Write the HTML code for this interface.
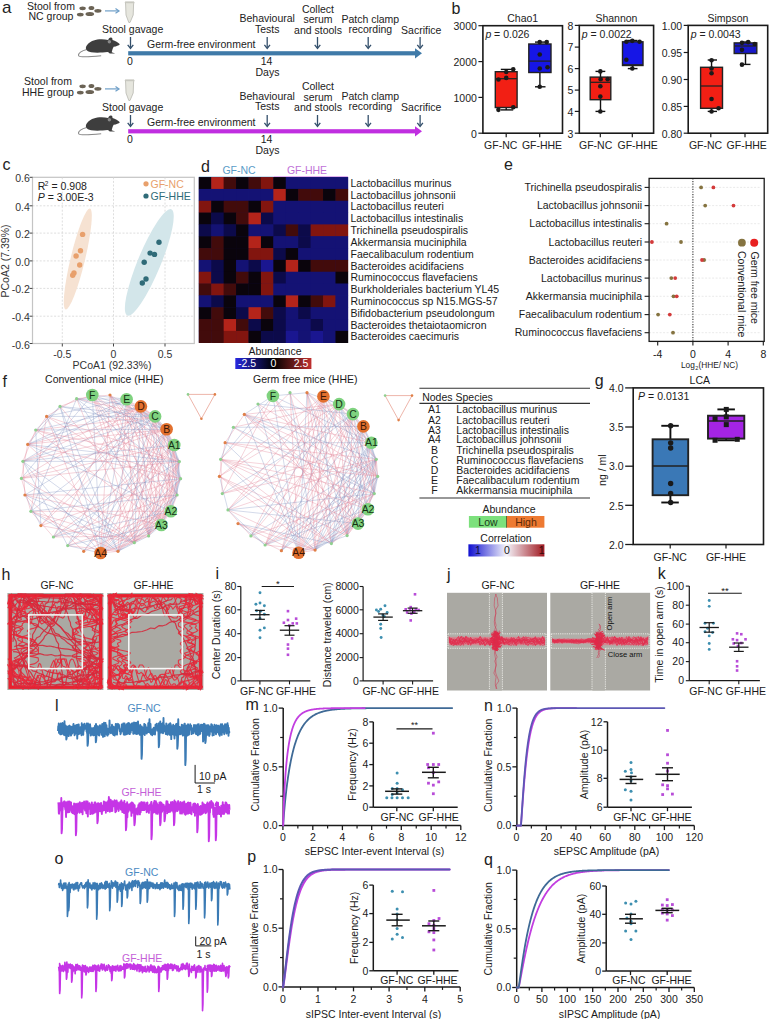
<!DOCTYPE html>
<html><head><meta charset="utf-8"><style>
html,body{margin:0;padding:0;background:#fff;width:770px;height:1019px;overflow:hidden}
svg{display:block}
text{font-family:"Liberation Sans", sans-serif;white-space:pre}
</style></head><body>
<svg width="770" height="1019" viewBox="0 0 770 1019">
<rect width="770" height="1019" fill="#fff"/>
<text x="2.00" y="13.00" font-size="17" text-anchor="start" fill="#222" >a</text><text x="51.00" y="9.50" font-size="10.5" text-anchor="middle" fill="#222" >Stool from</text><text x="51.00" y="20.00" font-size="10.5" text-anchor="middle" fill="#222" >NC group</text><ellipse cx="82.60" cy="8.30" rx="3.2" ry="1.9" fill="#6b6355"/><ellipse cx="91.40" cy="8.00" rx="2.9" ry="2.0" fill="#6b6355"/><ellipse cx="97.90" cy="10.80" rx="3.6" ry="1.9" fill="#6b6355"/><ellipse cx="80.30" cy="14.60" rx="3.4" ry="1.9" fill="#6b6355"/><ellipse cx="89.80" cy="14.10" rx="4.3" ry="2.0" fill="#6b6355"/><line x1="105.00" y1="10.90" x2="118.00" y2="10.90" stroke="#6f9fc8" stroke-width="1.2" /><path d="M 115.5,8.6 L 119,10.9 L 115.5,13.2" fill="none" stroke="#6f9fc8" stroke-width="1.2" /><g transform="translate(0,0)"><path d="M 125.2,2 L 134,2 L 133.6,4 L 133.2,15 L 130,22.5 L 128.8,22.5 L 126,15 L 125.6,4 Z" fill="#e6e6de" stroke="#b8b8b0" stroke-width="0.8" /><line x1="125.00" y1="2.50" x2="134.20" y2="2.50" stroke="#c8c8c0" stroke-width="1.5" /></g><text x="102.00" y="33.00" font-size="10.5" text-anchor="start" fill="#222" >Stool gavage</text><g transform="translate(70,30) scale(0.07794)"><path d="M 215,250 C 150,265 100,300 110,330 C 125,355 250,345 400,330" fill="none" stroke="#8a8a8a" stroke-width="14" /><path d="M 205,245 C 195,200 250,140 350,122 C 400,114 450,118 490,128 C 495,105 515,92 535,100 C 548,108 545,122 545,128 C 580,140 620,160 640,182 C 625,200 595,208 560,215 C 545,240 540,270 535,285 L 580,300 L 510,302 C 500,290 495,285 480,282 C 420,290 330,295 270,285 C 240,280 215,270 205,245 Z" fill="#3e3e3e" stroke="none" stroke-width="1" /><circle cx="505.00" cy="150.00" r="22.00" fill="#8a8a8a" /></g><line x1="130.50" y1="37.00" x2="130.50" y2="47.50" stroke="#34506c" stroke-width="1.3" /><path d="M 127.70,44.90 L 130.50,48.50 L 133.30,44.90" fill="none" stroke="#34506c" stroke-width="1.3" stroke-linejoin="miter"/><text x="147.00" y="47.50" font-size="10.5" text-anchor="start" fill="#222" >Germ-free environment</text><rect x="128.20" y="51.20" width="288.00" height="4.20" fill="#3f7aa8" stroke="none" stroke-width="1" /><path d="M 415,48.2 L 422,53.3 L 415,58.4 Z" fill="#3f7aa8" stroke="none" stroke-width="1" /><text x="127.00" y="65.00" font-size="10.5" text-anchor="start" fill="#222" >0</text><text x="266.50" y="65.00" font-size="10.5" text-anchor="middle" fill="#222" >14</text><text x="267.50" y="75.50" font-size="10.5" text-anchor="middle" fill="#222" >Days</text><text x="267.20" y="22.30" font-size="10.5" text-anchor="middle" fill="#222" >Behavioural</text><text x="267.20" y="32.80" font-size="10.5" text-anchor="middle" fill="#222" >Tests</text><text x="318.00" y="12.80" font-size="10.5" text-anchor="middle" fill="#222" >Collect</text><text x="318.00" y="23.30" font-size="10.5" text-anchor="middle" fill="#222" >serum</text><text x="318.00" y="33.80" font-size="10.5" text-anchor="middle" fill="#222" >and stools</text><text x="370.30" y="22.60" font-size="10.5" text-anchor="middle" fill="#222" >Patch clamp</text><text x="370.30" y="33.10" font-size="10.5" text-anchor="middle" fill="#222" >recording</text><text x="421.20" y="33.80" font-size="10.5" text-anchor="middle" fill="#222" >Sacrifice</text><line x1="267.20" y1="37.00" x2="267.20" y2="47.50" stroke="#34506c" stroke-width="1.3" /><path d="M 264.40,44.90 L 267.20,48.50 L 270.00,44.90" fill="none" stroke="#34506c" stroke-width="1.3" stroke-linejoin="miter"/><line x1="317.50" y1="37.00" x2="317.50" y2="47.50" stroke="#34506c" stroke-width="1.3" /><path d="M 314.70,44.90 L 317.50,48.50 L 320.30,44.90" fill="none" stroke="#34506c" stroke-width="1.3" stroke-linejoin="miter"/><line x1="368.20" y1="37.00" x2="368.20" y2="47.50" stroke="#34506c" stroke-width="1.3" /><path d="M 365.40,44.90 L 368.20,48.50 L 371.00,44.90" fill="none" stroke="#34506c" stroke-width="1.3" stroke-linejoin="miter"/><line x1="420.10" y1="37.00" x2="420.10" y2="47.50" stroke="#34506c" stroke-width="1.3" /><path d="M 417.30,44.90 L 420.10,48.50 L 422.90,44.90" fill="none" stroke="#34506c" stroke-width="1.3" stroke-linejoin="miter"/><text x="48.00" y="85.10" font-size="10.5" text-anchor="middle" fill="#222" >Stool from</text><text x="48.00" y="96.30" font-size="10.5" text-anchor="middle" fill="#222" >HHE group</text><ellipse cx="82.60" cy="86.30" rx="3.2" ry="1.9" fill="#6b6355"/><ellipse cx="91.40" cy="86.00" rx="2.9" ry="2.0" fill="#6b6355"/><ellipse cx="97.90" cy="88.80" rx="3.6" ry="1.9" fill="#6b6355"/><ellipse cx="80.30" cy="92.60" rx="3.4" ry="1.9" fill="#6b6355"/><ellipse cx="89.80" cy="92.10" rx="4.3" ry="2.0" fill="#6b6355"/><line x1="105.00" y1="88.90" x2="118.00" y2="88.90" stroke="#6f9fc8" stroke-width="1.2" /><path d="M 115.5,86.6 L 119,88.9 L 115.5,91.2" fill="none" stroke="#6f9fc8" stroke-width="1.2" /><g transform="translate(0,78)"><path d="M 125.2,2 L 134,2 L 133.6,4 L 133.2,15 L 130,22.5 L 128.8,22.5 L 126,15 L 125.6,4 Z" fill="#e6e6de" stroke="#b8b8b0" stroke-width="0.8" /><line x1="125.00" y1="2.50" x2="134.20" y2="2.50" stroke="#c8c8c0" stroke-width="1.5" /></g><text x="102.00" y="111.00" font-size="10.5" text-anchor="start" fill="#222" >Stool gavage</text><g transform="translate(70,108) scale(0.07794)"><path d="M 215,250 C 150,265 100,300 110,330 C 125,355 250,345 400,330" fill="none" stroke="#8a8a8a" stroke-width="14" /><path d="M 205,245 C 195,200 250,140 350,122 C 400,114 450,118 490,128 C 495,105 515,92 535,100 C 548,108 545,122 545,128 C 580,140 620,160 640,182 C 625,200 595,208 560,215 C 545,240 540,270 535,285 L 580,300 L 510,302 C 500,290 495,285 480,282 C 420,290 330,295 270,285 C 240,280 215,270 205,245 Z" fill="#3e3e3e" stroke="none" stroke-width="1" /><circle cx="505.00" cy="150.00" r="22.00" fill="#8a8a8a" /></g><line x1="130.50" y1="115.00" x2="130.50" y2="125.50" stroke="#34506c" stroke-width="1.3" /><path d="M 127.70,122.90 L 130.50,126.50 L 133.30,122.90" fill="none" stroke="#34506c" stroke-width="1.3" stroke-linejoin="miter"/><text x="147.00" y="125.50" font-size="10.5" text-anchor="start" fill="#222" >Germ-free environment</text><rect x="128.20" y="129.20" width="288.00" height="4.20" fill="#c02ee0" stroke="none" stroke-width="1" /><path d="M 415,126.2 L 422,131.3 L 415,136.4 Z" fill="#c02ee0" stroke="none" stroke-width="1" /><text x="127.00" y="143.00" font-size="10.5" text-anchor="start" fill="#222" >0</text><text x="266.50" y="143.00" font-size="10.5" text-anchor="middle" fill="#222" >14</text><text x="267.50" y="153.50" font-size="10.5" text-anchor="middle" fill="#222" >Days</text><text x="267.20" y="99.50" font-size="10.5" text-anchor="middle" fill="#222" >Behavioural</text><text x="267.20" y="110.00" font-size="10.5" text-anchor="middle" fill="#222" >Tests</text><text x="318.00" y="90.00" font-size="10.5" text-anchor="middle" fill="#222" >Collect</text><text x="318.00" y="100.50" font-size="10.5" text-anchor="middle" fill="#222" >serum</text><text x="318.00" y="111.00" font-size="10.5" text-anchor="middle" fill="#222" >and stools</text><text x="370.30" y="99.80" font-size="10.5" text-anchor="middle" fill="#222" >Patch clamp</text><text x="370.30" y="110.30" font-size="10.5" text-anchor="middle" fill="#222" >recording</text><text x="421.20" y="111.00" font-size="10.5" text-anchor="middle" fill="#222" >Sacrifice</text><line x1="267.20" y1="115.00" x2="267.20" y2="125.50" stroke="#34506c" stroke-width="1.3" /><path d="M 264.40,122.90 L 267.20,126.50 L 270.00,122.90" fill="none" stroke="#34506c" stroke-width="1.3" stroke-linejoin="miter"/><line x1="317.50" y1="115.00" x2="317.50" y2="125.50" stroke="#34506c" stroke-width="1.3" /><path d="M 314.70,122.90 L 317.50,126.50 L 320.30,122.90" fill="none" stroke="#34506c" stroke-width="1.3" stroke-linejoin="miter"/><line x1="368.20" y1="115.00" x2="368.20" y2="125.50" stroke="#34506c" stroke-width="1.3" /><path d="M 365.40,122.90 L 368.20,126.50 L 371.00,122.90" fill="none" stroke="#34506c" stroke-width="1.3" stroke-linejoin="miter"/><line x1="420.10" y1="115.00" x2="420.10" y2="125.50" stroke="#34506c" stroke-width="1.3" /><path d="M 417.30,122.90 L 420.10,126.50 L 422.90,122.90" fill="none" stroke="#34506c" stroke-width="1.3" stroke-linejoin="miter"/>
<text x="451.50" y="14.00" font-size="16" text-anchor="start" fill="#222" >b</text><rect x="482.90" y="25.70" width="79.60" height="107.50" fill="none" stroke="#1a1a1a" stroke-width="1.6" /><line x1="478.40" y1="25.70" x2="482.90" y2="25.70" stroke="#1a1a1a" stroke-width="1.2" /><text x="476.90" y="30.00" font-size="10.5" text-anchor="end" fill="#222" >3000</text><line x1="478.40" y1="61.60" x2="482.90" y2="61.60" stroke="#1a1a1a" stroke-width="1.2" /><text x="476.90" y="65.90" font-size="10.5" text-anchor="end" fill="#222" >2000</text><line x1="478.40" y1="97.40" x2="482.90" y2="97.40" stroke="#1a1a1a" stroke-width="1.2" /><text x="476.90" y="101.70" font-size="10.5" text-anchor="end" fill="#222" >1000</text><line x1="478.40" y1="133.20" x2="482.90" y2="133.20" stroke="#1a1a1a" stroke-width="1.2" /><text x="476.90" y="137.50" font-size="10.5" text-anchor="end" fill="#222" >0</text><line x1="506.20" y1="133.20" x2="506.20" y2="137.20" stroke="#1a1a1a" stroke-width="1.2" /><line x1="539.70" y1="133.20" x2="539.70" y2="137.20" stroke="#1a1a1a" stroke-width="1.2" /><text x="500.70" y="148.80" font-size="10.5" text-anchor="middle" fill="#222" >GF-NC</text><text x="542.00" y="148.80" font-size="10.5" text-anchor="middle" fill="#222" >GF-HHE</text><text x="522.70" y="22.00" font-size="10.5" text-anchor="middle" fill="#222" >Chao1</text><text x="485.40" y="38.00" font-size="10.5" text-anchor="start" fill="#222" font-style="italic">p</text><text x="491.20" y="38.00" font-size="10.5" text-anchor="start" fill="#222" > = 0.026</text><line x1="506.20" y1="69.40" x2="506.20" y2="71.70" stroke="#111" stroke-width="1.4" /><line x1="506.20" y1="107.50" x2="506.20" y2="109.90" stroke="#111" stroke-width="1.4" /><line x1="500.80" y1="69.40" x2="513.20" y2="69.40" stroke="#111" stroke-width="1.4" /><line x1="500.80" y1="109.90" x2="513.20" y2="109.90" stroke="#111" stroke-width="1.4" /><rect x="495.30" y="71.70" width="21.80" height="35.80" fill="#f21f14" stroke="#222" stroke-width="1.4" /><line x1="495.30" y1="78.70" x2="517.10" y2="78.70" stroke="#222" stroke-width="1.26" /><circle cx="498.44" cy="79.48" r="2.30" fill="#1a1a1a" /><circle cx="506.23" cy="77.92" r="2.30" fill="#1a1a1a" /><circle cx="506.23" cy="72.00" r="2.30" fill="#1a1a1a" /><circle cx="513.25" cy="69.35" r="2.30" fill="#1a1a1a" /><circle cx="513.25" cy="107.22" r="2.30" fill="#1a1a1a" /><circle cx="498.44" cy="109.87" r="2.30" fill="#1a1a1a" /><line x1="539.90" y1="42.10" x2="539.90" y2="44.00" stroke="#111" stroke-width="1.4" /><line x1="539.90" y1="72.50" x2="539.90" y2="86.80" stroke="#111" stroke-width="1.4" /><line x1="535.00" y1="42.10" x2="545.50" y2="42.10" stroke="#111" stroke-width="1.4" /><line x1="535.00" y1="86.80" x2="545.50" y2="86.80" stroke="#111" stroke-width="1.4" /><rect x="528.80" y="44.00" width="22.20" height="28.50" fill="#1616e6" stroke="#222" stroke-width="1.4" /><line x1="528.80" y1="61.10" x2="551.00" y2="61.10" stroke="#222" stroke-width="1.26" /><circle cx="539.74" cy="42.08" r="2.30" fill="#1a1a1a" /><circle cx="546.75" cy="42.08" r="2.30" fill="#1a1a1a" /><circle cx="539.74" cy="54.55" r="2.30" fill="#1a1a1a" /><circle cx="539.74" cy="68.57" r="2.30" fill="#1a1a1a" /><circle cx="547.53" cy="67.32" r="2.30" fill="#1a1a1a" /><circle cx="539.74" cy="86.80" r="2.30" fill="#1a1a1a" /><rect x="579.30" y="25.40" width="74.30" height="107.80" fill="none" stroke="#1a1a1a" stroke-width="1.6" /><line x1="574.80" y1="25.40" x2="579.30" y2="25.40" stroke="#1a1a1a" stroke-width="1.2" /><text x="573.30" y="29.70" font-size="10.5" text-anchor="end" fill="#222" >8</text><line x1="574.80" y1="47.10" x2="579.30" y2="47.10" stroke="#1a1a1a" stroke-width="1.2" /><text x="573.30" y="51.40" font-size="10.5" text-anchor="end" fill="#222" >7</text><line x1="574.80" y1="68.60" x2="579.30" y2="68.60" stroke="#1a1a1a" stroke-width="1.2" /><text x="573.30" y="72.90" font-size="10.5" text-anchor="end" fill="#222" >6</text><line x1="574.80" y1="90.10" x2="579.30" y2="90.10" stroke="#1a1a1a" stroke-width="1.2" /><text x="573.30" y="94.40" font-size="10.5" text-anchor="end" fill="#222" >5</text><line x1="574.80" y1="111.40" x2="579.30" y2="111.40" stroke="#1a1a1a" stroke-width="1.2" /><text x="573.30" y="115.70" font-size="10.5" text-anchor="end" fill="#222" >4</text><line x1="574.80" y1="133.20" x2="579.30" y2="133.20" stroke="#1a1a1a" stroke-width="1.2" /><text x="573.30" y="137.50" font-size="10.5" text-anchor="end" fill="#222" >3</text><line x1="600.30" y1="133.20" x2="600.30" y2="137.20" stroke="#1a1a1a" stroke-width="1.2" /><line x1="632.30" y1="133.20" x2="632.30" y2="137.20" stroke="#1a1a1a" stroke-width="1.2" /><text x="595.60" y="148.80" font-size="10.5" text-anchor="middle" fill="#222" >GF-NC</text><text x="637.60" y="148.80" font-size="10.5" text-anchor="middle" fill="#222" >GF-HHE</text><text x="616.45" y="22.00" font-size="10.5" text-anchor="middle" fill="#222" >Shannon</text><text x="581.80" y="38.00" font-size="10.5" text-anchor="start" fill="#222" font-style="italic">p</text><text x="587.60" y="38.00" font-size="10.5" text-anchor="start" fill="#222" > = 0.0022</text><line x1="600.50" y1="71.40" x2="600.50" y2="77.10" stroke="#111" stroke-width="1.4" /><line x1="600.50" y1="99.70" x2="600.50" y2="111.40" stroke="#111" stroke-width="1.4" /><line x1="595.50" y1="71.40" x2="605.30" y2="71.40" stroke="#111" stroke-width="1.4" /><line x1="595.50" y1="111.40" x2="605.30" y2="111.40" stroke="#111" stroke-width="1.4" /><rect x="590.20" y="77.10" width="20.60" height="22.60" fill="#f21f14" stroke="#222" stroke-width="1.4" /><line x1="590.20" y1="82.30" x2="610.80" y2="82.30" stroke="#222" stroke-width="1.26" /><circle cx="600.34" cy="71.38" r="2.30" fill="#1a1a1a" /><circle cx="600.65" cy="79.17" r="2.30" fill="#1a1a1a" /><circle cx="607.66" cy="79.17" r="2.30" fill="#1a1a1a" /><circle cx="600.34" cy="86.18" r="2.30" fill="#1a1a1a" /><circle cx="600.34" cy="96.62" r="2.30" fill="#1a1a1a" /><circle cx="600.34" cy="111.43" r="2.30" fill="#1a1a1a" /><line x1="632.75" y1="40.50" x2="632.75" y2="41.80" stroke="#111" stroke-width="1.4" /><line x1="632.75" y1="65.50" x2="632.75" y2="68.60" stroke="#111" stroke-width="1.4" /><line x1="627.80" y1="40.50" x2="637.50" y2="40.50" stroke="#111" stroke-width="1.4" /><line x1="627.80" y1="68.60" x2="637.50" y2="68.60" stroke="#111" stroke-width="1.4" /><rect x="622.50" y="41.80" width="20.50" height="23.70" fill="#1616e6" stroke="#222" stroke-width="1.4" /><line x1="622.50" y1="64.80" x2="643.00" y2="64.80" stroke="#222" stroke-width="1.26" /><circle cx="626.36" cy="41.77" r="2.30" fill="#1a1a1a" /><circle cx="632.29" cy="40.83" r="2.30" fill="#1a1a1a" /><circle cx="626.36" cy="59.69" r="2.30" fill="#1a1a1a" /><circle cx="632.29" cy="68.57" r="2.30" fill="#1a1a1a" /><circle cx="639.61" cy="41.77" r="2.30" fill="#1a1a1a" /><rect x="688.20" y="25.40" width="79.50" height="107.80" fill="none" stroke="#1a1a1a" stroke-width="1.6" /><line x1="683.70" y1="25.40" x2="688.20" y2="25.40" stroke="#1a1a1a" stroke-width="1.2" /><text x="682.20" y="29.70" font-size="10.5" text-anchor="end" fill="#222" >1.00</text><line x1="683.70" y1="52.50" x2="688.20" y2="52.50" stroke="#1a1a1a" stroke-width="1.2" /><text x="682.20" y="56.80" font-size="10.5" text-anchor="end" fill="#222" >0.95</text><line x1="683.70" y1="79.50" x2="688.20" y2="79.50" stroke="#1a1a1a" stroke-width="1.2" /><text x="682.20" y="83.80" font-size="10.5" text-anchor="end" fill="#222" >0.90</text><line x1="683.70" y1="106.40" x2="688.20" y2="106.40" stroke="#1a1a1a" stroke-width="1.2" /><text x="682.20" y="110.70" font-size="10.5" text-anchor="end" fill="#222" >0.85</text><line x1="683.70" y1="133.20" x2="688.20" y2="133.20" stroke="#1a1a1a" stroke-width="1.2" /><text x="682.20" y="137.50" font-size="10.5" text-anchor="end" fill="#222" >0.80</text><line x1="710.80" y1="133.20" x2="710.80" y2="137.20" stroke="#1a1a1a" stroke-width="1.2" /><line x1="745.00" y1="133.20" x2="745.00" y2="137.20" stroke="#1a1a1a" stroke-width="1.2" /><text x="705.50" y="148.80" font-size="10.5" text-anchor="middle" fill="#222" >GF-NC</text><text x="746.70" y="148.80" font-size="10.5" text-anchor="middle" fill="#222" >GF-HHE</text><text x="727.95" y="22.00" font-size="10.5" text-anchor="middle" fill="#222" >Simpson</text><text x="690.70" y="38.00" font-size="10.5" text-anchor="start" fill="#222" font-style="italic">p</text><text x="696.50" y="38.00" font-size="10.5" text-anchor="start" fill="#222" > = 0.0043</text><line x1="711.55" y1="60.00" x2="711.55" y2="67.30" stroke="#111" stroke-width="1.4" /><line x1="711.55" y1="108.30" x2="711.55" y2="111.40" stroke="#111" stroke-width="1.4" /><line x1="707.70" y1="60.00" x2="717.00" y2="60.00" stroke="#111" stroke-width="1.4" /><line x1="707.70" y1="111.40" x2="717.00" y2="111.40" stroke="#111" stroke-width="1.4" /><rect x="700.60" y="67.30" width="21.90" height="41.00" fill="#f21f14" stroke="#222" stroke-width="1.4" /><line x1="700.60" y1="86.00" x2="722.50" y2="86.00" stroke="#222" stroke-width="1.26" /><circle cx="711.56" cy="60.31" r="2.30" fill="#1a1a1a" /><circle cx="711.56" cy="68.57" r="2.30" fill="#1a1a1a" /><circle cx="711.56" cy="73.25" r="2.30" fill="#1a1a1a" /><circle cx="711.56" cy="98.96" r="2.30" fill="#1a1a1a" /><circle cx="718.57" cy="108.31" r="2.30" fill="#1a1a1a" /><circle cx="711.56" cy="111.43" r="2.30" fill="#1a1a1a" /><line x1="745.50" y1="42.00" x2="745.50" y2="42.90" stroke="#111" stroke-width="1.4" /><line x1="745.50" y1="53.50" x2="745.50" y2="64.40" stroke="#111" stroke-width="1.4" /><line x1="742.00" y1="42.00" x2="750.50" y2="42.00" stroke="#111" stroke-width="1.4" /><line x1="742.00" y1="64.40" x2="750.50" y2="64.40" stroke="#111" stroke-width="1.4" /><rect x="734.20" y="42.90" width="22.60" height="10.60" fill="#1818c8" stroke="#222" stroke-width="1.4" /><line x1="734.20" y1="46.00" x2="756.80" y2="46.00" stroke="#222" stroke-width="1.26" /><circle cx="741.95" cy="64.67" r="2.30" fill="#1a1a1a" /><circle cx="741.95" cy="49.87" r="2.30" fill="#1a1a1a" /><circle cx="748.18" cy="42.08" r="2.30" fill="#1a1a1a" /><circle cx="741.95" cy="42.86" r="2.30" fill="#1a1a1a" /><circle cx="754.73" cy="43.95" r="2.30" fill="#1a1a1a" />
<text x="2.50" y="169.50" font-size="16" text-anchor="start" fill="#222" >c</text><rect x="32.50" y="177.30" width="161.80" height="166.20" fill="#fff" stroke="#c4c4c4" stroke-width="1.2" /><line x1="32.50" y1="205.80" x2="194.30" y2="205.80" stroke="#d6d6d6" stroke-width="0.8" stroke-dasharray="2,1.6"/><line x1="32.50" y1="233.10" x2="194.30" y2="233.10" stroke="#d6d6d6" stroke-width="0.8" stroke-dasharray="2,1.6"/><line x1="32.50" y1="260.90" x2="194.30" y2="260.90" stroke="#d6d6d6" stroke-width="0.8" stroke-dasharray="2,1.6"/><line x1="32.50" y1="288.40" x2="194.30" y2="288.40" stroke="#d6d6d6" stroke-width="0.8" stroke-dasharray="2,1.6"/><line x1="32.50" y1="316.20" x2="194.30" y2="316.20" stroke="#d6d6d6" stroke-width="0.8" stroke-dasharray="2,1.6"/><line x1="62.30" y1="177.30" x2="62.30" y2="343.50" stroke="#d6d6d6" stroke-width="0.8" stroke-dasharray="2,1.6"/><line x1="113.50" y1="177.30" x2="113.50" y2="343.50" stroke="#d6d6d6" stroke-width="0.8" stroke-dasharray="2,1.6"/><line x1="165.00" y1="177.30" x2="165.00" y2="343.50" stroke="#d6d6d6" stroke-width="0.8" stroke-dasharray="2,1.6"/><line x1="29.50" y1="177.30" x2="32.50" y2="177.30" stroke="#444" stroke-width="1" /><text x="29.80" y="182.30" font-size="10.5" text-anchor="end" fill="#333" >0.6</text><line x1="29.50" y1="205.80" x2="32.50" y2="205.80" stroke="#444" stroke-width="1" /><text x="29.80" y="210.80" font-size="10.5" text-anchor="end" fill="#333" >0.4</text><line x1="29.50" y1="233.10" x2="32.50" y2="233.10" stroke="#444" stroke-width="1" /><text x="29.80" y="238.10" font-size="10.5" text-anchor="end" fill="#333" >0.2</text><line x1="29.50" y1="260.90" x2="32.50" y2="260.90" stroke="#444" stroke-width="1" /><text x="29.80" y="265.90" font-size="10.5" text-anchor="end" fill="#333" >0.0</text><line x1="29.50" y1="288.40" x2="32.50" y2="288.40" stroke="#444" stroke-width="1" /><text x="29.80" y="293.40" font-size="10.5" text-anchor="end" fill="#333" >-0.2</text><line x1="29.50" y1="316.20" x2="32.50" y2="316.20" stroke="#444" stroke-width="1" /><text x="29.80" y="321.20" font-size="10.5" text-anchor="end" fill="#333" >-0.4</text><line x1="29.50" y1="343.50" x2="32.50" y2="343.50" stroke="#444" stroke-width="1" /><text x="29.80" y="348.50" font-size="10.5" text-anchor="end" fill="#333" >-0.6</text><line x1="62.30" y1="343.50" x2="62.30" y2="346.50" stroke="#444" stroke-width="1" /><text x="62.30" y="357.50" font-size="10.5" text-anchor="middle" fill="#333" >-0.5</text><line x1="113.50" y1="343.50" x2="113.50" y2="346.50" stroke="#444" stroke-width="1" /><text x="113.50" y="357.50" font-size="10.5" text-anchor="middle" fill="#333" >0</text><line x1="165.00" y1="343.50" x2="165.00" y2="346.50" stroke="#444" stroke-width="1" /><text x="165.00" y="357.50" font-size="10.5" text-anchor="middle" fill="#333" >0.5</text><text x="112.00" y="369.00" font-size="10.5" text-anchor="middle" fill="#333" >PCoA1 (92.33%)</text><text transform="translate(9.00,261.00) rotate(-90)" font-size="10.5" text-anchor="middle" fill="#333">PCoA2 (7.39%)</text><ellipse cx="77.8" cy="259" rx="52" ry="7.2" transform="rotate(-76.5 77.8 259)" fill="#f6e2d2"/><ellipse cx="149.3" cy="262.4" rx="57.5" ry="11.5" transform="rotate(-67.5 149.3 262.4)" fill="#d3e6ea"/><circle cx="82.60" cy="234.40" r="2.70" fill="#e8a06c" /><circle cx="80.50" cy="250.80" r="2.70" fill="#e8a06c" /><circle cx="76.10" cy="256.00" r="2.70" fill="#e8a06c" /><circle cx="79.70" cy="265.00" r="2.70" fill="#e8a06c" /><circle cx="74.00" cy="272.90" r="2.70" fill="#e8a06c" /><circle cx="72.70" cy="275.20" r="2.70" fill="#e8a06c" /><circle cx="159.00" cy="242.20" r="2.70" fill="#2f6b78" /><circle cx="150.10" cy="253.10" r="2.70" fill="#2f6b78" /><circle cx="154.50" cy="254.40" r="2.70" fill="#2f6b78" /><circle cx="144.20" cy="262.20" r="2.70" fill="#2f6b78" /><circle cx="146.00" cy="279.00" r="2.70" fill="#2f6b78" /><circle cx="142.30" cy="283.00" r="2.70" fill="#2f6b78" /><text x="37.70" y="190.00" font-size="10.5" text-anchor="start" fill="#222" >R</text><text x="44.80" y="185.50" font-size="6.5" text-anchor="start" fill="#222" >2</text><text x="48.60" y="190.00" font-size="10.5" text-anchor="start" fill="#222" > = 0.908</text><text x="37.70" y="200.50" font-size="10.5" text-anchor="start" fill="#222" font-style="italic">P</text><text x="44.80" y="200.50" font-size="10.5" text-anchor="start" fill="#222" > = 3.00E-3</text><circle cx="146.00" cy="183.80" r="2.60" fill="#e8a06c" /><text x="150.50" y="187.80" font-size="10.5" text-anchor="start" fill="#e8a06c" >GF-NC</text><circle cx="146.00" cy="196.00" r="2.60" fill="#2f6b78" /><text x="150.50" y="200.00" font-size="10.5" text-anchor="start" fill="#2f6b78" >GF-HHE</text>
<text x="201.00" y="171.50" font-size="16" text-anchor="start" fill="#222" >d</text><rect x="198.80" y="177.10" width="149.10" height="165.60" fill="#1e1e86" stroke="none" stroke-width="1" /><rect x="198.80" y="177.10" width="12.72" height="12.13" fill="#0a040c" stroke="none" stroke-width="1" /><rect x="211.23" y="177.10" width="12.72" height="12.13" fill="#b4241a" stroke="none" stroke-width="1" /><rect x="223.65" y="177.10" width="12.72" height="12.13" fill="#420b0b" stroke="none" stroke-width="1" /><rect x="236.07" y="177.10" width="12.72" height="12.13" fill="#0a040c" stroke="none" stroke-width="1" /><rect x="248.50" y="177.10" width="12.72" height="12.13" fill="#420b0b" stroke="none" stroke-width="1" /><rect x="260.93" y="177.10" width="12.72" height="12.13" fill="#82150f" stroke="none" stroke-width="1" /><rect x="273.35" y="177.10" width="12.72" height="12.13" fill="#0a040c" stroke="none" stroke-width="1" /><rect x="285.77" y="177.10" width="12.72" height="12.13" fill="#141274" stroke="none" stroke-width="1" /><rect x="298.20" y="177.10" width="12.72" height="12.13" fill="#141274" stroke="none" stroke-width="1" /><rect x="310.62" y="177.10" width="12.72" height="12.13" fill="#141274" stroke="none" stroke-width="1" /><rect x="323.05" y="177.10" width="12.72" height="12.13" fill="#141274" stroke="none" stroke-width="1" /><rect x="335.47" y="177.10" width="12.72" height="12.13" fill="#141274" stroke="none" stroke-width="1" /><rect x="198.80" y="188.93" width="12.72" height="12.13" fill="#141274" stroke="none" stroke-width="1" /><rect x="211.23" y="188.93" width="12.72" height="12.13" fill="#141274" stroke="none" stroke-width="1" /><rect x="223.65" y="188.93" width="12.72" height="12.13" fill="#141274" stroke="none" stroke-width="1" /><rect x="236.07" y="188.93" width="12.72" height="12.13" fill="#141274" stroke="none" stroke-width="1" /><rect x="248.50" y="188.93" width="12.72" height="12.13" fill="#141274" stroke="none" stroke-width="1" /><rect x="260.93" y="188.93" width="12.72" height="12.13" fill="#141274" stroke="none" stroke-width="1" /><rect x="273.35" y="188.93" width="12.72" height="12.13" fill="#b4241a" stroke="none" stroke-width="1" /><rect x="285.77" y="188.93" width="12.72" height="12.13" fill="#0a040c" stroke="none" stroke-width="1" /><rect x="298.20" y="188.93" width="12.72" height="12.13" fill="#420b0b" stroke="none" stroke-width="1" /><rect x="310.62" y="188.93" width="12.72" height="12.13" fill="#420b0b" stroke="none" stroke-width="1" /><rect x="323.05" y="188.93" width="12.72" height="12.13" fill="#0a040c" stroke="none" stroke-width="1" /><rect x="335.47" y="188.93" width="12.72" height="12.13" fill="#420b0b" stroke="none" stroke-width="1" /><rect x="198.80" y="200.76" width="12.72" height="12.13" fill="#82150f" stroke="none" stroke-width="1" /><rect x="211.23" y="200.76" width="12.72" height="12.13" fill="#0a040c" stroke="none" stroke-width="1" /><rect x="223.65" y="200.76" width="12.72" height="12.13" fill="#420b0b" stroke="none" stroke-width="1" /><rect x="236.07" y="200.76" width="12.72" height="12.13" fill="#420b0b" stroke="none" stroke-width="1" /><rect x="248.50" y="200.76" width="12.72" height="12.13" fill="#0a040c" stroke="none" stroke-width="1" /><rect x="260.93" y="200.76" width="12.72" height="12.13" fill="#82150f" stroke="none" stroke-width="1" /><rect x="273.35" y="200.76" width="12.72" height="12.13" fill="#141274" stroke="none" stroke-width="1" /><rect x="285.77" y="200.76" width="12.72" height="12.13" fill="#141274" stroke="none" stroke-width="1" /><rect x="298.20" y="200.76" width="12.72" height="12.13" fill="#141274" stroke="none" stroke-width="1" /><rect x="310.62" y="200.76" width="12.72" height="12.13" fill="#141274" stroke="none" stroke-width="1" /><rect x="323.05" y="200.76" width="12.72" height="12.13" fill="#141274" stroke="none" stroke-width="1" /><rect x="335.47" y="200.76" width="12.72" height="12.13" fill="#141274" stroke="none" stroke-width="1" /><rect x="198.80" y="212.59" width="12.72" height="12.13" fill="#0a040c" stroke="none" stroke-width="1" /><rect x="211.23" y="212.59" width="12.72" height="12.13" fill="#0c0a4a" stroke="none" stroke-width="1" /><rect x="223.65" y="212.59" width="12.72" height="12.13" fill="#0a040c" stroke="none" stroke-width="1" /><rect x="236.07" y="212.59" width="12.72" height="12.13" fill="#420b0b" stroke="none" stroke-width="1" /><rect x="248.50" y="212.59" width="12.72" height="12.13" fill="#b4241a" stroke="none" stroke-width="1" /><rect x="260.93" y="212.59" width="12.72" height="12.13" fill="#0c0a4a" stroke="none" stroke-width="1" /><rect x="273.35" y="212.59" width="12.72" height="12.13" fill="#141274" stroke="none" stroke-width="1" /><rect x="285.77" y="212.59" width="12.72" height="12.13" fill="#141274" stroke="none" stroke-width="1" /><rect x="298.20" y="212.59" width="12.72" height="12.13" fill="#141274" stroke="none" stroke-width="1" /><rect x="310.62" y="212.59" width="12.72" height="12.13" fill="#141274" stroke="none" stroke-width="1" /><rect x="323.05" y="212.59" width="12.72" height="12.13" fill="#141274" stroke="none" stroke-width="1" /><rect x="335.47" y="212.59" width="12.72" height="12.13" fill="#141274" stroke="none" stroke-width="1" /><rect x="198.80" y="224.41" width="12.72" height="12.13" fill="#0c0a4a" stroke="none" stroke-width="1" /><rect x="211.23" y="224.41" width="12.72" height="12.13" fill="#141274" stroke="none" stroke-width="1" /><rect x="223.65" y="224.41" width="12.72" height="12.13" fill="#0c0a4a" stroke="none" stroke-width="1" /><rect x="236.07" y="224.41" width="12.72" height="12.13" fill="#0a040c" stroke="none" stroke-width="1" /><rect x="248.50" y="224.41" width="12.72" height="12.13" fill="#141274" stroke="none" stroke-width="1" /><rect x="260.93" y="224.41" width="12.72" height="12.13" fill="#141274" stroke="none" stroke-width="1" /><rect x="273.35" y="224.41" width="12.72" height="12.13" fill="#0c0a4a" stroke="none" stroke-width="1" /><rect x="285.77" y="224.41" width="12.72" height="12.13" fill="#420b0b" stroke="none" stroke-width="1" /><rect x="298.20" y="224.41" width="12.72" height="12.13" fill="#0c0a4a" stroke="none" stroke-width="1" /><rect x="310.62" y="224.41" width="12.72" height="12.13" fill="#82150f" stroke="none" stroke-width="1" /><rect x="323.05" y="224.41" width="12.72" height="12.13" fill="#82150f" stroke="none" stroke-width="1" /><rect x="335.47" y="224.41" width="12.72" height="12.13" fill="#82150f" stroke="none" stroke-width="1" /><rect x="198.80" y="236.24" width="12.72" height="12.13" fill="#0a040c" stroke="none" stroke-width="1" /><rect x="211.23" y="236.24" width="12.72" height="12.13" fill="#420b0b" stroke="none" stroke-width="1" /><rect x="223.65" y="236.24" width="12.72" height="12.13" fill="#0a040c" stroke="none" stroke-width="1" /><rect x="236.07" y="236.24" width="12.72" height="12.13" fill="#0a040c" stroke="none" stroke-width="1" /><rect x="248.50" y="236.24" width="12.72" height="12.13" fill="#b4241a" stroke="none" stroke-width="1" /><rect x="260.93" y="236.24" width="12.72" height="12.13" fill="#0a040c" stroke="none" stroke-width="1" /><rect x="273.35" y="236.24" width="12.72" height="12.13" fill="#141274" stroke="none" stroke-width="1" /><rect x="285.77" y="236.24" width="12.72" height="12.13" fill="#141274" stroke="none" stroke-width="1" /><rect x="298.20" y="236.24" width="12.72" height="12.13" fill="#0c0a4a" stroke="none" stroke-width="1" /><rect x="310.62" y="236.24" width="12.72" height="12.13" fill="#141274" stroke="none" stroke-width="1" /><rect x="323.05" y="236.24" width="12.72" height="12.13" fill="#141274" stroke="none" stroke-width="1" /><rect x="335.47" y="236.24" width="12.72" height="12.13" fill="#141274" stroke="none" stroke-width="1" /><rect x="198.80" y="248.07" width="12.72" height="12.13" fill="#420b0b" stroke="none" stroke-width="1" /><rect x="211.23" y="248.07" width="12.72" height="12.13" fill="#420b0b" stroke="none" stroke-width="1" /><rect x="223.65" y="248.07" width="12.72" height="12.13" fill="#0a040c" stroke="none" stroke-width="1" /><rect x="236.07" y="248.07" width="12.72" height="12.13" fill="#0a040c" stroke="none" stroke-width="1" /><rect x="248.50" y="248.07" width="12.72" height="12.13" fill="#82150f" stroke="none" stroke-width="1" /><rect x="260.93" y="248.07" width="12.72" height="12.13" fill="#82150f" stroke="none" stroke-width="1" /><rect x="273.35" y="248.07" width="12.72" height="12.13" fill="#0c0a4a" stroke="none" stroke-width="1" /><rect x="285.77" y="248.07" width="12.72" height="12.13" fill="#0a040c" stroke="none" stroke-width="1" /><rect x="298.20" y="248.07" width="12.72" height="12.13" fill="#141274" stroke="none" stroke-width="1" /><rect x="310.62" y="248.07" width="12.72" height="12.13" fill="#141274" stroke="none" stroke-width="1" /><rect x="323.05" y="248.07" width="12.72" height="12.13" fill="#141274" stroke="none" stroke-width="1" /><rect x="335.47" y="248.07" width="12.72" height="12.13" fill="#141274" stroke="none" stroke-width="1" /><rect x="198.80" y="259.90" width="12.72" height="12.13" fill="#141274" stroke="none" stroke-width="1" /><rect x="211.23" y="259.90" width="12.72" height="12.13" fill="#0c0a4a" stroke="none" stroke-width="1" /><rect x="223.65" y="259.90" width="12.72" height="12.13" fill="#0a040c" stroke="none" stroke-width="1" /><rect x="236.07" y="259.90" width="12.72" height="12.13" fill="#141274" stroke="none" stroke-width="1" /><rect x="248.50" y="259.90" width="12.72" height="12.13" fill="#0c0a4a" stroke="none" stroke-width="1" /><rect x="260.93" y="259.90" width="12.72" height="12.13" fill="#1a1690" stroke="none" stroke-width="1" /><rect x="273.35" y="259.90" width="12.72" height="12.13" fill="#0a040c" stroke="none" stroke-width="1" /><rect x="285.77" y="259.90" width="12.72" height="12.13" fill="#b4241a" stroke="none" stroke-width="1" /><rect x="298.20" y="259.90" width="12.72" height="12.13" fill="#0a040c" stroke="none" stroke-width="1" /><rect x="310.62" y="259.90" width="12.72" height="12.13" fill="#420b0b" stroke="none" stroke-width="1" /><rect x="323.05" y="259.90" width="12.72" height="12.13" fill="#420b0b" stroke="none" stroke-width="1" /><rect x="335.47" y="259.90" width="12.72" height="12.13" fill="#420b0b" stroke="none" stroke-width="1" /><rect x="198.80" y="271.73" width="12.72" height="12.13" fill="#82150f" stroke="none" stroke-width="1" /><rect x="211.23" y="271.73" width="12.72" height="12.13" fill="#0c0a4a" stroke="none" stroke-width="1" /><rect x="223.65" y="271.73" width="12.72" height="12.13" fill="#0a040c" stroke="none" stroke-width="1" /><rect x="236.07" y="271.73" width="12.72" height="12.13" fill="#420b0b" stroke="none" stroke-width="1" /><rect x="248.50" y="271.73" width="12.72" height="12.13" fill="#0a040c" stroke="none" stroke-width="1" /><rect x="260.93" y="271.73" width="12.72" height="12.13" fill="#82150f" stroke="none" stroke-width="1" /><rect x="273.35" y="271.73" width="12.72" height="12.13" fill="#0c0a4a" stroke="none" stroke-width="1" /><rect x="285.77" y="271.73" width="12.72" height="12.13" fill="#141274" stroke="none" stroke-width="1" /><rect x="298.20" y="271.73" width="12.72" height="12.13" fill="#141274" stroke="none" stroke-width="1" /><rect x="310.62" y="271.73" width="12.72" height="12.13" fill="#141274" stroke="none" stroke-width="1" /><rect x="323.05" y="271.73" width="12.72" height="12.13" fill="#141274" stroke="none" stroke-width="1" /><rect x="335.47" y="271.73" width="12.72" height="12.13" fill="#0a040c" stroke="none" stroke-width="1" /><rect x="198.80" y="283.56" width="12.72" height="12.13" fill="#420b0b" stroke="none" stroke-width="1" /><rect x="211.23" y="283.56" width="12.72" height="12.13" fill="#82150f" stroke="none" stroke-width="1" /><rect x="223.65" y="283.56" width="12.72" height="12.13" fill="#420b0b" stroke="none" stroke-width="1" /><rect x="236.07" y="283.56" width="12.72" height="12.13" fill="#0a040c" stroke="none" stroke-width="1" /><rect x="248.50" y="283.56" width="12.72" height="12.13" fill="#0a040c" stroke="none" stroke-width="1" /><rect x="260.93" y="283.56" width="12.72" height="12.13" fill="#82150f" stroke="none" stroke-width="1" /><rect x="273.35" y="283.56" width="12.72" height="12.13" fill="#141274" stroke="none" stroke-width="1" /><rect x="285.77" y="283.56" width="12.72" height="12.13" fill="#141274" stroke="none" stroke-width="1" /><rect x="298.20" y="283.56" width="12.72" height="12.13" fill="#141274" stroke="none" stroke-width="1" /><rect x="310.62" y="283.56" width="12.72" height="12.13" fill="#141274" stroke="none" stroke-width="1" /><rect x="323.05" y="283.56" width="12.72" height="12.13" fill="#141274" stroke="none" stroke-width="1" /><rect x="335.47" y="283.56" width="12.72" height="12.13" fill="#141274" stroke="none" stroke-width="1" /><rect x="198.80" y="295.39" width="12.72" height="12.13" fill="#141274" stroke="none" stroke-width="1" /><rect x="211.23" y="295.39" width="12.72" height="12.13" fill="#0c0a4a" stroke="none" stroke-width="1" /><rect x="223.65" y="295.39" width="12.72" height="12.13" fill="#0a040c" stroke="none" stroke-width="1" /><rect x="236.07" y="295.39" width="12.72" height="12.13" fill="#141274" stroke="none" stroke-width="1" /><rect x="248.50" y="295.39" width="12.72" height="12.13" fill="#141274" stroke="none" stroke-width="1" /><rect x="260.93" y="295.39" width="12.72" height="12.13" fill="#141274" stroke="none" stroke-width="1" /><rect x="273.35" y="295.39" width="12.72" height="12.13" fill="#0a040c" stroke="none" stroke-width="1" /><rect x="285.77" y="295.39" width="12.72" height="12.13" fill="#b4241a" stroke="none" stroke-width="1" /><rect x="298.20" y="295.39" width="12.72" height="12.13" fill="#0a040c" stroke="none" stroke-width="1" /><rect x="310.62" y="295.39" width="12.72" height="12.13" fill="#420b0b" stroke="none" stroke-width="1" /><rect x="323.05" y="295.39" width="12.72" height="12.13" fill="#82150f" stroke="none" stroke-width="1" /><rect x="335.47" y="295.39" width="12.72" height="12.13" fill="#141274" stroke="none" stroke-width="1" /><rect x="198.80" y="307.21" width="12.72" height="12.13" fill="#0a040c" stroke="none" stroke-width="1" /><rect x="211.23" y="307.21" width="12.72" height="12.13" fill="#420b0b" stroke="none" stroke-width="1" /><rect x="223.65" y="307.21" width="12.72" height="12.13" fill="#0a040c" stroke="none" stroke-width="1" /><rect x="236.07" y="307.21" width="12.72" height="12.13" fill="#0c0a4a" stroke="none" stroke-width="1" /><rect x="248.50" y="307.21" width="12.72" height="12.13" fill="#b4241a" stroke="none" stroke-width="1" /><rect x="260.93" y="307.21" width="12.72" height="12.13" fill="#420b0b" stroke="none" stroke-width="1" /><rect x="273.35" y="307.21" width="12.72" height="12.13" fill="#0c0a4a" stroke="none" stroke-width="1" /><rect x="285.77" y="307.21" width="12.72" height="12.13" fill="#141274" stroke="none" stroke-width="1" /><rect x="298.20" y="307.21" width="12.72" height="12.13" fill="#0c0a4a" stroke="none" stroke-width="1" /><rect x="310.62" y="307.21" width="12.72" height="12.13" fill="#141274" stroke="none" stroke-width="1" /><rect x="323.05" y="307.21" width="12.72" height="12.13" fill="#141274" stroke="none" stroke-width="1" /><rect x="335.47" y="307.21" width="12.72" height="12.13" fill="#141274" stroke="none" stroke-width="1" /><rect x="198.80" y="319.04" width="12.72" height="12.13" fill="#420b0b" stroke="none" stroke-width="1" /><rect x="211.23" y="319.04" width="12.72" height="12.13" fill="#420b0b" stroke="none" stroke-width="1" /><rect x="223.65" y="319.04" width="12.72" height="12.13" fill="#b4241a" stroke="none" stroke-width="1" /><rect x="236.07" y="319.04" width="12.72" height="12.13" fill="#420b0b" stroke="none" stroke-width="1" /><rect x="248.50" y="319.04" width="12.72" height="12.13" fill="#0c0a4a" stroke="none" stroke-width="1" /><rect x="260.93" y="319.04" width="12.72" height="12.13" fill="#0a040c" stroke="none" stroke-width="1" /><rect x="273.35" y="319.04" width="12.72" height="12.13" fill="#0c0a4a" stroke="none" stroke-width="1" /><rect x="285.77" y="319.04" width="12.72" height="12.13" fill="#141274" stroke="none" stroke-width="1" /><rect x="298.20" y="319.04" width="12.72" height="12.13" fill="#141274" stroke="none" stroke-width="1" /><rect x="310.62" y="319.04" width="12.72" height="12.13" fill="#0c0a4a" stroke="none" stroke-width="1" /><rect x="323.05" y="319.04" width="12.72" height="12.13" fill="#141274" stroke="none" stroke-width="1" /><rect x="335.47" y="319.04" width="12.72" height="12.13" fill="#141274" stroke="none" stroke-width="1" /><rect x="198.80" y="330.87" width="12.72" height="12.13" fill="#420b0b" stroke="none" stroke-width="1" /><rect x="211.23" y="330.87" width="12.72" height="12.13" fill="#420b0b" stroke="none" stroke-width="1" /><rect x="223.65" y="330.87" width="12.72" height="12.13" fill="#82150f" stroke="none" stroke-width="1" /><rect x="236.07" y="330.87" width="12.72" height="12.13" fill="#82150f" stroke="none" stroke-width="1" /><rect x="248.50" y="330.87" width="12.72" height="12.13" fill="#0a040c" stroke="none" stroke-width="1" /><rect x="260.93" y="330.87" width="12.72" height="12.13" fill="#0c0a4a" stroke="none" stroke-width="1" /><rect x="273.35" y="330.87" width="12.72" height="12.13" fill="#0c0a4a" stroke="none" stroke-width="1" /><rect x="285.77" y="330.87" width="12.72" height="12.13" fill="#1a1690" stroke="none" stroke-width="1" /><rect x="298.20" y="330.87" width="12.72" height="12.13" fill="#141274" stroke="none" stroke-width="1" /><rect x="310.62" y="330.87" width="12.72" height="12.13" fill="#1a1690" stroke="none" stroke-width="1" /><rect x="323.05" y="330.87" width="12.72" height="12.13" fill="#141274" stroke="none" stroke-width="1" /><rect x="335.47" y="330.87" width="12.72" height="12.13" fill="#0a040c" stroke="none" stroke-width="1" /><line x1="273.35" y1="176.50" x2="347.90" y2="176.50" stroke="#e0b0f0" stroke-width="1.2" /><line x1="198.80" y1="176.50" x2="273.35" y2="176.50" stroke="#c8e0f0" stroke-width="1.0" /><text x="239.00" y="173.50" font-size="10.5" text-anchor="middle" fill="#5a9cc8" >GF-NC</text><text x="307.00" y="173.50" font-size="10.5" text-anchor="middle" fill="#c070d8" >GF-HHE</text><text x="350.50" y="186.71" font-size="10.5" text-anchor="start" fill="#1a1a1a" >Lactobacillus murinus</text><text x="350.50" y="198.54" font-size="10.5" text-anchor="start" fill="#1a1a1a" >Lactobacillus johnsonii</text><text x="350.50" y="210.37" font-size="10.5" text-anchor="start" fill="#1a1a1a" >Lactobacillus reuteri</text><text x="350.50" y="222.20" font-size="10.5" text-anchor="start" fill="#1a1a1a" >Lactobacillus intestinalis</text><text x="350.50" y="234.03" font-size="10.5" text-anchor="start" fill="#1a1a1a" >Trichinella pseudospiralis</text><text x="350.50" y="245.86" font-size="10.5" text-anchor="start" fill="#1a1a1a" >Akkermansia muciniphila</text><text x="350.50" y="257.69" font-size="10.5" text-anchor="start" fill="#1a1a1a" >Faecalibaculum rodentium</text><text x="350.50" y="269.51" font-size="10.5" text-anchor="start" fill="#1a1a1a" >Bacteroides acidifaciens</text><text x="350.50" y="281.34" font-size="10.5" text-anchor="start" fill="#1a1a1a" >Ruminococcus flavefaciens</text><text x="350.50" y="293.17" font-size="10.5" text-anchor="start" fill="#1a1a1a" >Burkholderiales bacterium YL45</text><text x="350.50" y="305.00" font-size="10.5" text-anchor="start" fill="#1a1a1a" >Ruminococcus sp N15.MGS-57</text><text x="350.50" y="316.83" font-size="10.5" text-anchor="start" fill="#1a1a1a" >Bifidobacterium pseudolongum</text><text x="350.50" y="328.66" font-size="10.5" text-anchor="start" fill="#1a1a1a" >Bacteroides thetaiotaomicron</text><text x="350.50" y="340.49" font-size="10.5" text-anchor="start" fill="#1a1a1a" >Bacteroides caecimuris</text><text x="275.00" y="354.50" font-size="10.5" text-anchor="middle" fill="#1a1a1a" >Abundance</text><defs><linearGradient id="hmg" x1="0" x2="1" y1="0" y2="0"><stop offset="0" stop-color="#2828e0"/><stop offset="0.5" stop-color="#000"/><stop offset="1" stop-color="#c03030"/></linearGradient></defs><rect x="235.30" y="358.00" width="76.10" height="11.00" fill="url(#hmg)" stroke="none" stroke-width="1" /><text x="247.00" y="367.30" font-size="10.5" text-anchor="middle" fill="#fff" >-2.5</text><text x="273.50" y="367.30" font-size="10.5" text-anchor="middle" fill="#fff" >0</text><text x="301.00" y="367.30" font-size="10.5" text-anchor="middle" fill="#fff" >2.5</text>
<text x="504.00" y="169.50" font-size="16" text-anchor="start" fill="#222" >e</text><line x1="649.10" y1="187.40" x2="761.20" y2="187.40" stroke="#e4e4e4" stroke-width="0.8" stroke-dasharray="2,1.5"/><line x1="649.10" y1="205.60" x2="761.20" y2="205.60" stroke="#e4e4e4" stroke-width="0.8" stroke-dasharray="2,1.5"/><line x1="649.10" y1="223.70" x2="761.20" y2="223.70" stroke="#e4e4e4" stroke-width="0.8" stroke-dasharray="2,1.5"/><line x1="649.10" y1="242.00" x2="761.20" y2="242.00" stroke="#e4e4e4" stroke-width="0.8" stroke-dasharray="2,1.5"/><line x1="649.10" y1="260.00" x2="761.20" y2="260.00" stroke="#e4e4e4" stroke-width="0.8" stroke-dasharray="2,1.5"/><line x1="649.10" y1="278.10" x2="761.20" y2="278.10" stroke="#e4e4e4" stroke-width="0.8" stroke-dasharray="2,1.5"/><line x1="649.10" y1="296.30" x2="761.20" y2="296.30" stroke="#e4e4e4" stroke-width="0.8" stroke-dasharray="2,1.5"/><line x1="649.10" y1="314.60" x2="761.20" y2="314.60" stroke="#e4e4e4" stroke-width="0.8" stroke-dasharray="2,1.5"/><line x1="649.10" y1="332.70" x2="761.20" y2="332.70" stroke="#e4e4e4" stroke-width="0.8" stroke-dasharray="2,1.5"/><line x1="692.90" y1="178.40" x2="692.90" y2="341.40" stroke="#333" stroke-width="1.1" stroke-dasharray="1.2,1.4"/><rect x="649.10" y="178.40" width="115.10" height="163.00" fill="none" stroke="#1a1a1a" stroke-width="1.3" /><line x1="644.60" y1="187.40" x2="649.10" y2="187.40" stroke="#1a1a1a" stroke-width="1.1" /><text x="642.00" y="191.10" font-size="10.5" text-anchor="end" fill="#1a1a1a" >Trichinella pseudospiralis</text><line x1="644.60" y1="205.60" x2="649.10" y2="205.60" stroke="#1a1a1a" stroke-width="1.1" /><text x="642.00" y="209.30" font-size="10.5" text-anchor="end" fill="#1a1a1a" >Lactobacillus johnsonii</text><line x1="644.60" y1="223.70" x2="649.10" y2="223.70" stroke="#1a1a1a" stroke-width="1.1" /><text x="642.00" y="227.40" font-size="10.5" text-anchor="end" fill="#1a1a1a" >Lactobacillus intestinalis</text><line x1="644.60" y1="242.00" x2="649.10" y2="242.00" stroke="#1a1a1a" stroke-width="1.1" /><text x="642.00" y="245.70" font-size="10.5" text-anchor="end" fill="#1a1a1a" >Lactobacillus reuteri</text><line x1="644.60" y1="260.00" x2="649.10" y2="260.00" stroke="#1a1a1a" stroke-width="1.1" /><text x="642.00" y="263.70" font-size="10.5" text-anchor="end" fill="#1a1a1a" >Bacteroides acidifaciens</text><line x1="644.60" y1="278.10" x2="649.10" y2="278.10" stroke="#1a1a1a" stroke-width="1.1" /><text x="642.00" y="281.80" font-size="10.5" text-anchor="end" fill="#1a1a1a" >Lactobacillus murinus</text><line x1="644.60" y1="296.30" x2="649.10" y2="296.30" stroke="#1a1a1a" stroke-width="1.1" /><text x="642.00" y="300.00" font-size="10.5" text-anchor="end" fill="#1a1a1a" >Akkermansia muciniphila</text><line x1="644.60" y1="314.60" x2="649.10" y2="314.60" stroke="#1a1a1a" stroke-width="1.1" /><text x="642.00" y="318.30" font-size="10.5" text-anchor="end" fill="#1a1a1a" >Faecalibaculum rodentium</text><line x1="644.60" y1="332.70" x2="649.10" y2="332.70" stroke="#1a1a1a" stroke-width="1.1" /><text x="642.00" y="336.40" font-size="10.5" text-anchor="end" fill="#1a1a1a" >Ruminococcus flavefaciens</text><line x1="657.70" y1="341.40" x2="657.70" y2="345.40" stroke="#1a1a1a" stroke-width="1.1" /><text x="657.70" y="357.50" font-size="10.5" text-anchor="middle" fill="#1a1a1a" >-4</text><line x1="692.90" y1="341.40" x2="692.90" y2="345.40" stroke="#1a1a1a" stroke-width="1.1" /><text x="692.90" y="357.50" font-size="10.5" text-anchor="middle" fill="#1a1a1a" >0</text><line x1="728.10" y1="341.40" x2="728.10" y2="345.40" stroke="#1a1a1a" stroke-width="1.1" /><text x="728.10" y="357.50" font-size="10.5" text-anchor="middle" fill="#1a1a1a" >4</text><line x1="763.30" y1="341.40" x2="763.30" y2="345.40" stroke="#1a1a1a" stroke-width="1.1" /><text x="763.30" y="357.50" font-size="10.5" text-anchor="middle" fill="#1a1a1a" >8</text><text x="681.00" y="367.50" font-size="8.3" text-anchor="start" fill="#1a1a1a" >Log</text><text x="695.20" y="369.50" font-size="5.5" text-anchor="start" fill="#1a1a1a" >2</text><text x="698.40" y="367.50" font-size="8.3" text-anchor="start" fill="#1a1a1a" >(HHE/ NC)</text><circle cx="701.10" cy="187.40" r="1.90" fill="#857340" /><circle cx="713.40" cy="187.40" r="1.90" fill="#d33a3a" /><circle cx="705.20" cy="205.60" r="1.90" fill="#857340" /><circle cx="733.50" cy="205.60" r="1.90" fill="#d33a3a" /><circle cx="666.60" cy="223.70" r="1.90" fill="#857340" /><circle cx="681.00" cy="242.00" r="1.90" fill="#857340" /><circle cx="651.90" cy="242.00" r="1.90" fill="#d33a3a" /><circle cx="704.10" cy="260.00" r="1.90" fill="#857340" /><circle cx="702.00" cy="260.00" r="1.90" fill="#d33a3a" /><circle cx="671.30" cy="278.10" r="1.90" fill="#857340" /><circle cx="675.20" cy="278.10" r="1.90" fill="#d33a3a" /><circle cx="673.50" cy="296.30" r="1.90" fill="#857340" /><circle cx="676.70" cy="296.30" r="1.90" fill="#d33a3a" /><circle cx="658.10" cy="314.60" r="1.90" fill="#857340" /><circle cx="669.80" cy="314.60" r="1.90" fill="#d33a3a" /><circle cx="673.00" cy="332.70" r="1.90" fill="#857340" /><circle cx="741.90" cy="242.70" r="3.90" fill="#857340" /><circle cx="754.20" cy="242.70" r="4.00" fill="#e82020" /><text transform="translate(738.20,251.00) rotate(90)" font-size="10.5" text-anchor="start" fill="#1a1a1a">Conventional mice</text><text transform="translate(751.20,251.50) rotate(90)" font-size="10.5" text-anchor="start" fill="#1a1a1a">Germ free mice</text>
<text x="2.50" y="386.50" font-size="16" text-anchor="start" fill="#222" >f</text><text x="104.30" y="383.30" font-size="10.5" text-anchor="middle" fill="#1a1a1a" >Conventional mice (HHE)</text><text x="305.30" y="383.30" font-size="10.5" text-anchor="middle" fill="#1a1a1a" >Germ free mice (HHE)</text><line x1="92.3" y1="395.0" x2="126.6" y2="399.3" stroke="#7a8cc0" stroke-width="0.6" stroke-opacity="0.55"/><line x1="92.3" y1="395.0" x2="155.1" y2="416.4" stroke="#7a8cc0" stroke-width="0.6" stroke-opacity="0.55"/><line x1="92.3" y1="395.0" x2="174.3" y2="445.0" stroke="#e07a90" stroke-width="0.6" stroke-opacity="0.55"/><line x1="92.3" y1="395.0" x2="179.4" y2="461.6" stroke="#e07a90" stroke-width="0.6" stroke-opacity="0.55"/><line x1="92.3" y1="395.0" x2="177.1" y2="495.0" stroke="#e07a90" stroke-width="0.6" stroke-opacity="0.55"/><line x1="92.3" y1="395.0" x2="170.9" y2="511.3" stroke="#e07a90" stroke-width="0.6" stroke-opacity="0.55"/><line x1="92.3" y1="395.0" x2="161.4" y2="525.0" stroke="#e07a90" stroke-width="0.6" stroke-opacity="0.55"/><line x1="92.3" y1="395.0" x2="148.6" y2="535.9" stroke="#e07a90" stroke-width="0.6" stroke-opacity="0.55"/><line x1="92.3" y1="395.0" x2="134.3" y2="542.7" stroke="#e07a90" stroke-width="0.6" stroke-opacity="0.55"/><line x1="92.3" y1="395.0" x2="100.6" y2="553.0" stroke="#7a8cc0" stroke-width="0.6" stroke-opacity="0.55"/><line x1="92.3" y1="395.0" x2="21.4" y2="478.4" stroke="#7a8cc0" stroke-width="0.6" stroke-opacity="0.55"/><line x1="92.3" y1="395.0" x2="60.0" y2="406.4" stroke="#e07a90" stroke-width="0.6" stroke-opacity="0.55"/><line x1="110.0" y1="395.0" x2="166.6" y2="429.3" stroke="#e07a90" stroke-width="0.6" stroke-opacity="0.55"/><line x1="110.0" y1="395.0" x2="179.4" y2="461.6" stroke="#7a8cc0" stroke-width="0.6" stroke-opacity="0.55"/><line x1="110.0" y1="395.0" x2="180.6" y2="478.7" stroke="#e07a90" stroke-width="0.6" stroke-opacity="0.55"/><line x1="110.0" y1="395.0" x2="177.1" y2="495.0" stroke="#e07a90" stroke-width="0.6" stroke-opacity="0.55"/><line x1="110.0" y1="395.0" x2="161.4" y2="525.0" stroke="#e07a90" stroke-width="0.6" stroke-opacity="0.55"/><line x1="110.0" y1="395.0" x2="148.6" y2="535.9" stroke="#e07a90" stroke-width="0.6" stroke-opacity="0.55"/><line x1="110.0" y1="395.0" x2="100.6" y2="553.0" stroke="#e07a90" stroke-width="0.6" stroke-opacity="0.55"/><line x1="110.0" y1="395.0" x2="76.6" y2="398.7" stroke="#e07a90" stroke-width="0.6" stroke-opacity="0.55"/><line x1="126.6" y1="399.3" x2="155.1" y2="416.4" stroke="#e07a90" stroke-width="0.6" stroke-opacity="0.55"/><line x1="126.6" y1="399.3" x2="166.6" y2="429.3" stroke="#e07a90" stroke-width="0.6" stroke-opacity="0.55"/><line x1="126.6" y1="399.3" x2="174.3" y2="445.0" stroke="#e07a90" stroke-width="0.6" stroke-opacity="0.55"/><line x1="126.6" y1="399.3" x2="179.4" y2="461.6" stroke="#e07a90" stroke-width="0.6" stroke-opacity="0.55"/><line x1="126.6" y1="399.3" x2="177.1" y2="495.0" stroke="#e07a90" stroke-width="0.6" stroke-opacity="0.55"/><line x1="126.6" y1="399.3" x2="170.9" y2="511.3" stroke="#e07a90" stroke-width="0.6" stroke-opacity="0.55"/><line x1="126.6" y1="399.3" x2="161.4" y2="525.0" stroke="#e07a90" stroke-width="0.6" stroke-opacity="0.55"/><line x1="126.6" y1="399.3" x2="148.6" y2="535.9" stroke="#e07a90" stroke-width="0.6" stroke-opacity="0.55"/><line x1="126.6" y1="399.3" x2="134.3" y2="542.7" stroke="#e07a90" stroke-width="0.6" stroke-opacity="0.55"/><line x1="126.6" y1="399.3" x2="118.0" y2="551.3" stroke="#e07a90" stroke-width="0.6" stroke-opacity="0.55"/><line x1="126.6" y1="399.3" x2="100.6" y2="553.0" stroke="#7a8cc0" stroke-width="0.6" stroke-opacity="0.55"/><line x1="126.6" y1="399.3" x2="53.4" y2="537.0" stroke="#e07a90" stroke-width="0.6" stroke-opacity="0.55"/><line x1="126.6" y1="399.3" x2="22.9" y2="461.3" stroke="#7a8cc0" stroke-width="0.6" stroke-opacity="0.55"/><line x1="126.6" y1="399.3" x2="27.7" y2="444.4" stroke="#7a8cc0" stroke-width="0.6" stroke-opacity="0.55"/><line x1="126.6" y1="399.3" x2="46.6" y2="416.4" stroke="#7a8cc0" stroke-width="0.6" stroke-opacity="0.55"/><line x1="126.6" y1="399.3" x2="76.6" y2="398.7" stroke="#7a8cc0" stroke-width="0.6" stroke-opacity="0.55"/><line x1="140.9" y1="406.4" x2="155.1" y2="416.4" stroke="#e07a90" stroke-width="0.6" stroke-opacity="0.55"/><line x1="140.9" y1="406.4" x2="166.6" y2="429.3" stroke="#e07a90" stroke-width="0.6" stroke-opacity="0.55"/><line x1="140.9" y1="406.4" x2="174.3" y2="445.0" stroke="#7a8cc0" stroke-width="0.6" stroke-opacity="0.55"/><line x1="140.9" y1="406.4" x2="179.4" y2="461.6" stroke="#e07a90" stroke-width="0.6" stroke-opacity="0.55"/><line x1="140.9" y1="406.4" x2="180.6" y2="478.7" stroke="#7a8cc0" stroke-width="0.6" stroke-opacity="0.55"/><line x1="140.9" y1="406.4" x2="177.1" y2="495.0" stroke="#7a8cc0" stroke-width="0.6" stroke-opacity="0.55"/><line x1="140.9" y1="406.4" x2="161.4" y2="525.0" stroke="#e07a90" stroke-width="0.6" stroke-opacity="0.55"/><line x1="140.9" y1="406.4" x2="148.6" y2="535.9" stroke="#7a8cc0" stroke-width="0.6" stroke-opacity="0.55"/><line x1="140.9" y1="406.4" x2="134.3" y2="542.7" stroke="#7a8cc0" stroke-width="0.6" stroke-opacity="0.55"/><line x1="140.9" y1="406.4" x2="100.6" y2="553.0" stroke="#7a8cc0" stroke-width="0.6" stroke-opacity="0.55"/><line x1="140.9" y1="406.4" x2="67.7" y2="545.6" stroke="#7a8cc0" stroke-width="0.6" stroke-opacity="0.55"/><line x1="140.9" y1="406.4" x2="53.4" y2="537.0" stroke="#7a8cc0" stroke-width="0.6" stroke-opacity="0.55"/><line x1="140.9" y1="406.4" x2="40.9" y2="525.6" stroke="#e07a90" stroke-width="0.6" stroke-opacity="0.55"/><line x1="140.9" y1="406.4" x2="21.4" y2="478.4" stroke="#e07a90" stroke-width="0.6" stroke-opacity="0.55"/><line x1="140.9" y1="406.4" x2="22.9" y2="461.3" stroke="#e07a90" stroke-width="0.6" stroke-opacity="0.55"/><line x1="140.9" y1="406.4" x2="27.7" y2="444.4" stroke="#7a8cc0" stroke-width="0.6" stroke-opacity="0.55"/><line x1="140.9" y1="406.4" x2="35.7" y2="430.0" stroke="#7a8cc0" stroke-width="0.6" stroke-opacity="0.55"/><line x1="140.9" y1="406.4" x2="76.6" y2="398.7" stroke="#7a8cc0" stroke-width="0.6" stroke-opacity="0.55"/><line x1="155.1" y1="416.4" x2="166.6" y2="429.3" stroke="#7a8cc0" stroke-width="0.6" stroke-opacity="0.55"/><line x1="155.1" y1="416.4" x2="174.3" y2="445.0" stroke="#7a8cc0" stroke-width="0.6" stroke-opacity="0.55"/><line x1="155.1" y1="416.4" x2="179.4" y2="461.6" stroke="#7a8cc0" stroke-width="0.6" stroke-opacity="0.55"/><line x1="155.1" y1="416.4" x2="180.6" y2="478.7" stroke="#7a8cc0" stroke-width="0.6" stroke-opacity="0.55"/><line x1="155.1" y1="416.4" x2="170.9" y2="511.3" stroke="#e07a90" stroke-width="0.6" stroke-opacity="0.55"/><line x1="155.1" y1="416.4" x2="161.4" y2="525.0" stroke="#e07a90" stroke-width="0.6" stroke-opacity="0.55"/><line x1="155.1" y1="416.4" x2="148.6" y2="535.9" stroke="#e07a90" stroke-width="0.6" stroke-opacity="0.55"/><line x1="155.1" y1="416.4" x2="134.3" y2="542.7" stroke="#e07a90" stroke-width="0.6" stroke-opacity="0.55"/><line x1="155.1" y1="416.4" x2="118.0" y2="551.3" stroke="#e07a90" stroke-width="0.6" stroke-opacity="0.55"/><line x1="155.1" y1="416.4" x2="100.6" y2="553.0" stroke="#7a8cc0" stroke-width="0.6" stroke-opacity="0.55"/><line x1="155.1" y1="416.4" x2="40.9" y2="525.6" stroke="#e07a90" stroke-width="0.6" stroke-opacity="0.55"/><line x1="155.1" y1="416.4" x2="30.9" y2="511.3" stroke="#7a8cc0" stroke-width="0.6" stroke-opacity="0.55"/><line x1="155.1" y1="416.4" x2="24.9" y2="495.0" stroke="#7a8cc0" stroke-width="0.6" stroke-opacity="0.55"/><line x1="155.1" y1="416.4" x2="22.9" y2="461.3" stroke="#7a8cc0" stroke-width="0.6" stroke-opacity="0.55"/><line x1="155.1" y1="416.4" x2="27.7" y2="444.4" stroke="#e07a90" stroke-width="0.6" stroke-opacity="0.55"/><line x1="155.1" y1="416.4" x2="35.7" y2="430.0" stroke="#e07a90" stroke-width="0.6" stroke-opacity="0.55"/><line x1="155.1" y1="416.4" x2="46.6" y2="416.4" stroke="#7a8cc0" stroke-width="0.6" stroke-opacity="0.55"/><line x1="155.1" y1="416.4" x2="60.0" y2="406.4" stroke="#7a8cc0" stroke-width="0.6" stroke-opacity="0.55"/><line x1="155.1" y1="416.4" x2="76.6" y2="398.7" stroke="#e07a90" stroke-width="0.6" stroke-opacity="0.55"/><line x1="166.6" y1="429.3" x2="174.3" y2="445.0" stroke="#e07a90" stroke-width="0.6" stroke-opacity="0.55"/><line x1="166.6" y1="429.3" x2="179.4" y2="461.6" stroke="#7a8cc0" stroke-width="0.6" stroke-opacity="0.55"/><line x1="166.6" y1="429.3" x2="180.6" y2="478.7" stroke="#e07a90" stroke-width="0.6" stroke-opacity="0.55"/><line x1="166.6" y1="429.3" x2="177.1" y2="495.0" stroke="#7a8cc0" stroke-width="0.6" stroke-opacity="0.55"/><line x1="166.6" y1="429.3" x2="170.9" y2="511.3" stroke="#e07a90" stroke-width="0.6" stroke-opacity="0.55"/><line x1="166.6" y1="429.3" x2="148.6" y2="535.9" stroke="#e07a90" stroke-width="0.6" stroke-opacity="0.55"/><line x1="166.6" y1="429.3" x2="134.3" y2="542.7" stroke="#e07a90" stroke-width="0.6" stroke-opacity="0.55"/><line x1="166.6" y1="429.3" x2="118.0" y2="551.3" stroke="#7a8cc0" stroke-width="0.6" stroke-opacity="0.55"/><line x1="166.6" y1="429.3" x2="100.6" y2="553.0" stroke="#e07a90" stroke-width="0.6" stroke-opacity="0.55"/><line x1="166.6" y1="429.3" x2="83.7" y2="551.3" stroke="#7a8cc0" stroke-width="0.6" stroke-opacity="0.55"/><line x1="166.6" y1="429.3" x2="67.7" y2="545.6" stroke="#7a8cc0" stroke-width="0.6" stroke-opacity="0.55"/><line x1="166.6" y1="429.3" x2="21.4" y2="478.4" stroke="#e07a90" stroke-width="0.6" stroke-opacity="0.55"/><line x1="166.6" y1="429.3" x2="22.9" y2="461.3" stroke="#e07a90" stroke-width="0.6" stroke-opacity="0.55"/><line x1="166.6" y1="429.3" x2="27.7" y2="444.4" stroke="#e07a90" stroke-width="0.6" stroke-opacity="0.55"/><line x1="166.6" y1="429.3" x2="35.7" y2="430.0" stroke="#7a8cc0" stroke-width="0.6" stroke-opacity="0.55"/><line x1="166.6" y1="429.3" x2="60.0" y2="406.4" stroke="#7a8cc0" stroke-width="0.6" stroke-opacity="0.55"/><line x1="166.6" y1="429.3" x2="76.6" y2="398.7" stroke="#7a8cc0" stroke-width="0.6" stroke-opacity="0.55"/><line x1="174.3" y1="445.0" x2="180.6" y2="478.7" stroke="#7a8cc0" stroke-width="0.6" stroke-opacity="0.55"/><line x1="174.3" y1="445.0" x2="177.1" y2="495.0" stroke="#e07a90" stroke-width="0.6" stroke-opacity="0.55"/><line x1="174.3" y1="445.0" x2="170.9" y2="511.3" stroke="#e07a90" stroke-width="0.6" stroke-opacity="0.55"/><line x1="174.3" y1="445.0" x2="161.4" y2="525.0" stroke="#e07a90" stroke-width="0.6" stroke-opacity="0.55"/><line x1="174.3" y1="445.0" x2="148.6" y2="535.9" stroke="#7a8cc0" stroke-width="0.6" stroke-opacity="0.55"/><line x1="174.3" y1="445.0" x2="100.6" y2="553.0" stroke="#e07a90" stroke-width="0.6" stroke-opacity="0.55"/><line x1="174.3" y1="445.0" x2="83.7" y2="551.3" stroke="#e07a90" stroke-width="0.6" stroke-opacity="0.55"/><line x1="174.3" y1="445.0" x2="67.7" y2="545.6" stroke="#e07a90" stroke-width="0.6" stroke-opacity="0.55"/><line x1="174.3" y1="445.0" x2="53.4" y2="537.0" stroke="#e07a90" stroke-width="0.6" stroke-opacity="0.55"/><line x1="174.3" y1="445.0" x2="21.4" y2="478.4" stroke="#e07a90" stroke-width="0.6" stroke-opacity="0.55"/><line x1="174.3" y1="445.0" x2="22.9" y2="461.3" stroke="#7a8cc0" stroke-width="0.6" stroke-opacity="0.55"/><line x1="179.4" y1="461.6" x2="177.1" y2="495.0" stroke="#7a8cc0" stroke-width="0.6" stroke-opacity="0.55"/><line x1="179.4" y1="461.6" x2="170.9" y2="511.3" stroke="#7a8cc0" stroke-width="0.6" stroke-opacity="0.55"/><line x1="179.4" y1="461.6" x2="161.4" y2="525.0" stroke="#e07a90" stroke-width="0.6" stroke-opacity="0.55"/><line x1="179.4" y1="461.6" x2="148.6" y2="535.9" stroke="#e07a90" stroke-width="0.6" stroke-opacity="0.55"/><line x1="179.4" y1="461.6" x2="134.3" y2="542.7" stroke="#e07a90" stroke-width="0.6" stroke-opacity="0.55"/><line x1="179.4" y1="461.6" x2="118.0" y2="551.3" stroke="#e07a90" stroke-width="0.6" stroke-opacity="0.55"/><line x1="179.4" y1="461.6" x2="100.6" y2="553.0" stroke="#e07a90" stroke-width="0.6" stroke-opacity="0.55"/><line x1="179.4" y1="461.6" x2="53.4" y2="537.0" stroke="#7a8cc0" stroke-width="0.6" stroke-opacity="0.55"/><line x1="179.4" y1="461.6" x2="21.4" y2="478.4" stroke="#e07a90" stroke-width="0.6" stroke-opacity="0.55"/><line x1="179.4" y1="461.6" x2="22.9" y2="461.3" stroke="#7a8cc0" stroke-width="0.6" stroke-opacity="0.55"/><line x1="179.4" y1="461.6" x2="27.7" y2="444.4" stroke="#7a8cc0" stroke-width="0.6" stroke-opacity="0.55"/><line x1="179.4" y1="461.6" x2="35.7" y2="430.0" stroke="#e07a90" stroke-width="0.6" stroke-opacity="0.55"/><line x1="179.4" y1="461.6" x2="46.6" y2="416.4" stroke="#e07a90" stroke-width="0.6" stroke-opacity="0.55"/><line x1="180.6" y1="478.7" x2="170.9" y2="511.3" stroke="#7a8cc0" stroke-width="0.6" stroke-opacity="0.55"/><line x1="180.6" y1="478.7" x2="161.4" y2="525.0" stroke="#7a8cc0" stroke-width="0.6" stroke-opacity="0.55"/><line x1="180.6" y1="478.7" x2="148.6" y2="535.9" stroke="#e07a90" stroke-width="0.6" stroke-opacity="0.55"/><line x1="180.6" y1="478.7" x2="134.3" y2="542.7" stroke="#e07a90" stroke-width="0.6" stroke-opacity="0.55"/><line x1="180.6" y1="478.7" x2="118.0" y2="551.3" stroke="#e07a90" stroke-width="0.6" stroke-opacity="0.55"/><line x1="180.6" y1="478.7" x2="100.6" y2="553.0" stroke="#7a8cc0" stroke-width="0.6" stroke-opacity="0.55"/><line x1="180.6" y1="478.7" x2="40.9" y2="525.6" stroke="#e07a90" stroke-width="0.6" stroke-opacity="0.55"/><line x1="180.6" y1="478.7" x2="24.9" y2="495.0" stroke="#7a8cc0" stroke-width="0.6" stroke-opacity="0.55"/><line x1="180.6" y1="478.7" x2="27.7" y2="444.4" stroke="#e07a90" stroke-width="0.6" stroke-opacity="0.55"/><line x1="180.6" y1="478.7" x2="35.7" y2="430.0" stroke="#e07a90" stroke-width="0.6" stroke-opacity="0.55"/><line x1="180.6" y1="478.7" x2="76.6" y2="398.7" stroke="#7a8cc0" stroke-width="0.6" stroke-opacity="0.55"/><line x1="177.1" y1="495.0" x2="170.9" y2="511.3" stroke="#e07a90" stroke-width="0.6" stroke-opacity="0.55"/><line x1="177.1" y1="495.0" x2="161.4" y2="525.0" stroke="#7a8cc0" stroke-width="0.6" stroke-opacity="0.55"/><line x1="177.1" y1="495.0" x2="134.3" y2="542.7" stroke="#e07a90" stroke-width="0.6" stroke-opacity="0.55"/><line x1="177.1" y1="495.0" x2="118.0" y2="551.3" stroke="#7a8cc0" stroke-width="0.6" stroke-opacity="0.55"/><line x1="177.1" y1="495.0" x2="100.6" y2="553.0" stroke="#7a8cc0" stroke-width="0.6" stroke-opacity="0.55"/><line x1="177.1" y1="495.0" x2="53.4" y2="537.0" stroke="#e07a90" stroke-width="0.6" stroke-opacity="0.55"/><line x1="177.1" y1="495.0" x2="30.9" y2="511.3" stroke="#7a8cc0" stroke-width="0.6" stroke-opacity="0.55"/><line x1="177.1" y1="495.0" x2="24.9" y2="495.0" stroke="#e07a90" stroke-width="0.6" stroke-opacity="0.55"/><line x1="177.1" y1="495.0" x2="46.6" y2="416.4" stroke="#e07a90" stroke-width="0.6" stroke-opacity="0.55"/><line x1="170.9" y1="511.3" x2="161.4" y2="525.0" stroke="#e07a90" stroke-width="0.6" stroke-opacity="0.55"/><line x1="170.9" y1="511.3" x2="148.6" y2="535.9" stroke="#e07a90" stroke-width="0.6" stroke-opacity="0.55"/><line x1="170.9" y1="511.3" x2="134.3" y2="542.7" stroke="#e07a90" stroke-width="0.6" stroke-opacity="0.55"/><line x1="170.9" y1="511.3" x2="118.0" y2="551.3" stroke="#e07a90" stroke-width="0.6" stroke-opacity="0.55"/><line x1="170.9" y1="511.3" x2="100.6" y2="553.0" stroke="#e07a90" stroke-width="0.6" stroke-opacity="0.55"/><line x1="170.9" y1="511.3" x2="83.7" y2="551.3" stroke="#e07a90" stroke-width="0.6" stroke-opacity="0.55"/><line x1="170.9" y1="511.3" x2="67.7" y2="545.6" stroke="#e07a90" stroke-width="0.6" stroke-opacity="0.55"/><line x1="170.9" y1="511.3" x2="53.4" y2="537.0" stroke="#7a8cc0" stroke-width="0.6" stroke-opacity="0.55"/><line x1="170.9" y1="511.3" x2="30.9" y2="511.3" stroke="#e07a90" stroke-width="0.6" stroke-opacity="0.55"/><line x1="170.9" y1="511.3" x2="27.7" y2="444.4" stroke="#7a8cc0" stroke-width="0.6" stroke-opacity="0.55"/><line x1="161.4" y1="525.0" x2="148.6" y2="535.9" stroke="#7a8cc0" stroke-width="0.6" stroke-opacity="0.55"/><line x1="161.4" y1="525.0" x2="134.3" y2="542.7" stroke="#e07a90" stroke-width="0.6" stroke-opacity="0.55"/><line x1="161.4" y1="525.0" x2="118.0" y2="551.3" stroke="#7a8cc0" stroke-width="0.6" stroke-opacity="0.55"/><line x1="161.4" y1="525.0" x2="100.6" y2="553.0" stroke="#7a8cc0" stroke-width="0.6" stroke-opacity="0.55"/><line x1="161.4" y1="525.0" x2="67.7" y2="545.6" stroke="#7a8cc0" stroke-width="0.6" stroke-opacity="0.55"/><line x1="161.4" y1="525.0" x2="24.9" y2="495.0" stroke="#e07a90" stroke-width="0.6" stroke-opacity="0.55"/><line x1="161.4" y1="525.0" x2="35.7" y2="430.0" stroke="#e07a90" stroke-width="0.6" stroke-opacity="0.55"/><line x1="161.4" y1="525.0" x2="60.0" y2="406.4" stroke="#e07a90" stroke-width="0.6" stroke-opacity="0.55"/><line x1="161.4" y1="525.0" x2="76.6" y2="398.7" stroke="#7a8cc0" stroke-width="0.6" stroke-opacity="0.55"/><line x1="148.6" y1="535.9" x2="118.0" y2="551.3" stroke="#7a8cc0" stroke-width="0.6" stroke-opacity="0.55"/><line x1="148.6" y1="535.9" x2="100.6" y2="553.0" stroke="#e07a90" stroke-width="0.6" stroke-opacity="0.55"/><line x1="148.6" y1="535.9" x2="53.4" y2="537.0" stroke="#e07a90" stroke-width="0.6" stroke-opacity="0.55"/><line x1="134.3" y1="542.7" x2="100.6" y2="553.0" stroke="#e07a90" stroke-width="0.6" stroke-opacity="0.55"/><line x1="134.3" y1="542.7" x2="40.9" y2="525.6" stroke="#e07a90" stroke-width="0.6" stroke-opacity="0.55"/><line x1="134.3" y1="542.7" x2="30.9" y2="511.3" stroke="#e07a90" stroke-width="0.6" stroke-opacity="0.55"/><line x1="134.3" y1="542.7" x2="24.9" y2="495.0" stroke="#7a8cc0" stroke-width="0.6" stroke-opacity="0.55"/><line x1="134.3" y1="542.7" x2="21.4" y2="478.4" stroke="#e07a90" stroke-width="0.6" stroke-opacity="0.55"/><line x1="134.3" y1="542.7" x2="22.9" y2="461.3" stroke="#7a8cc0" stroke-width="0.6" stroke-opacity="0.55"/><line x1="134.3" y1="542.7" x2="27.7" y2="444.4" stroke="#e07a90" stroke-width="0.6" stroke-opacity="0.55"/><line x1="134.3" y1="542.7" x2="76.6" y2="398.7" stroke="#e07a90" stroke-width="0.6" stroke-opacity="0.55"/><line x1="118.0" y1="551.3" x2="100.6" y2="553.0" stroke="#e07a90" stroke-width="0.6" stroke-opacity="0.55"/><line x1="118.0" y1="551.3" x2="67.7" y2="545.6" stroke="#e07a90" stroke-width="0.6" stroke-opacity="0.55"/><line x1="118.0" y1="551.3" x2="30.9" y2="511.3" stroke="#e07a90" stroke-width="0.6" stroke-opacity="0.55"/><line x1="118.0" y1="551.3" x2="21.4" y2="478.4" stroke="#7a8cc0" stroke-width="0.6" stroke-opacity="0.55"/><line x1="118.0" y1="551.3" x2="46.6" y2="416.4" stroke="#7a8cc0" stroke-width="0.6" stroke-opacity="0.55"/><line x1="118.0" y1="551.3" x2="60.0" y2="406.4" stroke="#7a8cc0" stroke-width="0.6" stroke-opacity="0.55"/><line x1="100.6" y1="553.0" x2="67.7" y2="545.6" stroke="#7a8cc0" stroke-width="0.6" stroke-opacity="0.55"/><line x1="100.6" y1="553.0" x2="30.9" y2="511.3" stroke="#7a8cc0" stroke-width="0.6" stroke-opacity="0.55"/><line x1="100.6" y1="553.0" x2="22.9" y2="461.3" stroke="#7a8cc0" stroke-width="0.6" stroke-opacity="0.55"/><line x1="100.6" y1="553.0" x2="46.6" y2="416.4" stroke="#e07a90" stroke-width="0.6" stroke-opacity="0.55"/><line x1="100.6" y1="553.0" x2="60.0" y2="406.4" stroke="#7a8cc0" stroke-width="0.6" stroke-opacity="0.55"/><line x1="83.7" y1="551.3" x2="24.9" y2="495.0" stroke="#e07a90" stroke-width="0.6" stroke-opacity="0.55"/><line x1="67.7" y1="545.6" x2="22.9" y2="461.3" stroke="#7a8cc0" stroke-width="0.6" stroke-opacity="0.55"/><line x1="53.4" y1="537.0" x2="30.9" y2="511.3" stroke="#e07a90" stroke-width="0.6" stroke-opacity="0.55"/><line x1="40.9" y1="525.6" x2="24.9" y2="495.0" stroke="#7a8cc0" stroke-width="0.6" stroke-opacity="0.55"/><line x1="40.9" y1="525.6" x2="35.7" y2="430.0" stroke="#7a8cc0" stroke-width="0.6" stroke-opacity="0.55"/><line x1="30.9" y1="511.3" x2="21.4" y2="478.4" stroke="#e07a90" stroke-width="0.6" stroke-opacity="0.55"/><line x1="30.9" y1="511.3" x2="46.6" y2="416.4" stroke="#e07a90" stroke-width="0.6" stroke-opacity="0.55"/><line x1="30.9" y1="511.3" x2="76.6" y2="398.7" stroke="#7a8cc0" stroke-width="0.6" stroke-opacity="0.55"/><line x1="24.9" y1="495.0" x2="22.9" y2="461.3" stroke="#e07a90" stroke-width="0.6" stroke-opacity="0.55"/><line x1="21.4" y1="478.4" x2="27.7" y2="444.4" stroke="#e07a90" stroke-width="0.6" stroke-opacity="0.55"/><line x1="22.9" y1="461.3" x2="35.7" y2="430.0" stroke="#e07a90" stroke-width="0.6" stroke-opacity="0.55"/><line x1="27.7" y1="444.4" x2="46.6" y2="416.4" stroke="#e07a90" stroke-width="0.6" stroke-opacity="0.55"/><line x1="27.7" y1="444.4" x2="60.0" y2="406.4" stroke="#7a8cc0" stroke-width="0.6" stroke-opacity="0.55"/><line x1="35.7" y1="430.0" x2="60.0" y2="406.4" stroke="#7a8cc0" stroke-width="0.6" stroke-opacity="0.55"/><line x1="46.6" y1="416.4" x2="76.6" y2="398.7" stroke="#e07a90" stroke-width="0.6" stroke-opacity="0.55"/><circle cx="92.30" cy="395.00" r="6.30" fill="#7fd27f" /><text x="92.30" y="398.70" font-size="10.4" text-anchor="middle" fill="#143014" >F</text><circle cx="110.00" cy="395.00" r="1.60" fill="#e08048" /><circle cx="126.60" cy="399.30" r="6.30" fill="#7fd27f" /><text x="126.60" y="403.00" font-size="10.4" text-anchor="middle" fill="#143014" >E</text><circle cx="140.90" cy="406.40" r="6.30" fill="#e2702e" /><text x="140.90" y="410.10" font-size="10.4" text-anchor="middle" fill="#3a1606" >D</text><circle cx="155.10" cy="416.40" r="6.30" fill="#7fd27f" /><text x="155.10" y="420.10" font-size="10.4" text-anchor="middle" fill="#143014" >C</text><circle cx="166.60" cy="429.30" r="6.30" fill="#e2702e" /><text x="166.60" y="433.00" font-size="10.4" text-anchor="middle" fill="#3a1606" >B</text><circle cx="174.30" cy="445.00" r="6.30" fill="#7fd27f" /><text x="174.30" y="448.70" font-size="10.4" text-anchor="middle" fill="#143014" >A1</text><circle cx="179.40" cy="461.60" r="1.60" fill="#8fd08f" /><circle cx="180.60" cy="478.70" r="1.60" fill="#8fd08f" /><circle cx="177.10" cy="495.00" r="1.60" fill="#8fd08f" /><circle cx="170.90" cy="511.30" r="6.30" fill="#7fd27f" /><text x="170.90" y="515.00" font-size="10.4" text-anchor="middle" fill="#143014" >A2</text><circle cx="161.40" cy="525.00" r="6.30" fill="#7fd27f" /><text x="161.40" y="528.70" font-size="10.4" text-anchor="middle" fill="#143014" >A3</text><circle cx="148.60" cy="535.90" r="1.60" fill="#8fd08f" /><circle cx="134.30" cy="542.70" r="1.60" fill="#8fd08f" /><circle cx="118.00" cy="551.30" r="1.60" fill="#e08048" /><circle cx="100.60" cy="553.00" r="6.30" fill="#e2702e" /><text x="100.60" y="556.70" font-size="10.4" text-anchor="middle" fill="#3a1606" >A4</text><circle cx="83.70" cy="551.30" r="1.60" fill="#e08048" /><circle cx="67.70" cy="545.60" r="1.60" fill="#8fd08f" /><circle cx="53.40" cy="537.00" r="1.60" fill="#8fd08f" /><circle cx="40.90" cy="525.60" r="1.60" fill="#e08048" /><circle cx="30.90" cy="511.30" r="1.60" fill="#8fd08f" /><circle cx="24.90" cy="495.00" r="1.60" fill="#e08048" /><circle cx="21.40" cy="478.40" r="1.60" fill="#8fd08f" /><circle cx="22.90" cy="461.30" r="1.60" fill="#8fd08f" /><circle cx="27.70" cy="444.40" r="1.60" fill="#e08048" /><circle cx="35.70" cy="430.00" r="1.60" fill="#8fd08f" /><circle cx="46.60" cy="416.40" r="1.60" fill="#e08048" /><circle cx="60.00" cy="406.40" r="1.60" fill="#8fd08f" /><circle cx="76.60" cy="398.70" r="1.60" fill="#8fd08f" /><line x1="272.9" y1="395.9" x2="307.0" y2="392.7" stroke="#7a8cc0" stroke-width="0.6" stroke-opacity="0.55"/><line x1="272.9" y1="395.9" x2="371.4" y2="442.7" stroke="#7a8cc0" stroke-width="0.6" stroke-opacity="0.55"/><line x1="272.9" y1="395.9" x2="368.0" y2="509.3" stroke="#7a8cc0" stroke-width="0.6" stroke-opacity="0.55"/><line x1="272.9" y1="395.9" x2="358.0" y2="523.6" stroke="#e07a90" stroke-width="0.6" stroke-opacity="0.55"/><line x1="272.9" y1="395.9" x2="347.1" y2="535.6" stroke="#e07a90" stroke-width="0.6" stroke-opacity="0.55"/><line x1="272.9" y1="395.9" x2="298.6" y2="552.7" stroke="#7a8cc0" stroke-width="0.6" stroke-opacity="0.55"/><line x1="272.9" y1="395.9" x2="222.3" y2="493.6" stroke="#e07a90" stroke-width="0.6" stroke-opacity="0.55"/><line x1="272.9" y1="395.9" x2="220.6" y2="459.3" stroke="#7a8cc0" stroke-width="0.6" stroke-opacity="0.55"/><line x1="272.9" y1="395.9" x2="244.3" y2="414.4" stroke="#7a8cc0" stroke-width="0.6" stroke-opacity="0.55"/><line x1="290.0" y1="392.7" x2="377.7" y2="476.4" stroke="#e07a90" stroke-width="0.6" stroke-opacity="0.55"/><line x1="290.0" y1="392.7" x2="331.4" y2="543.6" stroke="#e07a90" stroke-width="0.6" stroke-opacity="0.55"/><line x1="290.0" y1="392.7" x2="315.1" y2="550.1" stroke="#7a8cc0" stroke-width="0.6" stroke-opacity="0.55"/><line x1="290.0" y1="392.7" x2="298.6" y2="552.7" stroke="#e07a90" stroke-width="0.6" stroke-opacity="0.55"/><line x1="290.0" y1="392.7" x2="220.6" y2="459.3" stroke="#e07a90" stroke-width="0.6" stroke-opacity="0.55"/><line x1="307.0" y1="392.7" x2="339.1" y2="404.1" stroke="#7a8cc0" stroke-width="0.6" stroke-opacity="0.55"/><line x1="307.0" y1="392.7" x2="371.4" y2="442.7" stroke="#e07a90" stroke-width="0.6" stroke-opacity="0.55"/><line x1="307.0" y1="392.7" x2="376.3" y2="459.3" stroke="#7a8cc0" stroke-width="0.6" stroke-opacity="0.55"/><line x1="307.0" y1="392.7" x2="377.7" y2="476.4" stroke="#e07a90" stroke-width="0.6" stroke-opacity="0.55"/><line x1="307.0" y1="392.7" x2="358.0" y2="523.6" stroke="#e07a90" stroke-width="0.6" stroke-opacity="0.55"/><line x1="307.0" y1="392.7" x2="347.1" y2="535.6" stroke="#7a8cc0" stroke-width="0.6" stroke-opacity="0.55"/><line x1="307.0" y1="392.7" x2="331.4" y2="543.6" stroke="#e07a90" stroke-width="0.6" stroke-opacity="0.55"/><line x1="307.0" y1="392.7" x2="315.1" y2="550.1" stroke="#e07a90" stroke-width="0.6" stroke-opacity="0.55"/><line x1="307.0" y1="392.7" x2="298.6" y2="552.7" stroke="#7a8cc0" stroke-width="0.6" stroke-opacity="0.55"/><line x1="323.4" y1="396.4" x2="352.9" y2="414.1" stroke="#7a8cc0" stroke-width="0.6" stroke-opacity="0.55"/><line x1="323.4" y1="396.4" x2="371.4" y2="442.7" stroke="#7a8cc0" stroke-width="0.6" stroke-opacity="0.55"/><line x1="323.4" y1="396.4" x2="376.3" y2="459.3" stroke="#e07a90" stroke-width="0.6" stroke-opacity="0.55"/><line x1="323.4" y1="396.4" x2="374.3" y2="493.6" stroke="#e07a90" stroke-width="0.6" stroke-opacity="0.55"/><line x1="323.4" y1="396.4" x2="368.0" y2="509.3" stroke="#7a8cc0" stroke-width="0.6" stroke-opacity="0.55"/><line x1="323.4" y1="396.4" x2="347.1" y2="535.6" stroke="#e07a90" stroke-width="0.6" stroke-opacity="0.55"/><line x1="323.4" y1="396.4" x2="331.4" y2="543.6" stroke="#7a8cc0" stroke-width="0.6" stroke-opacity="0.55"/><line x1="323.4" y1="396.4" x2="315.1" y2="550.1" stroke="#e07a90" stroke-width="0.6" stroke-opacity="0.55"/><line x1="323.4" y1="396.4" x2="298.6" y2="552.7" stroke="#e07a90" stroke-width="0.6" stroke-opacity="0.55"/><line x1="323.4" y1="396.4" x2="281.4" y2="550.7" stroke="#e07a90" stroke-width="0.6" stroke-opacity="0.55"/><line x1="323.4" y1="396.4" x2="265.1" y2="545.0" stroke="#e07a90" stroke-width="0.6" stroke-opacity="0.55"/><line x1="323.4" y1="396.4" x2="250.9" y2="535.9" stroke="#e07a90" stroke-width="0.6" stroke-opacity="0.55"/><line x1="323.4" y1="396.4" x2="228.0" y2="509.9" stroke="#e07a90" stroke-width="0.6" stroke-opacity="0.55"/><line x1="323.4" y1="396.4" x2="219.4" y2="476.4" stroke="#e07a90" stroke-width="0.6" stroke-opacity="0.55"/><line x1="339.1" y1="404.1" x2="352.9" y2="414.1" stroke="#e07a90" stroke-width="0.6" stroke-opacity="0.55"/><line x1="339.1" y1="404.1" x2="363.4" y2="426.4" stroke="#e07a90" stroke-width="0.6" stroke-opacity="0.55"/><line x1="339.1" y1="404.1" x2="376.3" y2="459.3" stroke="#e07a90" stroke-width="0.6" stroke-opacity="0.55"/><line x1="339.1" y1="404.1" x2="377.7" y2="476.4" stroke="#7a8cc0" stroke-width="0.6" stroke-opacity="0.55"/><line x1="339.1" y1="404.1" x2="374.3" y2="493.6" stroke="#7a8cc0" stroke-width="0.6" stroke-opacity="0.55"/><line x1="339.1" y1="404.1" x2="368.0" y2="509.3" stroke="#7a8cc0" stroke-width="0.6" stroke-opacity="0.55"/><line x1="339.1" y1="404.1" x2="347.1" y2="535.6" stroke="#e07a90" stroke-width="0.6" stroke-opacity="0.55"/><line x1="339.1" y1="404.1" x2="298.6" y2="552.7" stroke="#e07a90" stroke-width="0.6" stroke-opacity="0.55"/><line x1="339.1" y1="404.1" x2="281.4" y2="550.7" stroke="#7a8cc0" stroke-width="0.6" stroke-opacity="0.55"/><line x1="339.1" y1="404.1" x2="265.1" y2="545.0" stroke="#e07a90" stroke-width="0.6" stroke-opacity="0.55"/><line x1="339.1" y1="404.1" x2="250.9" y2="535.9" stroke="#7a8cc0" stroke-width="0.6" stroke-opacity="0.55"/><line x1="339.1" y1="404.1" x2="228.0" y2="509.9" stroke="#e07a90" stroke-width="0.6" stroke-opacity="0.55"/><line x1="339.1" y1="404.1" x2="219.4" y2="476.4" stroke="#e07a90" stroke-width="0.6" stroke-opacity="0.55"/><line x1="339.1" y1="404.1" x2="233.4" y2="427.3" stroke="#e07a90" stroke-width="0.6" stroke-opacity="0.55"/><line x1="339.1" y1="404.1" x2="244.3" y2="414.4" stroke="#e07a90" stroke-width="0.6" stroke-opacity="0.55"/><line x1="352.9" y1="414.1" x2="363.4" y2="426.4" stroke="#7a8cc0" stroke-width="0.6" stroke-opacity="0.55"/><line x1="352.9" y1="414.1" x2="371.4" y2="442.7" stroke="#e07a90" stroke-width="0.6" stroke-opacity="0.55"/><line x1="352.9" y1="414.1" x2="376.3" y2="459.3" stroke="#7a8cc0" stroke-width="0.6" stroke-opacity="0.55"/><line x1="352.9" y1="414.1" x2="374.3" y2="493.6" stroke="#7a8cc0" stroke-width="0.6" stroke-opacity="0.55"/><line x1="352.9" y1="414.1" x2="368.0" y2="509.3" stroke="#e07a90" stroke-width="0.6" stroke-opacity="0.55"/><line x1="352.9" y1="414.1" x2="347.1" y2="535.6" stroke="#e07a90" stroke-width="0.6" stroke-opacity="0.55"/><line x1="352.9" y1="414.1" x2="331.4" y2="543.6" stroke="#7a8cc0" stroke-width="0.6" stroke-opacity="0.55"/><line x1="352.9" y1="414.1" x2="315.1" y2="550.1" stroke="#e07a90" stroke-width="0.6" stroke-opacity="0.55"/><line x1="352.9" y1="414.1" x2="298.6" y2="552.7" stroke="#e07a90" stroke-width="0.6" stroke-opacity="0.55"/><line x1="352.9" y1="414.1" x2="281.4" y2="550.7" stroke="#e07a90" stroke-width="0.6" stroke-opacity="0.55"/><line x1="352.9" y1="414.1" x2="265.1" y2="545.0" stroke="#e07a90" stroke-width="0.6" stroke-opacity="0.55"/><line x1="352.9" y1="414.1" x2="250.9" y2="535.9" stroke="#e07a90" stroke-width="0.6" stroke-opacity="0.55"/><line x1="352.9" y1="414.1" x2="228.0" y2="509.9" stroke="#7a8cc0" stroke-width="0.6" stroke-opacity="0.55"/><line x1="352.9" y1="414.1" x2="222.3" y2="493.6" stroke="#7a8cc0" stroke-width="0.6" stroke-opacity="0.55"/><line x1="352.9" y1="414.1" x2="258.0" y2="404.0" stroke="#7a8cc0" stroke-width="0.6" stroke-opacity="0.55"/><line x1="363.4" y1="426.4" x2="371.4" y2="442.7" stroke="#7a8cc0" stroke-width="0.6" stroke-opacity="0.55"/><line x1="363.4" y1="426.4" x2="376.3" y2="459.3" stroke="#7a8cc0" stroke-width="0.6" stroke-opacity="0.55"/><line x1="363.4" y1="426.4" x2="374.3" y2="493.6" stroke="#e07a90" stroke-width="0.6" stroke-opacity="0.55"/><line x1="363.4" y1="426.4" x2="358.0" y2="523.6" stroke="#7a8cc0" stroke-width="0.6" stroke-opacity="0.55"/><line x1="363.4" y1="426.4" x2="347.1" y2="535.6" stroke="#e07a90" stroke-width="0.6" stroke-opacity="0.55"/><line x1="363.4" y1="426.4" x2="331.4" y2="543.6" stroke="#7a8cc0" stroke-width="0.6" stroke-opacity="0.55"/><line x1="363.4" y1="426.4" x2="315.1" y2="550.1" stroke="#7a8cc0" stroke-width="0.6" stroke-opacity="0.55"/><line x1="363.4" y1="426.4" x2="298.6" y2="552.7" stroke="#e07a90" stroke-width="0.6" stroke-opacity="0.55"/><line x1="363.4" y1="426.4" x2="265.1" y2="545.0" stroke="#7a8cc0" stroke-width="0.6" stroke-opacity="0.55"/><line x1="363.4" y1="426.4" x2="233.4" y2="427.3" stroke="#7a8cc0" stroke-width="0.6" stroke-opacity="0.55"/><line x1="371.4" y1="442.7" x2="377.7" y2="476.4" stroke="#7a8cc0" stroke-width="0.6" stroke-opacity="0.55"/><line x1="371.4" y1="442.7" x2="374.3" y2="493.6" stroke="#7a8cc0" stroke-width="0.6" stroke-opacity="0.55"/><line x1="371.4" y1="442.7" x2="358.0" y2="523.6" stroke="#e07a90" stroke-width="0.6" stroke-opacity="0.55"/><line x1="371.4" y1="442.7" x2="347.1" y2="535.6" stroke="#7a8cc0" stroke-width="0.6" stroke-opacity="0.55"/><line x1="371.4" y1="442.7" x2="331.4" y2="543.6" stroke="#7a8cc0" stroke-width="0.6" stroke-opacity="0.55"/><line x1="371.4" y1="442.7" x2="315.1" y2="550.1" stroke="#7a8cc0" stroke-width="0.6" stroke-opacity="0.55"/><line x1="371.4" y1="442.7" x2="298.6" y2="552.7" stroke="#7a8cc0" stroke-width="0.6" stroke-opacity="0.55"/><line x1="371.4" y1="442.7" x2="281.4" y2="550.7" stroke="#7a8cc0" stroke-width="0.6" stroke-opacity="0.55"/><line x1="371.4" y1="442.7" x2="222.3" y2="493.6" stroke="#e07a90" stroke-width="0.6" stroke-opacity="0.55"/><line x1="371.4" y1="442.7" x2="225.1" y2="442.7" stroke="#7a8cc0" stroke-width="0.6" stroke-opacity="0.55"/><line x1="371.4" y1="442.7" x2="244.3" y2="414.4" stroke="#e07a90" stroke-width="0.6" stroke-opacity="0.55"/><line x1="376.3" y1="459.3" x2="377.7" y2="476.4" stroke="#e07a90" stroke-width="0.6" stroke-opacity="0.55"/><line x1="376.3" y1="459.3" x2="374.3" y2="493.6" stroke="#e07a90" stroke-width="0.6" stroke-opacity="0.55"/><line x1="376.3" y1="459.3" x2="368.0" y2="509.3" stroke="#e07a90" stroke-width="0.6" stroke-opacity="0.55"/><line x1="376.3" y1="459.3" x2="358.0" y2="523.6" stroke="#e07a90" stroke-width="0.6" stroke-opacity="0.55"/><line x1="376.3" y1="459.3" x2="347.1" y2="535.6" stroke="#7a8cc0" stroke-width="0.6" stroke-opacity="0.55"/><line x1="376.3" y1="459.3" x2="331.4" y2="543.6" stroke="#7a8cc0" stroke-width="0.6" stroke-opacity="0.55"/><line x1="376.3" y1="459.3" x2="315.1" y2="550.1" stroke="#e07a90" stroke-width="0.6" stroke-opacity="0.55"/><line x1="376.3" y1="459.3" x2="298.6" y2="552.7" stroke="#7a8cc0" stroke-width="0.6" stroke-opacity="0.55"/><line x1="376.3" y1="459.3" x2="281.4" y2="550.7" stroke="#7a8cc0" stroke-width="0.6" stroke-opacity="0.55"/><line x1="376.3" y1="459.3" x2="265.1" y2="545.0" stroke="#e07a90" stroke-width="0.6" stroke-opacity="0.55"/><line x1="376.3" y1="459.3" x2="250.9" y2="535.9" stroke="#7a8cc0" stroke-width="0.6" stroke-opacity="0.55"/><line x1="376.3" y1="459.3" x2="228.0" y2="509.9" stroke="#e07a90" stroke-width="0.6" stroke-opacity="0.55"/><line x1="376.3" y1="459.3" x2="222.3" y2="493.6" stroke="#e07a90" stroke-width="0.6" stroke-opacity="0.55"/><line x1="376.3" y1="459.3" x2="225.1" y2="442.7" stroke="#e07a90" stroke-width="0.6" stroke-opacity="0.55"/><line x1="376.3" y1="459.3" x2="244.3" y2="414.4" stroke="#7a8cc0" stroke-width="0.6" stroke-opacity="0.55"/><line x1="377.7" y1="476.4" x2="374.3" y2="493.6" stroke="#7a8cc0" stroke-width="0.6" stroke-opacity="0.55"/><line x1="377.7" y1="476.4" x2="368.0" y2="509.3" stroke="#7a8cc0" stroke-width="0.6" stroke-opacity="0.55"/><line x1="377.7" y1="476.4" x2="358.0" y2="523.6" stroke="#7a8cc0" stroke-width="0.6" stroke-opacity="0.55"/><line x1="377.7" y1="476.4" x2="315.1" y2="550.1" stroke="#7a8cc0" stroke-width="0.6" stroke-opacity="0.55"/><line x1="377.7" y1="476.4" x2="298.6" y2="552.7" stroke="#e07a90" stroke-width="0.6" stroke-opacity="0.55"/><line x1="377.7" y1="476.4" x2="281.4" y2="550.7" stroke="#7a8cc0" stroke-width="0.6" stroke-opacity="0.55"/><line x1="377.7" y1="476.4" x2="265.1" y2="545.0" stroke="#7a8cc0" stroke-width="0.6" stroke-opacity="0.55"/><line x1="377.7" y1="476.4" x2="220.6" y2="459.3" stroke="#e07a90" stroke-width="0.6" stroke-opacity="0.55"/><line x1="377.7" y1="476.4" x2="225.1" y2="442.7" stroke="#e07a90" stroke-width="0.6" stroke-opacity="0.55"/><line x1="377.7" y1="476.4" x2="244.3" y2="414.4" stroke="#e07a90" stroke-width="0.6" stroke-opacity="0.55"/><line x1="377.7" y1="476.4" x2="258.0" y2="404.0" stroke="#e07a90" stroke-width="0.6" stroke-opacity="0.55"/><line x1="374.3" y1="493.6" x2="358.0" y2="523.6" stroke="#e07a90" stroke-width="0.6" stroke-opacity="0.55"/><line x1="374.3" y1="493.6" x2="347.1" y2="535.6" stroke="#e07a90" stroke-width="0.6" stroke-opacity="0.55"/><line x1="374.3" y1="493.6" x2="331.4" y2="543.6" stroke="#e07a90" stroke-width="0.6" stroke-opacity="0.55"/><line x1="374.3" y1="493.6" x2="315.1" y2="550.1" stroke="#7a8cc0" stroke-width="0.6" stroke-opacity="0.55"/><line x1="374.3" y1="493.6" x2="265.1" y2="545.0" stroke="#e07a90" stroke-width="0.6" stroke-opacity="0.55"/><line x1="374.3" y1="493.6" x2="250.9" y2="535.9" stroke="#e07a90" stroke-width="0.6" stroke-opacity="0.55"/><line x1="374.3" y1="493.6" x2="228.0" y2="509.9" stroke="#7a8cc0" stroke-width="0.6" stroke-opacity="0.55"/><line x1="374.3" y1="493.6" x2="220.6" y2="459.3" stroke="#e07a90" stroke-width="0.6" stroke-opacity="0.55"/><line x1="374.3" y1="493.6" x2="233.4" y2="427.3" stroke="#7a8cc0" stroke-width="0.6" stroke-opacity="0.55"/><line x1="374.3" y1="493.6" x2="244.3" y2="414.4" stroke="#7a8cc0" stroke-width="0.6" stroke-opacity="0.55"/><line x1="368.0" y1="509.3" x2="358.0" y2="523.6" stroke="#7a8cc0" stroke-width="0.6" stroke-opacity="0.55"/><line x1="368.0" y1="509.3" x2="347.1" y2="535.6" stroke="#e07a90" stroke-width="0.6" stroke-opacity="0.55"/><line x1="368.0" y1="509.3" x2="331.4" y2="543.6" stroke="#7a8cc0" stroke-width="0.6" stroke-opacity="0.55"/><line x1="368.0" y1="509.3" x2="315.1" y2="550.1" stroke="#7a8cc0" stroke-width="0.6" stroke-opacity="0.55"/><line x1="368.0" y1="509.3" x2="298.6" y2="552.7" stroke="#e07a90" stroke-width="0.6" stroke-opacity="0.55"/><line x1="368.0" y1="509.3" x2="265.1" y2="545.0" stroke="#7a8cc0" stroke-width="0.6" stroke-opacity="0.55"/><line x1="368.0" y1="509.3" x2="220.6" y2="459.3" stroke="#e07a90" stroke-width="0.6" stroke-opacity="0.55"/><line x1="368.0" y1="509.3" x2="233.4" y2="427.3" stroke="#e07a90" stroke-width="0.6" stroke-opacity="0.55"/><line x1="368.0" y1="509.3" x2="244.3" y2="414.4" stroke="#e07a90" stroke-width="0.6" stroke-opacity="0.55"/><line x1="358.0" y1="523.6" x2="331.4" y2="543.6" stroke="#e07a90" stroke-width="0.6" stroke-opacity="0.55"/><line x1="358.0" y1="523.6" x2="315.1" y2="550.1" stroke="#7a8cc0" stroke-width="0.6" stroke-opacity="0.55"/><line x1="358.0" y1="523.6" x2="298.6" y2="552.7" stroke="#e07a90" stroke-width="0.6" stroke-opacity="0.55"/><line x1="358.0" y1="523.6" x2="228.0" y2="509.9" stroke="#7a8cc0" stroke-width="0.6" stroke-opacity="0.55"/><line x1="358.0" y1="523.6" x2="220.6" y2="459.3" stroke="#e07a90" stroke-width="0.6" stroke-opacity="0.55"/><line x1="358.0" y1="523.6" x2="244.3" y2="414.4" stroke="#e07a90" stroke-width="0.6" stroke-opacity="0.55"/><line x1="347.1" y1="535.6" x2="298.6" y2="552.7" stroke="#7a8cc0" stroke-width="0.6" stroke-opacity="0.55"/><line x1="347.1" y1="535.6" x2="219.4" y2="476.4" stroke="#e07a90" stroke-width="0.6" stroke-opacity="0.55"/><line x1="347.1" y1="535.6" x2="258.0" y2="404.0" stroke="#e07a90" stroke-width="0.6" stroke-opacity="0.55"/><line x1="331.4" y1="543.6" x2="238.0" y2="523.6" stroke="#7a8cc0" stroke-width="0.6" stroke-opacity="0.55"/><line x1="331.4" y1="543.6" x2="219.4" y2="476.4" stroke="#e07a90" stroke-width="0.6" stroke-opacity="0.55"/><line x1="331.4" y1="543.6" x2="220.6" y2="459.3" stroke="#e07a90" stroke-width="0.6" stroke-opacity="0.55"/><line x1="331.4" y1="543.6" x2="225.1" y2="442.7" stroke="#7a8cc0" stroke-width="0.6" stroke-opacity="0.55"/><line x1="315.1" y1="550.1" x2="298.6" y2="552.7" stroke="#e07a90" stroke-width="0.6" stroke-opacity="0.55"/><line x1="315.1" y1="550.1" x2="265.1" y2="545.0" stroke="#e07a90" stroke-width="0.6" stroke-opacity="0.55"/><line x1="315.1" y1="550.1" x2="238.0" y2="523.6" stroke="#e07a90" stroke-width="0.6" stroke-opacity="0.55"/><line x1="315.1" y1="550.1" x2="228.0" y2="509.9" stroke="#e07a90" stroke-width="0.6" stroke-opacity="0.55"/><line x1="315.1" y1="550.1" x2="219.4" y2="476.4" stroke="#e07a90" stroke-width="0.6" stroke-opacity="0.55"/><line x1="315.1" y1="550.1" x2="220.6" y2="459.3" stroke="#7a8cc0" stroke-width="0.6" stroke-opacity="0.55"/><line x1="298.6" y1="552.7" x2="238.0" y2="523.6" stroke="#e07a90" stroke-width="0.6" stroke-opacity="0.55"/><line x1="298.6" y1="552.7" x2="244.3" y2="414.4" stroke="#7a8cc0" stroke-width="0.6" stroke-opacity="0.55"/><line x1="298.6" y1="552.7" x2="258.0" y2="404.0" stroke="#7a8cc0" stroke-width="0.6" stroke-opacity="0.55"/><line x1="281.4" y1="550.7" x2="250.9" y2="535.9" stroke="#e07a90" stroke-width="0.6" stroke-opacity="0.55"/><line x1="265.1" y1="545.0" x2="238.0" y2="523.6" stroke="#7a8cc0" stroke-width="0.6" stroke-opacity="0.55"/><line x1="265.1" y1="545.0" x2="228.0" y2="509.9" stroke="#7a8cc0" stroke-width="0.6" stroke-opacity="0.55"/><line x1="250.9" y1="535.9" x2="228.0" y2="509.9" stroke="#e07a90" stroke-width="0.6" stroke-opacity="0.55"/><line x1="228.0" y1="509.9" x2="219.4" y2="476.4" stroke="#7a8cc0" stroke-width="0.6" stroke-opacity="0.55"/><line x1="222.3" y1="493.6" x2="220.6" y2="459.3" stroke="#e07a90" stroke-width="0.6" stroke-opacity="0.55"/><line x1="219.4" y1="476.4" x2="225.1" y2="442.7" stroke="#e07a90" stroke-width="0.6" stroke-opacity="0.55"/><line x1="220.6" y1="459.3" x2="233.4" y2="427.3" stroke="#7a8cc0" stroke-width="0.6" stroke-opacity="0.55"/><line x1="225.1" y1="442.7" x2="244.3" y2="414.4" stroke="#e07a90" stroke-width="0.6" stroke-opacity="0.55"/><circle cx="272.90" cy="395.90" r="6.30" fill="#7fd27f" /><text x="272.90" y="399.60" font-size="10.4" text-anchor="middle" fill="#143014" >F</text><circle cx="290.00" cy="392.70" r="1.60" fill="#8fd08f" /><circle cx="307.00" cy="392.70" r="1.60" fill="#e08048" /><circle cx="323.40" cy="396.40" r="6.30" fill="#e2702e" /><text x="323.40" y="400.10" font-size="10.4" text-anchor="middle" fill="#3a1606" >E</text><circle cx="339.10" cy="404.10" r="6.30" fill="#7fd27f" /><text x="339.10" y="407.80" font-size="10.4" text-anchor="middle" fill="#143014" >D</text><circle cx="352.90" cy="414.10" r="6.30" fill="#7fd27f" /><text x="352.90" y="417.80" font-size="10.4" text-anchor="middle" fill="#143014" >C</text><circle cx="363.40" cy="426.40" r="6.30" fill="#e2702e" /><text x="363.40" y="430.10" font-size="10.4" text-anchor="middle" fill="#3a1606" >B</text><circle cx="371.40" cy="442.70" r="6.30" fill="#7fd27f" /><text x="371.40" y="446.40" font-size="10.4" text-anchor="middle" fill="#143014" >A1</text><circle cx="376.30" cy="459.30" r="1.60" fill="#8fd08f" /><circle cx="377.70" cy="476.40" r="1.60" fill="#8fd08f" /><circle cx="374.30" cy="493.60" r="1.60" fill="#8fd08f" /><circle cx="368.00" cy="509.30" r="6.30" fill="#7fd27f" /><text x="368.00" y="513.00" font-size="10.4" text-anchor="middle" fill="#143014" >A2</text><circle cx="358.00" cy="523.60" r="6.30" fill="#7fd27f" /><text x="358.00" y="527.30" font-size="10.4" text-anchor="middle" fill="#143014" >A3</text><circle cx="347.10" cy="535.60" r="1.60" fill="#8fd08f" /><circle cx="331.40" cy="543.60" r="1.60" fill="#8fd08f" /><circle cx="315.10" cy="550.10" r="1.60" fill="#e08048" /><circle cx="298.60" cy="552.70" r="6.30" fill="#e2702e" /><text x="298.60" y="556.40" font-size="10.4" text-anchor="middle" fill="#3a1606" >A4</text><circle cx="281.40" cy="550.70" r="1.60" fill="#e08048" /><circle cx="265.10" cy="545.00" r="1.60" fill="#8fd08f" /><circle cx="250.90" cy="535.90" r="1.60" fill="#8fd08f" /><circle cx="238.00" cy="523.60" r="1.60" fill="#e08048" /><circle cx="228.00" cy="509.90" r="1.60" fill="#8fd08f" /><circle cx="222.30" cy="493.60" r="1.60" fill="#8fd08f" /><circle cx="219.40" cy="476.40" r="1.60" fill="#e08048" /><circle cx="220.60" cy="459.30" r="1.60" fill="#8fd08f" /><circle cx="225.10" cy="442.70" r="1.60" fill="#e08048" /><circle cx="233.40" cy="427.30" r="1.60" fill="#8fd08f" /><circle cx="244.30" cy="414.40" r="1.60" fill="#e08048" /><circle cx="258.00" cy="404.00" r="1.60" fill="#8fd08f" /><line x1="188.00" y1="394.40" x2="214.90" y2="394.40" stroke="#e8a294" stroke-width="0.8" /><line x1="214.90" y1="394.40" x2="201.40" y2="418.70" stroke="#e8a294" stroke-width="0.8" /><line x1="201.40" y1="418.70" x2="188.00" y2="394.40" stroke="#e8a294" stroke-width="0.8" /><circle cx="188.00" cy="394.40" r="1.30" fill="#8fd08f" /><circle cx="214.90" cy="394.40" r="1.30" fill="#e08048" /><circle cx="201.40" cy="418.70" r="1.30" fill="#e08048" /><line x1="385.10" y1="395.60" x2="412.00" y2="395.60" stroke="#e8a294" stroke-width="0.8" /><line x1="412.00" y1="395.60" x2="398.60" y2="420.10" stroke="#e8a294" stroke-width="0.8" /><line x1="398.60" y1="420.10" x2="385.10" y2="395.60" stroke="#e8a294" stroke-width="0.8" /><circle cx="385.10" cy="395.60" r="1.30" fill="#8fd08f" /><circle cx="412.00" cy="395.60" r="1.30" fill="#e08048" /><circle cx="398.60" cy="420.10" r="1.30" fill="#e08048" /><line x1="419.40" y1="388.20" x2="590.00" y2="388.20" stroke="#333" stroke-width="1.1" /><text x="422.20" y="400.50" font-size="10.5" text-anchor="start" fill="#1a1a1a" >Nodes Species</text><line x1="419.40" y1="403.40" x2="590.00" y2="403.40" stroke="#333" stroke-width="1.1" /><text x="434.50" y="413.30" font-size="10.5" text-anchor="middle" fill="#1a1a1a" >A1</text><text x="456.30" y="413.30" font-size="10.5" text-anchor="start" fill="#1a1a1a" >Lactobacillus murinus</text><text x="434.50" y="423.80" font-size="10.5" text-anchor="middle" fill="#1a1a1a" >A2</text><text x="456.30" y="423.80" font-size="10.5" text-anchor="start" fill="#1a1a1a" >Lactobacillus reuteri</text><text x="434.50" y="433.90" font-size="10.5" text-anchor="middle" fill="#1a1a1a" >A3</text><text x="456.30" y="433.90" font-size="10.5" text-anchor="start" fill="#1a1a1a" >Lactobacillus intestinalis</text><text x="434.50" y="443.20" font-size="10.5" text-anchor="middle" fill="#1a1a1a" >A4</text><text x="456.30" y="443.20" font-size="10.5" text-anchor="start" fill="#1a1a1a" >Lactobacillus johnsonii</text><text x="434.50" y="453.70" font-size="10.5" text-anchor="middle" fill="#1a1a1a" >B</text><text x="456.30" y="453.70" font-size="10.5" text-anchor="start" fill="#1a1a1a" >Trichinella pseudospiralis</text><text x="434.50" y="464.20" font-size="10.5" text-anchor="middle" fill="#1a1a1a" >C</text><text x="456.30" y="464.20" font-size="10.5" text-anchor="start" fill="#1a1a1a" >Ruminococcus flavefaciens</text><text x="434.50" y="474.30" font-size="10.5" text-anchor="middle" fill="#1a1a1a" >D</text><text x="456.30" y="474.30" font-size="10.5" text-anchor="start" fill="#1a1a1a" >Bacteroides acidifaciens</text><text x="434.50" y="484.10" font-size="10.5" text-anchor="middle" fill="#1a1a1a" >E</text><text x="456.30" y="484.10" font-size="10.5" text-anchor="start" fill="#1a1a1a" >Faecalibaculum rodentium</text><text x="434.50" y="494.20" font-size="10.5" text-anchor="middle" fill="#1a1a1a" >F</text><text x="456.30" y="494.20" font-size="10.5" text-anchor="start" fill="#1a1a1a" >Akkermansia muciniphila</text><line x1="419.40" y1="498.00" x2="590.00" y2="498.00" stroke="#333" stroke-width="1.1" /><text x="509.00" y="513.00" font-size="10.5" text-anchor="middle" fill="#1a1a1a" >Abundance</text><rect x="468.90" y="516.00" width="37.60" height="11.70" fill="#7ce07c" stroke="none" stroke-width="1" /><rect x="506.50" y="516.00" width="37.90" height="11.70" fill="#ee7a32" stroke="none" stroke-width="1" /><line x1="506.50" y1="516.00" x2="506.50" y2="527.70" stroke="#3a5a2a" stroke-width="0.8" /><text x="488.00" y="525.50" font-size="10.5" text-anchor="middle" fill="#1a3a1a" >Low</text><text x="526.00" y="525.50" font-size="10.5" text-anchor="middle" fill="#5a2a0a" >High</text><text x="506.00" y="542.30" font-size="10.5" text-anchor="middle" fill="#1a1a1a" >Correlation</text><defs><linearGradient id="corg" x1="0" x2="1" y1="0" y2="0"><stop offset="0" stop-color="#1010d0"/><stop offset="0.5" stop-color="#f4f4fa"/><stop offset="1" stop-color="#a01820"/></linearGradient></defs><rect x="468.40" y="544.30" width="76.00" height="12.20" fill="url(#corg)" stroke="none" stroke-width="1" /><text x="477.80" y="554.00" font-size="10.5" text-anchor="middle" fill="#0a0a40" >1</text><text x="507.00" y="554.00" font-size="10.5" text-anchor="middle" fill="#1a1a1a" >0</text><text x="541.60" y="554.00" font-size="10.5" text-anchor="middle" fill="#3a0a0a" >1</text>
<text x="594.70" y="385.50" font-size="16" text-anchor="start" fill="#222" >g</text><rect x="633.20" y="387.90" width="130.30" height="156.60" fill="none" stroke="#1a1a1a" stroke-width="1.6" /><line x1="625.20" y1="387.90" x2="633.20" y2="387.90" stroke="#1a1a1a" stroke-width="1.3" /><text x="623.60" y="392.10" font-size="10.5" text-anchor="end" fill="#1a1a1a" >4.0</text><line x1="625.20" y1="427.00" x2="633.20" y2="427.00" stroke="#1a1a1a" stroke-width="1.3" /><text x="623.60" y="431.20" font-size="10.5" text-anchor="end" fill="#1a1a1a" >3.5</text><line x1="625.20" y1="466.20" x2="633.20" y2="466.20" stroke="#1a1a1a" stroke-width="1.3" /><text x="623.60" y="470.40" font-size="10.5" text-anchor="end" fill="#1a1a1a" >3.0</text><line x1="625.20" y1="505.30" x2="633.20" y2="505.30" stroke="#1a1a1a" stroke-width="1.3" /><text x="623.60" y="509.50" font-size="10.5" text-anchor="end" fill="#1a1a1a" >2.5</text><line x1="625.20" y1="544.50" x2="633.20" y2="544.50" stroke="#1a1a1a" stroke-width="1.3" /><text x="623.60" y="548.70" font-size="10.5" text-anchor="end" fill="#1a1a1a" >2.0</text><line x1="670.20" y1="544.50" x2="670.20" y2="548.50" stroke="#1a1a1a" stroke-width="1.2" /><line x1="726.00" y1="544.50" x2="726.00" y2="548.50" stroke="#1a1a1a" stroke-width="1.2" /><text x="670.20" y="561.20" font-size="10.5" text-anchor="middle" fill="#1a1a1a" >GF-NC</text><text x="726.00" y="561.20" font-size="10.5" text-anchor="middle" fill="#1a1a1a" >GF-HHE</text><text x="699.80" y="383.50" font-size="10.5" text-anchor="middle" fill="#1a1a1a" >LCA</text><text transform="translate(605.50,470.20) rotate(-90)" font-size="10.5" text-anchor="middle" fill="#1a1a1a">ng / ml</text><text x="638.00" y="400.00" font-size="10.5" text-anchor="start" fill="#1a1a1a" font-style="italic">P</text><text x="645.20" y="400.00" font-size="10.5" text-anchor="start" fill="#1a1a1a" > = 0.0131</text><line x1="670.40" y1="425.80" x2="670.40" y2="439.30" stroke="#111" stroke-width="1.9" /><line x1="670.40" y1="495.20" x2="670.40" y2="502.50" stroke="#111" stroke-width="1.9" /><line x1="661.30" y1="425.80" x2="678.80" y2="425.80" stroke="#111" stroke-width="1.9" /><line x1="661.30" y1="502.50" x2="678.80" y2="502.50" stroke="#111" stroke-width="1.9" /><rect x="652.60" y="439.30" width="35.60" height="55.90" fill="#3a78b6" stroke="#222" stroke-width="1.9" /><line x1="652.60" y1="466.00" x2="688.20" y2="466.00" stroke="#222" stroke-width="1.71" /><circle cx="670.65" cy="425.78" r="2.70" fill="#1a1a1a" /><circle cx="670.65" cy="442.84" r="2.70" fill="#1a1a1a" /><circle cx="670.65" cy="447.98" r="2.70" fill="#1a1a1a" /><circle cx="670.65" cy="483.51" r="2.70" fill="#1a1a1a" /><circle cx="670.65" cy="493.56" r="2.70" fill="#1a1a1a" /><circle cx="670.65" cy="502.45" r="2.70" fill="#1a1a1a" /><line x1="726.15" y1="409.40" x2="726.15" y2="415.70" stroke="#111" stroke-width="1.9" /><line x1="726.15" y1="438.60" x2="726.15" y2="440.30" stroke="#111" stroke-width="1.9" /><line x1="717.40" y1="409.40" x2="734.90" y2="409.40" stroke="#111" stroke-width="1.9" /><line x1="717.40" y1="440.30" x2="734.90" y2="440.30" stroke="#111" stroke-width="1.9" /><rect x="708.00" y="415.70" width="36.30" height="22.90" fill="#a424e4" stroke="#222" stroke-width="1.9" /><line x1="708.00" y1="421.00" x2="744.30" y2="421.00" stroke="#222" stroke-width="1.71" /><rect x="723.78" y="406.91" width="5.00" height="5.00" fill="#1a1a1a" stroke="none" stroke-width="1" /><rect x="723.78" y="414.39" width="5.00" height="5.00" fill="#1a1a1a" stroke="none" stroke-width="1" /><rect x="712.56" y="416.26" width="5.00" height="5.00" fill="#1a1a1a" stroke="none" stroke-width="1" /><rect x="723.78" y="422.11" width="5.00" height="5.00" fill="#1a1a1a" stroke="none" stroke-width="1" /><rect x="712.56" y="437.77" width="5.00" height="5.00" fill="#1a1a1a" stroke="none" stroke-width="1" /><rect x="734.77" y="436.83" width="5.00" height="5.00" fill="#1a1a1a" stroke="none" stroke-width="1" />
<text x="1.40" y="579.50" font-size="16" text-anchor="start" fill="#222" >h</text><text x="57.00" y="588.50" font-size="10.5" text-anchor="middle" fill="#1a1a1a" >GF-NC</text><text x="153.50" y="588.50" font-size="10.5" text-anchor="middle" fill="#1a1a1a" >GF-HHE</text><rect x="7.40" y="593.00" width="96.00" height="97.00" fill="#aaa9a3" stroke="none" stroke-width="1" /><rect x="10.20" y="595.80" width="90.40" height="91.40" fill="none" stroke="#e8202e" stroke-width="3.4" /><path d="M 80.3,678.5 L 86.2,680.0 L 88.5,681.5 L 90.1,683.0 L 92.1,684.5 L 91.0,685.9 L 84.7,687.4 L 77.6,688.9 L 103.0,661.4 L 101.5,661.9 L 100.0,662.4 L 98.5,664.0 L 97.1,670.2 L 95.6,679.2 L 94.1,685.3 L 92.6,686.4 L 91.1,686.1 L 89.6,686.2 L 88.2,683.8 L 86.7,677.2 L 85.2,670.7 L 83.7,668.4 L 82.2,668.7 L 80.7,667.5 L 79.2,665.7 L 77.8,667.1 L 76.3,670.9 L 74.8,672.6 L 73.3,671.0 L 71.8,670.3 L 70.3,672.5 L 68.9,673.6 L 67.4,671.0 L 65.9,667.5 L 64.4,666.6 L 62.9,666.3 L 61.4,663.1 L 59.9,659.0 L 58.5,659.0 L 57.0,662.7 L 55.5,666.9 L 54.0,669.8 L 52.5,674.8 L 51.0,682.4 L 49.6,687.0 L 48.1,686.8 L 46.6,682.9 L 45.1,679.8 L 43.6,676.4 L 42.1,670.3 L 40.6,664.3 L 39.2,663.4 L 37.7,667.7 L 36.2,672.3 L 34.7,675.1 L 33.2,678.7 L 31.7,683.6 L 30.3,685.3 L 28.8,680.8 L 27.3,674.0 L 25.8,669.4 L 24.3,666.0 L 22.8,661.0 L 21.3,659.0 L 19.9,659.0 L 18.4,660.9 L 16.9,664.4 L 15.4,665.5 L 13.9,667.5 L 12.4,672.1 L 11.0,675.3 L 9.5,674.6 L 8.0,673.1 L 23.0,689.1 L 21.2,687.6 L 22.8,686.1 L 26.5,684.6 L 27.9,683.2 L 26.6,681.7 L 26.5,680.2 L 28.1,678.7 L 26.9,677.2 L 21.3,675.7 L 15.6,674.3 L 13.5,672.8 L 13.2,671.3 L 12.0,669.8 L 12.5,668.3 L 18.4,666.8 L 27.4,665.3 L 34.0,663.9 L 36.7,662.4 L 38.4,660.9 L 38.4,659.4 L 38.2,657.9 L 30.9,656.4 L 23.9,655.0 L 21.3,653.5 L 21.3,652.0 L 20.9,650.5 L 21.8,649.0 L 27.2,647.5 L 34.2,646.0 L 37.5,644.6 L 36.4,643.1 L 34.7,641.6 L 33.8,640.1 L 30.2,638.6 L 23.2,637.1 L 17.4,635.7 L 16.1,634.2 L 16.5,632.7 L 15.0,631.2 L 13.6,629.7 L 15.8,628.2 L 20.3,626.7 L 22.4,625.3 L 22.3,623.8 L 24.2,622.3 L 28.7,620.8 L 31.4,619.3 L 30.0,617.8 L 27.9,616.4 L 27.9,614.9 L 27.4,613.4 L 23.5,611.9 L 19.3,610.4 L 19.6,608.9 L 23.8,607.4 L 27.5,606.0 L 30.2,604.5 L 35.0,603.0 L 38.4,601.5 L 38.4,600.0 L 38.4,598.5 L 35.1,597.1 L 30.4,595.6 L 25.3,594.1 L 7.8,603.4 L 9.3,597.1 L 10.8,596.9 L 12.3,601.3 L 13.7,605.4 L 15.2,607.9 L 16.7,611.8 L 18.2,616.8 L 19.7,618.0 L 21.2,613.9 L 22.6,608.8 L 24.1,606.4 L 25.6,604.9 L 27.1,601.6 L 28.6,599.2 L 30.1,601.4 L 31.6,606.6 L 33.0,610.0 L 34.5,611.1 L 36.0,613.8 L 37.5,618.9 L 39.0,621.9 L 40.5,621.2 L 41.9,620.3 L 43.4,621.7 L 44.9,622.3 L 46.4,618.6 L 47.9,613.1 L 49.4,610.2 L 50.9,609.5 L 52.3,607.3 L 53.8,604.5 L 55.3,605.6 L 56.8,611.1 L 58.3,615.9 L 59.8,617.2 L 61.2,617.3 L 62.7,618.3 L 64.2,616.9 L 65.7,610.2 L 67.2,601.6 L 68.7,596.7 L 70.2,596.0 L 71.6,596.0 L 73.1,596.0 L 74.6,600.4 L 76.1,609.5 L 77.6,617.1 L 79.1,619.9 L 80.5,620.6 L 82.0,621.9 L 83.5,621.1 L 85.0,616.0 L 86.5,609.8 L 88.0,607.8 L 89.5,609.2 L 90.9,610.0 L 92.4,609.8 L 93.9,612.3 L 95.4,617.5 L 96.9,620.8 L 98.4,619.9 L 99.8,618.5 L 101.3,619.4 L 102.8,619.8 L 80.0,593.9 L 84.9,595.4 L 87.3,596.9 L 88.2,598.4 L 91.6,599.8 L 96.8,601.3 L 99.0,602.8 L 96.7,604.3 L 93.9,605.8 L 92.6,607.3 L 89.6,608.7 L 83.4,610.2 L 78.0,611.7 L 77.7,613.2 L 81.0,614.7 L 83.5,616.2 L 85.5,617.7 L 90.1,619.1 L 95.6,620.6 L 96.6,622.1 L 91.7,623.6 L 85.6,625.1 L 81.2,626.6 L 76.3,628.0 L 72.4,629.5 L 72.4,631.0 L 72.4,632.5 L 74.0,634.0 L 79.0,635.5 L 82.6,637.0 L 87.9,638.4 L 93.6,639.9 L 95.0,641.4 L 91.6,642.9 L 88.1,644.4 L 87.4,645.9 L 86.6,647.3 L 83.6,648.8 L 81.5,650.3 L 83.6,651.8 L 87.4,653.3 L 88.5,654.8 L 87.9,656.3 L 89.7,657.7 L 93.6,659.2 L 95.1,660.7 L 93.3,662.2 L 92.0,663.7 L 92.7,665.2 L 91.5,666.6 L 85.9,668.1 L 79.3,669.6 L 75.9,671.1 L 74.4,672.6 L 72.4,674.1 L 72.4,675.6 L 73.1,677.0 L 80.3,678.5" fill="none" stroke="#e8283a" stroke-width="1.1" stroke-opacity="0.9" stroke-linejoin="round"/><path d="M 98.5,613.3 L 100.1,614.8 L 100.4,616.3 L 100.4,617.7 L 97.0,619.2 L 93.6,620.7 L 94.7,622.2 L 97.5,623.7 L 95.7,625.2 L 87.4,626.7 L 78.4,628.1 L 75.2,629.6 L 77.3,631.1 L 78.5,632.6 L 75.2,634.1 L 72.4,635.6 L 72.4,637.0 L 72.4,638.5 L 74.7,640.0 L 76.9,641.5 L 80.7,643.0 L 87.3,644.5 L 93.4,646.0 L 95.5,647.4 L 95.2,648.9 L 97.8,650.4 L 100.4,651.9 L 100.4,653.4 L 100.4,654.9 L 100.4,656.3 L 100.4,657.8 L 100.4,659.3 L 100.4,660.8 L 100.4,662.3 L 96.9,663.8 L 90.5,665.3 L 86.7,666.7 L 84.1,668.2 L 80.5,669.7 L 77.2,671.2 L 77.2,672.7 L 80.0,674.2 L 80.9,675.6 L 77.6,677.1 L 74.0,678.6 L 76.1,680.1 L 83.6,681.6 L 89.9,683.1 L 89.8,684.6 L 85.7,686.0 L 84.3,687.5 L 87.9,689.0 L 102.9,678.9 L 101.4,679.9 L 99.9,678.1 L 98.5,677.3 L 97.0,678.0 L 95.5,677.7 L 94.0,675.7 L 92.5,675.4 L 91.0,679.3 L 89.5,684.4 L 88.1,685.1 L 86.6,681.1 L 85.1,678.2 L 83.6,681.5 L 82.1,687.0 L 80.6,687.0 L 79.2,687.0 L 77.7,683.3 L 76.2,680.9 L 74.7,681.7 L 73.2,681.4 L 71.7,677.9 L 70.2,673.6 L 68.8,670.8 L 67.3,668.0 L 65.8,662.9 L 64.3,659.0 L 62.8,659.0 L 61.3,659.5 L 59.9,663.3 L 58.4,662.4 L 56.9,659.0 L 55.4,659.0 L 53.9,665.6 L 52.4,675.5 L 50.9,681.4 L 49.5,682.3 L 48.0,682.9 L 46.5,686.9 L 45.0,687.0 L 43.5,687.0 L 42.0,687.0 L 40.6,687.0 L 39.1,687.0 L 37.6,687.0 L 36.1,687.0 L 34.6,681.1 L 33.1,679.2 L 31.6,680.9 L 30.2,680.0 L 28.7,672.9 L 27.2,664.0 L 25.7,660.4 L 24.2,663.3 L 22.7,667.1 L 21.3,667.0 L 19.8,664.3 L 18.3,663.6 L 16.8,666.2 L 15.3,669.0 L 13.8,670.1 L 12.3,671.6 L 10.9,675.4 L 9.4,679.1 L 7.9,678.6 L 23.0,689.0 L 25.2,687.5 L 21.6,686.0 L 15.7,684.6 L 14.4,683.1 L 19.1,681.6 L 24.0,680.1 L 23.4,678.6 L 18.2,677.1 L 14.2,675.6 L 14.1,674.2 L 15.2,672.7 L 14.2,671.2 L 12.2,669.7 L 11.9,668.2 L 13.0,666.7 L 12.1,665.3 L 10.4,663.8 L 10.4,662.3 L 13.5,660.8 L 21.5,659.3 L 25.8,657.8 L 24.4,656.3 L 22.5,654.9 L 26.2,653.4 L 34.6,651.9 L 38.4,650.4 L 38.4,648.9 L 38.4,647.4 L 37.2,646.0 L 37.5,644.5 L 36.3,643.0 L 32.6,641.5 L 28.9,640.0 L 26.9,638.5 L 24.0,637.0 L 17.0,635.6 L 10.4,634.1 L 10.4,632.6 L 10.4,631.1 L 10.4,629.6 L 10.4,628.1 L 10.4,626.7 L 10.4,625.2 L 10.4,623.7 L 10.4,622.2 L 15.3,620.7 L 17.0,619.2 L 18.5,617.7 L 22.3,616.3 L 26.6,614.8 L 28.7,613.3 L 29.8,611.8 L 32.8,610.3 L 36.9,608.8 L 37.8,607.4 L 33.0,605.9 L 26.9,604.4 L 25.7,602.9 L 29.6,601.4 L 32.1,599.9 L 28.4,598.4 L 21.1,597.0 L 17.1,595.5 L 18.8,594.0 L 7.9,607.6 L 9.4,607.9 L 10.9,606.0 L 12.3,605.2 L 13.8,605.9 L 15.3,605.5 L 16.8,603.2 L 18.3,601.9 L 19.8,604.3 L 21.3,607.4 L 22.7,605.7 L 24.2,599.0 L 25.7,596.0 L 27.2,596.0 L 28.7,599.4 L 30.2,601.9 L 31.6,598.7 L 33.1,596.0 L 34.6,596.0 L 36.1,599.5 L 37.6,604.4 L 39.1,607.1 L 40.6,609.6 L 42.0,613.9 L 43.5,618.1 L 45.0,619.3 L 46.5,618.8 L 48.0,621.0 L 49.5,624.0 L 50.9,624.0 L 52.4,624.0 L 53.9,619.0 L 55.4,613.0 L 56.9,612.8 L 58.4,614.2 L 59.9,611.0 L 61.3,602.7 L 62.8,596.0 L 64.3,596.0 L 65.8,596.0 L 67.3,596.0 L 68.8,596.0 L 70.2,596.0 L 71.7,596.0 L 73.2,596.0 L 74.7,596.0 L 76.2,596.0 L 77.7,598.4 L 79.2,607.9 L 80.6,614.6 L 82.1,614.3 L 83.6,611.2 L 85.1,612.0 L 86.6,617.8 L 88.1,623.1 L 89.5,622.9 L 91.0,618.7 L 92.5,615.6 L 94.0,614.9 L 95.5,614.0 L 97.0,611.3 L 98.5,609.2 L 99.9,609.8 L 101.4,610.9 L 102.9,608.5 L 93.3,594.0 L 96.2,595.5 L 92.8,597.0 L 86.8,598.4 L 85.4,599.9 L 90.2,601.4 L 95.6,602.9 L 95.9,604.4 L 92.2,605.9 L 90.2,607.4 L 92.6,608.8 L 96.3,610.3 L 98.0,611.8 L 98.5,613.3" fill="none" stroke="#e8283a" stroke-width="1.1" stroke-opacity="0.9" stroke-linejoin="round"/><path d="M 21.3,600.3 L 22.7,601.4 L 24.2,606.7 L 25.7,613.7 L 27.2,619.9 L 28.7,624.0 L 30.2,624.0 L 31.6,621.7 L 33.1,613.9 L 34.6,606.0 L 36.1,603.4 L 37.6,607.7 L 39.1,614.4 L 40.6,617.4 L 42.0,615.6 L 43.5,612.6 L 45.0,612.1 L 46.5,613.8 L 48.0,614.8 L 49.5,613.3 L 50.9,609.6 L 52.4,604.1 L 53.9,596.6 L 55.4,596.0 L 56.9,596.0 L 58.4,596.0 L 59.9,596.7 L 61.3,603.7 L 62.8,604.3 L 64.3,599.5 L 65.8,596.0 L 67.3,596.0 L 68.8,596.0 L 70.2,596.0 L 71.7,596.0 L 73.2,596.0 L 74.7,596.0 L 76.2,596.0 L 77.7,596.0 L 79.2,596.0 L 80.6,604.4 L 82.1,614.5 L 83.6,618.7 L 85.1,614.9 L 86.6,607.6 L 88.1,602.9 L 89.5,603.5 L 91.0,606.7 L 92.5,609.5 L 94.0,611.5 L 95.5,613.3 L 97.0,614.8 L 98.5,615.5 L 99.9,616.6 L 101.4,619.8 L 102.9,624.0 L 72.4,594.0 L 75.5,595.5 L 86.4,597.0 L 96.2,598.4 L 99.3,599.9 L 96.2,601.4 L 91.4,602.9 L 88.6,604.4 L 88.0,605.9 L 88.8,607.4 L 91.1,608.8 L 94.6,610.3 L 97.6,611.8 L 98.2,613.3 L 97.7,614.8 L 100.0,616.3 L 100.4,617.7 L 100.4,619.2 L 100.4,620.7 L 100.4,622.2 L 100.4,623.7 L 94.3,625.2 L 91.6,626.7 L 92.6,628.1 L 95.1,629.6 L 98.3,631.1 L 100.4,632.6 L 100.4,634.1 L 98.4,635.6 L 94.1,637.0 L 92.4,638.5 L 94.1,640.0 L 94.9,641.5 L 90.3,643.0 L 80.8,644.5 L 72.4,646.0 L 72.4,647.4 L 73.4,648.9 L 79.7,650.4 L 85.4,651.9 L 89.3,653.4 L 90.6,654.9 L 88.2,656.3 L 83.1,657.8 L 78.8,659.3 L 79.1,660.8 L 83.1,662.3 L 86.0,663.8 L 84.6,665.3 L 81.1,666.7 L 81.2,668.2 L 87.4,669.7 L 96.9,671.2 L 100.4,672.7 L 100.4,674.2 L 100.4,675.6 L 100.4,677.1 L 99.4,678.6 L 93.7,680.1 L 92.0,681.6 L 95.9,683.1 L 100.4,684.6 L 100.4,686.0 L 100.4,687.5 L 100.4,689.0 L 102.9,687.0 L 101.4,687.0 L 99.9,687.0 L 98.5,687.0 L 97.0,687.0 L 95.5,682.9 L 94.0,675.4 L 92.5,669.1 L 91.0,666.0 L 89.5,668.3 L 88.1,675.1 L 86.6,681.2 L 85.1,681.5 L 83.6,676.1 L 82.1,670.4 L 80.6,668.7 L 79.2,670.2 L 77.7,670.7 L 76.2,667.8 L 74.7,663.1 L 73.2,659.6 L 71.7,659.0 L 70.2,660.5 L 68.8,665.6 L 67.3,674.0 L 65.8,682.9 L 64.3,687.0 L 62.8,683.9 L 61.3,676.6 L 59.9,672.0 L 58.4,673.3 L 56.9,678.0 L 55.4,681.3 L 53.9,681.9 L 52.4,681.8 L 50.9,683.5 L 49.5,686.8 L 48.0,687.0 L 46.5,687.0 L 45.0,687.0 L 43.5,687.0 L 42.0,687.0 L 40.6,687.0 L 39.1,678.3 L 37.6,675.4 L 36.1,679.4 L 34.6,685.3 L 33.1,687.0 L 31.6,686.8 L 30.2,684.7 L 28.7,683.4 L 27.2,682.4 L 25.7,681.0 L 24.2,679.6 L 22.7,678.0 L 21.3,674.2 L 19.8,666.9 L 18.3,659.0 L 16.8,659.0 L 15.3,659.5 L 13.8,668.9 L 12.3,676.4 L 10.9,677.8 L 9.4,674.6 L 7.9,670.9 L 28.6,689.0 L 29.6,687.5 L 29.9,686.0 L 28.8,684.6 L 27.0,683.1 L 26.2,681.6 L 27.4,680.1 L 27.7,678.6 L 22.9,677.1 L 12.8,675.6 L 10.4,674.2 L 10.4,672.7 L 10.4,671.2 L 10.4,669.7 L 15.1,668.2 L 16.4,666.7 L 15.4,665.3 L 13.0,663.8 L 10.4,662.3 L 10.4,660.8 L 10.4,659.3 L 10.4,657.8 L 10.4,656.3 L 10.4,654.9 L 10.4,653.4 L 10.4,651.9 L 10.4,650.4 L 18.0,648.9 L 27.2,647.4 L 30.5,646.0 L 28.8,644.5 L 25.1,643.0 L 21.2,641.5 L 18.2,640.0 L 17.6,638.5 L 20.8,637.0 L 26.3,635.6 L 30.0,634.1 L 29.4,632.6 L 27.3,631.1 L 28.4,629.6 L 34.2,628.1 L 38.4,626.7 L 38.4,625.2 L 35.3,623.7 L 26.5,622.2 L 19.0,620.7 L 14.4,619.2 L 13.1,617.7 L 15.1,616.3 L 20.0,614.8 L 24.7,613.3 L 25.0,611.8 L 20.3,610.3 L 14.6,608.8 L 12.8,607.4 L 14.7,605.9 L 15.5,604.4 L 11.4,602.9 L 10.4,601.4 L 10.4,599.9 L 10.4,598.4 L 10.4,597.0 L 10.4,595.5 L 11.6,594.0 L 7.9,603.8 L 9.4,607.0 L 10.9,604.3 L 12.3,597.8 L 13.8,596.0 L 15.3,596.0 L 16.8,599.3 L 18.3,602.8 L 19.8,602.2 L 21.3,600.3" fill="none" stroke="#e8283a" stroke-width="1.1" stroke-opacity="0.9" stroke-linejoin="round"/><path d="M 91.7,627.0 L 93.1,628.5 L 92.2,630.0 L 94.2,631.4 L 99.3,632.9 L 100.4,634.4 L 100.4,635.9 L 100.4,637.4 L 100.4,638.9 L 100.4,640.4 L 100.4,641.8 L 100.4,643.3 L 99.6,644.8 L 100.4,646.3 L 99.2,647.8 L 92.9,649.3 L 85.4,650.7 L 80.1,652.2 L 76.3,653.7 L 72.7,655.2 L 72.4,656.7 L 77.0,658.2 L 83.9,659.7 L 86.6,661.1 L 84.3,662.6 L 83.0,664.1 L 87.5,665.6 L 95.2,667.1 L 100.4,668.6 L 100.4,670.0 L 100.4,671.5 L 100.4,673.0 L 100.4,674.5 L 97.1,676.0 L 95.6,677.5 L 99.8,679.0 L 100.4,680.4 L 100.4,681.9 L 98.7,683.4 L 94.5,684.9 L 94.8,686.4 L 97.2,687.9 L 98.3,689.3 L 102.6,685.8 L 101.1,687.0 L 99.6,687.0 L 98.1,681.6 L 96.6,673.7 L 95.1,669.9 L 93.7,672.1 L 92.2,674.6 L 90.7,672.3 L 89.2,666.6 L 87.7,662.7 L 86.2,662.3 L 84.8,663.1 L 83.3,665.0 L 81.8,670.6 L 80.3,679.4 L 78.8,685.9 L 77.3,686.6 L 75.8,685.3 L 74.4,687.0 L 72.9,687.0 L 71.4,687.0 L 69.9,687.0 L 68.4,687.0 L 66.9,687.0 L 65.5,687.0 L 64.0,686.9 L 62.5,680.4 L 61.0,678.5 L 59.5,679.9 L 58.0,678.0 L 56.5,670.5 L 55.1,662.6 L 53.6,660.4 L 52.1,663.5 L 50.6,667.2 L 49.1,669.7 L 47.6,672.9 L 46.2,676.5 L 44.7,677.4 L 43.2,674.9 L 41.7,674.1 L 40.2,679.0 L 38.7,686.4 L 37.2,687.0 L 35.8,686.0 L 34.3,681.7 L 32.8,680.7 L 31.3,681.9 L 29.8,682.8 L 28.3,684.5 L 26.9,687.0 L 25.4,687.0 L 23.9,687.0 L 22.4,686.2 L 20.9,683.5 L 19.4,686.9 L 17.9,687.0 L 16.5,687.0 L 15.0,687.0 L 13.5,682.6 L 12.0,678.1 L 10.5,672.9 L 9.0,667.3 L 7.6,664.8 L 30.6,688.7 L 28.8,687.2 L 32.0,685.7 L 37.9,684.2 L 38.4,682.7 L 33.6,681.2 L 25.3,679.8 L 18.9,678.3 L 14.1,676.8 L 10.4,675.3 L 10.4,673.8 L 10.4,672.3 L 10.4,670.9 L 10.4,669.4 L 10.4,667.9 L 10.4,666.4 L 10.4,664.9 L 10.4,663.4 L 13.4,661.9 L 16.2,660.5 L 18.3,659.0 L 21.1,657.5 L 22.6,656.0 L 22.4,654.5 L 24.2,653.0 L 29.5,651.6 L 33.9,650.1 L 31.7,648.6 L 24.3,647.1 L 18.9,645.6 L 19.0,644.1 L 21.7,642.6 L 22.6,641.2 L 22.1,639.7 L 22.3,638.2 L 21.9,636.7 L 18.4,635.2 L 13.9,633.7 L 13.5,632.3 L 18.2,630.8 L 21.9,629.3 L 19.0,627.8 L 11.6,626.3 L 10.4,624.8 L 10.4,623.3 L 10.4,621.9 L 10.4,620.4 L 10.4,618.9 L 10.4,617.4 L 10.4,615.9 L 10.4,614.4 L 10.4,613.0 L 10.4,611.5 L 19.2,610.0 L 28.6,608.5 L 32.5,607.0 L 33.0,605.5 L 34.0,604.0 L 35.1,602.6 L 34.3,601.1 L 32.8,599.6 L 33.4,598.1 L 34.6,596.6 L 31.0,595.1 L 20.8,593.7 L 8.2,596.0 L 9.7,596.0 L 11.2,596.0 L 12.7,596.0 L 14.2,596.0 L 15.7,596.0 L 17.1,596.0 L 18.6,596.0 L 20.1,596.0 L 21.6,596.0 L 23.1,596.0 L 24.6,604.6 L 26.0,608.6 L 27.5,606.2 L 29.0,603.0 L 30.5,603.8 L 32.0,607.2 L 33.5,609.2 L 35.0,609.7 L 36.4,611.0 L 37.9,611.9 L 39.4,609.1 L 40.9,603.8 L 42.4,602.1 L 43.9,607.0 L 45.3,613.7 L 46.8,615.5 L 48.3,612.0 L 49.8,608.2 L 51.3,606.9 L 52.8,605.9 L 54.3,603.7 L 55.7,602.4 L 57.2,603.1 L 58.7,601.9 L 60.2,596.0 L 61.7,596.0 L 63.2,596.0 L 64.6,596.0 L 66.1,596.0 L 67.6,596.0 L 69.1,596.0 L 70.6,596.0 L 72.1,596.0 L 73.6,598.2 L 75.0,601.5 L 76.5,608.6 L 78.0,618.7 L 79.5,624.0 L 81.0,624.0 L 82.5,619.3 L 83.9,616.7 L 85.4,618.0 L 86.9,618.6 L 88.4,615.8 L 89.9,611.5 L 91.4,607.6 L 92.9,602.1 L 94.3,596.0 L 95.8,596.0 L 97.3,596.0 L 98.8,596.0 L 100.3,596.0 L 101.8,596.0 L 103.2,596.0 L 100.4,594.3 L 100.4,595.8 L 99.9,597.3 L 97.3,598.8 L 93.5,600.3 L 89.8,601.8 L 90.3,603.2 L 95.5,604.7 L 99.4,606.2 L 96.8,607.7 L 90.3,609.2 L 86.6,610.7 L 87.7,612.1 L 89.6,613.6 L 89.2,615.1 L 87.9,616.6 L 87.4,618.1 L 85.3,619.6 L 80.1,621.1 L 75.6,622.5 L 77.4,624.0 L 85.0,625.5 L 91.7,627.0" fill="none" stroke="#e8283a" stroke-width="1.1" stroke-opacity="0.9" stroke-linejoin="round"/><path d="M 75.0,675.3 L 73.5,673.5 L 72.0,670.7 L 70.6,668.7 L 69.1,667.8 L 67.6,664.8 L 66.1,659.0 L 64.6,659.0 L 63.1,659.0 L 61.7,659.0 L 60.2,663.0 L 58.7,665.6 L 57.2,667.0 L 55.7,668.8 L 54.2,669.3 L 52.7,667.7 L 51.3,667.5 L 49.8,672.4 L 48.3,679.8 L 46.8,683.6 L 45.3,681.8 L 43.8,678.4 L 42.4,676.8 L 40.9,676.0 L 39.4,675.0 L 37.9,675.8 L 36.4,680.3 L 34.9,685.3 L 33.4,685.4 L 32.0,680.7 L 30.5,676.6 L 29.0,676.9 L 27.5,679.3 L 26.0,680.8 L 24.5,681.9 L 23.1,683.7 L 21.6,683.7 L 20.1,678.6 L 18.6,670.3 L 17.1,664.8 L 15.6,664.8 L 14.1,666.5 L 12.7,665.6 L 11.2,662.8 L 9.7,660.4 L 8.2,659.0 L 38.4,689.3 L 38.4,687.8 L 38.4,686.4 L 36.8,684.9 L 28.8,683.4 L 25.2,681.9 L 24.3,680.4 L 22.3,678.9 L 18.9,677.4 L 16.1,676.0 L 13.2,674.5 L 10.4,673.0 L 10.4,671.5 L 10.4,670.0 L 10.4,668.5 L 10.4,667.1 L 11.9,665.6 L 13.8,664.1 L 15.9,662.6 L 18.8,661.1 L 20.5,659.6 L 21.8,658.1 L 26.6,656.7 L 35.3,655.2 L 38.4,653.7 L 38.4,652.2 L 38.4,650.7 L 37.1,649.2 L 35.7,647.8 L 34.4,646.3 L 32.6,644.8 L 32.9,643.3 L 35.1,641.8 L 34.5,640.3 L 28.4,638.8 L 20.4,637.4 L 16.6,635.9 L 17.6,634.4 L 19.6,632.9 L 20.4,631.4 L 21.6,629.9 L 23.2,628.5 L 22.0,627.0 L 16.9,625.5 L 12.3,624.0 L 13.1,622.5 L 18.0,621.0 L 21.4,619.5 L 20.9,618.1 L 18.9,616.6 L 17.4,615.1 L 15.1,613.6 L 11.7,612.1 L 10.8,610.6 L 15.7,609.2 L 23.1,607.7 L 27.1,606.2 L 26.3,604.7 L 25.1,603.2 L 26.5,601.7 L 29.3,600.2 L 31.7,598.8 L 35.6,597.3 L 38.4,595.8 L 38.4,594.3 L 7.6,624.0 L 9.1,624.0 L 10.5,620.2 L 12.0,618.4 L 13.5,618.1 L 15.0,616.0 L 16.5,613.2 L 18.0,610.9 L 19.5,607.1 L 20.9,599.2 L 22.4,596.0 L 23.9,596.0 L 25.4,596.0 L 26.9,596.0 L 28.4,596.0 L 29.8,596.0 L 31.3,596.0 L 32.8,596.9 L 34.3,597.2 L 35.8,598.3 L 37.3,604.2 L 38.8,614.3 L 40.2,622.4 L 41.7,624.0 L 43.2,623.1 L 44.7,622.4 L 46.2,622.5 L 47.7,621.7 L 49.1,621.0 L 50.6,622.9 L 52.1,624.0 L 53.6,624.0 L 55.1,618.3 L 56.6,610.3 L 58.1,606.5 L 59.5,606.6 L 61.0,606.9 L 62.5,607.0 L 64.0,608.4 L 65.5,609.9 L 67.0,607.8 L 68.4,602.1 L 69.9,597.9 L 71.4,599.5 L 72.9,604.4 L 74.4,607.3 L 75.9,606.9 L 77.4,605.9 L 78.8,604.6 L 80.3,601.4 L 81.8,596.8 L 83.3,596.0 L 84.8,600.3 L 86.3,606.5 L 87.7,608.7 L 89.2,607.1 L 90.7,605.9 L 92.2,607.0 L 93.7,608.7 L 95.2,610.7 L 96.7,615.5 L 98.1,623.5 L 99.6,624.0 L 101.1,624.0 L 102.6,624.0 L 73.9,593.7 L 73.6,595.2 L 73.0,596.6 L 74.0,598.1 L 75.2,599.6 L 76.0,601.1 L 79.9,602.6 L 88.9,604.1 L 99.0,605.6 L 100.4,607.0 L 100.4,608.5 L 100.4,610.0 L 100.4,611.5 L 100.4,613.0 L 100.4,614.5 L 100.4,615.9 L 100.4,617.4 L 100.4,618.9 L 100.4,620.4 L 90.3,621.9 L 82.3,623.4 L 79.6,624.9 L 79.1,626.3 L 77.7,627.8 L 76.3,629.3 L 76.2,630.8 L 75.2,632.3 L 72.4,633.8 L 72.4,635.2 L 72.4,636.7 L 73.9,638.2 L 81.0,639.7 L 84.4,641.2 L 85.3,642.7 L 86.3,644.2 L 86.8,645.6 L 85.4,647.1 L 84.4,648.6 L 87.8,650.1 L 94.3,651.6 L 98.2,653.1 L 96.3,654.5 L 91.8,656.0 L 89.5,657.5 L 89.3,659.0 L 89.3,660.5 L 90.2,662.0 L 94.2,663.5 L 99.2,664.9 L 100.1,666.4 L 95.5,667.9 L 90.5,669.4 L 89.7,670.9 L 92.0,672.4 L 93.4,673.8 L 93.3,675.3 L 93.2,676.8 L 92.2,678.3 L 87.0,679.8 L 78.3,681.3 L 72.4,682.8 L 72.4,684.2 L 74.4,685.7 L 75.1,687.2 L 73.1,688.7 L 103.2,659.0 L 101.7,659.0 L 100.3,659.0 L 98.8,659.0 L 97.3,659.0 L 95.8,667.1 L 94.3,676.8 L 92.8,681.7 L 91.3,682.3 L 89.9,683.2 L 88.4,685.8 L 86.9,687.0 L 85.4,687.0 L 83.9,687.0 L 82.4,687.0 L 81.0,687.0 L 79.5,687.0 L 78.0,684.6 L 76.5,677.9 L 75.0,675.3" fill="none" stroke="#e8283a" stroke-width="1.1" stroke-opacity="0.9" stroke-linejoin="round"/><path d="M 22.9,599.2 L 25.9,601.5 L 28.5,604.6 L 31.4,607.4 L 35.3,610.0 L 35.4,614.0 L 40.1,617.3 L 43.0,620.0 L 46.3,623.6 L 49.0,625.9 L 53.3,629.3 L 55.0,633.1 L 59.0,634.6 L 61.3,637.9 L 64.7,640.1 L 67.8,643.1 L 72.3,646.0 L 74.4,649.3 L 78.6,652.1 L 82.6,654.3 L 85.5,657.1 L 88.5,660.1 L 93.4,662.5 L 96.2,664.9 L 99.6,667.2" fill="none" stroke="#d42a3c" stroke-width="1.2" stroke-opacity="0.9" stroke-linejoin="round"/><path d="M 64.8,597.9 L 64.8,595.2 L 65.3,594.0 L 65.7,594.0 L 66.7,594.0 L 67.6,594.0 L 67.7,594.0 L 69.3,594.0 L 70.6,594.0 L 71.8,594.0 L 72.8,594.0 L 74.0,594.0 L 75.9,594.0 L 77.3,594.0 L 78.4,594.0 L 80.9,594.0 L 82.3,594.0 L 83.9,594.0 L 86.6,594.0 L 88.5,594.0 L 90.8,594.0 L 93.0,596.1 L 95.5,598.9 L 97.8,600.4 L 100.0,603.7" fill="none" stroke="#d42a3c" stroke-width="1.2" stroke-opacity="0.9" stroke-linejoin="round"/><path d="M 61.8,686.8 L 62.7,682.0 L 62.0,678.8 L 62.3,673.0 L 61.4,669.2 L 61.3,665.4 L 61.7,661.2 L 60.3,657.7 L 60.8,653.0 L 58.4,647.7 L 58.6,644.1 L 56.4,640.9 L 55.1,636.8 L 53.3,634.1 L 51.3,629.6 L 50.6,625.8 L 47.7,622.8 L 46.1,618.5 L 43.5,615.0 L 41.0,612.7 L 38.3,608.5 L 35.6,604.4 L 32.6,601.4 L 29.8,599.2 L 25.9,595.9" fill="none" stroke="#d42a3c" stroke-width="1.2" stroke-opacity="0.9" stroke-linejoin="round"/><path d="M 33.8,598.9 L 37.9,598.7 L 41.6,598.2 L 43.7,597.7 L 47.7,597.8 L 50.5,598.0 L 54.0,598.2 L 57.8,598.1 L 60.4,598.6 L 63.2,598.3 L 66.1,599.9 L 68.5,601.0 L 71.3,601.7 L 75.7,603.4 L 78.0,604.7 L 80.0,605.5 L 83.0,607.4 L 85.3,609.4 L 87.2,612.0 L 89.7,613.1 L 91.9,615.7 L 93.4,619.2 L 95.2,620.2 L 98.7,623.8 L 100.9,625.8" fill="none" stroke="#d42a3c" stroke-width="1.2" stroke-opacity="0.9" stroke-linejoin="round"/><path d="M 69.3,683.7 L 66.1,682.2 L 63.2,682.3 L 60.5,681.6 L 58.4,679.9 L 54.6,679.1 L 52.6,678.5 L 51.5,678.1 L 46.9,676.1 L 45.0,676.0 L 43.0,674.8 L 39.2,673.2 L 37.9,672.7 L 36.2,671.6 L 32.6,670.8 L 31.5,669.5 L 28.1,668.0 L 25.8,667.2 L 24.8,666.9 L 24.0,665.2 L 21.8,664.5 L 18.9,663.3 L 18.4,662.1 L 16.4,661.8 L 14.7,660.1" fill="none" stroke="#d42a3c" stroke-width="1.2" stroke-opacity="0.9" stroke-linejoin="round"/><path d="M 77.1,682.9 L 78.1,679.8 L 76.7,677.7 L 77.4,674.6 L 77.5,672.6 L 79.2,670.2 L 78.1,667.9 L 78.2,664.4 L 77.6,661.6 L 76.7,658.8 L 76.7,655.9 L 76.8,652.0 L 75.4,648.4 L 75.7,645.4 L 75.2,641.9 L 75.0,637.9 L 73.4,634.3 L 73.2,629.9 L 70.7,625.8 L 70.4,622.5 L 68.8,619.2 L 67.5,613.6 L 65.5,608.9 L 65.6,605.2 L 62.9,600.4" fill="none" stroke="#d42a3c" stroke-width="1.2" stroke-opacity="0.9" stroke-linejoin="round"/><path d="M 97.5,661.7 L 95.3,658.7 L 92.2,656.2 L 90.1,653.4 L 86.4,649.7 L 83.7,647.8 L 80.5,644.6 L 76.9,642.3 L 73.9,639.2 L 70.4,636.5 L 67.9,633.5 L 64.3,631.4 L 61.2,627.5 L 58.7,625.6 L 55.9,623.1 L 51.7,620.3 L 48.7,617.4 L 46.2,615.5 L 42.4,611.9 L 38.8,609.5 L 36.2,607.9 L 33.1,604.7 L 29.8,602.8 L 26.6,599.5 L 22.2,596.9" fill="none" stroke="#d42a3c" stroke-width="1.2" stroke-opacity="0.9" stroke-linejoin="round"/><path d="M 67.5,598.1 L 66.1,601.4 L 64.5,604.3 L 63.0,607.4 L 60.7,610.6 L 57.8,612.5 L 57.4,615.2 L 54.9,617.9 L 51.1,620.8 L 51.1,624.0 L 48.3,625.5 L 46.6,628.5 L 44.0,630.6 L 41.7,633.3 L 39.9,636.2 L 36.5,638.1 L 35.1,640.5 L 32.6,643.8 L 30.3,645.5 L 27.2,649.1 L 24.4,650.7 L 22.5,652.4 L 20.1,654.8 L 16.4,657.2 L 14.0,658.4" fill="none" stroke="#d42a3c" stroke-width="1.2" stroke-opacity="0.9" stroke-linejoin="round"/><path d="M 14.8,685.8 L 15.0,685.4 L 15.2,684.3 L 14.9,684.8 L 14.4,685.1 L 14.7,684.3 L 15.2,683.8 L 14.8,682.7 L 13.4,681.9 L 14.3,681.2 L 13.5,680.7 L 13.4,679.3 L 13.8,677.9 L 13.4,677.7 L 14.7,676.6 L 12.9,675.7 L 12.9,675.2 L 12.5,673.7 L 12.4,671.6 L 12.5,670.2 L 11.4,669.9 L 12.5,668.6 L 11.5,667.3 L 11.7,665.4 L 10.7,663.3" fill="none" stroke="#d42a3c" stroke-width="1.2" stroke-opacity="0.9" stroke-linejoin="round"/><path d="M 90.6,683.2 L 89.4,682.7 L 89.5,680.5 L 88.9,679.7 L 88.1,677.9 L 88.3,676.6 L 88.0,674.9 L 88.8,674.6 L 88.0,672.3 L 89.2,670.5 L 88.6,668.7 L 87.7,666.8 L 89.3,664.6 L 89.1,663.1 L 89.5,661.0 L 90.6,658.4 L 90.7,656.2 L 92.2,654.2 L 91.9,650.8 L 91.6,649.7 L 93.4,647.4 L 94.1,644.8 L 94.9,642.4 L 95.8,640.0 L 96.8,637.4" fill="none" stroke="#d42a3c" stroke-width="1.2" stroke-opacity="0.9" stroke-linejoin="round"/><path d="M 11.3,600.7 L 13.5,604.8 L 16.4,607.6 L 19.5,610.5 L 21.5,615.0 L 25.7,617.6 L 28.0,619.9 L 30.9,622.3 L 34.3,625.4 L 38.8,626.8 L 42.3,629.1 L 45.8,632.0 L 48.6,633.2 L 52.6,634.2 L 56.8,635.6 L 60.5,636.3 L 64.1,637.5 L 68.8,639.7 L 72.7,639.5 L 77.6,641.6 L 81.0,641.4 L 85.0,641.6 L 90.8,642.6 L 95.3,642.6 L 99.9,641.8" fill="none" stroke="#d42a3c" stroke-width="1.2" stroke-opacity="0.9" stroke-linejoin="round"/><path d="M 12.7,597.7 L 13.2,601.0 L 12.6,606.5 L 11.8,609.8 L 11.7,614.6 L 11.0,617.6 L 12.2,621.4 L 12.9,625.0 L 12.1,629.6 L 14.3,633.6 L 13.5,636.6 L 16.2,641.6 L 16.4,644.9 L 16.9,648.8 L 19.0,651.7 L 20.0,655.5 L 22.3,658.5 L 23.8,661.7 L 26.0,667.1 L 28.0,669.4 L 30.8,672.6 L 33.0,676.6 L 35.7,679.4 L 38.6,681.2 L 41.3,685.0" fill="none" stroke="#d42a3c" stroke-width="1.2" stroke-opacity="0.9" stroke-linejoin="round"/><path d="M 13.4,617.1 L 16.5,616.5 L 19.7,617.9 L 22.5,616.3 L 25.3,615.9 L 28.4,616.9 L 31.2,616.0 L 35.7,615.1 L 37.0,615.7 L 41.8,615.3 L 44.6,614.5 L 46.8,613.8 L 49.3,612.9 L 52.1,612.1 L 55.6,611.6 L 58.9,610.1 L 61.6,609.6 L 64.5,608.0 L 67.6,605.9 L 70.2,605.3 L 73.1,602.9 L 75.2,602.3 L 77.9,599.1 L 80.5,598.7 L 82.7,596.6" fill="none" stroke="#d42a3c" stroke-width="1.2" stroke-opacity="0.9" stroke-linejoin="round"/><path d="M 98.6,671.0 L 93.9,674.1 L 89.2,675.7 L 86.2,677.8 L 82.1,679.2 L 76.6,680.2 L 72.8,681.9 L 67.7,683.0 L 64.4,684.7 L 61.3,684.7 L 56.0,685.5 L 52.8,686.9 L 49.3,686.9 L 46.1,687.4 L 43.0,688.3 L 39.9,688.5 L 36.5,687.9 L 34.2,688.3 L 30.7,688.0 L 27.6,687.8 L 25.0,687.9 L 22.8,687.5 L 20.6,687.1 L 16.7,686.1 L 15.0,684.1" fill="none" stroke="#d42a3c" stroke-width="1.2" stroke-opacity="0.9" stroke-linejoin="round"/><path d="M 43.9,684.1 L 46.9,682.9 L 50.0,681.9 L 54.8,680.7 L 57.2,679.2 L 61.3,677.3 L 64.4,676.7 L 67.3,676.0 L 68.9,674.5 L 71.9,674.4 L 74.8,672.4 L 76.9,671.0 L 78.4,670.2 L 82.4,669.0 L 84.2,669.2 L 86.1,667.5 L 88.0,665.6 L 89.5,666.1 L 91.8,663.6 L 92.6,663.0 L 94.7,662.0 L 96.1,660.6 L 97.2,659.9 L 98.9,658.8 L 99.4,656.5" fill="none" stroke="#d42a3c" stroke-width="1.2" stroke-opacity="0.9" stroke-linejoin="round"/><path d="M 14.8,682.7 L 17.5,683.0 L 21.0,683.8 L 23.2,682.9 L 26.2,683.6 L 29.0,683.9 L 32.0,683.6 L 35.2,683.8 L 38.9,684.6 L 42.0,684.5 L 45.2,683.7 L 48.5,684.4 L 52.1,684.5 L 55.2,684.9 L 59.6,684.1 L 62.6,684.4 L 66.1,684.6 L 69.8,684.4 L 72.8,684.0 L 78.5,684.8 L 80.9,684.3 L 84.8,683.8 L 89.4,684.1 L 93.6,683.7 L 98.6,684.1" fill="none" stroke="#d42a3c" stroke-width="1.2" stroke-opacity="0.9" stroke-linejoin="round"/><path d="M 29.8,683.8 L 33.2,683.2 L 36.7,682.5 L 40.3,681.9 L 44.4,681.8 L 47.0,680.6 L 50.6,679.8 L 53.4,679.8 L 56.9,679.7 L 60.5,679.1 L 62.8,677.7 L 65.8,677.1 L 69.4,676.2 L 71.8,677.2 L 74.2,677.3 L 77.6,676.0 L 80.0,675.1 L 83.7,674.9 L 85.4,675.1 L 87.8,674.5 L 89.7,674.6 L 92.8,674.2 L 93.1,673.0 L 97.3,673.1 L 98.2,672.5" fill="none" stroke="#d42a3c" stroke-width="1.2" stroke-opacity="0.9" stroke-linejoin="round"/><path d="M 17.3,600.3 L 20.5,599.9 L 23.6,600.5 L 26.5,601.1 L 29.0,601.3 L 33.1,600.8 L 36.0,601.2 L 39.9,601.4 L 44.0,601.5 L 46.4,602.2 L 49.7,602.0 L 53.0,601.6 L 56.0,602.4 L 59.7,601.5 L 63.4,603.0 L 66.2,602.5 L 70.6,602.8 L 74.1,603.5 L 77.1,603.2 L 81.4,604.4 L 83.8,604.1 L 87.8,604.3 L 92.5,604.1 L 95.8,604.6 L 98.9,604.0" fill="none" stroke="#d42a3c" stroke-width="1.2" stroke-opacity="0.9" stroke-linejoin="round"/><path d="M 50.2,596.1 L 49.2,598.9 L 47.8,602.5 L 45.2,604.1 L 44.6,608.3 L 42.4,609.9 L 42.4,614.3 L 41.0,616.9 L 39.2,621.4 L 38.2,624.7 L 37.0,626.2 L 34.8,631.0 L 32.6,634.6 L 32.6,638.5 L 30.8,642.2 L 29.4,645.1 L 28.0,649.2 L 27.6,652.6 L 25.7,656.5 L 23.8,661.4 L 23.6,664.8 L 20.9,669.6 L 20.7,674.0 L 18.1,678.5 L 17.0,682.6" fill="none" stroke="#d42a3c" stroke-width="1.2" stroke-opacity="0.9" stroke-linejoin="round"/><path d="M 28.5,596.7 L 30.8,598.5 L 33.0,600.2 L 36.3,602.0 L 38.1,604.8 L 40.6,607.0 L 42.7,609.2 L 45.9,611.3 L 48.5,615.2 L 50.5,617.2 L 53.7,620.4 L 56.6,623.8 L 60.3,626.9 L 62.6,629.9 L 66.0,633.9 L 68.3,637.2 L 71.5,641.0 L 74.7,644.5 L 77.8,647.8 L 82.1,652.8 L 85.3,656.4 L 88.3,661.3 L 92.3,665.7 L 95.4,669.7 L 99.6,674.3" fill="none" stroke="#d42a3c" stroke-width="1.2" stroke-opacity="0.9" stroke-linejoin="round"/><path d="M 12.7,669.3 L 16.7,667.0 L 19.2,664.1 L 22.7,659.4 L 25.9,657.6 L 29.6,653.7 L 32.2,651.4 L 35.2,648.5 L 38.3,644.5 L 40.4,642.5 L 43.5,638.9 L 44.8,636.1 L 48.1,633.0 L 49.2,631.0 L 51.2,627.1 L 54.1,625.3 L 56.0,622.2 L 57.6,619.3 L 58.4,616.0 L 60.2,613.9 L 61.5,610.2 L 62.9,608.1 L 64.4,605.3 L 65.4,602.6 L 65.8,599.2" fill="none" stroke="#d42a3c" stroke-width="1.2" stroke-opacity="0.9" stroke-linejoin="round"/><path d="M 96.8,618.7 L 96.8,622.4 L 96.8,624.3 L 96.0,626.5 L 95.3,628.9 L 94.6,631.7 L 95.1,633.7 L 93.3,636.8 L 92.7,639.8 L 92.9,642.6 L 91.9,644.3 L 91.9,647.3 L 90.8,649.6 L 90.3,651.9 L 90.5,654.9 L 88.7,657.4 L 88.6,660.8 L 87.1,662.3 L 86.3,666.5 L 86.2,668.9 L 83.6,671.9 L 83.8,675.2 L 82.1,676.9 L 81.6,680.7 L 79.7,682.6" fill="none" stroke="#d42a3c" stroke-width="1.2" stroke-opacity="0.9" stroke-linejoin="round"/><path d="M 100.3,659.6 L 96.5,657.6 L 91.7,656.0 L 87.3,655.4 L 84.0,653.1 L 80.1,652.5 L 76.5,651.4 L 72.8,650.1 L 67.9,649.2 L 64.5,648.8 L 60.9,648.4 L 56.8,647.7 L 53.8,646.8 L 49.8,646.0 L 46.9,646.3 L 42.7,645.4 L 39.0,645.5 L 35.3,644.1 L 32.1,645.8 L 29.8,645.7 L 25.8,644.4 L 23.5,645.7 L 19.7,645.4 L 18.1,645.3 L 14.3,646.6" fill="none" stroke="#d42a3c" stroke-width="1.2" stroke-opacity="0.9" stroke-linejoin="round"/><path d="M 98.6,596.1 L 95.1,598.0 L 92.6,599.5 L 89.1,600.8 L 85.2,601.9 L 81.7,603.4 L 78.8,603.8 L 75.3,604.6 L 71.5,607.3 L 67.7,608.2 L 65.3,609.5 L 61.3,610.4 L 57.1,611.8 L 54.1,612.1 L 51.2,614.6 L 46.6,615.5 L 42.7,615.6 L 39.2,617.1 L 36.5,618.1 L 31.7,619.5 L 28.0,620.0 L 25.0,620.6 L 20.1,621.8 L 17.1,621.9 L 13.1,623.9" fill="none" stroke="#d42a3c" stroke-width="1.2" stroke-opacity="0.9" stroke-linejoin="round"/><path d="M 76.5,600.8 L 75.7,602.7 L 75.6,604.8 L 76.2,605.7 L 75.3,608.1 L 75.4,609.6 L 76.3,611.4 L 76.6,613.5 L 77.2,615.8 L 77.0,618.3 L 78.5,620.1 L 79.0,623.1 L 79.7,624.9 L 79.8,628.4 L 80.6,630.6 L 81.9,632.9 L 84.1,636.3 L 84.9,639.0 L 85.5,641.4 L 87.9,644.7 L 89.5,647.3 L 90.7,650.8 L 93.0,654.3 L 95.2,657.0 L 97.0,661.0" fill="none" stroke="#d42a3c" stroke-width="1.2" stroke-opacity="0.9" stroke-linejoin="round"/><path d="M 99.0,657.9 L 95.4,658.3 L 92.0,657.8 L 88.2,657.6 L 83.6,657.7 L 80.9,656.5 L 76.8,656.4 L 72.3,656.0 L 69.6,655.8 L 65.7,655.8 L 61.5,654.9 L 58.4,655.7 L 54.7,655.8 L 51.3,654.5 L 47.5,655.1 L 44.1,654.8 L 39.9,653.6 L 36.6,654.1 L 33.0,653.7 L 29.2,653.1 L 26.0,653.3 L 23.2,653.6 L 20.1,653.2 L 16.4,651.9 L 13.1,651.6" fill="none" stroke="#d42a3c" stroke-width="1.2" stroke-opacity="0.9" stroke-linejoin="round"/><path d="M 99.0,609.0 L 95.0,609.5 L 91.1,609.3 L 87.5,609.6 L 84.0,608.6 L 80.2,608.5 L 76.7,609.2 L 73.1,608.4 L 68.7,609.1 L 65.8,608.1 L 61.6,608.6 L 59.0,608.0 L 54.2,607.7 L 50.7,607.4 L 47.7,606.5 L 44.6,606.3 L 41.1,605.6 L 37.6,605.0 L 34.7,605.0 L 31.3,603.3 L 28.5,602.5 L 24.7,602.9 L 21.6,602.5 L 16.9,601.4 L 15.0,598.6" fill="none" stroke="#d42a3c" stroke-width="1.2" stroke-opacity="0.9" stroke-linejoin="round"/><path d="M 87.8,684.4 L 83.7,683.7 L 81.2,681.7 L 77.9,681.0 L 73.7,678.6 L 69.0,678.3 L 66.8,677.1 L 64.6,675.3 L 60.1,673.9 L 57.8,673.6 L 53.0,672.9 L 50.1,672.2 L 46.8,671.2 L 43.3,669.3 L 40.7,670.0 L 38.6,669.0 L 34.3,667.8 L 31.8,667.0 L 29.1,666.4 L 25.5,666.7 L 22.6,665.5 L 19.4,665.6 L 16.4,665.3 L 12.6,665.0 L 10.0,664.4" fill="none" stroke="#d42a3c" stroke-width="1.2" stroke-opacity="0.9" stroke-linejoin="round"/><path d="M 13.7,598.3 L 14.8,597.3 L 15.1,595.9 L 16.0,594.9 L 17.3,595.1 L 17.8,594.0 L 19.3,594.0 L 20.9,594.1 L 21.4,594.0 L 23.3,594.0 L 25.5,594.0 L 25.5,594.0 L 27.1,594.0 L 28.6,594.0 L 30.2,594.0 L 31.9,594.0 L 33.0,594.0 L 35.1,594.0 L 37.8,594.0 L 39.2,594.0 L 42.1,594.0 L 43.7,594.4 L 46.8,595.0 L 48.9,595.9 L 50.5,596.8" fill="none" stroke="#d42a3c" stroke-width="1.2" stroke-opacity="0.9" stroke-linejoin="round"/><path d="M 19.8,600.0 L 19.7,602.6 L 19.1,603.5 L 19.2,605.0 L 18.3,607.5 L 18.0,608.4 L 17.4,610.7 L 18.2,612.4 L 17.2,613.9 L 17.2,615.6 L 16.4,617.6 L 16.9,619.1 L 15.6,621.1 L 15.2,622.3 L 15.1,624.8 L 13.7,626.8 L 14.9,628.0 L 14.7,629.6 L 14.0,631.7 L 13.9,634.0 L 13.9,635.1 L 13.8,636.8 L 13.0,638.3 L 13.2,640.9 L 12.8,641.9" fill="none" stroke="#d42a3c" stroke-width="1.2" stroke-opacity="0.9" stroke-linejoin="round"/><rect x="28.80" y="614.90" width="53.50" height="53.70" fill="none" stroke="#f6f6f6" stroke-width="1.6" /><rect x="107.20" y="593.00" width="96.20" height="97.00" fill="#aaa9a3" stroke="none" stroke-width="1" /><rect x="110.00" y="595.80" width="90.60" height="91.40" fill="none" stroke="#e8202e" stroke-width="3.4" /><path d="M 200.4,640.5 L 200.4,641.9 L 200.4,643.4 L 200.4,644.9 L 200.4,646.4 L 200.4,647.9 L 200.4,649.4 L 199.5,650.9 L 196.7,652.4 L 195.8,653.8 L 197.9,655.3 L 200.4,656.8 L 200.4,658.3 L 200.4,659.8 L 199.3,661.3 L 192.9,662.8 L 187.5,664.2 L 184.3,665.7 L 183.1,667.2 L 182.3,668.7 L 181.2,670.2 L 180.3,671.7 L 181.4,673.2 L 185.2,674.6 L 191.1,676.1 L 196.8,677.6 L 200.1,679.1 L 200.1,680.6 L 198.0,682.1 L 195.8,683.6 L 194.9,685.0 L 195.6,686.5 L 197.1,688.0 L 198.5,689.5 L 202.4,686.3 L 200.9,687.0 L 199.4,687.0 L 198.0,687.0 L 196.5,687.0 L 195.0,687.0 L 193.5,687.0 L 192.0,687.0 L 190.5,687.0 L 189.0,682.0 L 187.5,678.1 L 186.1,675.9 L 184.6,674.8 L 183.1,674.2 L 181.6,674.0 L 180.1,674.4 L 178.6,675.8 L 177.1,678.0 L 175.7,679.8 L 174.2,680.1 L 172.7,678.1 L 171.2,674.4 L 169.7,670.7 L 168.2,668.8 L 166.7,669.7 L 165.3,672.9 L 163.8,677.1 L 162.3,680.9 L 160.8,684.3 L 159.3,687.0 L 157.8,687.0 L 156.3,687.0 L 154.9,687.0 L 153.4,687.0 L 151.9,687.0 L 150.4,687.0 L 148.9,684.9 L 147.4,683.4 L 145.9,684.6 L 144.4,686.8 L 143.0,687.0 L 141.5,687.0 L 140.0,686.2 L 138.5,685.7 L 137.0,686.3 L 135.5,686.6 L 134.0,684.5 L 132.6,679.0 L 131.1,671.7 L 129.6,665.7 L 128.1,665.0 L 126.6,665.6 L 125.1,669.8 L 123.6,673.4 L 122.2,675.2 L 120.7,676.2 L 119.2,678.3 L 117.7,682.3 L 116.2,686.7 L 114.7,687.0 L 113.2,687.0 L 111.8,682.9 L 110.3,679.0 L 108.8,678.6 L 107.3,682.5 L 110.2,688.6 L 110.2,687.1 L 110.2,685.6 L 110.2,684.2 L 110.2,682.7 L 110.2,681.2 L 110.2,679.7 L 110.2,678.2 L 110.2,676.7 L 113.3,675.2 L 121.2,673.7 L 125.5,672.3 L 125.2,670.8 L 122.0,669.3 L 119.5,667.8 L 119.4,666.3 L 121.1,664.8 L 122.2,663.3 L 121.0,661.9 L 118.4,660.4 L 117.2,658.9 L 119.3,657.4 L 124.4,655.9 L 129.2,654.4 L 130.5,652.9 L 127.0,651.5 L 120.3,650.0 L 113.9,648.5 L 110.2,647.0 L 110.2,645.5 L 110.2,644.0 L 110.2,642.5 L 110.2,641.1 L 110.2,639.6 L 110.2,638.1 L 110.2,636.6 L 111.8,635.1 L 115.3,633.6 L 115.0,632.1 L 111.8,630.6 L 110.2,629.2 L 110.2,627.7 L 110.2,626.2 L 111.2,624.7 L 112.4,623.2 L 112.8,621.7 L 113.9,620.2 L 117.4,618.8 L 123.4,617.3 L 129.6,615.8 L 132.2,614.3 L 132.2,612.8 L 129.8,611.3 L 124.9,609.8 L 120.9,608.4 L 118.5,606.9 L 116.9,605.4 L 115.1,603.9 L 112.8,602.4 L 110.9,600.9 L 110.7,599.4 L 112.5,598.0 L 115.2,596.5 L 116.7,595.0 L 115.7,593.5 L 108.2,597.8 L 109.7,596.0 L 111.2,596.0 L 112.6,596.0 L 114.1,596.0 L 115.6,596.0 L 117.1,596.0 L 118.6,596.0 L 120.1,596.0 L 121.6,597.8 L 123.1,603.1 L 124.5,608.0 L 126.0,611.1 L 127.5,611.4 L 129.0,609.4 L 130.5,606.4 L 132.0,604.0 L 133.5,603.4 L 134.9,604.4 L 136.4,606.1 L 137.9,607.7 L 139.4,608.7 L 140.9,609.5 L 142.4,610.7 L 143.9,611.9 L 145.3,612.0 L 146.8,609.8 L 148.3,604.8 L 149.8,598.0 L 151.3,596.0 L 152.8,596.0 L 154.3,596.0 L 155.7,596.0 L 157.2,596.0 L 158.7,596.0 L 160.2,596.0 L 161.7,596.0 L 163.2,596.0 L 164.7,599.2 L 166.2,601.0 L 167.6,600.0 L 169.1,596.4 L 170.6,596.0 L 172.1,596.0 L 173.6,596.0 L 175.1,599.3 L 176.6,604.6 L 178.0,608.2 L 179.5,609.9 L 181.0,611.4 L 182.5,613.9 L 184.0,617.0 L 185.5,618.0 L 187.0,616.1 L 188.4,610.1 L 189.9,602.8 L 191.4,597.6 L 192.9,596.6 L 194.4,598.6 L 195.9,601.0 L 197.4,601.4 L 198.8,599.7 L 200.3,597.7 L 201.8,597.4 L 203.3,598.9 L 196.6,594.4 L 198.7,595.9 L 200.4,597.4 L 200.4,598.8 L 200.4,600.3 L 200.4,601.8 L 200.4,603.3 L 200.4,604.8 L 198.6,606.3 L 196.7,607.8 L 195.4,609.3 L 192.6,610.7 L 188.1,612.2 L 184.0,613.7 L 183.3,615.2 L 186.6,616.7 L 192.1,618.2 L 196.0,619.7 L 195.6,621.1 L 191.6,622.6 L 186.8,624.1 L 184.2,625.6 L 184.7,627.1 L 186.6,628.6 L 187.6,630.1 L 187.1,631.5 L 186.8,633.0 L 189.3,634.5 L 195.5,636.0 L 200.4,637.5 L 200.4,639.0 L 200.4,640.5" fill="none" stroke="#e8283a" stroke-width="1.1" stroke-opacity="0.9" stroke-linejoin="round"/><path d="M 157.8,678.2 L 156.3,679.5 L 154.9,684.1 L 153.4,687.0 L 151.9,687.0 L 150.4,687.0 L 148.9,687.0 L 147.4,687.0 L 145.9,685.7 L 144.5,683.1 L 143.0,681.0 L 141.5,680.8 L 140.0,681.5 L 138.5,680.1 L 137.0,675.0 L 135.5,669.1 L 134.1,667.3 L 132.6,671.0 L 131.1,676.9 L 129.6,680.2 L 128.1,679.6 L 126.6,678.2 L 125.1,679.9 L 123.7,685.2 L 122.2,687.0 L 120.7,687.0 L 119.2,687.0 L 117.7,687.0 L 116.2,687.0 L 114.7,687.0 L 113.2,687.0 L 111.8,687.0 L 110.3,686.8 L 108.8,687.0 L 107.3,687.0 L 114.6,688.6 L 121.8,687.1 L 126.7,685.6 L 125.9,684.2 L 121.3,682.7 L 117.7,681.2 L 117.9,679.7 L 120.2,678.2 L 120.9,676.7 L 118.5,675.2 L 114.9,673.8 L 112.6,672.3 L 111.7,670.8 L 110.9,669.3 L 110.2,667.8 L 110.9,666.3 L 114.1,664.8 L 118.0,663.4 L 118.9,661.9 L 116.1,660.4 L 112.8,658.9 L 113.0,657.4 L 117.1,655.9 L 120.9,654.4 L 119.9,653.0 L 114.4,651.5 L 110.2,650.0 L 110.2,648.5 L 110.2,647.0 L 110.2,645.5 L 110.2,644.0 L 110.2,642.5 L 110.2,641.1 L 110.2,639.6 L 110.2,638.1 L 110.2,636.6 L 110.2,635.1 L 115.3,633.6 L 122.2,632.1 L 126.6,630.7 L 126.1,629.2 L 122.8,627.7 L 121.5,626.2 L 124.2,624.7 L 128.2,623.2 L 128.7,621.7 L 124.0,620.3 L 117.2,618.8 L 112.3,617.3 L 110.4,615.8 L 110.2,614.3 L 110.2,612.8 L 110.2,611.3 L 110.2,609.9 L 110.2,608.4 L 110.2,606.9 L 110.2,605.4 L 110.2,603.9 L 110.2,602.4 L 113.5,600.9 L 118.8,599.4 L 119.3,598.0 L 115.7,596.5 L 112.5,595.0 L 113.4,593.5 L 108.2,603.2 L 109.7,605.9 L 111.2,604.4 L 112.6,600.3 L 114.1,596.9 L 115.6,596.2 L 117.1,596.8 L 118.6,597.2 L 120.1,597.8 L 121.6,599.9 L 123.0,603.0 L 124.5,604.9 L 126.0,604.1 L 127.5,602.2 L 129.0,603.1 L 130.5,607.7 L 132.0,612.6 L 133.4,613.2 L 134.9,608.3 L 136.4,601.6 L 137.9,598.0 L 139.4,598.2 L 140.9,599.1 L 142.4,597.2 L 143.8,596.0 L 145.3,596.0 L 146.8,596.0 L 148.3,596.0 L 149.8,596.0 L 151.3,596.0 L 152.8,596.0 L 154.3,596.0 L 155.7,600.4 L 157.2,601.7 L 158.7,600.5 L 160.2,600.8 L 161.7,605.4 L 163.2,612.1 L 164.7,615.8 L 166.1,613.8 L 167.6,608.4 L 169.1,604.1 L 170.6,603.5 L 172.1,604.5 L 173.6,604.1 L 175.1,601.4 L 176.5,598.3 L 178.0,596.6 L 179.5,596.0 L 181.0,596.0 L 182.5,596.0 L 184.0,596.0 L 185.5,598.6 L 186.9,602.8 L 188.4,603.5 L 189.9,600.3 L 191.4,596.8 L 192.9,597.2 L 194.4,601.3 L 195.9,604.8 L 197.4,603.7 L 198.8,598.5 L 200.3,596.0 L 201.8,596.0 L 203.3,596.0 L 200.4,594.4 L 200.4,595.9 L 200.4,597.4 L 200.4,598.8 L 199.1,600.3 L 198.2,601.8 L 198.1,603.3 L 196.1,604.8 L 190.7,606.3 L 184.0,607.8 L 180.8,609.2 L 182.9,610.7 L 187.6,612.2 L 190.1,613.7 L 188.5,615.2 L 186.0,616.7 L 186.9,618.2 L 192.3,619.6 L 198.9,621.1 L 200.4,622.6 L 200.4,624.1 L 200.4,625.6 L 200.4,627.1 L 200.4,628.6 L 200.4,630.0 L 200.4,631.5 L 200.4,633.0 L 200.4,634.5 L 200.4,636.0 L 200.4,637.5 L 193.6,639.0 L 188.2,640.5 L 188.1,641.9 L 192.1,643.4 L 195.4,644.9 L 194.6,646.4 L 191.2,647.9 L 189.4,649.4 L 191.3,650.9 L 195.1,652.3 L 197.9,653.8 L 198.7,655.3 L 198.7,656.8 L 198.9,658.3 L 198.3,659.8 L 195.7,661.3 L 192.2,662.7 L 190.8,664.2 L 192.7,665.7 L 195.5,667.2 L 195.1,668.7 L 190.9,670.2 L 186.7,671.7 L 187.1,673.1 L 192.6,674.6 L 199.3,676.1 L 200.4,677.6 L 200.4,679.1 L 200.4,680.6 L 200.4,682.1 L 200.4,683.6 L 200.4,685.0 L 200.4,686.5 L 200.4,688.0 L 200.4,689.5 L 202.4,687.0 L 200.9,687.0 L 199.4,681.1 L 198.0,676.2 L 196.5,675.5 L 195.0,677.5 L 193.5,677.8 L 192.0,673.9 L 190.5,668.4 L 189.0,666.3 L 187.6,669.7 L 186.1,676.0 L 184.6,680.8 L 183.1,682.2 L 181.6,682.3 L 180.1,683.6 L 178.6,686.2 L 177.2,687.0 L 175.7,687.0 L 174.2,687.0 L 172.7,687.0 L 171.2,687.0 L 169.7,687.0 L 168.2,685.0 L 166.8,680.2 L 165.3,679.5 L 163.8,683.1 L 162.3,686.4 L 160.8,685.7 L 159.3,681.5 L 157.8,678.2" fill="none" stroke="#e8283a" stroke-width="1.1" stroke-opacity="0.9" stroke-linejoin="round"/><path d="M 177.4,609.8 L 178.9,613.5 L 180.4,611.0 L 181.9,607.9 L 183.3,608.4 L 184.8,606.3 L 186.3,599.4 L 187.8,596.0 L 189.3,597.6 L 190.8,597.9 L 192.3,596.0 L 193.7,596.2 L 195.2,600.5 L 196.7,600.1 L 198.2,596.6 L 199.7,598.0 L 201.2,602.6 L 202.7,603.7 L 192.2,593.7 L 186.1,595.2 L 179.7,596.7 L 179.8,598.2 L 181.9,599.7 L 180.4,601.2 L 180.6,602.7 L 186.3,604.2 L 190.0,605.6 L 188.1,607.1 L 187.8,608.6 L 192.0,610.1 L 193.9,611.6 L 192.4,613.1 L 195.0,614.6 L 200.4,616.0 L 200.4,617.5 L 199.9,619.0 L 199.6,620.5 L 200.4,622.0 L 196.0,623.5 L 189.9,625.0 L 189.9,626.4 L 192.2,627.9 L 190.3,629.4 L 188.4,630.9 L 191.4,632.4 L 193.2,633.9 L 189.0,635.4 L 185.8,636.8 L 188.0,638.3 L 189.2,639.8 L 186.9,641.3 L 187.9,642.8 L 193.4,644.3 L 195.0,645.8 L 191.4,647.2 L 190.3,648.7 L 191.8,650.2 L 189.0,651.7 L 184.3,653.2 L 185.5,654.7 L 190.1,656.2 L 190.5,657.7 L 189.6,659.1 L 193.3,660.6 L 196.6,662.1 L 194.0,663.6 L 191.4,665.1 L 194.5,666.6 L 197.6,668.1 L 196.4,669.5 L 197.0,671.0 L 200.4,672.5 L 200.4,674.0 L 198.0,675.5 L 194.5,677.0 L 194.2,678.5 L 190.5,679.9 L 184.1,681.4 L 183.0,682.9 L 186.1,684.4 L 185.2,685.9 L 182.0,687.4 L 183.3,688.9 L 203.1,672.4 L 201.6,669.8 L 200.1,667.1 L 198.6,671.0 L 197.1,676.4 L 195.6,677.7 L 194.1,679.9 L 192.6,686.6 L 191.2,687.0 L 189.7,687.0 L 188.2,685.5 L 186.7,687.0 L 185.2,686.3 L 183.7,681.5 L 182.2,680.9 L 180.8,684.2 L 179.3,683.3 L 177.8,678.4 L 176.3,676.9 L 174.8,677.3 L 173.3,673.1 L 171.8,667.9 L 170.4,669.3 L 168.9,673.4 L 167.4,673.3 L 165.9,673.2 L 164.4,677.9 L 162.9,681.0 L 161.4,677.7 L 160.0,675.0 L 158.5,677.3 L 157.0,678.4 L 155.5,675.6 L 154.0,676.1 L 152.5,681.2 L 151.0,682.5 L 149.6,678.8 L 148.1,678.0 L 146.6,680.0 L 145.1,677.9 L 143.6,674.1 L 142.1,676.3 L 140.6,681.7 L 139.1,682.7 L 137.7,682.0 L 136.2,685.4 L 134.7,687.0 L 133.2,683.9 L 131.7,679.5 L 130.2,680.4 L 128.7,681.0 L 127.3,677.2 L 125.8,675.6 L 124.3,678.5 L 122.8,678.4 L 121.3,672.7 L 119.8,669.4 L 118.3,670.3 L 116.9,668.5 L 115.4,665.0 L 113.9,667.0 L 112.4,673.5 L 110.9,676.2 L 109.4,676.4 L 107.9,680.6 L 112.0,689.3 L 113.3,687.8 L 115.7,686.3 L 112.6,684.8 L 110.2,683.3 L 110.2,681.8 L 111.0,680.3 L 110.2,678.8 L 110.2,677.4 L 113.9,675.9 L 119.1,674.4 L 119.7,672.9 L 122.4,671.4 L 127.9,669.9 L 128.5,668.4 L 124.2,667.0 L 123.4,665.5 L 126.2,664.0 L 125.1,662.5 L 122.0,661.0 L 123.7,659.5 L 126.7,658.0 L 123.5,656.6 L 118.2,655.1 L 117.6,653.6 L 117.5,652.1 L 113.3,650.6 L 110.9,649.1 L 115.2,647.6 L 119.0,646.2 L 117.7,644.7 L 117.5,643.2 L 120.8,641.7 L 120.6,640.2 L 115.5,638.7 L 114.0,637.2 L 117.2,635.8 L 117.6,634.3 L 115.3,632.8 L 117.2,631.3 L 121.2,629.8 L 119.5,628.3 L 115.0,626.8 L 115.4,625.3 L 117.6,623.9 L 116.0,622.4 L 115.1,620.9 L 120.6,619.4 L 126.2,617.9 L 126.0,616.4 L 125.4,614.9 L 128.4,613.5 L 128.6,612.0 L 123.5,610.5 L 121.1,609.0 L 123.7,607.5 L 123.8,606.0 L 119.9,604.5 L 119.0,603.1 L 120.6,601.6 L 117.0,600.1 L 110.2,598.6 L 110.2,597.1 L 110.2,595.6 L 110.2,594.1 L 107.5,596.0 L 109.0,596.2 L 110.5,602.4 L 112.0,602.9 L 113.5,602.6 L 115.0,606.6 L 116.5,609.5 L 118.0,607.4 L 119.4,607.2 L 120.9,612.6 L 122.4,616.1 L 123.9,614.3 L 125.4,614.0 L 126.9,616.3 L 128.4,613.6 L 129.8,606.3 L 131.3,603.0 L 132.8,603.8 L 134.3,601.6 L 135.8,598.1 L 137.3,600.1 L 138.8,603.9 L 140.2,602.1 L 141.7,598.6 L 143.2,599.8 L 144.7,601.6 L 146.2,599.0 L 147.7,597.9 L 149.2,603.1 L 150.6,607.4 L 152.1,606.2 L 153.6,605.8 L 155.1,608.8 L 156.6,608.0 L 158.1,602.5 L 159.6,600.7 L 161.0,603.8 L 162.5,604.5 L 164.0,602.7 L 165.5,605.3 L 167.0,610.2 L 168.5,609.5 L 170.0,605.9 L 171.5,606.7 L 172.9,609.2 L 174.4,607.3 L 175.9,605.6 L 177.4,609.8" fill="none" stroke="#e8283a" stroke-width="1.1" stroke-opacity="0.9" stroke-linejoin="round"/><path d="M 166.3,675.5 L 164.8,674.5 L 163.3,674.4 L 161.9,674.3 L 160.4,674.7 L 158.9,676.5 L 157.4,679.3 L 155.9,680.8 L 154.4,679.3 L 152.9,675.8 L 151.5,673.4 L 150.0,674.2 L 148.5,677.0 L 147.0,677.9 L 145.5,674.2 L 144.0,667.3 L 142.5,665.0 L 141.0,665.0 L 139.6,665.0 L 138.1,668.5 L 136.6,668.9 L 135.1,666.6 L 133.6,665.0 L 132.1,665.6 L 130.6,669.0 L 129.2,672.3 L 127.7,673.7 L 126.2,673.4 L 124.7,672.9 L 123.2,672.4 L 121.7,671.0 L 120.2,668.4 L 118.8,665.9 L 117.3,665.6 L 115.8,667.9 L 114.3,670.4 L 112.8,670.3 L 111.3,667.7 L 109.8,665.5 L 108.4,667.4 L 123.6,689.7 L 116.7,688.2 L 113.7,686.7 L 115.4,685.2 L 118.9,683.7 L 119.9,682.2 L 117.4,680.8 L 113.8,679.3 L 112.7,677.8 L 114.9,676.3 L 118.3,674.8 L 120.2,673.3 L 119.8,671.8 L 118.5,670.3 L 117.2,668.9 L 115.7,667.4 L 113.1,665.9 L 110.2,664.4 L 110.2,662.9 L 110.2,661.4 L 110.2,659.9 L 110.2,658.5 L 110.2,657.0 L 110.2,655.5 L 110.2,654.0 L 110.2,652.5 L 110.9,651.0 L 115.1,649.5 L 114.4,648.1 L 110.5,646.6 L 110.2,645.1 L 110.2,643.6 L 112.6,642.1 L 114.8,640.6 L 113.3,639.1 L 110.2,637.7 L 110.2,636.2 L 110.2,634.7 L 110.2,633.2 L 110.2,631.7 L 110.2,630.2 L 110.2,628.7 L 112.4,627.2 L 115.2,625.8 L 116.5,624.3 L 116.2,622.8 L 116.3,621.3 L 119.0,619.8 L 123.6,618.3 L 126.8,616.8 L 125.5,615.4 L 120.4,613.9 L 115.7,612.4 L 115.2,610.9 L 118.9,609.4 L 123.0,607.9 L 123.7,606.4 L 121.0,605.0 L 118.3,603.5 L 119.0,602.0 L 123.4,600.5 L 128.6,599.0 L 131.7,597.5 L 132.2,596.0 L 132.0,594.6 L 132.0,593.1 L 108.6,618.0 L 110.1,617.1 L 111.6,615.4 L 113.1,614.3 L 114.6,614.6 L 116.0,615.2 L 117.5,614.0 L 119.0,610.4 L 120.5,606.7 L 122.0,606.5 L 123.5,610.7 L 125.0,616.3 L 126.5,618.0 L 127.9,617.0 L 129.4,613.0 L 130.9,611.3 L 132.4,613.6 L 133.9,617.4 L 135.4,618.0 L 136.9,615.5 L 138.3,609.8 L 139.8,605.3 L 141.3,603.6 L 142.8,603.6 L 144.3,603.3 L 145.8,602.3 L 147.3,601.5 L 148.7,601.8 L 150.2,602.5 L 151.7,602.2 L 153.2,601.2 L 154.7,601.1 L 156.2,603.3 L 157.7,606.7 L 159.1,607.9 L 160.6,604.7 L 162.1,598.6 L 163.6,596.0 L 165.1,596.0 L 166.6,596.0 L 168.1,597.7 L 169.6,596.0 L 171.0,596.0 L 172.5,596.0 L 174.0,596.0 L 175.5,596.0 L 177.0,596.0 L 178.5,597.7 L 180.0,597.2 L 181.4,596.4 L 182.9,596.8 L 184.4,597.7 L 185.9,597.9 L 187.4,597.1 L 188.9,596.5 L 190.4,596.7 L 191.8,596.7 L 193.3,596.0 L 194.8,596.0 L 196.3,596.0 L 197.8,596.0 L 199.3,596.0 L 200.8,600.1 L 202.2,602.3 L 195.8,593.3 L 198.1,594.8 L 197.0,596.3 L 191.9,597.8 L 186.0,599.3 L 183.8,600.8 L 186.2,602.2 L 190.6,603.7 L 193.1,605.2 L 192.6,606.7 L 190.7,608.2 L 189.9,609.7 L 190.4,611.2 L 190.9,612.7 L 190.2,614.1 L 188.7,615.6 L 187.5,617.1 L 186.7,618.6 L 184.7,620.1 L 180.7,621.6 L 178.4,623.1 L 178.4,624.5 L 178.4,626.0 L 181.2,627.5 L 183.8,629.0 L 182.3,630.5 L 178.9,632.0 L 178.4,633.5 L 181.2,634.9 L 187.0,636.4 L 190.7,637.9 L 189.6,639.4 L 185.0,640.9 L 181.0,642.4 L 180.2,643.9 L 181.7,645.3 L 182.9,646.8 L 182.2,648.3 L 180.7,649.8 L 180.1,651.3 L 180.9,652.8 L 182.3,654.3 L 183.4,655.8 L 185.0,657.2 L 188.4,658.7 L 193.0,660.2 L 196.6,661.7 L 196.6,663.2 L 193.6,664.7 L 190.9,666.2 L 191.7,667.6 L 195.5,669.1 L 198.6,670.6 L 197.4,672.1 L 192.5,673.6 L 187.9,675.1 L 187.7,676.6 L 192.0,678.0 L 197.4,679.5 L 200.3,681.0 L 200.0,682.5 L 199.0,684.0 L 199.9,685.5 L 200.4,687.0 L 200.4,688.4 L 200.4,689.9 L 202.0,687.0 L 200.5,687.0 L 199.0,687.0 L 197.5,687.0 L 196.0,687.0 L 194.6,683.6 L 193.1,682.6 L 191.6,684.9 L 190.1,687.0 L 188.6,687.0 L 187.1,686.4 L 185.6,683.0 L 184.1,682.8 L 182.7,687.0 L 181.2,687.0 L 179.7,687.0 L 178.2,687.0 L 176.7,687.0 L 175.2,684.1 L 173.7,683.7 L 172.3,685.0 L 170.8,685.0 L 169.3,682.2 L 167.8,678.3 L 166.3,675.5" fill="none" stroke="#e8283a" stroke-width="1.1" stroke-opacity="0.9" stroke-linejoin="round"/><path d="M 189.8,635.0 L 193.1,636.5 L 196.2,638.0 L 195.1,639.5 L 191.9,640.9 L 191.3,642.4 L 192.8,643.9 L 192.1,645.4 L 188.5,646.9 L 186.6,648.4 L 189.4,649.9 L 193.4,651.3 L 193.2,652.8 L 189.0,654.3 L 185.7,655.8 L 185.0,657.3 L 183.1,658.8 L 178.4,660.3 L 178.4,661.7 L 178.4,663.2 L 179.8,664.7 L 182.8,666.2 L 182.3,667.7 L 182.2,669.2 L 185.6,670.7 L 189.4,672.1 L 189.9,673.6 L 188.9,675.1 L 191.4,676.6 L 197.7,678.1 L 200.4,679.6 L 200.4,681.1 L 198.1,682.6 L 197.1,684.0 L 197.1,685.5 L 194.2,687.0 L 188.8,688.5 L 186.2,690.0 L 201.9,675.5 L 200.4,679.1 L 199.0,678.9 L 197.5,675.9 L 196.0,675.0 L 194.5,676.4 L 193.0,676.0 L 191.5,672.1 L 190.0,669.1 L 188.6,670.7 L 187.1,674.4 L 185.6,674.6 L 184.1,670.7 L 182.6,667.5 L 181.1,667.5 L 179.6,667.5 L 178.2,665.0 L 176.7,665.0 L 175.2,665.0 L 173.7,671.5 L 172.2,676.9 L 170.7,678.1 L 169.2,678.5 L 167.8,681.6 L 166.3,685.1 L 164.8,684.9 L 163.3,682.0 L 161.8,681.8 L 160.3,685.5 L 158.8,687.0 L 157.3,686.0 L 155.9,681.2 L 154.4,678.6 L 152.9,678.0 L 151.4,675.5 L 149.9,670.3 L 148.4,667.6 L 146.9,670.3 L 145.5,674.9 L 144.0,675.9 L 142.5,673.5 L 141.0,672.3 L 139.5,673.6 L 138.0,673.5 L 136.5,669.8 L 135.1,666.1 L 133.6,667.1 L 132.1,671.2 L 130.6,672.7 L 129.1,670.3 L 127.6,668.2 L 126.1,669.6 L 124.7,671.7 L 123.2,671.1 L 121.7,669.7 L 120.2,672.6 L 118.7,679.9 L 117.2,686.0 L 115.7,687.0 L 114.2,686.0 L 112.8,686.9 L 111.3,687.0 L 109.8,686.4 L 108.3,681.1 L 119.3,689.6 L 117.8,688.1 L 116.0,686.6 L 118.3,685.2 L 123.3,683.7 L 126.0,682.2 L 125.9,680.7 L 126.9,679.2 L 130.7,677.7 L 132.2,676.2 L 129.8,674.8 L 124.2,673.3 L 122.0,671.8 L 123.9,670.3 L 125.4,668.8 L 124.3,667.3 L 123.9,665.8 L 127.1,664.4 L 130.8,662.9 L 129.9,661.4 L 125.0,659.9 L 121.6,658.4 L 122.3,656.9 L 123.4,655.4 L 121.2,654.0 L 117.8,652.5 L 117.5,651.0 L 119.0,649.5 L 117.5,648.0 L 111.8,646.5 L 110.2,645.0 L 110.2,643.5 L 110.9,642.1 L 112.9,640.6 L 113.5,639.1 L 117.0,637.6 L 123.6,636.1 L 128.2,634.6 L 127.5,633.1 L 124.9,631.7 L 125.6,630.2 L 129.1,628.7 L 130.7,627.2 L 129.0,625.7 L 128.0,624.2 L 130.2,622.7 L 131.9,621.3 L 128.8,619.8 L 122.8,618.3 L 119.7,616.8 L 121.3,615.3 L 123.3,613.8 L 122.5,612.3 L 121.6,610.9 L 124.0,609.4 L 127.4,607.9 L 126.6,606.4 L 121.1,604.9 L 116.3,603.4 L 115.8,601.9 L 116.8,600.4 L 115.0,599.0 L 112.1,597.5 L 112.3,596.0 L 115.4,594.5 L 116.6,593.0 L 108.7,599.4 L 110.2,596.4 L 111.6,598.3 L 113.1,603.7 L 114.6,607.5 L 116.1,609.0 L 117.6,612.0 L 119.1,617.8 L 120.6,618.0 L 122.0,618.0 L 123.5,615.6 L 125.0,613.5 L 126.5,614.8 L 128.0,615.1 L 129.5,612.2 L 131.0,609.8 L 132.4,610.9 L 133.9,612.8 L 135.4,610.6 L 136.9,605.1 L 138.4,601.8 L 139.9,603.4 L 141.4,605.9 L 142.8,605.5 L 144.3,604.3 L 145.8,605.9 L 147.3,609.1 L 148.8,608.7 L 150.3,603.4 L 151.8,598.2 L 153.3,597.5 L 154.7,599.4 L 156.2,599.4 L 157.7,598.0 L 159.2,599.5 L 160.7,604.6 L 162.2,608.4 L 163.7,607.6 L 165.1,605.6 L 166.6,607.5 L 168.1,612.8 L 169.6,616.4 L 171.1,616.8 L 172.6,617.6 L 174.1,618.0 L 175.5,618.0 L 177.0,618.0 L 178.5,613.3 L 180.0,608.8 L 181.5,608.5 L 183.0,608.4 L 184.5,605.7 L 185.9,603.1 L 187.4,604.4 L 188.9,607.5 L 190.4,607.0 L 191.9,602.5 L 193.4,599.4 L 194.9,600.9 L 196.4,603.9 L 197.8,604.1 L 199.3,602.6 L 200.8,603.6 L 202.3,607.0 L 188.9,593.4 L 193.2,594.9 L 197.9,596.4 L 198.0,597.8 L 194.7,599.3 L 192.7,600.8 L 192.5,602.3 L 190.1,603.8 L 184.2,605.3 L 179.2,606.8 L 179.4,608.2 L 182.2,609.7 L 182.2,611.2 L 179.0,612.7 L 178.4,614.2 L 178.8,615.7 L 180.9,617.2 L 180.1,618.6 L 179.2,620.1 L 183.0,621.6 L 190.6,623.1 L 195.9,624.6 L 196.3,626.1 L 195.2,627.6 L 196.4,629.0 L 197.9,630.5 L 195.6,632.0 L 191.1,633.5 L 189.8,635.0" fill="none" stroke="#e8283a" stroke-width="1.1" stroke-opacity="0.9" stroke-linejoin="round"/><path d="M 112.9,682.2 L 116.1,683.3 L 118.3,682.4 L 119.4,682.7 L 122.9,683.2 L 124.7,681.9 L 127.9,682.5 L 129.8,682.4 L 134.2,682.1 L 136.9,681.4 L 140.2,681.6 L 144.3,680.8 L 146.8,680.7 L 150.2,678.8 L 154.2,679.3 L 158.3,678.0 L 161.3,676.9 L 167.2,677.1 L 170.4,676.5 L 174.8,675.2 L 180.1,674.6 L 184.1,673.4 L 189.1,674.4 L 193.3,672.0 L 198.9,670.9" fill="none" stroke="#d42a3c" stroke-width="1.2" stroke-opacity="0.9" stroke-linejoin="round"/><path d="M 198.8,610.9 L 195.7,612.1 L 194.2,613.2 L 192.3,614.4 L 189.3,616.4 L 188.6,616.3 L 184.9,617.6 L 183.0,618.9 L 180.0,618.8 L 176.2,621.5 L 173.7,621.2 L 169.8,622.3 L 166.2,624.7 L 162.9,625.8 L 159.2,625.6 L 154.8,628.6 L 150.6,628.0 L 147.2,629.7 L 142.1,631.5 L 136.6,632.1 L 132.1,632.3 L 127.2,634.7 L 122.4,634.3 L 116.6,637.1 L 112.2,636.9" fill="none" stroke="#d42a3c" stroke-width="1.2" stroke-opacity="0.9" stroke-linejoin="round"/><path d="M 195.3,598.9 L 191.0,599.6 L 189.2,599.7 L 185.9,600.6 L 181.4,601.3 L 179.0,604.1 L 176.2,604.0 L 172.5,604.2 L 169.5,605.1 L 165.9,605.1 L 163.1,607.7 L 159.5,608.7 L 156.5,610.0 L 151.9,611.3 L 148.4,613.4 L 145.6,614.4 L 141.6,615.3 L 137.3,618.3 L 134.9,618.1 L 130.3,619.9 L 127.4,622.0 L 122.8,624.3 L 117.8,625.6 L 115.0,628.0 L 111.5,629.9" fill="none" stroke="#d42a3c" stroke-width="1.2" stroke-opacity="0.9" stroke-linejoin="round"/><path d="M 151.9,597.6 L 155.9,600.0 L 158.1,603.0 L 162.1,607.2 L 164.9,609.6 L 166.9,613.5 L 169.5,618.0 L 171.4,620.9 L 175.3,623.1 L 176.9,628.3 L 178.6,630.4 L 180.6,635.2 L 182.7,637.4 L 184.7,641.0 L 186.2,644.1 L 188.0,648.9 L 189.7,651.6 L 190.7,655.2 L 193.2,658.6 L 193.5,663.0 L 195.4,667.5 L 195.3,670.7 L 195.6,673.8 L 196.3,677.0 L 198.2,681.8" fill="none" stroke="#d42a3c" stroke-width="1.2" stroke-opacity="0.9" stroke-linejoin="round"/><path d="M 136.6,599.3 L 135.4,600.8 L 132.9,601.6 L 131.2,602.6 L 129.0,604.1 L 127.7,604.1 L 127.6,605.0 L 126.1,605.1 L 123.5,606.4 L 122.8,605.7 L 121.1,607.2 L 120.8,607.2 L 120.0,606.6 L 118.6,606.8 L 118.0,607.4 L 117.0,605.9 L 117.3,606.5 L 115.5,606.4 L 116.3,605.9 L 115.0,605.2 L 115.8,604.7 L 114.1,603.9 L 114.6,602.7 L 113.7,601.5 L 114.4,600.8" fill="none" stroke="#d42a3c" stroke-width="1.2" stroke-opacity="0.9" stroke-linejoin="round"/><path d="M 113.8,609.5 L 116.6,610.4 L 118.7,609.1 L 121.7,610.4 L 124.9,610.1 L 127.1,609.6 L 130.4,609.9 L 131.9,609.3 L 134.3,608.1 L 137.7,609.0 L 139.3,608.0 L 142.2,609.1 L 144.6,607.3 L 147.8,607.1 L 150.1,606.0 L 153.2,605.7 L 155.0,604.7 L 156.8,604.6 L 159.8,603.8 L 161.6,602.8 L 164.4,601.6 L 165.8,601.3 L 167.3,600.5 L 171.3,599.6 L 172.6,598.1" fill="none" stroke="#d42a3c" stroke-width="1.2" stroke-opacity="0.9" stroke-linejoin="round"/><path d="M 195.9,636.1 L 195.2,637.6 L 195.6,639.6 L 195.7,639.3 L 195.2,642.4 L 195.4,643.9 L 194.5,644.5 L 195.0,647.4 L 195.0,649.1 L 194.2,651.3 L 193.9,653.2 L 193.1,655.7 L 192.8,657.0 L 191.0,659.9 L 190.1,662.8 L 189.8,663.7 L 188.1,666.3 L 187.1,668.4 L 186.7,670.3 L 184.0,673.6 L 184.0,676.6 L 181.8,677.8 L 181.2,681.4 L 178.1,684.6 L 176.7,686.7" fill="none" stroke="#d42a3c" stroke-width="1.2" stroke-opacity="0.9" stroke-linejoin="round"/><rect x="128.80" y="614.90" width="53.50" height="53.70" fill="none" stroke="#f6f6f6" stroke-width="1.6" /><text x="447.00" y="579.50" font-size="16" text-anchor="start" fill="#222" >j</text><text x="498.00" y="588.80" font-size="10.5" text-anchor="middle" fill="#1a1a1a" >GF-NC</text><text x="600.00" y="588.80" font-size="10.5" text-anchor="middle" fill="#1a1a1a" >GF-HHE</text><rect x="447.00" y="592.80" width="100.00" height="97.70" fill="#aaa9a3" stroke="none" stroke-width="1" /><rect x="489.40" y="592.80" width="13.00" height="97.70" fill="#b0afa9" stroke="none" stroke-width="1" /><rect x="448.00" y="633.80" width="98.00" height="14.50" fill="#b0afa9" stroke="none" stroke-width="1" /><line x1="489.40" y1="592.80" x2="489.40" y2="633.80" stroke="#eeeeea" stroke-width="0.9" stroke-dasharray="1.2,1"/><line x1="502.40" y1="592.80" x2="502.40" y2="633.80" stroke="#eeeeea" stroke-width="0.9" stroke-dasharray="1.2,1"/><line x1="489.40" y1="648.30" x2="489.40" y2="690.50" stroke="#eeeeea" stroke-width="0.9" stroke-dasharray="1.2,1"/><line x1="502.40" y1="648.30" x2="502.40" y2="690.50" stroke="#eeeeea" stroke-width="0.9" stroke-dasharray="1.2,1"/><line x1="448.00" y1="633.80" x2="489.40" y2="633.80" stroke="#eeeeea" stroke-width="0.9" stroke-dasharray="1.2,1"/><line x1="502.40" y1="633.80" x2="546.00" y2="633.80" stroke="#eeeeea" stroke-width="0.9" stroke-dasharray="1.2,1"/><line x1="448.00" y1="648.30" x2="489.40" y2="648.30" stroke="#eeeeea" stroke-width="0.9" stroke-dasharray="1.2,1"/><line x1="502.40" y1="648.30" x2="546.00" y2="648.30" stroke="#eeeeea" stroke-width="0.9" stroke-dasharray="1.2,1"/><line x1="448.00" y1="633.80" x2="448.00" y2="648.30" stroke="#eeeeea" stroke-width="0.9" stroke-dasharray="1.2,1"/><line x1="546.00" y1="633.80" x2="546.00" y2="648.30" stroke="#eeeeea" stroke-width="0.9" stroke-dasharray="1.2,1"/><rect x="449.00" y="636.85" width="96.00" height="8.40" fill="#e07888" stroke="none" stroke-width="1" opacity="0.75"/><path d="M 449.0,638.9 L 451.4,641.6 L 453.8,644.0 L 456.2,644.6 L 458.6,643.8 L 461.0,641.2 L 463.4,641.8 L 465.8,640.5 L 468.2,638.0 L 470.6,640.0 L 473.0,643.2 L 475.4,641.6 L 477.8,640.3 L 480.2,638.6 L 482.6,640.8 L 485.0,639.7 L 487.4,641.1 L 489.8,642.2 L 492.2,636.5 L 494.6,640.8 L 497.0,637.7 L 499.4,638.9 L 501.8,638.2 L 504.2,643.6 L 506.6,642.6 L 509.0,642.2 L 511.4,639.4 L 513.8,637.8 L 516.2,640.2 L 518.6,641.5 L 521.0,640.9 L 523.4,642.6 L 525.8,640.2 L 528.2,645.2 L 530.6,642.5 L 533.0,645.5 L 535.4,641.6 L 537.8,640.5 L 540.2,639.1 L 542.6,642.9 L 545.0,643.4" fill="none" stroke="#e03050" stroke-width="0.7" stroke-opacity="0.85" stroke-linejoin="round"/><path d="M 449.0,641.4 L 451.4,642.0 L 453.8,640.4 L 456.2,640.1 L 458.6,640.4 L 461.0,636.7 L 463.4,638.7 L 465.8,641.1 L 468.2,641.3 L 470.6,643.5 L 473.0,642.5 L 475.4,642.0 L 477.8,641.2 L 480.2,636.5 L 482.6,641.2 L 485.0,639.0 L 487.4,642.2 L 489.8,640.4 L 492.2,640.3 L 494.6,639.8 L 497.0,640.4 L 499.4,636.6 L 501.8,637.4 L 504.2,643.8 L 506.6,642.0 L 509.0,640.0 L 511.4,640.2 L 513.8,640.2 L 516.2,645.5 L 518.6,642.2 L 521.0,641.0 L 523.4,639.5 L 525.8,636.5 L 528.2,641.3 L 530.6,644.2 L 533.0,643.2 L 535.4,641.6 L 537.8,639.6 L 540.2,638.3 L 542.6,641.2 L 545.0,640.1" fill="none" stroke="#e03050" stroke-width="0.7" stroke-opacity="0.85" stroke-linejoin="round"/><path d="M 449.0,638.4 L 451.4,644.8 L 453.8,638.9 L 456.2,639.8 L 458.6,636.5 L 461.0,644.9 L 463.4,640.7 L 465.8,640.9 L 468.2,641.7 L 470.6,639.1 L 473.0,639.6 L 475.4,641.7 L 477.8,639.1 L 480.2,641.8 L 482.6,643.8 L 485.0,642.8 L 487.4,644.3 L 489.8,643.5 L 492.2,645.0 L 494.6,641.7 L 497.0,642.0 L 499.4,638.5 L 501.8,640.6 L 504.2,639.4 L 506.6,640.9 L 509.0,638.6 L 511.4,641.8 L 513.8,645.5 L 516.2,639.2 L 518.6,642.3 L 521.0,642.5 L 523.4,639.3 L 525.8,640.4 L 528.2,639.8 L 530.6,642.0 L 533.0,639.6 L 535.4,645.5 L 537.8,643.0 L 540.2,643.6 L 542.6,645.5 L 545.0,644.2" fill="none" stroke="#e03050" stroke-width="0.7" stroke-opacity="0.85" stroke-linejoin="round"/><path d="M 449.0,640.8 L 451.4,641.9 L 453.8,641.1 L 456.2,641.6 L 458.6,643.3 L 461.0,636.5 L 463.4,637.2 L 465.8,640.3 L 468.2,642.1 L 470.6,639.9 L 473.0,640.6 L 475.4,643.6 L 477.8,642.6 L 480.2,640.8 L 482.6,640.3 L 485.0,637.6 L 487.4,642.1 L 489.8,641.3 L 492.2,638.8 L 494.6,642.1 L 497.0,640.1 L 499.4,640.2 L 501.8,637.2 L 504.2,643.0 L 506.6,639.2 L 509.0,641.6 L 511.4,641.5 L 513.8,639.7 L 516.2,640.8 L 518.6,640.4 L 521.0,640.3 L 523.4,641.4 L 525.8,639.4 L 528.2,642.5 L 530.6,641.2 L 533.0,638.2 L 535.4,641.8 L 537.8,640.0 L 540.2,642.0 L 542.6,636.5 L 545.0,641.7" fill="none" stroke="#e03050" stroke-width="0.7" stroke-opacity="0.85" stroke-linejoin="round"/><path d="M 449.0,636.5 L 451.4,639.8 L 453.8,645.5 L 456.2,642.4 L 458.6,643.3 L 461.0,639.2 L 463.4,638.2 L 465.8,640.6 L 468.2,641.8 L 470.6,640.6 L 473.0,639.3 L 475.4,638.8 L 477.8,639.9 L 480.2,644.6 L 482.6,640.9 L 485.0,640.0 L 487.4,640.3 L 489.8,638.6 L 492.2,637.8 L 494.6,641.3 L 497.0,644.0 L 499.4,642.1 L 501.8,637.7 L 504.2,644.4 L 506.6,641.6 L 509.0,645.3 L 511.4,640.6 L 513.8,637.9 L 516.2,641.5 L 518.6,640.6 L 521.0,638.4 L 523.4,639.2 L 525.8,640.0 L 528.2,638.9 L 530.6,642.4 L 533.0,641.7 L 535.4,639.9 L 537.8,640.1 L 540.2,643.0 L 542.6,641.9 L 545.0,638.3" fill="none" stroke="#e03050" stroke-width="0.7" stroke-opacity="0.85" stroke-linejoin="round"/><path d="M 449.0,641.6 L 451.4,645.0 L 453.8,641.7 L 456.2,639.0 L 458.6,644.5 L 461.0,645.5 L 463.4,641.4 L 465.8,636.5 L 468.2,637.7 L 470.6,645.4 L 473.0,640.7 L 475.4,642.7 L 477.8,642.4 L 480.2,641.5 L 482.6,645.0 L 485.0,641.6 L 487.4,642.6 L 489.8,641.9 L 492.2,641.8 L 494.6,645.5 L 497.0,638.7 L 499.4,638.4 L 501.8,643.8 L 504.2,638.3 L 506.6,641.6 L 509.0,638.8 L 511.4,643.4 L 513.8,641.2 L 516.2,642.8 L 518.6,639.5 L 521.0,640.9 L 523.4,636.5 L 525.8,643.1 L 528.2,642.1 L 530.6,641.2 L 533.0,641.3 L 535.4,640.3 L 537.8,641.0 L 540.2,645.5 L 542.6,639.8 L 545.0,640.1" fill="none" stroke="#e03050" stroke-width="0.7" stroke-opacity="0.85" stroke-linejoin="round"/><path d="M 449.0,642.8 L 451.4,641.7 L 453.8,639.8 L 456.2,645.0 L 458.6,645.0 L 461.0,640.4 L 463.4,645.4 L 465.8,638.0 L 468.2,644.7 L 470.6,637.4 L 473.0,642.1 L 475.4,640.8 L 477.8,640.3 L 480.2,642.6 L 482.6,638.9 L 485.0,639.4 L 487.4,638.5 L 489.8,644.6 L 492.2,639.8 L 494.6,642.0 L 497.0,640.6 L 499.4,643.6 L 501.8,638.8 L 504.2,639.1 L 506.6,639.7 L 509.0,641.6 L 511.4,639.4 L 513.8,642.2 L 516.2,642.4 L 518.6,643.6 L 521.0,642.4 L 523.4,644.4 L 525.8,640.4 L 528.2,640.0 L 530.6,639.6 L 533.0,639.6 L 535.4,638.1 L 537.8,642.1 L 540.2,641.4 L 542.6,636.5 L 545.0,640.9" fill="none" stroke="#e03050" stroke-width="0.7" stroke-opacity="0.85" stroke-linejoin="round"/><path d="M 449.0,639.5 L 451.4,639.0 L 453.8,640.5 L 456.2,643.9 L 458.6,641.4 L 461.0,636.5 L 463.4,641.9 L 465.8,639.1 L 468.2,644.9 L 470.6,640.0 L 473.0,641.0 L 475.4,640.7 L 477.8,639.2 L 480.2,640.2 L 482.6,640.9 L 485.0,645.5 L 487.4,641.4 L 489.8,642.3 L 492.2,641.4 L 494.6,641.6 L 497.0,641.9 L 499.4,644.4 L 501.8,636.5 L 504.2,639.7 L 506.6,639.2 L 509.0,643.1 L 511.4,639.3 L 513.8,643.4 L 516.2,643.7 L 518.6,639.9 L 521.0,642.5 L 523.4,640.1 L 525.8,643.1 L 528.2,642.4 L 530.6,643.9 L 533.0,643.1 L 535.4,638.8 L 537.8,644.5 L 540.2,641.3 L 542.6,643.7 L 545.0,641.4" fill="none" stroke="#e03050" stroke-width="0.7" stroke-opacity="0.85" stroke-linejoin="round"/><path d="M 449.0,643.3 L 451.4,638.5 L 453.8,644.3 L 456.2,638.9 L 458.6,640.9 L 461.0,642.3 L 463.4,637.7 L 465.8,642.1 L 468.2,641.3 L 470.6,643.1 L 473.0,641.0 L 475.4,638.9 L 477.8,638.7 L 480.2,639.3 L 482.6,641.5 L 485.0,640.8 L 487.4,642.6 L 489.8,644.7 L 492.2,640.5 L 494.6,640.1 L 497.0,642.1 L 499.4,642.2 L 501.8,636.5 L 504.2,639.7 L 506.6,641.4 L 509.0,642.6 L 511.4,640.1 L 513.8,638.8 L 516.2,645.5 L 518.6,636.5 L 521.0,644.4 L 523.4,639.6 L 525.8,640.2 L 528.2,641.1 L 530.6,641.9 L 533.0,638.9 L 535.4,637.9 L 537.8,641.8 L 540.2,643.9 L 542.6,640.4 L 545.0,645.5" fill="none" stroke="#e03050" stroke-width="0.7" stroke-opacity="0.85" stroke-linejoin="round"/><path d="M 449.0,638.1 L 451.4,642.9 L 453.8,642.1 L 456.2,644.1 L 458.6,638.5 L 461.0,642.5 L 463.4,640.8 L 465.8,636.5 L 468.2,640.0 L 470.6,637.7 L 473.0,640.2 L 475.4,642.5 L 477.8,640.8 L 480.2,645.3 L 482.6,642.6 L 485.0,639.7 L 487.4,640.3 L 489.8,642.0 L 492.2,639.4 L 494.6,642.4 L 497.0,642.5 L 499.4,643.3 L 501.8,641.6 L 504.2,641.5 L 506.6,638.6 L 509.0,641.7 L 511.4,640.9 L 513.8,641.6 L 516.2,642.2 L 518.6,639.7 L 521.0,640.4 L 523.4,639.7 L 525.8,638.6 L 528.2,637.2 L 530.6,638.9 L 533.0,642.3 L 535.4,636.5 L 537.8,642.3 L 540.2,642.9 L 542.6,643.3 L 545.0,640.5" fill="none" stroke="#e03050" stroke-width="0.7" stroke-opacity="0.85" stroke-linejoin="round"/><path d="M 449.0,640.5 L 451.4,643.6 L 453.8,642.9 L 456.2,645.1 L 458.6,640.4 L 461.0,640.3 L 463.4,643.8 L 465.8,640.4 L 468.2,641.0 L 470.6,644.2 L 473.0,643.1 L 475.4,640.4 L 477.8,642.6 L 480.2,641.2 L 482.6,643.7 L 485.0,642.1 L 487.4,639.4 L 489.8,645.2 L 492.2,641.2 L 494.6,641.4 L 497.0,639.9 L 499.4,641.3 L 501.8,640.4 L 504.2,642.6 L 506.6,642.5 L 509.0,644.0 L 511.4,643.1 L 513.8,640.2 L 516.2,639.7 L 518.6,639.5 L 521.0,643.6 L 523.4,639.6 L 525.8,644.8 L 528.2,641.7 L 530.6,641.2 L 533.0,641.7 L 535.4,645.4 L 537.8,641.6 L 540.2,640.5 L 542.6,639.0 L 545.0,637.7" fill="none" stroke="#e03050" stroke-width="0.7" stroke-opacity="0.85" stroke-linejoin="round"/><path d="M 449.0,639.8 L 451.4,644.3 L 453.8,642.7 L 456.2,639.6 L 458.6,636.5 L 461.0,643.8 L 463.4,642.1 L 465.8,636.6 L 468.2,640.8 L 470.6,638.8 L 473.0,643.6 L 475.4,642.7 L 477.8,639.8 L 480.2,636.5 L 482.6,640.6 L 485.0,645.5 L 487.4,642.4 L 489.8,640.1 L 492.2,643.4 L 494.6,640.1 L 497.0,645.0 L 499.4,637.3 L 501.8,640.3 L 504.2,644.8 L 506.6,643.9 L 509.0,642.5 L 511.4,637.9 L 513.8,641.4 L 516.2,642.8 L 518.6,640.2 L 521.0,641.3 L 523.4,643.3 L 525.8,640.4 L 528.2,642.4 L 530.6,640.6 L 533.0,638.6 L 535.4,637.7 L 537.8,639.6 L 540.2,639.1 L 542.6,643.5 L 545.0,641.3" fill="none" stroke="#e03050" stroke-width="0.7" stroke-opacity="0.85" stroke-linejoin="round"/><path d="M 449.0,636.8 L 451.4,644.6 L 453.8,645.5 L 456.2,640.1 L 458.6,642.4 L 461.0,640.9 L 463.4,642.9 L 465.8,641.4 L 468.2,642.2 L 470.6,641.1 L 473.0,639.7 L 475.4,640.3 L 477.8,639.3 L 480.2,639.6 L 482.6,640.1 L 485.0,645.5 L 487.4,642.9 L 489.8,645.4 L 492.2,637.7 L 494.6,640.5 L 497.0,643.4 L 499.4,644.0 L 501.8,642.2 L 504.2,640.1 L 506.6,637.8 L 509.0,641.6 L 511.4,637.3 L 513.8,641.7 L 516.2,639.8 L 518.6,639.5 L 521.0,639.4 L 523.4,637.5 L 525.8,638.1 L 528.2,641.8 L 530.6,639.3 L 533.0,639.1 L 535.4,643.0 L 537.8,642.3 L 540.2,641.7 L 542.6,637.4 L 545.0,643.4" fill="none" stroke="#e03050" stroke-width="0.7" stroke-opacity="0.85" stroke-linejoin="round"/><path d="M 449.0,642.2 L 451.4,638.6 L 453.8,639.6 L 456.2,643.0 L 458.6,643.7 L 461.0,640.1 L 463.4,638.4 L 465.8,643.9 L 468.2,639.9 L 470.6,642.9 L 473.0,641.2 L 475.4,640.8 L 477.8,640.2 L 480.2,644.5 L 482.6,640.3 L 485.0,641.2 L 487.4,639.7 L 489.8,645.5 L 492.2,641.2 L 494.6,638.6 L 497.0,640.9 L 499.4,637.1 L 501.8,640.6 L 504.2,638.3 L 506.6,643.9 L 509.0,644.4 L 511.4,645.5 L 513.8,640.4 L 516.2,639.2 L 518.6,636.5 L 521.0,641.7 L 523.4,639.4 L 525.8,644.2 L 528.2,645.5 L 530.6,637.9 L 533.0,640.9 L 535.4,645.1 L 537.8,637.8 L 540.2,638.4 L 542.6,643.2 L 545.0,642.1" fill="none" stroke="#e03050" stroke-width="0.7" stroke-opacity="0.85" stroke-linejoin="round"/><path d="M 491.7,632.9 L 495.2,632.9 L 497.0,636.2 L 498.2,632.9 L 499.5,636.2 L 497.2,634.7 L 493.9,636.5 L 499.6,637.9 L 496.5,638.3 L 496.8,638.2 L 496.2,636.5 L 495.9,641.4 L 496.5,643.0 L 499.8,641.0 L 492.9,642.2 L 492.7,644.1 L 495.7,644.7 L 495.3,643.2 L 499.8,644.8 L 496.1,646.0 L 494.8,646.0 L 492.7,647.2 L 496.8,646.5 L 491.7,647.8 L 497.3,650.3 L 496.7,648.7" fill="none" stroke="#e02848" stroke-width="0.8" stroke-opacity="0.9" stroke-linejoin="round"/><path d="M 496.8,631.8 L 497.9,633.5 L 493.7,633.8 L 496.4,635.8 L 500.3,632.7 L 494.6,634.8 L 494.7,635.9 L 499.8,638.1 L 495.7,638.7 L 496.4,637.8 L 496.0,640.1 L 498.7,638.5 L 496.3,641.2 L 496.9,641.0 L 495.1,639.9 L 493.6,641.9 L 494.2,644.2 L 495.1,643.6 L 494.1,645.2 L 492.5,648.1 L 492.7,645.6 L 495.8,647.1 L 496.9,644.9 L 495.8,646.8 L 499.2,646.4 L 495.7,650.9" fill="none" stroke="#e02848" stroke-width="0.8" stroke-opacity="0.9" stroke-linejoin="round"/><path d="M 495.7,632.3 L 496.0,633.4 L 498.3,633.6 L 498.6,634.3 L 498.1,633.0 L 499.6,636.4 L 497.5,638.9 L 494.0,635.6 L 489.7,639.5 L 497.2,641.6 L 496.2,639.9 L 496.0,640.4 L 496.6,639.9 L 494.2,640.9 L 493.2,644.2 L 494.1,642.5 L 495.9,642.7 L 499.5,644.9 L 498.3,643.0 L 494.1,642.5 L 498.7,645.6 L 497.3,648.9 L 492.5,648.9 L 495.4,649.1 L 496.4,650.1 L 495.5,647.8" fill="none" stroke="#e02848" stroke-width="0.8" stroke-opacity="0.9" stroke-linejoin="round"/><path d="M 493.8,631.8 L 495.6,631.2 L 494.3,633.5 L 498.5,634.2 L 494.3,635.1 L 493.3,636.2 L 492.4,637.5 L 494.2,638.9 L 495.3,637.1 L 496.3,638.0 L 495.7,642.1 L 497.3,640.8 L 491.0,642.6 L 497.5,641.2 L 493.0,639.9 L 493.8,642.7 L 496.4,644.0 L 496.6,644.4 L 495.4,643.0 L 501.0,647.2 L 498.4,646.3 L 492.7,649.5 L 493.9,645.8 L 497.5,650.8 L 495.1,649.5 L 497.7,650.4" fill="none" stroke="#e02848" stroke-width="0.8" stroke-opacity="0.9" stroke-linejoin="round"/><path d="M 496.1,633.2 L 498.0,632.0 L 496.2,634.2 L 498.2,634.7 L 495.0,635.2 L 493.7,635.5 L 498.6,636.6 L 496.7,637.9 L 495.9,636.2 L 494.0,640.0 L 495.6,637.2 L 499.5,639.2 L 492.7,643.8 L 497.4,641.5 L 497.6,643.1 L 494.5,644.0 L 494.4,642.5 L 492.3,644.5 L 501.3,643.3 L 494.3,646.8 L 500.5,646.3 L 496.7,646.7 L 495.3,649.4 L 494.9,650.2 L 498.1,648.8 L 493.8,650.0" fill="none" stroke="#e02848" stroke-width="0.8" stroke-opacity="0.9" stroke-linejoin="round"/><path d="M 493.3,631.1 L 496.2,633.2 L 496.0,630.7 L 495.1,635.1 L 498.6,636.2 L 491.0,634.0 L 494.5,634.6 L 491.5,635.3 L 497.2,637.4 L 496.8,639.1 L 500.6,639.5 L 498.7,639.6 L 496.1,638.5 L 494.6,640.2 L 497.9,641.8 L 496.5,643.1 L 496.9,641.0 L 498.5,642.1 L 496.2,646.4 L 495.0,648.7 L 497.9,646.5 L 493.9,645.4 L 497.1,647.9 L 496.7,649.5 L 495.3,649.3 L 497.2,648.6" fill="none" stroke="#e02848" stroke-width="0.8" stroke-opacity="0.9" stroke-linejoin="round"/><path d="M 494.6,630.9 L 496.6,632.2 L 497.1,632.7 L 492.8,634.0 L 494.5,633.3 L 495.8,635.2 L 493.1,636.0 L 495.1,636.6 L 495.6,637.2 L 496.7,638.7 L 497.3,639.1 L 495.6,639.5 L 494.6,640.0 L 492.7,640.0 L 494.6,640.5 L 495.9,642.8 L 497.6,643.9 L 492.0,645.0 L 497.5,645.2 L 493.8,645.5 L 497.6,647.1 L 496.3,647.2 L 497.0,646.8 L 495.5,647.5 L 495.6,646.2 L 499.1,650.3" fill="none" stroke="#e02848" stroke-width="0.8" stroke-opacity="0.9" stroke-linejoin="round"/><path d="M 499.3,630.6 L 498.7,634.4 L 495.9,632.6 L 494.1,632.5 L 497.3,637.6 L 496.5,635.2 L 492.8,636.7 L 498.8,637.2 L 497.9,637.3 L 490.3,638.6 L 500.1,636.6 L 504.3,643.3 L 494.8,641.9 L 497.6,643.9 L 493.6,641.3 L 493.0,642.9 L 494.7,643.1 L 495.5,643.1 L 501.9,645.5 L 499.4,647.3 L 496.2,644.9 L 494.5,646.5 L 497.0,650.9 L 495.9,646.0 L 495.3,649.4 L 496.8,646.3" fill="none" stroke="#e02848" stroke-width="0.8" stroke-opacity="0.9" stroke-linejoin="round"/><path d="M 495.3,594.0 L 497.3,597.9 L 497.6,601.8 L 498.1,605.8 L 495.8,609.7 L 495.5,613.6 L 495.4,617.5 L 494.3,621.4 L 494.6,625.4 L 496.5,629.3 L 497.4,633.2 L 495.2,637.1 L 493.1,641.0" fill="none" stroke="#d03450" stroke-width="0.6" stroke-opacity="0.85" stroke-linejoin="round"/><path d="M 496.4,594.0 L 494.7,597.9 L 494.4,601.8 L 494.2,605.8 L 495.3,609.7 L 496.1,613.6 L 494.6,617.5 L 495.2,621.4 L 496.1,625.4 L 494.9,629.3 L 494.4,633.2 L 495.6,637.1 L 496.1,641.0" fill="none" stroke="#d03450" stroke-width="0.6" stroke-opacity="0.85" stroke-linejoin="round"/><path d="M 495.5,641.0 L 494.4,645.0 L 495.5,649.0 L 495.4,653.0 L 497.2,657.0 L 494.7,661.0 L 496.1,665.0 L 495.3,669.0 L 495.7,673.0 L 497.2,677.0 L 498.9,681.0 L 496.0,685.0 L 496.2,689.0" fill="none" stroke="#d03450" stroke-width="0.6" stroke-opacity="0.85" stroke-linejoin="round"/><path d="M 496.5,641.0 L 496.1,645.0 L 495.1,649.0 L 494.5,653.0 L 495.2,657.0 L 496.0,661.0 L 496.2,665.0 L 495.3,669.0 L 493.8,673.0 L 496.1,677.0 L 495.4,681.0 L 495.3,685.0 L 496.9,689.0" fill="none" stroke="#d03450" stroke-width="0.6" stroke-opacity="0.85" stroke-linejoin="round"/><rect x="550.30" y="592.80" width="99.80" height="97.70" fill="#aaa9a3" stroke="none" stroke-width="1" /><rect x="592.00" y="592.80" width="13.40" height="97.70" fill="#b0afa9" stroke="none" stroke-width="1" /><rect x="551.30" y="633.80" width="97.80" height="14.50" fill="#b0afa9" stroke="none" stroke-width="1" /><line x1="592.00" y1="592.80" x2="592.00" y2="633.80" stroke="#eeeeea" stroke-width="0.9" stroke-dasharray="1.2,1"/><line x1="605.40" y1="592.80" x2="605.40" y2="633.80" stroke="#eeeeea" stroke-width="0.9" stroke-dasharray="1.2,1"/><line x1="592.00" y1="648.30" x2="592.00" y2="690.50" stroke="#eeeeea" stroke-width="0.9" stroke-dasharray="1.2,1"/><line x1="605.40" y1="648.30" x2="605.40" y2="690.50" stroke="#eeeeea" stroke-width="0.9" stroke-dasharray="1.2,1"/><line x1="551.30" y1="633.80" x2="592.00" y2="633.80" stroke="#eeeeea" stroke-width="0.9" stroke-dasharray="1.2,1"/><line x1="605.40" y1="633.80" x2="649.10" y2="633.80" stroke="#eeeeea" stroke-width="0.9" stroke-dasharray="1.2,1"/><line x1="551.30" y1="648.30" x2="592.00" y2="648.30" stroke="#eeeeea" stroke-width="0.9" stroke-dasharray="1.2,1"/><line x1="605.40" y1="648.30" x2="649.10" y2="648.30" stroke="#eeeeea" stroke-width="0.9" stroke-dasharray="1.2,1"/><line x1="551.30" y1="633.80" x2="551.30" y2="648.30" stroke="#eeeeea" stroke-width="0.9" stroke-dasharray="1.2,1"/><line x1="649.10" y1="633.80" x2="649.10" y2="648.30" stroke="#eeeeea" stroke-width="0.9" stroke-dasharray="1.2,1"/><rect x="552.30" y="638.55" width="46.40" height="5.00" fill="#e07888" stroke="none" stroke-width="1" opacity="0.75"/><rect x="598.70" y="636.85" width="49.40" height="8.40" fill="#e07888" stroke="none" stroke-width="1" opacity="0.75"/><path d="M 552.3,640.9 L 554.7,642.9 L 557.1,640.1 L 559.5,638.9 L 561.9,641.4 L 564.3,641.8 L 566.7,641.6 L 569.1,641.7 L 571.5,641.0 L 573.9,640.4 L 576.2,640.2 L 578.6,640.9 L 581.0,640.7 L 583.4,642.3 L 585.8,641.9 L 588.2,639.6 L 590.6,642.0 L 593.0,641.1 L 595.4,642.5 L 597.8,643.0 L 600.2,642.6 L 602.6,637.2 L 605.0,642.8 L 607.4,637.7 L 609.8,644.9 L 612.2,639.8 L 614.6,640.9 L 617.0,645.5 L 619.4,637.2 L 621.8,641.4 L 624.1,638.8 L 626.5,640.1 L 628.9,639.4 L 631.3,642.9 L 633.7,640.6 L 636.1,642.1 L 638.5,642.8 L 640.9,637.3 L 643.3,644.6 L 645.7,640.7 L 648.1,637.4" fill="none" stroke="#e03050" stroke-width="0.7" stroke-opacity="0.85" stroke-linejoin="round"/><path d="M 552.3,640.4 L 554.7,642.2 L 557.1,642.4 L 559.5,640.3 L 561.9,641.3 L 564.3,641.5 L 566.7,642.4 L 569.1,641.0 L 571.5,642.4 L 573.9,640.1 L 576.2,640.3 L 578.6,642.0 L 581.0,642.1 L 583.4,641.1 L 585.8,641.9 L 588.2,641.4 L 590.6,642.1 L 593.0,642.6 L 595.4,641.8 L 597.8,642.2 L 600.2,640.4 L 602.6,640.0 L 605.0,636.5 L 607.4,642.3 L 609.8,641.4 L 612.2,642.6 L 614.6,636.9 L 617.0,640.2 L 619.4,640.0 L 621.8,637.1 L 624.1,643.4 L 626.5,644.2 L 628.9,638.3 L 631.3,642.4 L 633.7,645.4 L 636.1,638.5 L 638.5,643.6 L 640.9,645.0 L 643.3,645.5 L 645.7,638.1 L 648.1,638.8" fill="none" stroke="#e03050" stroke-width="0.7" stroke-opacity="0.85" stroke-linejoin="round"/><path d="M 552.3,641.4 L 554.7,642.7 L 557.1,639.6 L 559.5,640.3 L 561.9,639.8 L 564.3,642.5 L 566.7,640.5 L 569.1,641.9 L 571.5,642.0 L 573.9,642.6 L 576.2,641.7 L 578.6,641.6 L 581.0,642.6 L 583.4,641.8 L 585.8,639.6 L 588.2,640.5 L 590.6,642.3 L 593.0,641.4 L 595.4,640.8 L 597.8,641.5 L 600.2,645.5 L 602.6,641.2 L 605.0,642.5 L 607.4,642.4 L 609.8,640.7 L 612.2,644.1 L 614.6,643.3 L 617.0,642.3 L 619.4,638.1 L 621.8,644.3 L 624.1,643.1 L 626.5,641.1 L 628.9,636.5 L 631.3,641.2 L 633.7,638.5 L 636.1,640.8 L 638.5,640.1 L 640.9,639.4 L 643.3,643.7 L 645.7,641.6 L 648.1,644.2" fill="none" stroke="#e03050" stroke-width="0.7" stroke-opacity="0.85" stroke-linejoin="round"/><path d="M 552.3,640.0 L 554.7,641.0 L 557.1,642.9 L 559.5,641.6 L 561.9,640.3 L 564.3,640.1 L 566.7,640.5 L 569.1,641.1 L 571.5,642.0 L 573.9,641.4 L 576.2,642.1 L 578.6,642.2 L 581.0,641.3 L 583.4,642.8 L 585.8,642.1 L 588.2,641.0 L 590.6,641.0 L 593.0,641.2 L 595.4,640.3 L 597.8,639.5 L 600.2,641.4 L 602.6,640.1 L 605.0,642.7 L 607.4,639.9 L 609.8,641.5 L 612.2,641.8 L 614.6,640.2 L 617.0,641.8 L 619.4,639.6 L 621.8,640.3 L 624.1,643.2 L 626.5,642.2 L 628.9,641.3 L 631.3,639.5 L 633.7,643.0 L 636.1,645.5 L 638.5,636.5 L 640.9,643.8 L 643.3,641.8 L 645.7,643.9 L 648.1,644.1" fill="none" stroke="#e03050" stroke-width="0.7" stroke-opacity="0.85" stroke-linejoin="round"/><path d="M 552.3,639.9 L 554.7,643.3 L 557.1,640.5 L 559.5,640.9 L 561.9,642.0 L 564.3,641.1 L 566.7,641.5 L 569.1,640.5 L 571.5,639.9 L 573.9,641.2 L 576.2,639.8 L 578.6,642.8 L 581.0,641.5 L 583.4,642.9 L 585.8,639.6 L 588.2,638.6 L 590.6,638.4 L 593.0,640.7 L 595.4,639.6 L 597.8,641.6 L 600.2,637.9 L 602.6,638.0 L 605.0,642.0 L 607.4,640.4 L 609.8,642.9 L 612.2,643.2 L 614.6,642.1 L 617.0,638.4 L 619.4,639.3 L 621.8,645.5 L 624.1,640.8 L 626.5,642.0 L 628.9,641.6 L 631.3,641.2 L 633.7,640.9 L 636.1,640.0 L 638.5,640.1 L 640.9,636.5 L 643.3,645.2 L 645.7,641.0 L 648.1,638.2" fill="none" stroke="#e03050" stroke-width="0.7" stroke-opacity="0.85" stroke-linejoin="round"/><path d="M 552.3,641.8 L 554.7,642.0 L 557.1,639.4 L 559.5,640.5 L 561.9,643.0 L 564.3,641.8 L 566.7,641.7 L 569.1,642.4 L 571.5,641.0 L 573.9,640.8 L 576.2,643.1 L 578.6,641.0 L 581.0,641.1 L 583.4,642.0 L 585.8,641.2 L 588.2,639.7 L 590.6,643.5 L 593.0,641.1 L 595.4,643.4 L 597.8,641.8 L 600.2,639.2 L 602.6,644.9 L 605.0,640.9 L 607.4,639.3 L 609.8,641.2 L 612.2,636.5 L 614.6,642.3 L 617.0,639.6 L 619.4,640.7 L 621.8,639.2 L 624.1,642.9 L 626.5,642.1 L 628.9,643.8 L 631.3,645.2 L 633.7,642.0 L 636.1,641.5 L 638.5,642.0 L 640.9,639.4 L 643.3,640.0 L 645.7,643.1 L 648.1,639.3" fill="none" stroke="#e03050" stroke-width="0.7" stroke-opacity="0.85" stroke-linejoin="round"/><path d="M 552.3,638.8 L 554.7,640.7 L 557.1,641.5 L 559.5,643.0 L 561.9,640.3 L 564.3,640.0 L 566.7,641.3 L 569.1,641.0 L 571.5,641.5 L 573.9,640.5 L 576.2,641.4 L 578.6,640.5 L 581.0,642.4 L 583.4,641.5 L 585.8,641.9 L 588.2,640.6 L 590.6,639.4 L 593.0,641.2 L 595.4,641.1 L 597.8,642.5 L 600.2,643.6 L 602.6,641.2 L 605.0,641.2 L 607.4,639.0 L 609.8,641.2 L 612.2,641.8 L 614.6,640.3 L 617.0,638.7 L 619.4,644.3 L 621.8,639.1 L 624.1,645.2 L 626.5,644.1 L 628.9,644.9 L 631.3,639.3 L 633.7,642.8 L 636.1,638.0 L 638.5,640.4 L 640.9,637.7 L 643.3,639.6 L 645.7,640.1 L 648.1,643.5" fill="none" stroke="#e03050" stroke-width="0.7" stroke-opacity="0.85" stroke-linejoin="round"/><path d="M 552.3,642.5 L 554.7,640.7 L 557.1,640.8 L 559.5,640.0 L 561.9,639.8 L 564.3,639.0 L 566.7,640.9 L 569.1,641.9 L 571.5,640.2 L 573.9,641.6 L 576.2,639.8 L 578.6,639.9 L 581.0,640.5 L 583.4,642.2 L 585.8,640.5 L 588.2,642.1 L 590.6,640.7 L 593.0,639.8 L 595.4,638.7 L 597.8,640.6 L 600.2,639.0 L 602.6,643.4 L 605.0,642.3 L 607.4,637.4 L 609.8,643.2 L 612.2,642.5 L 614.6,636.5 L 617.0,638.8 L 619.4,641.8 L 621.8,637.5 L 624.1,639.5 L 626.5,642.5 L 628.9,641.8 L 631.3,642.3 L 633.7,642.7 L 636.1,639.2 L 638.5,645.5 L 640.9,642.5 L 643.3,645.5 L 645.7,640.6 L 648.1,642.5" fill="none" stroke="#e03050" stroke-width="0.7" stroke-opacity="0.85" stroke-linejoin="round"/><path d="M 552.3,641.6 L 554.7,641.0 L 557.1,641.5 L 559.5,641.5 L 561.9,642.1 L 564.3,641.5 L 566.7,641.2 L 569.1,641.7 L 571.5,642.9 L 573.9,641.2 L 576.2,641.9 L 578.6,641.3 L 581.0,638.8 L 583.4,640.1 L 585.8,640.0 L 588.2,639.5 L 590.6,640.4 L 593.0,639.0 L 595.4,641.5 L 597.8,640.5 L 600.2,644.1 L 602.6,642.1 L 605.0,638.3 L 607.4,640.7 L 609.8,641.3 L 612.2,639.7 L 614.6,640.4 L 617.0,638.7 L 619.4,639.5 L 621.8,641.9 L 624.1,640.5 L 626.5,644.0 L 628.9,636.5 L 631.3,639.4 L 633.7,640.4 L 636.1,644.6 L 638.5,643.8 L 640.9,643.0 L 643.3,643.5 L 645.7,644.9 L 648.1,642.8" fill="none" stroke="#e03050" stroke-width="0.7" stroke-opacity="0.85" stroke-linejoin="round"/><path d="M 552.3,640.9 L 554.7,641.4 L 557.1,640.3 L 559.5,640.9 L 561.9,641.6 L 564.3,640.5 L 566.7,641.3 L 569.1,640.6 L 571.5,639.5 L 573.9,639.4 L 576.2,642.0 L 578.6,641.2 L 581.0,642.1 L 583.4,641.0 L 585.8,641.1 L 588.2,641.4 L 590.6,640.7 L 593.0,642.8 L 595.4,642.3 L 597.8,641.6 L 600.2,638.8 L 602.6,639.9 L 605.0,641.6 L 607.4,643.8 L 609.8,641.1 L 612.2,641.1 L 614.6,642.4 L 617.0,641.4 L 619.4,640.8 L 621.8,638.6 L 624.1,644.0 L 626.5,641.0 L 628.9,640.0 L 631.3,640.9 L 633.7,638.1 L 636.1,637.3 L 638.5,637.0 L 640.9,642.0 L 643.3,638.1 L 645.7,641.4 L 648.1,638.4" fill="none" stroke="#e03050" stroke-width="0.7" stroke-opacity="0.85" stroke-linejoin="round"/><path d="M 552.3,639.0 L 554.7,640.3 L 557.1,640.2 L 559.5,640.3 L 561.9,643.2 L 564.3,641.3 L 566.7,640.4 L 569.1,642.1 L 571.5,640.7 L 573.9,642.5 L 576.2,639.2 L 578.6,642.4 L 581.0,639.8 L 583.4,640.2 L 585.8,641.3 L 588.2,639.8 L 590.6,639.1 L 593.0,640.6 L 595.4,640.7 L 597.8,639.1 L 600.2,643.3 L 602.6,639.2 L 605.0,639.7 L 607.4,640.5 L 609.8,641.2 L 612.2,643.5 L 614.6,636.5 L 617.0,641.1 L 619.4,643.1 L 621.8,641.6 L 624.1,640.9 L 626.5,638.5 L 628.9,641.8 L 631.3,639.9 L 633.7,641.4 L 636.1,638.6 L 638.5,640.3 L 640.9,640.7 L 643.3,637.7 L 645.7,643.4 L 648.1,640.8" fill="none" stroke="#e03050" stroke-width="0.7" stroke-opacity="0.85" stroke-linejoin="round"/><path d="M 552.3,639.5 L 554.7,640.8 L 557.1,641.2 L 559.5,640.6 L 561.9,639.8 L 564.3,640.8 L 566.7,639.4 L 569.1,639.1 L 571.5,642.5 L 573.9,643.1 L 576.2,643.3 L 578.6,643.8 L 581.0,642.7 L 583.4,639.9 L 585.8,640.4 L 588.2,642.4 L 590.6,640.5 L 593.0,640.6 L 595.4,641.0 L 597.8,641.6 L 600.2,637.9 L 602.6,641.1 L 605.0,642.2 L 607.4,636.5 L 609.8,643.6 L 612.2,642.8 L 614.6,639.2 L 617.0,645.3 L 619.4,642.0 L 621.8,642.2 L 624.1,644.6 L 626.5,636.5 L 628.9,641.1 L 631.3,643.5 L 633.7,644.3 L 636.1,641.0 L 638.5,640.6 L 640.9,639.3 L 643.3,640.3 L 645.7,639.1 L 648.1,636.5" fill="none" stroke="#e03050" stroke-width="0.7" stroke-opacity="0.85" stroke-linejoin="round"/><path d="M 552.3,640.3 L 554.7,639.8 L 557.1,640.3 L 559.5,640.5 L 561.9,640.5 L 564.3,641.2 L 566.7,641.0 L 569.1,640.6 L 571.5,640.3 L 573.9,640.9 L 576.2,640.7 L 578.6,640.9 L 581.0,642.7 L 583.4,641.3 L 585.8,640.6 L 588.2,638.6 L 590.6,639.3 L 593.0,637.5 L 595.4,642.1 L 597.8,642.4 L 600.2,640.1 L 602.6,640.0 L 605.0,642.1 L 607.4,642.4 L 609.8,637.0 L 612.2,640.5 L 614.6,640.3 L 617.0,638.1 L 619.4,644.3 L 621.8,642.8 L 624.1,639.7 L 626.5,640.9 L 628.9,639.8 L 631.3,639.9 L 633.7,640.1 L 636.1,643.4 L 638.5,641.1 L 640.9,640.0 L 643.3,639.5 L 645.7,641.6 L 648.1,639.0" fill="none" stroke="#e03050" stroke-width="0.7" stroke-opacity="0.85" stroke-linejoin="round"/><path d="M 552.3,639.1 L 554.7,640.9 L 557.1,643.0 L 559.5,640.2 L 561.9,641.2 L 564.3,640.8 L 566.7,642.5 L 569.1,641.6 L 571.5,639.5 L 573.9,643.1 L 576.2,641.1 L 578.6,639.9 L 581.0,640.4 L 583.4,641.1 L 585.8,642.3 L 588.2,640.7 L 590.6,640.2 L 593.0,642.6 L 595.4,642.9 L 597.8,640.6 L 600.2,641.4 L 602.6,641.9 L 605.0,640.3 L 607.4,638.9 L 609.8,643.4 L 612.2,638.5 L 614.6,636.8 L 617.0,642.4 L 619.4,643.7 L 621.8,642.9 L 624.1,639.3 L 626.5,640.5 L 628.9,638.5 L 631.3,639.8 L 633.7,636.5 L 636.1,639.0 L 638.5,644.2 L 640.9,638.4 L 643.3,645.0 L 645.7,641.4 L 648.1,636.5" fill="none" stroke="#e03050" stroke-width="0.7" stroke-opacity="0.85" stroke-linejoin="round"/><path d="M 601.0,632.6 L 600.0,634.3 L 597.9,634.9 L 595.5,634.6 L 597.7,639.0 L 597.3,637.3 L 599.8,639.3 L 598.1,638.3 L 596.5,642.3 L 595.1,639.5 L 597.9,639.9 L 597.4,639.5 L 601.1,642.2 L 598.5,641.1 L 599.2,641.8 L 599.8,643.6 L 599.9,640.6 L 598.6,642.0 L 599.8,643.7 L 599.4,644.6 L 601.0,647.3 L 599.1,643.6 L 598.7,649.4 L 597.1,646.8 L 604.6,650.1 L 600.3,648.4" fill="none" stroke="#e02848" stroke-width="0.8" stroke-opacity="0.9" stroke-linejoin="round"/><path d="M 595.6,636.5 L 600.9,632.1 L 598.5,635.0 L 598.6,634.8 L 604.7,635.0 L 602.3,637.8 L 598.8,638.1 L 600.5,636.8 L 597.8,640.4 L 601.0,639.7 L 595.9,637.2 L 602.3,642.4 L 600.0,641.4 L 598.0,642.1 L 601.6,643.1 L 597.4,643.0 L 597.5,642.9 L 596.1,640.1 L 596.2,644.5 L 596.9,645.5 L 597.4,645.7 L 597.6,648.0 L 597.8,646.4 L 601.5,649.2 L 596.0,649.7 L 596.2,646.6" fill="none" stroke="#e02848" stroke-width="0.8" stroke-opacity="0.9" stroke-linejoin="round"/><path d="M 596.8,635.6 L 596.2,635.5 L 599.8,634.9 L 599.9,638.9 L 602.6,635.1 L 599.4,636.3 L 598.5,636.7 L 600.1,636.7 L 595.8,638.7 L 599.6,641.0 L 600.4,638.4 L 596.6,640.7 L 599.4,641.9 L 602.0,638.0 L 597.3,642.8 L 596.2,645.0 L 598.6,644.0 L 598.3,644.2 L 599.8,645.0 L 595.5,641.9 L 598.6,646.5 L 598.2,645.6 L 601.4,647.4 L 596.5,647.2 L 598.3,647.6 L 598.6,649.0" fill="none" stroke="#e02848" stroke-width="0.8" stroke-opacity="0.9" stroke-linejoin="round"/><path d="M 598.8,634.6 L 598.9,634.4 L 597.4,635.6 L 599.9,638.2 L 604.7,635.3 L 597.2,638.5 L 597.8,637.7 L 595.8,638.9 L 595.3,640.1 L 596.8,639.5 L 601.2,638.5 L 598.5,643.5 L 595.5,641.0 L 594.0,641.9 L 598.4,640.3 L 596.0,644.4 L 600.4,641.3 L 600.8,642.3 L 596.9,644.8 L 598.5,645.5 L 601.4,644.4 L 600.1,646.3 L 594.8,647.6 L 601.2,644.9 L 598.0,649.0 L 600.9,647.6" fill="none" stroke="#e02848" stroke-width="0.8" stroke-opacity="0.9" stroke-linejoin="round"/><path d="M 598.2,633.7 L 595.9,634.8 L 603.8,633.1 L 598.7,634.4 L 602.4,633.9 L 600.9,637.6 L 596.8,637.0 L 598.9,640.6 L 599.5,640.4 L 601.4,639.3 L 598.9,639.6 L 602.7,642.2 L 601.1,639.9 L 598.1,642.5 L 598.4,639.9 L 595.2,643.2 L 600.6,643.9 L 602.5,641.3 L 594.5,644.4 L 600.9,643.5 L 599.4,645.8 L 597.7,644.6 L 598.0,646.3 L 600.5,646.5 L 596.5,645.9 L 597.7,648.9" fill="none" stroke="#e02848" stroke-width="0.8" stroke-opacity="0.9" stroke-linejoin="round"/><path d="M 596.7,633.5 L 600.0,635.0 L 603.7,636.0 L 600.3,638.9 L 594.3,633.7 L 596.9,637.1 L 601.6,638.5 L 597.5,635.8 L 599.6,638.2 L 596.4,637.2 L 600.4,639.2 L 599.2,640.1 L 596.9,640.1 L 597.2,641.2 L 597.0,642.8 L 596.3,642.8 L 599.0,643.9 L 591.5,644.5 L 599.5,643.4 L 597.8,644.1 L 595.1,649.7 L 598.1,646.4 L 595.7,645.6 L 592.9,646.7 L 596.4,647.4 L 599.5,650.0" fill="none" stroke="#e02848" stroke-width="0.8" stroke-opacity="0.9" stroke-linejoin="round"/><path d="M 598.6,632.3 L 597.3,635.3 L 602.9,631.3 L 595.4,634.5 L 598.1,637.1 L 601.8,637.6 L 601.9,636.3 L 596.5,635.3 L 596.5,639.4 L 598.4,641.9 L 597.6,637.9 L 599.7,637.0 L 600.3,641.1 L 595.0,641.8 L 598.8,643.5 L 597.7,641.4 L 598.3,642.5 L 595.8,644.7 L 600.6,642.8 L 596.9,642.8 L 597.1,643.9 L 598.2,646.5 L 601.8,644.7 L 596.4,644.9 L 598.1,648.3 L 596.1,647.7" fill="none" stroke="#e02848" stroke-width="0.8" stroke-opacity="0.9" stroke-linejoin="round"/><path d="M 595.8,631.6 L 596.9,635.5 L 597.3,632.2 L 595.8,634.9 L 602.9,634.2 L 604.9,638.0 L 601.2,638.5 L 592.0,638.0 L 598.8,639.0 L 601.3,638.7 L 596.3,640.1 L 598.6,640.6 L 597.1,640.4 L 590.8,641.3 L 600.7,641.8 L 598.1,643.1 L 597.5,642.4 L 602.4,645.9 L 594.0,643.0 L 599.0,645.6 L 595.5,644.2 L 599.9,647.4 L 596.1,645.7 L 597.7,648.4 L 599.5,647.9 L 602.9,649.1" fill="none" stroke="#e02848" stroke-width="0.8" stroke-opacity="0.9" stroke-linejoin="round"/><path d="M 598.7,624.0 L 600.3,625.4 L 600.4,626.8 L 600.2,628.3 L 600.7,629.7 L 599.1,631.1 L 596.3,632.5 L 598.2,633.9 L 598.8,635.4 L 598.6,636.8 L 599.5,638.2 L 599.0,639.6 L 600.8,641.0" fill="none" stroke="#d03450" stroke-width="0.6" stroke-opacity="0.85" stroke-linejoin="round"/><path d="M 599.3,624.0 L 599.7,625.4 L 600.0,626.8 L 600.3,628.3 L 598.1,629.7 L 600.3,631.1 L 598.7,632.5 L 596.4,633.9 L 600.6,635.4 L 599.0,636.8 L 600.1,638.2 L 597.5,639.6 L 599.4,641.0" fill="none" stroke="#d03450" stroke-width="0.6" stroke-opacity="0.85" stroke-linejoin="round"/><path d="M 597.9,641.0 L 601.4,642.5 L 600.4,643.9 L 598.6,645.3 L 596.0,646.7 L 598.8,648.1 L 599.0,649.5 L 598.6,650.9 L 599.1,652.4 L 598.4,653.8 L 599.4,655.2 L 599.2,656.6 L 597.8,658.0" fill="none" stroke="#d03450" stroke-width="0.6" stroke-opacity="0.85" stroke-linejoin="round"/><path d="M 599.6,641.0 L 599.3,642.5 L 598.5,643.9 L 597.9,645.3 L 597.7,646.7 L 601.3,648.1 L 601.3,649.5 L 599.6,650.9 L 598.2,652.4 L 599.5,653.8 L 597.8,655.2 L 597.5,656.6 L 596.5,658.0" fill="none" stroke="#d03450" stroke-width="0.6" stroke-opacity="0.85" stroke-linejoin="round"/><text transform="translate(611.50,613.50) rotate(-90)" font-size="7.6" text-anchor="middle" fill="#111">Open arm</text><text x="607.80" y="657.20" font-size="7.6" text-anchor="start" fill="#111" >Close arm</text>
<text x="215.50" y="578.50" font-size="16" text-anchor="start" fill="#222" >i</text><line x1="240.80" y1="586.50" x2="240.80" y2="680.90" stroke="#1a1a1a" stroke-width="1.2" /><line x1="240.80" y1="680.90" x2="310.30" y2="680.90" stroke="#1a1a1a" stroke-width="1.2" /><line x1="237.30" y1="586.50" x2="240.80" y2="586.50" stroke="#1a1a1a" stroke-width="1.1" /><text x="236.40" y="590.20" font-size="10.5" text-anchor="end" fill="#1a1a1a" >80</text><line x1="237.30" y1="609.80" x2="240.80" y2="609.80" stroke="#1a1a1a" stroke-width="1.1" /><text x="236.40" y="613.50" font-size="10.5" text-anchor="end" fill="#1a1a1a" >60</text><line x1="237.30" y1="633.70" x2="240.80" y2="633.70" stroke="#1a1a1a" stroke-width="1.1" /><text x="236.40" y="637.40" font-size="10.5" text-anchor="end" fill="#1a1a1a" >40</text><line x1="237.30" y1="657.60" x2="240.80" y2="657.60" stroke="#1a1a1a" stroke-width="1.1" /><text x="236.40" y="661.30" font-size="10.5" text-anchor="end" fill="#1a1a1a" >20</text><line x1="237.30" y1="680.90" x2="240.80" y2="680.90" stroke="#1a1a1a" stroke-width="1.1" /><text x="236.40" y="684.60" font-size="10.5" text-anchor="end" fill="#1a1a1a" >0</text><line x1="259.90" y1="680.90" x2="259.90" y2="684.40" stroke="#1a1a1a" stroke-width="1.1" /><line x1="289.50" y1="680.90" x2="289.50" y2="684.40" stroke="#1a1a1a" stroke-width="1.1" /><text x="256.70" y="695.00" font-size="10.5" text-anchor="middle" fill="#1a1a1a" >GF-NC</text><text x="296.00" y="695.00" font-size="10.5" text-anchor="middle" fill="#1a1a1a" >GF-HHE</text><text transform="translate(219.50,634.70) rotate(-90)" font-size="10.5" text-anchor="middle" fill="#1a1a1a">Center Duration (s)</text><circle cx="260.00" cy="592.73" r="1.45" fill="#3d8fb0" /><circle cx="255.91" cy="604.32" r="1.45" fill="#3d8fb0" /><circle cx="260.00" cy="602.96" r="1.45" fill="#3d8fb0" /><circle cx="264.37" cy="605.68" r="1.45" fill="#3d8fb0" /><circle cx="256.59" cy="610.73" r="1.45" fill="#3d8fb0" /><circle cx="260.68" cy="611.14" r="1.45" fill="#3d8fb0" /><circle cx="264.37" cy="614.27" r="1.45" fill="#3d8fb0" /><circle cx="260.00" cy="618.37" r="1.45" fill="#3d8fb0" /><circle cx="264.37" cy="627.91" r="1.45" fill="#3d8fb0" /><circle cx="260.00" cy="630.23" r="1.45" fill="#3d8fb0" /><circle cx="260.00" cy="637.73" r="1.45" fill="#3d8fb0" /><rect x="286.66" y="609.84" width="2.60" height="2.60" fill="#b84cd8" stroke="none" stroke-width="1" /><rect x="282.57" y="621.43" width="2.60" height="2.60" fill="#b84cd8" stroke="none" stroke-width="1" /><rect x="286.66" y="618.70" width="2.60" height="2.60" fill="#b84cd8" stroke="none" stroke-width="1" /><rect x="294.84" y="617.34" width="2.60" height="2.60" fill="#b84cd8" stroke="none" stroke-width="1" /><rect x="291.43" y="622.11" width="2.60" height="2.60" fill="#b84cd8" stroke="none" stroke-width="1" /><rect x="295.52" y="622.11" width="2.60" height="2.60" fill="#b84cd8" stroke="none" stroke-width="1" /><rect x="288.02" y="624.16" width="2.60" height="2.60" fill="#b84cd8" stroke="none" stroke-width="1" /><rect x="290.75" y="637.11" width="2.60" height="2.60" fill="#b84cd8" stroke="none" stroke-width="1" /><rect x="286.66" y="643.25" width="2.60" height="2.60" fill="#b84cd8" stroke="none" stroke-width="1" /><rect x="286.66" y="647.34" width="2.60" height="2.60" fill="#b84cd8" stroke="none" stroke-width="1" /><rect x="286.66" y="653.48" width="2.60" height="2.60" fill="#b84cd8" stroke="none" stroke-width="1" /><line x1="250.20" y1="614.70" x2="269.60" y2="614.70" stroke="#1a1a1a" stroke-width="1.3" /><line x1="259.90" y1="610.40" x2="259.90" y2="619.30" stroke="#1a1a1a" stroke-width="1.2" /><line x1="254.90" y1="610.40" x2="264.90" y2="610.40" stroke="#1a1a1a" stroke-width="1.2" /><line x1="254.90" y1="619.30" x2="264.90" y2="619.30" stroke="#1a1a1a" stroke-width="1.2" /><line x1="279.80" y1="630.20" x2="299.20" y2="630.20" stroke="#1a1a1a" stroke-width="1.3" /><line x1="289.50" y1="625.70" x2="289.50" y2="635.20" stroke="#1a1a1a" stroke-width="1.2" /><line x1="284.50" y1="625.70" x2="294.50" y2="625.70" stroke="#1a1a1a" stroke-width="1.2" /><line x1="284.50" y1="635.20" x2="294.50" y2="635.20" stroke="#1a1a1a" stroke-width="1.2" /><line x1="261.70" y1="586.50" x2="294.00" y2="586.50" stroke="#1a1a1a" stroke-width="1.1" /><text x="277.85" y="587.10" font-size="9.5" text-anchor="middle" fill="#1a1a1a" >*</text><line x1="363.10" y1="586.50" x2="363.10" y2="680.90" stroke="#1a1a1a" stroke-width="1.2" /><line x1="363.10" y1="680.90" x2="433.10" y2="680.90" stroke="#1a1a1a" stroke-width="1.2" /><line x1="359.60" y1="586.50" x2="363.10" y2="586.50" stroke="#1a1a1a" stroke-width="1.1" /><text x="358.80" y="590.20" font-size="10.5" text-anchor="end" fill="#1a1a1a" >8000</text><line x1="359.60" y1="609.80" x2="363.10" y2="609.80" stroke="#1a1a1a" stroke-width="1.1" /><text x="358.80" y="613.50" font-size="10.5" text-anchor="end" fill="#1a1a1a" >6000</text><line x1="359.60" y1="633.70" x2="363.10" y2="633.70" stroke="#1a1a1a" stroke-width="1.1" /><text x="358.80" y="637.40" font-size="10.5" text-anchor="end" fill="#1a1a1a" >4000</text><line x1="359.60" y1="657.60" x2="363.10" y2="657.60" stroke="#1a1a1a" stroke-width="1.1" /><text x="358.80" y="661.30" font-size="10.5" text-anchor="end" fill="#1a1a1a" >2000</text><line x1="359.60" y1="680.90" x2="363.10" y2="680.90" stroke="#1a1a1a" stroke-width="1.1" /><text x="358.80" y="684.60" font-size="10.5" text-anchor="end" fill="#1a1a1a" >0</text><line x1="383.10" y1="680.90" x2="383.10" y2="684.40" stroke="#1a1a1a" stroke-width="1.1" /><line x1="412.60" y1="680.90" x2="412.60" y2="684.40" stroke="#1a1a1a" stroke-width="1.1" /><text x="379.00" y="695.00" font-size="10.5" text-anchor="middle" fill="#1a1a1a" >GF-NC</text><text x="418.80" y="695.00" font-size="10.5" text-anchor="middle" fill="#1a1a1a" >GF-HHE</text><text transform="translate(331.00,634.70) rotate(-90)" font-size="10.5" text-anchor="middle" fill="#1a1a1a">Distance traveled (cm)</text><circle cx="385.00" cy="605.71" r="1.45" fill="#3d8fb0" /><circle cx="376.43" cy="610.00" r="1.45" fill="#3d8fb0" /><circle cx="380.71" cy="609.29" r="1.45" fill="#3d8fb0" /><circle cx="378.57" cy="611.43" r="1.45" fill="#3d8fb0" /><circle cx="387.14" cy="612.43" r="1.45" fill="#3d8fb0" /><circle cx="382.86" cy="615.00" r="1.45" fill="#3d8fb0" /><circle cx="384.29" cy="616.43" r="1.45" fill="#3d8fb0" /><circle cx="380.71" cy="624.29" r="1.45" fill="#3d8fb0" /><circle cx="380.71" cy="628.57" r="1.45" fill="#3d8fb0" /><circle cx="381.14" cy="637.57" r="1.45" fill="#3d8fb0" /><rect x="413.70" y="592.99" width="2.60" height="2.60" fill="#b84cd8" stroke="none" stroke-width="1" /><rect x="409.41" y="605.84" width="2.60" height="2.60" fill="#b84cd8" stroke="none" stroke-width="1" /><rect x="404.41" y="607.99" width="2.60" height="2.60" fill="#b84cd8" stroke="none" stroke-width="1" /><rect x="408.70" y="608.70" width="2.60" height="2.60" fill="#b84cd8" stroke="none" stroke-width="1" /><rect x="414.41" y="607.99" width="2.60" height="2.60" fill="#b84cd8" stroke="none" stroke-width="1" /><rect x="417.27" y="608.70" width="2.60" height="2.60" fill="#b84cd8" stroke="none" stroke-width="1" /><rect x="405.84" y="611.13" width="2.60" height="2.60" fill="#b84cd8" stroke="none" stroke-width="1" /><rect x="410.13" y="612.27" width="2.60" height="2.60" fill="#b84cd8" stroke="none" stroke-width="1" /><rect x="412.99" y="611.13" width="2.60" height="2.60" fill="#b84cd8" stroke="none" stroke-width="1" /><rect x="409.41" y="619.13" width="2.60" height="2.60" fill="#b84cd8" stroke="none" stroke-width="1" /><line x1="373.40" y1="617.10" x2="392.80" y2="617.10" stroke="#1a1a1a" stroke-width="1.3" /><line x1="383.10" y1="613.90" x2="383.10" y2="620.40" stroke="#1a1a1a" stroke-width="1.2" /><line x1="378.10" y1="613.90" x2="388.10" y2="613.90" stroke="#1a1a1a" stroke-width="1.2" /><line x1="378.10" y1="620.40" x2="388.10" y2="620.40" stroke="#1a1a1a" stroke-width="1.2" /><line x1="402.90" y1="610.70" x2="422.30" y2="610.70" stroke="#1a1a1a" stroke-width="1.3" /><line x1="412.60" y1="608.10" x2="412.60" y2="613.30" stroke="#1a1a1a" stroke-width="1.2" /><line x1="407.60" y1="608.10" x2="417.60" y2="608.10" stroke="#1a1a1a" stroke-width="1.2" /><line x1="407.60" y1="613.30" x2="417.60" y2="613.30" stroke="#1a1a1a" stroke-width="1.2" /><text x="657.70" y="578.50" font-size="16" text-anchor="start" fill="#222" >k</text><line x1="689.30" y1="586.10" x2="689.30" y2="680.70" stroke="#1a1a1a" stroke-width="1.2" /><line x1="689.30" y1="680.70" x2="759.90" y2="680.70" stroke="#1a1a1a" stroke-width="1.2" /><line x1="685.80" y1="586.10" x2="689.30" y2="586.10" stroke="#1a1a1a" stroke-width="1.1" /><text x="684.00" y="589.80" font-size="10.5" text-anchor="end" fill="#1a1a1a" >100</text><line x1="685.80" y1="605.20" x2="689.30" y2="605.20" stroke="#1a1a1a" stroke-width="1.1" /><text x="684.00" y="608.90" font-size="10.5" text-anchor="end" fill="#1a1a1a" >80</text><line x1="685.80" y1="624.10" x2="689.30" y2="624.10" stroke="#1a1a1a" stroke-width="1.1" /><text x="684.00" y="627.80" font-size="10.5" text-anchor="end" fill="#1a1a1a" >60</text><line x1="685.80" y1="642.70" x2="689.30" y2="642.70" stroke="#1a1a1a" stroke-width="1.1" /><text x="684.00" y="646.40" font-size="10.5" text-anchor="end" fill="#1a1a1a" >40</text><line x1="685.80" y1="661.60" x2="689.30" y2="661.60" stroke="#1a1a1a" stroke-width="1.1" /><text x="684.00" y="665.30" font-size="10.5" text-anchor="end" fill="#1a1a1a" >20</text><line x1="685.80" y1="680.70" x2="689.30" y2="680.70" stroke="#1a1a1a" stroke-width="1.1" /><text x="684.00" y="684.40" font-size="10.5" text-anchor="end" fill="#1a1a1a" >0</text><line x1="709.20" y1="680.70" x2="709.20" y2="684.20" stroke="#1a1a1a" stroke-width="1.1" /><line x1="738.80" y1="680.70" x2="738.80" y2="684.20" stroke="#1a1a1a" stroke-width="1.1" /><text x="705.90" y="695.30" font-size="10.5" text-anchor="middle" fill="#1a1a1a" >GF-NC</text><text x="745.90" y="695.30" font-size="10.5" text-anchor="middle" fill="#1a1a1a" >GF-HHE</text><text transform="translate(663.00,634.40) rotate(-90)" font-size="10.5" text-anchor="middle" fill="#1a1a1a">Time in open arm (s)</text><circle cx="709.22" cy="600.46" r="1.45" fill="#3d8fb0" /><circle cx="709.22" cy="606.36" r="1.45" fill="#3d8fb0" /><circle cx="705.00" cy="623.25" r="1.45" fill="#3d8fb0" /><circle cx="713.44" cy="623.25" r="1.45" fill="#3d8fb0" /><circle cx="707.53" cy="628.31" r="1.45" fill="#3d8fb0" /><circle cx="705.00" cy="631.69" r="1.45" fill="#3d8fb0" /><circle cx="712.60" cy="632.53" r="1.45" fill="#3d8fb0" /><circle cx="709.22" cy="635.91" r="1.45" fill="#3d8fb0" /><circle cx="709.22" cy="643.51" r="1.45" fill="#3d8fb0" /><circle cx="709.22" cy="649.42" r="1.45" fill="#3d8fb0" /><rect x="735.78" y="632.08" width="2.60" height="2.60" fill="#b84cd8" stroke="none" stroke-width="1" /><rect x="740.00" y="632.92" width="2.60" height="2.60" fill="#b84cd8" stroke="none" stroke-width="1" /><rect x="731.56" y="637.99" width="2.60" height="2.60" fill="#b84cd8" stroke="none" stroke-width="1" /><rect x="735.78" y="638.83" width="2.60" height="2.60" fill="#b84cd8" stroke="none" stroke-width="1" /><rect x="744.22" y="637.99" width="2.60" height="2.60" fill="#b84cd8" stroke="none" stroke-width="1" /><rect x="732.40" y="642.21" width="2.60" height="2.60" fill="#b84cd8" stroke="none" stroke-width="1" /><rect x="740.00" y="641.70" width="2.60" height="2.60" fill="#b84cd8" stroke="none" stroke-width="1" /><rect x="736.62" y="644.74" width="2.60" height="2.60" fill="#b84cd8" stroke="none" stroke-width="1" /><rect x="735.78" y="659.94" width="2.60" height="2.60" fill="#b84cd8" stroke="none" stroke-width="1" /><rect x="735.78" y="665.00" width="2.60" height="2.60" fill="#b84cd8" stroke="none" stroke-width="1" /><rect x="735.78" y="669.22" width="2.60" height="2.60" fill="#b84cd8" stroke="none" stroke-width="1" /><line x1="699.50" y1="627.50" x2="718.90" y2="627.50" stroke="#1a1a1a" stroke-width="1.3" /><line x1="709.20" y1="622.70" x2="709.20" y2="632.20" stroke="#1a1a1a" stroke-width="1.2" /><line x1="704.20" y1="622.70" x2="714.20" y2="622.70" stroke="#1a1a1a" stroke-width="1.2" /><line x1="704.20" y1="632.20" x2="714.20" y2="632.20" stroke="#1a1a1a" stroke-width="1.2" /><line x1="729.10" y1="647.20" x2="748.50" y2="647.20" stroke="#1a1a1a" stroke-width="1.3" /><line x1="738.80" y1="643.00" x2="738.80" y2="651.40" stroke="#1a1a1a" stroke-width="1.2" /><line x1="733.80" y1="643.00" x2="743.80" y2="643.00" stroke="#1a1a1a" stroke-width="1.2" /><line x1="733.80" y1="651.40" x2="743.80" y2="651.40" stroke="#1a1a1a" stroke-width="1.2" /><line x1="708.00" y1="593.20" x2="741.80" y2="593.20" stroke="#1a1a1a" stroke-width="1.1" /><text x="724.90" y="593.80" font-size="9.5" text-anchor="middle" fill="#1a1a1a" >**</text>
<text x="55.00" y="711.00" font-size="16" text-anchor="start" fill="#222" >l</text><text x="144.00" y="711.50" font-size="10.5" text-anchor="middle" fill="#4a8ac2" >GF-NC</text><text x="141.50" y="795.50" font-size="10.5" text-anchor="middle" fill="#c460d8" >GF-HHE</text><path d="M 58.00,731.01 L 58.25,726.29 L 58.50,729.84 L 58.75,723.52 L 59.00,732.92 L 59.25,730.93 L 59.50,727.24 L 59.75,724.63 L 60.00,732.96 L 60.25,734.39 L 60.50,728.86 L 60.75,723.42 L 61.00,725.53 L 61.25,734.18 L 61.50,732.22 L 61.75,728.85 L 62.00,733.96 L 62.25,728.20 L 62.50,723.05 L 62.75,725.63 L 63.00,724.56 L 63.25,729.96 L 63.50,724.75 L 63.75,731.51 L 64.00,734.92 L 64.25,726.12 L 64.50,721.29 L 64.75,729.25 L 65.00,735.22 L 65.25,729.00 L 65.50,725.37 L 65.75,733.68 L 66.00,727.48 L 66.30,739.60 L 66.70,738.04 L 67.20,728.23 L 66.25,726.31 L 66.50,735.76 L 66.75,730.11 L 67.00,728.54 L 67.25,735.26 L 67.50,733.82 L 67.75,735.51 L 68.00,726.50 L 68.25,729.60 L 68.50,728.81 L 68.75,736.11 L 69.00,734.17 L 69.25,725.71 L 69.50,733.54 L 69.75,725.82 L 70.00,728.91 L 70.25,732.11 L 70.50,733.63 L 70.75,731.76 L 71.00,735.61 L 71.25,734.70 L 71.50,726.65 L 71.75,730.89 L 72.00,732.33 L 72.25,733.55 L 72.50,729.95 L 72.75,730.56 L 73.00,730.71 L 73.25,725.46 L 73.50,723.90 L 73.75,728.31 L 74.00,732.76 L 74.25,728.86 L 74.55,735.20 L 74.95,734.30 L 75.45,731.36 L 74.50,728.89 L 74.75,728.14 L 75.00,729.78 L 75.25,727.90 L 75.50,725.36 L 75.75,725.83 L 76.00,733.10 L 76.25,729.98 L 76.50,730.65 L 76.75,724.83 L 77.00,731.58 L 77.25,738.63 L 77.50,730.75 L 77.75,724.77 L 78.00,731.43 L 78.25,734.28 L 78.50,726.55 L 78.75,724.55 L 79.00,733.94 L 79.25,733.47 L 79.50,731.32 L 79.75,727.82 L 80.00,730.80 L 80.25,730.33 L 80.50,727.26 L 80.75,733.50 L 81.00,728.10 L 81.25,728.85 L 81.50,735.25 L 81.75,723.16 L 82.00,733.65 L 82.25,724.66 L 82.50,726.49 L 82.75,734.06 L 83.00,730.93 L 83.25,734.68 L 83.50,724.58 L 83.75,730.96 L 84.00,727.30 L 84.25,727.56 L 84.50,723.81 L 84.75,728.75 L 85.00,728.21 L 85.25,726.20 L 85.50,725.65 L 85.75,725.92 L 86.00,728.21 L 86.25,726.32 L 86.50,731.22 L 86.75,723.54 L 87.00,732.90 L 87.25,731.04 L 87.55,745.80 L 87.95,743.31 L 88.45,732.53 L 87.50,734.04 L 87.75,727.66 L 88.00,723.51 L 88.25,730.57 L 88.50,725.15 L 88.75,729.30 L 89.00,729.77 L 89.25,732.81 L 89.50,728.70 L 89.75,730.37 L 90.00,724.10 L 90.25,726.02 L 90.50,730.21 L 90.75,735.52 L 91.00,731.16 L 91.25,730.01 L 91.50,734.00 L 91.75,734.71 L 92.00,728.30 L 92.25,728.25 L 92.50,731.11 L 92.75,731.60 L 93.00,733.49 L 93.25,735.38 L 93.50,728.84 L 93.75,731.45 L 94.00,727.70 L 94.25,732.35 L 94.50,735.04 L 94.75,728.29 L 95.00,725.80 L 95.25,735.24 L 95.50,729.90 L 95.80,742.20 L 96.20,740.25 L 96.70,732.45 L 95.75,734.22 L 96.00,723.83 L 96.25,726.97 L 96.50,732.66 L 96.75,729.63 L 97.00,729.38 L 97.25,730.47 L 97.50,726.15 L 97.75,729.80 L 98.00,729.63 L 98.25,734.23 L 98.50,735.02 L 98.75,727.95 L 99.00,732.29 L 99.25,735.54 L 99.50,725.84 L 99.75,730.56 L 100.00,725.17 L 100.25,731.83 L 100.50,726.46 L 100.75,726.79 L 101.00,732.34 L 101.25,728.19 L 101.50,734.12 L 101.75,734.88 L 102.00,725.38 L 102.25,723.84 L 102.50,729.33 L 102.75,726.68 L 103.00,736.90 L 103.25,729.33 L 103.50,731.06 L 103.75,727.01 L 104.00,722.71 L 104.25,731.63 L 104.50,724.88 L 104.75,736.21 L 105.00,726.96 L 105.25,724.34 L 105.50,722.89 L 105.75,733.49 L 106.00,733.43 L 106.25,731.92 L 106.50,725.31 L 106.75,734.61 L 107.00,732.02 L 107.25,729.78 L 107.50,735.61 L 107.75,728.81 L 108.00,733.54 L 108.25,733.09 L 108.50,734.36 L 108.75,730.05 L 109.00,731.26 L 109.25,731.30 L 109.50,720.33 L 109.75,725.64 L 110.00,727.47 L 110.25,730.54 L 110.50,732.87 L 110.75,730.15 L 111.00,733.24 L 111.25,729.28 L 111.50,728.03 L 111.75,731.51 L 112.00,724.81 L 112.25,725.76 L 112.50,732.53 L 112.75,729.59 L 113.00,734.16 L 113.25,731.26 L 113.50,734.93 L 113.75,726.68 L 114.00,733.55 L 114.25,732.30 L 114.50,728.65 L 114.75,735.57 L 115.00,729.66 L 115.25,733.39 L 115.50,734.00 L 115.75,723.99 L 116.00,724.46 L 116.25,723.98 L 116.50,726.26 L 116.75,730.14 L 117.00,734.67 L 117.25,730.21 L 117.50,728.41 L 117.75,725.21 L 118.00,723.83 L 118.25,724.75 L 118.50,727.01 L 118.75,724.36 L 119.00,725.50 L 119.25,727.20 L 119.50,728.97 L 119.75,731.22 L 120.00,729.11 L 120.25,730.05 L 120.50,734.18 L 120.75,733.70 L 121.00,731.83 L 121.25,729.07 L 121.50,730.37 L 121.75,724.54 L 122.00,729.77 L 122.25,729.41 L 122.50,726.53 L 122.75,728.63 L 123.00,731.80 L 123.25,723.49 L 123.50,731.24 L 123.75,734.48 L 124.00,730.51 L 124.25,723.96 L 124.50,723.42 L 124.75,734.73 L 125.00,732.89 L 125.25,732.78 L 125.50,731.28 L 125.75,734.46 L 126.00,729.73 L 126.25,727.36 L 126.50,724.55 L 126.75,729.63 L 127.00,733.95 L 127.25,730.57 L 127.50,723.74 L 127.75,723.78 L 128.00,731.81 L 128.25,723.06 L 128.50,733.47 L 128.75,725.06 L 129.00,723.11 L 129.25,729.82 L 129.50,731.65 L 129.75,734.11 L 130.00,728.55 L 130.25,724.70 L 130.50,732.65 L 130.75,732.26 L 131.00,725.02 L 131.25,725.51 L 131.50,723.64 L 131.75,730.11 L 132.00,727.12 L 132.25,723.17 L 132.50,723.40 L 132.75,727.72 L 133.00,724.38 L 133.25,733.83 L 133.50,731.19 L 133.75,724.53 L 134.00,722.56 L 134.25,725.24 L 134.50,724.90 L 134.75,727.60 L 135.00,733.57 L 135.25,723.01 L 135.50,732.48 L 135.75,723.23 L 136.00,722.75 L 136.25,722.75 L 136.50,733.96 L 136.75,731.63 L 137.00,731.09 L 137.25,726.32 L 137.50,733.88 L 137.75,733.22 L 138.00,721.36 L 138.25,726.84 L 138.50,727.96 L 138.75,732.76 L 139.00,733.22 L 139.25,731.03 L 139.50,730.98 L 139.75,734.81 L 140.00,726.26 L 140.25,724.83 L 140.50,731.33 L 140.75,734.58 L 141.00,733.92 L 141.25,734.58 L 141.55,758.80 L 141.95,754.36 L 142.45,727.37 L 141.50,727.23 L 141.75,726.40 L 142.00,728.17 L 142.25,734.98 L 142.50,731.01 L 142.75,731.73 L 143.00,731.24 L 143.25,733.56 L 143.50,730.11 L 143.75,729.78 L 144.00,733.93 L 144.25,723.85 L 144.50,729.08 L 144.75,734.94 L 145.00,729.51 L 145.25,724.66 L 145.50,725.91 L 145.75,728.80 L 146.00,729.25 L 146.25,732.91 L 146.50,727.35 L 146.75,733.48 L 147.00,729.54 L 147.25,728.15 L 147.50,729.55 L 147.75,729.08 L 148.00,732.15 L 148.25,723.13 L 148.50,724.47 L 148.75,725.12 L 149.00,731.59 L 149.25,724.18 L 149.50,719.17 L 149.75,732.65 L 150.00,728.99 L 150.25,730.32 L 150.50,723.92 L 150.75,732.01 L 151.00,734.35 L 151.25,734.09 L 151.50,732.28 L 151.75,730.96 L 152.00,730.08 L 152.25,735.27 L 152.50,729.28 L 152.75,731.31 L 153.00,729.69 L 153.25,733.93 L 153.50,733.71 L 153.75,727.65 L 154.00,728.61 L 154.25,732.32 L 154.50,729.05 L 154.75,727.70 L 155.00,734.45 L 155.25,728.69 L 155.50,724.76 L 155.75,727.47 L 156.00,726.41 L 156.25,724.19 L 156.50,726.99 L 156.75,723.69 L 157.00,727.74 L 157.25,730.61 L 157.50,730.04 L 157.75,730.45 L 158.00,725.63 L 158.25,727.49 L 158.50,733.13 L 158.80,747.20 L 159.20,744.50 L 159.70,726.82 L 158.75,723.32 L 159.00,727.35 L 159.25,732.81 L 159.50,725.54 L 159.75,727.43 L 160.00,732.93 L 160.25,721.46 L 160.50,726.63 L 160.75,732.57 L 161.00,727.72 L 161.25,731.25 L 161.50,732.66 L 161.75,724.54 L 162.00,723.72 L 162.25,728.07 L 162.50,724.98 L 162.75,722.96 L 163.00,733.27 L 163.25,731.76 L 163.50,718.00 L 163.75,728.73 L 164.00,725.05 L 164.25,726.34 L 164.50,731.26 L 164.75,728.79 L 165.00,726.59 L 165.25,730.60 L 165.50,729.40 L 165.75,734.07 L 166.00,731.06 L 166.25,723.45 L 166.50,723.83 L 166.75,731.55 L 167.00,728.30 L 167.25,733.23 L 167.50,734.75 L 167.75,725.64 L 168.00,729.40 L 168.25,726.91 L 168.50,727.50 L 168.75,725.93 L 169.00,724.20 L 169.25,728.29 L 169.50,734.72 L 169.75,734.87 L 170.00,729.07 L 170.25,723.16 L 170.50,730.41 L 170.75,724.25 L 171.00,729.28 L 171.25,739.14 L 171.50,730.48 L 171.75,726.29 L 172.00,731.14 L 172.25,734.29 L 172.50,727.48 L 172.75,730.27 L 173.00,726.37 L 173.25,724.68 L 173.50,733.27 L 173.75,734.90 L 174.00,727.37 L 174.25,731.11 L 174.50,738.43 L 174.75,725.99 L 175.00,733.31 L 175.25,728.44 L 175.50,727.15 L 175.75,733.89 L 176.00,724.43 L 176.25,723.94 L 176.50,735.57 L 176.75,726.67 L 177.00,725.64 L 177.30,748.80 L 177.70,745.86 L 178.20,734.00 L 177.25,725.31 L 177.50,723.57 L 177.75,730.92 L 178.00,729.72 L 178.25,719.22 L 178.50,733.21 L 178.75,728.19 L 179.00,729.79 L 179.25,733.11 L 179.50,734.20 L 179.75,726.87 L 180.00,732.73 L 180.25,728.69 L 180.50,733.51 L 180.75,734.18 L 181.00,731.38 L 181.25,730.70 L 181.50,733.66 L 181.75,724.77 L 182.00,730.39 L 182.25,727.02 L 182.50,725.28 L 182.75,735.58 L 183.00,732.70 L 183.25,725.50 L 183.50,734.12 L 183.75,734.63 L 184.00,731.73 L 184.25,735.01 L 184.50,723.58 L 184.75,723.65 L 185.00,731.96 L 185.30,765.10 L 185.70,759.72 L 186.20,725.36 L 185.25,728.69 L 185.50,731.66 L 185.75,728.96 L 186.00,733.83 L 186.25,735.35 L 186.50,734.41 L 186.75,728.58 L 187.00,733.54 L 187.25,727.69 L 187.50,735.49 L 187.75,734.69 L 188.00,724.20 L 188.25,726.16 L 188.50,725.46 L 188.75,733.51 L 189.00,734.69 L 189.25,730.93 L 189.50,726.56 L 189.75,726.53 L 190.00,728.41 L 190.25,724.28 L 190.50,725.29 L 190.75,727.61 L 191.00,729.57 L 191.25,725.76 L 191.50,734.11 L 191.75,733.25 L 192.00,728.51 L 192.25,730.90 L 192.50,731.45 L 192.75,729.66 L 193.00,728.27 L 193.25,733.38 L 193.50,732.87 L 193.75,731.36 L 194.00,725.03 L 194.25,730.06 L 194.50,731.26 L 194.75,729.38 L 195.00,728.04 L 195.25,726.77 L 195.50,725.27 L 195.75,733.81 L 196.00,731.31 L 196.25,733.95 L 196.50,729.56 L 196.75,729.95 L 197.00,733.61 L 197.25,725.12 L 197.50,724.48 L 197.75,735.35 L 198.00,727.12 L 198.25,732.84 L 198.50,725.54 L 198.75,724.29 L 199.00,734.62 L 199.25,732.92 L 199.50,726.76 L 199.75,729.61 L 200.00,727.03 L 200.25,733.82 L 200.50,725.99 L 200.75,728.31 L 201.00,724.69 L 201.25,730.43 L 201.50,726.74 L 201.75,730.97 L 202.00,724.66 L 202.25,728.28 L 202.50,727.38 L 202.75,724.98 L 203.05,741.60 L 203.45,739.74 L 203.95,727.88 L 203.00,730.90 L 203.25,733.46 L 203.50,733.39 L 203.75,734.72 L 204.00,723.60 L 204.25,734.40 L 204.50,731.48 L 204.75,724.09 L 205.00,725.55 L 205.30,743.10 L 205.70,741.02 L 206.20,733.03 L 205.25,733.55 L 205.50,730.79 L 205.75,733.96 L 206.00,735.25 L 206.25,726.46 L 206.50,725.64 L 206.75,728.24 L 207.00,725.13 L 207.25,734.69 L 207.50,734.80 L 207.75,733.32 L 208.00,725.09 L 208.25,727.31 L 208.50,733.77 L 208.75,725.50 L 209.00,730.95 L 209.25,735.89 L 209.50,726.82 L 209.75,734.58 L 210.00,728.54 L 210.25,727.31 L 210.50,729.94 L 210.75,731.37 L 211.00,727.28 L 211.25,724.27 L 211.50,724.42 L 211.75,731.70 L 212.00,726.31 L 212.25,725.18 L 212.50,735.56 L 212.75,731.37 L 213.00,732.93 L 213.25,733.82 L 213.50,726.86 L 213.75,735.15 L 214.00,731.52 L 214.25,732.55 L 214.50,724.66 L 214.75,730.64 L 215.00,728.34 L 215.25,727.59 L 215.50,725.82 L 215.75,729.49 L 216.00,734.31 L 216.25,725.53 L 216.50,725.13 L 216.75,726.14 L 217.00,731.20 L 217.25,732.25 L 217.50,732.33 L 217.75,729.03 L 218.00,725.88 L 218.25,725.60 L 218.50,725.64 L 218.75,728.89 L 219.00,734.08 L 219.25,733.45 L 219.50,735.07 L 219.75,735.76 L 220.00,730.34 L 220.25,726.09 L 220.50,726.46 L 220.75,724.32 L 221.00,728.71 L 221.25,729.62 L 221.50,725.93 L 221.75,734.91 L 222.00,724.12 L 222.25,724.09 L 222.50,729.36 L 222.75,727.66 L 223.00,732.26 L 223.25,725.92 L 223.50,727.24 L 223.75,726.31 L 224.00,732.38 L 224.25,734.23 L 224.50,731.35 L 224.75,729.31 L 225.00,724.19 L 225.25,724.31 L 225.50,726.58 L 225.75,726.29 L 226.00,725.24 L 226.25,730.54 L 226.50,733.53 L 226.75,728.41 L 227.00,725.85 L 227.25,723.57 L 227.50,723.13 L 227.75,728.56 L 228.00,725.26 L 228.25,730.09 L 228.50,735.77 L 228.75,727.82 L 229.00,733.02 L 229.25,731.75 L 229.50,732.66" fill="none" stroke="#3b7bb5" stroke-width="1.9" stroke-linejoin="round"/><path d="M 58.30,802.33 L 58.55,804.31 L 58.80,813.06 L 59.05,813.77 L 59.30,809.87 L 59.55,804.82 L 59.80,803.19 L 60.05,808.08 L 60.30,808.01 L 60.55,808.02 L 60.80,810.41 L 61.05,808.77 L 61.30,798.07 L 61.60,833.20 L 62.00,829.45 L 62.50,807.18 L 61.55,803.68 L 61.80,812.39 L 62.05,807.73 L 62.30,808.06 L 62.55,810.62 L 62.81,806.61 L 63.06,805.90 L 63.31,802.10 L 63.56,803.07 L 63.81,805.32 L 64.06,801.51 L 64.31,803.71 L 64.56,801.53 L 64.81,806.97 L 65.06,807.00 L 65.31,809.50 L 65.56,808.99 L 65.81,809.98 L 66.06,817.00 L 66.31,802.16 L 66.56,805.39 L 66.81,805.04 L 67.06,803.54 L 67.31,804.44 L 67.56,806.81 L 67.81,812.36 L 68.06,801.56 L 68.31,803.71 L 68.56,805.95 L 68.81,804.24 L 69.06,804.23 L 69.31,812.05 L 69.56,801.48 L 69.81,801.85 L 70.06,803.47 L 70.31,806.05 L 70.56,805.10 L 70.81,809.89 L 71.06,802.36 L 71.32,809.52 L 71.57,811.93 L 71.82,805.68 L 72.07,807.86 L 72.32,808.11 L 72.57,813.08 L 72.82,810.80 L 73.07,813.25 L 73.32,812.64 L 73.57,806.59 L 73.82,811.89 L 74.07,803.56 L 74.32,804.53 L 74.57,814.14 L 74.82,811.34 L 75.07,814.41 L 75.32,812.19 L 75.57,805.63 L 75.87,835.20 L 76.27,831.15 L 76.77,804.90 L 75.82,810.90 L 76.07,803.71 L 76.32,804.53 L 76.57,806.98 L 76.82,804.73 L 77.07,813.45 L 77.32,808.61 L 77.57,812.19 L 77.82,804.82 L 78.07,803.43 L 78.32,806.20 L 78.57,804.20 L 78.82,806.82 L 79.07,805.91 L 79.32,803.76 L 79.57,812.75 L 79.83,802.22 L 80.08,810.88 L 80.33,803.27 L 80.58,808.32 L 80.83,811.00 L 81.08,811.13 L 81.33,812.04 L 81.58,811.54 L 81.83,805.17 L 82.08,802.69 L 82.33,807.76 L 82.58,814.22 L 82.83,806.56 L 83.08,803.37 L 83.33,802.66 L 83.58,807.72 L 83.83,807.60 L 84.08,801.49 L 84.33,807.67 L 84.58,809.12 L 84.83,803.73 L 85.08,810.48 L 85.33,805.71 L 85.58,805.40 L 85.83,809.10 L 86.08,801.16 L 86.33,813.34 L 86.58,810.94 L 86.83,805.02 L 87.08,808.94 L 87.33,806.22 L 87.58,801.40 L 87.83,816.59 L 88.08,806.77 L 88.34,804.39 L 88.59,808.85 L 88.84,804.01 L 89.09,804.77 L 89.34,803.09 L 89.59,804.86 L 89.84,805.77 L 90.09,806.51 L 90.34,814.16 L 90.59,807.49 L 90.84,811.82 L 91.09,813.47 L 91.34,809.87 L 91.59,804.39 L 91.84,802.35 L 92.09,808.81 L 92.34,813.69 L 92.59,804.35 L 92.84,809.83 L 93.09,811.81 L 93.34,813.43 L 93.59,810.14 L 93.84,810.31 L 94.09,808.87 L 94.34,805.81 L 94.59,802.57 L 94.84,812.50 L 95.09,803.33 L 95.34,802.42 L 95.59,809.69 L 95.84,811.16 L 96.09,804.02 L 96.34,811.30 L 96.59,811.98 L 96.85,804.90 L 97.10,809.18 L 97.40,823.20 L 97.80,820.95 L 98.30,809.21 L 97.35,812.24 L 97.60,803.48 L 97.85,803.62 L 98.10,813.10 L 98.35,803.29 L 98.60,810.05 L 98.85,805.98 L 99.10,803.96 L 99.35,805.88 L 99.60,811.11 L 99.85,811.24 L 100.10,811.00 L 100.35,805.02 L 100.60,803.17 L 100.85,808.76 L 101.10,802.99 L 101.35,810.24 L 101.60,811.75 L 101.85,813.97 L 102.10,808.77 L 102.35,805.65 L 102.60,810.36 L 102.85,810.79 L 103.10,810.33 L 103.35,809.53 L 103.60,805.78 L 103.85,801.34 L 104.10,803.55 L 104.35,801.99 L 104.60,810.14 L 104.85,802.58 L 105.10,802.32 L 105.35,804.17 L 105.61,804.48 L 105.86,812.73 L 106.11,802.38 L 106.36,802.51 L 106.61,803.18 L 106.86,806.26 L 107.11,802.37 L 107.36,803.38 L 107.61,803.38 L 107.86,811.16 L 108.11,801.02 L 108.36,805.77 L 108.61,805.14 L 108.86,796.96 L 109.11,800.55 L 109.36,801.93 L 109.61,799.23 L 109.86,811.71 L 110.11,806.58 L 110.36,803.12 L 110.61,810.18 L 110.86,800.07 L 111.11,809.00 L 111.36,803.25 L 111.61,811.07 L 111.86,807.21 L 112.11,808.37 L 112.36,810.86 L 112.61,801.18 L 112.86,801.89 L 113.11,802.46 L 113.36,805.32 L 113.61,806.29 L 113.86,802.25 L 114.12,801.33 L 114.37,805.64 L 114.62,800.32 L 114.87,800.92 L 115.12,808.61 L 115.37,812.22 L 115.62,810.47 L 115.87,803.88 L 116.12,811.35 L 116.37,804.21 L 116.62,800.35 L 116.87,806.39 L 117.12,802.87 L 117.37,806.94 L 117.62,805.04 L 117.87,802.45 L 118.12,809.42 L 118.37,807.83 L 118.62,810.97 L 118.87,808.96 L 119.12,803.53 L 119.37,807.17 L 119.62,802.88 L 119.87,807.60 L 120.12,803.60 L 120.37,801.67 L 120.62,803.52 L 120.87,809.45 L 121.12,802.16 L 121.37,800.32 L 121.62,809.90 L 121.87,805.47 L 122.12,808.62 L 122.37,812.15 L 122.63,802.57 L 122.88,810.56 L 123.13,802.62 L 123.38,802.51 L 123.63,807.22 L 123.88,806.48 L 124.13,813.16 L 124.38,801.07 L 124.63,808.57 L 124.88,809.75 L 125.13,810.52 L 125.38,805.84 L 125.63,812.57 L 125.93,830.20 L 126.33,826.90 L 126.83,813.07 L 125.88,807.89 L 126.13,803.98 L 126.38,804.74 L 126.63,807.01 L 126.88,807.12 L 127.13,802.31 L 127.38,817.21 L 127.63,805.87 L 127.88,809.69 L 128.13,809.76 L 128.38,811.78 L 128.63,808.88 L 128.88,806.92 L 129.13,804.16 L 129.38,807.01 L 129.63,809.67 L 129.88,807.16 L 130.13,804.37 L 130.38,806.94 L 130.63,810.65 L 130.88,803.38 L 131.14,802.95 L 131.39,815.86 L 131.64,802.48 L 131.89,803.27 L 132.14,804.28 L 132.39,812.79 L 132.64,802.74 L 132.89,806.98 L 133.14,803.69 L 133.39,804.86 L 133.64,808.07 L 133.89,804.44 L 134.14,817.34 L 134.44,825.20 L 134.84,822.65 L 135.34,813.00 L 134.39,812.23 L 134.64,805.14 L 134.89,813.96 L 135.14,809.30 L 135.39,809.56 L 135.64,809.01 L 135.89,814.36 L 136.14,811.31 L 136.39,813.45 L 136.64,810.42 L 136.89,811.77 L 137.14,808.43 L 137.39,808.04 L 137.64,808.52 L 137.89,814.50 L 138.14,808.18 L 138.39,804.99 L 138.64,805.42 L 138.89,805.20 L 139.14,804.69 L 139.39,803.31 L 139.65,808.30 L 139.90,814.42 L 140.15,803.66 L 140.40,806.37 L 140.65,812.16 L 140.90,805.81 L 141.15,802.20 L 141.40,807.04 L 141.65,802.34 L 141.90,802.24 L 142.15,810.16 L 142.40,807.01 L 142.65,802.82 L 142.90,806.73 L 143.15,808.98 L 143.40,809.92 L 143.65,802.35 L 143.90,807.07 L 144.15,808.05 L 144.40,810.03 L 144.65,802.49 L 144.90,804.21 L 145.15,806.34 L 145.40,808.73 L 145.65,806.57 L 145.90,809.31 L 146.15,808.66 L 146.40,805.51 L 146.65,812.23 L 146.90,802.94 L 147.15,802.54 L 147.40,802.44 L 147.65,810.13 L 147.90,806.07 L 148.15,807.92 L 148.41,811.53 L 148.66,808.71 L 148.91,812.86 L 149.16,805.63 L 149.41,805.25 L 149.66,809.80 L 149.91,807.24 L 150.16,809.28 L 150.41,804.08 L 150.66,805.02 L 150.91,805.16 L 151.16,802.25 L 151.46,839.20 L 151.86,834.55 L 152.36,807.79 L 151.41,801.94 L 151.66,804.41 L 151.91,813.32 L 152.16,810.77 L 152.41,806.63 L 152.66,810.33 L 152.91,808.78 L 153.16,811.45 L 153.41,809.40 L 153.66,812.57 L 153.91,802.66 L 154.16,803.06 L 154.41,800.98 L 154.66,802.59 L 154.91,807.27 L 155.16,805.64 L 155.41,812.13 L 155.66,807.39 L 155.91,801.29 L 156.16,813.66 L 156.41,807.90 L 156.66,807.14 L 156.92,803.25 L 157.17,813.83 L 157.42,810.95 L 157.67,813.92 L 157.92,804.90 L 158.17,808.08 L 158.42,807.75 L 158.67,809.51 L 158.92,807.10 L 159.17,812.22 L 159.42,802.41 L 159.67,803.65 L 159.92,817.51 L 160.22,825.20 L 160.62,822.65 L 161.12,809.76 L 160.17,805.78 L 160.42,811.74 L 160.67,802.21 L 160.92,806.40 L 161.17,809.32 L 161.42,810.39 L 161.67,803.16 L 161.92,805.96 L 162.17,811.62 L 162.42,806.59 L 162.67,809.61 L 162.92,804.67 L 163.17,806.24 L 163.42,806.31 L 163.67,804.76 L 163.92,810.51 L 164.17,807.08 L 164.47,821.20 L 164.87,819.25 L 165.37,813.71 L 164.42,810.53 L 164.67,807.25 L 164.92,812.38 L 165.17,811.09 L 165.43,806.30 L 165.68,809.09 L 165.93,809.34 L 166.18,804.97 L 166.43,801.20 L 166.68,811.47 L 166.93,809.30 L 167.18,813.30 L 167.43,801.43 L 167.68,811.80 L 167.93,803.71 L 168.18,811.74 L 168.43,811.62 L 168.68,812.12 L 168.93,804.96 L 169.18,807.98 L 169.43,809.28 L 169.68,804.69 L 169.93,805.00 L 170.18,811.79 L 170.43,810.98 L 170.68,809.64 L 170.93,802.29 L 171.18,810.43 L 171.43,805.46 L 171.68,810.57 L 171.93,806.86 L 172.18,807.45 L 172.43,802.04 L 172.68,807.76 L 172.93,810.80 L 173.18,802.59 L 173.43,812.72 L 173.68,808.74 L 173.98,825.20 L 174.38,822.65 L 174.88,809.44 L 173.94,812.03 L 174.19,804.01 L 174.44,800.51 L 174.69,802.60 L 174.94,810.07 L 175.19,807.67 L 175.44,811.61 L 175.69,801.89 L 175.94,811.07 L 176.19,805.63 L 176.44,810.55 L 176.69,803.40 L 176.94,803.28 L 177.19,810.04 L 177.44,810.99 L 177.69,810.53 L 177.94,801.92 L 178.19,801.06 L 178.44,806.98 L 178.69,809.45 L 178.94,803.24 L 179.19,808.11 L 179.44,807.08 L 179.69,806.59 L 179.94,807.45 L 180.19,813.46 L 180.44,802.07 L 180.69,802.12 L 180.94,804.82 L 181.19,812.18 L 181.44,804.41 L 181.69,806.37 L 181.94,813.61 L 182.19,804.89 L 182.45,803.82 L 182.70,802.42 L 182.95,810.51 L 183.20,811.74 L 183.45,810.72 L 183.70,812.16 L 183.95,812.42 L 184.20,801.39 L 184.45,813.82 L 184.70,803.21 L 184.95,807.95 L 185.20,811.82 L 185.45,814.75 L 185.70,808.94 L 185.95,814.10 L 186.20,804.94 L 186.45,804.06 L 186.70,807.16 L 186.95,806.60 L 187.20,810.10 L 187.45,812.74 L 187.70,802.68 L 187.95,813.75 L 188.20,802.36 L 188.45,803.61 L 188.70,802.85 L 188.95,804.80 L 189.20,804.31 L 189.45,812.96 L 189.70,812.61 L 189.95,811.24 L 190.20,802.63 L 190.45,802.75 L 190.70,806.38 L 190.95,813.40 L 191.21,811.91 L 191.46,814.19 L 191.71,808.70 L 191.96,810.39 L 192.21,807.10 L 192.46,810.38 L 192.71,808.77 L 192.96,810.03 L 193.21,804.15 L 193.46,808.89 L 193.71,812.23 L 193.96,810.30 L 194.21,803.37 L 194.46,804.85 L 194.71,806.92 L 194.96,815.75 L 195.21,803.80 L 195.46,810.88 L 195.71,806.77 L 195.96,806.05 L 196.21,812.82 L 196.46,808.15 L 196.71,805.80 L 196.96,809.55 L 197.26,832.20 L 197.66,828.60 L 198.16,812.28 L 197.21,804.64 L 197.46,808.16 L 197.71,803.85 L 197.96,805.03 L 198.21,811.17 L 198.46,811.54 L 198.71,813.90 L 198.96,807.20 L 199.21,814.49 L 199.46,808.37 L 199.72,809.57 L 199.97,806.43 L 200.22,811.34 L 200.47,814.72 L 200.72,805.89 L 200.97,813.75 L 201.22,813.56 L 201.47,813.98 L 201.72,814.14 L 201.97,812.30 L 202.22,813.73 L 202.47,802.45 L 202.72,804.31 L 202.97,809.03 L 203.22,807.38 L 203.47,809.13 L 203.72,812.82 L 203.97,804.14 L 204.22,806.15 L 204.47,808.49 L 204.72,808.69 L 204.97,809.60 L 205.22,809.09 L 205.47,805.01 L 205.72,813.27 L 205.97,810.64 L 206.22,807.45 L 206.47,812.10 L 206.72,805.43 L 206.97,803.82 L 207.22,810.81 L 207.47,802.52 L 207.72,809.24 L 207.97,803.63 L 208.23,803.86 L 208.48,806.46 L 208.78,841.20 L 209.18,836.25 L 209.68,803.32 L 208.73,808.63 L 208.98,806.52 L 209.23,809.49 L 209.48,810.44 L 209.73,802.13 L 209.98,812.41 L 210.23,803.50 L 210.48,808.03 L 210.73,808.02 L 210.98,807.23 L 211.23,801.01 L 211.48,807.47 L 211.73,801.74 L 211.98,807.19 L 212.23,803.16 L 212.48,806.02 L 212.73,804.27 L 212.98,803.26 L 213.23,814.63 L 213.48,804.46 L 213.73,816.91 L 213.98,811.15 L 214.23,807.58 L 214.48,808.02 L 214.73,809.10 L 214.98,807.90 L 215.23,811.12 L 215.48,813.77 L 215.78,840.20 L 216.18,835.40 L 216.68,802.16 L 215.73,805.48 L 215.98,803.48 L 216.23,805.61 L 216.48,806.27 L 216.74,805.34 L 216.99,805.79 L 217.24,810.55 L 217.49,805.89 L 217.74,814.02 L 217.99,802.61 L 218.24,807.14 L 218.49,807.38 L 218.74,808.50 L 218.99,808.83 L 219.24,806.92 L 219.49,814.09 L 219.74,808.05 L 219.99,812.75 L 220.24,811.90 L 220.49,813.50 L 220.74,812.27 L 220.99,816.44 L 221.24,805.68 L 221.49,811.10 L 221.74,807.72 L 221.99,807.70 L 222.24,809.21 L 222.49,811.71 L 222.74,802.29 L 222.99,814.07 L 223.24,813.29 L 223.49,813.35 L 223.74,804.99 L 223.99,807.27 L 224.24,813.69 L 224.49,809.55 L 224.74,811.97 L 224.99,807.06 L 225.25,811.22 L 225.50,802.45 L 225.75,811.88 L 226.00,809.06 L 226.25,802.59 L 226.50,811.96 L 226.75,805.69 L 227.00,811.89 L 227.25,804.40 L 227.50,813.49 L 227.75,804.84 L 228.00,804.84 L 228.25,807.87 L 228.50,809.52 L 228.75,810.03 L 229.00,813.60 L 229.25,805.00 L 229.50,809.89" fill="none" stroke="#c535e6" stroke-width="1.9" stroke-linejoin="round"/><line x1="195.10" y1="764.90" x2="195.10" y2="783.00" stroke="#1a1a1a" stroke-width="1.0" /><line x1="195.10" y1="783.00" x2="214.90" y2="783.00" stroke="#1a1a1a" stroke-width="1.0" /><text x="199.00" y="780.20" font-size="10.5" text-anchor="start" fill="#1a1a1a" >10 pA</text><text x="197.00" y="793.20" font-size="10.5" text-anchor="start" fill="#1a1a1a" >1 s</text><text x="54.50" y="864.00" font-size="16" text-anchor="start" fill="#222" >o</text><text x="141.70" y="876.30" font-size="10.5" text-anchor="middle" fill="#4a8ac2" >GF-NC</text><text x="142.10" y="962.00" font-size="10.5" text-anchor="middle" fill="#c460d8" >GF-HHE</text><path d="M 58.60,885.29 L 58.85,883.56 L 59.10,883.66 L 59.35,887.56 L 59.60,885.59 L 59.85,886.06 L 60.10,885.28 L 60.35,884.42 L 60.60,880.12 L 60.85,885.03 L 61.10,883.18 L 61.35,888.25 L 61.60,887.40 L 61.85,887.21 L 62.10,885.32 L 62.35,887.48 L 62.60,890.46 L 62.85,885.58 L 63.10,887.83 L 63.35,884.31 L 63.60,883.33 L 63.85,888.64 L 64.10,885.71 L 64.36,885.62 L 64.61,883.16 L 64.86,883.25 L 65.11,888.06 L 65.36,885.97 L 65.61,886.71 L 65.86,883.03 L 66.11,887.72 L 66.36,888.50 L 66.61,888.41 L 66.86,886.55 L 67.11,886.57 L 67.41,916.43 L 67.81,911.85 L 68.31,888.78 L 67.36,888.73 L 67.61,887.84 L 67.86,886.76 L 68.11,884.42 L 68.36,886.76 L 68.66,910.71 L 69.06,906.99 L 69.56,888.07 L 68.61,886.03 L 68.86,883.98 L 69.11,882.66 L 69.36,887.65 L 69.61,884.06 L 69.86,885.25 L 70.11,892.41 L 70.36,887.36 L 70.61,888.67 L 70.86,886.00 L 71.11,884.58 L 71.36,887.95 L 71.61,884.88 L 71.86,886.34 L 72.11,887.18 L 72.36,884.17 L 72.61,885.32 L 72.86,884.74 L 73.11,888.88 L 73.36,884.62 L 73.61,888.48 L 73.86,889.92 L 74.11,886.26 L 74.36,884.68 L 74.61,883.95 L 74.86,887.78 L 75.11,888.66 L 75.36,884.31 L 75.61,883.84 L 75.87,888.87 L 76.12,882.60 L 76.37,886.03 L 76.62,887.86 L 76.87,885.71 L 77.12,887.87 L 77.37,884.09 L 77.62,882.60 L 77.87,888.66 L 78.12,888.71 L 78.37,890.88 L 78.62,887.78 L 78.87,888.50 L 79.12,886.31 L 79.37,885.48 L 79.62,887.90 L 79.87,884.35 L 80.12,884.32 L 80.37,883.86 L 80.62,883.19 L 80.87,883.52 L 81.12,882.71 L 81.37,884.16 L 81.62,882.91 L 81.87,886.00 L 82.12,885.38 L 82.37,886.50 L 82.62,887.85 L 82.87,887.15 L 83.12,886.39 L 83.37,887.45 L 83.62,885.88 L 83.87,887.57 L 84.12,885.94 L 84.37,888.49 L 84.62,887.40 L 84.87,884.52 L 85.12,887.32 L 85.37,884.08 L 85.62,884.97 L 85.87,882.69 L 86.12,886.36 L 86.37,885.49 L 86.62,882.26 L 86.87,885.81 L 87.12,887.09 L 87.42,907.86 L 87.82,904.56 L 88.32,884.86 L 87.38,882.93 L 87.63,881.92 L 87.88,887.29 L 88.13,879.88 L 88.38,885.39 L 88.63,886.62 L 88.88,883.74 L 89.13,887.63 L 89.38,885.21 L 89.63,886.75 L 89.88,883.05 L 90.13,885.93 L 90.38,888.01 L 90.63,885.10 L 90.88,886.93 L 91.13,888.66 L 91.38,888.42 L 91.63,885.12 L 91.88,889.84 L 92.13,887.51 L 92.38,885.31 L 92.63,887.53 L 92.88,885.74 L 93.13,882.81 L 93.38,888.34 L 93.63,884.06 L 93.88,884.12 L 94.13,886.35 L 94.38,885.95 L 94.63,889.00 L 94.88,882.67 L 95.13,883.49 L 95.38,886.37 L 95.63,888.19 L 95.88,885.40 L 96.13,883.68 L 96.38,886.87 L 96.68,919.29 L 97.08,914.28 L 97.58,883.97 L 96.63,884.74 L 96.88,883.67 L 97.13,883.43 L 97.38,884.91 L 97.63,888.92 L 97.88,888.54 L 98.13,885.51 L 98.38,889.63 L 98.64,889.67 L 98.89,886.68 L 99.14,887.21 L 99.39,885.73 L 99.64,884.86 L 99.89,883.52 L 100.14,888.75 L 100.39,885.33 L 100.64,885.15 L 100.89,887.39 L 101.14,888.03 L 101.39,882.84 L 101.64,883.73 L 101.89,887.30 L 102.14,885.12 L 102.39,884.20 L 102.64,885.66 L 102.89,888.46 L 103.14,886.24 L 103.39,886.35 L 103.64,887.60 L 103.89,885.35 L 104.14,887.95 L 104.39,885.37 L 104.64,885.33 L 104.89,882.20 L 105.14,889.17 L 105.39,883.97 L 105.64,883.77 L 105.89,881.25 L 106.14,888.27 L 106.39,886.76 L 106.64,884.20 L 106.89,886.54 L 107.14,881.56 L 107.39,887.08 L 107.64,885.59 L 107.89,884.59 L 108.14,884.23 L 108.39,886.19 L 108.64,887.48 L 108.89,887.90 L 109.14,885.98 L 109.39,883.35 L 109.69,910.71 L 110.09,906.99 L 110.59,886.75 L 109.64,886.73 L 109.89,887.81 L 110.15,887.83 L 110.40,888.33 L 110.65,887.68 L 110.90,885.57 L 111.15,885.70 L 111.40,880.80 L 111.65,882.43 L 111.90,882.14 L 112.15,882.84 L 112.40,888.20 L 112.65,886.60 L 112.90,883.60 L 113.15,882.65 L 113.40,884.10 L 113.65,883.38 L 113.90,883.56 L 114.15,886.10 L 114.40,885.58 L 114.65,882.93 L 114.90,882.78 L 115.15,881.16 L 115.40,881.00 L 115.65,881.79 L 115.90,887.48 L 116.15,883.14 L 116.40,882.18 L 116.65,885.75 L 116.90,882.56 L 117.20,902.14 L 117.60,899.71 L 118.10,886.68 L 117.15,884.86 L 117.40,886.67 L 117.65,882.52 L 117.90,888.54 L 118.15,888.92 L 118.40,888.37 L 118.65,889.66 L 118.90,887.59 L 119.15,887.37 L 119.40,887.15 L 119.65,885.53 L 119.90,884.24 L 120.15,886.42 L 120.40,891.32 L 120.65,884.59 L 120.90,885.57 L 121.15,886.52 L 121.40,882.76 L 121.70,906.43 L 122.10,903.35 L 122.60,883.89 L 121.66,889.37 L 121.91,888.42 L 122.16,884.46 L 122.41,886.04 L 122.66,884.45 L 122.91,888.67 L 123.16,889.03 L 123.41,888.09 L 123.66,884.04 L 123.91,884.67 L 124.16,885.42 L 124.41,881.95 L 124.66,881.07 L 124.91,885.07 L 125.16,885.88 L 125.41,884.97 L 125.66,890.03 L 125.91,887.79 L 126.16,887.26 L 126.41,885.27 L 126.66,886.49 L 126.91,888.38 L 127.21,897.86 L 127.61,896.06 L 128.11,885.45 L 127.16,885.08 L 127.41,884.28 L 127.66,891.08 L 127.91,884.69 L 128.16,887.13 L 128.41,886.92 L 128.66,883.88 L 128.91,884.67 L 129.16,882.14 L 129.41,884.79 L 129.66,888.59 L 129.91,883.31 L 130.16,885.59 L 130.41,884.54 L 130.66,885.02 L 130.91,883.81 L 131.16,887.18 L 131.41,882.65 L 131.66,881.98 L 131.91,890.43 L 132.16,882.26 L 132.41,880.79 L 132.66,881.95 L 132.92,882.30 L 133.17,885.80 L 133.42,886.65 L 133.67,883.89 L 133.92,881.00 L 134.17,883.49 L 134.42,880.75 L 134.67,882.68 L 134.92,885.64 L 135.17,881.93 L 135.42,886.54 L 135.67,880.27 L 135.92,880.87 L 136.17,881.25 L 136.42,883.41 L 136.67,882.67 L 136.92,883.49 L 137.17,882.46 L 137.42,881.98 L 137.67,887.52 L 137.92,880.89 L 138.17,882.02 L 138.42,884.38 L 138.67,880.97 L 138.92,884.16 L 139.17,885.47 L 139.42,882.49 L 139.67,886.42 L 139.92,885.87 L 140.22,903.57 L 140.62,900.92 L 141.12,888.71 L 140.17,888.51 L 140.42,887.40 L 140.67,886.92 L 140.92,885.18 L 141.17,886.48 L 141.42,886.73 L 141.67,887.35 L 141.92,883.13 L 142.17,885.11 L 142.42,882.66 L 142.67,888.69 L 142.92,882.18 L 143.17,887.08 L 143.42,884.62 L 143.67,887.57 L 143.92,886.39 L 144.17,883.41 L 144.43,882.25 L 144.68,882.70 L 144.93,887.11 L 145.18,881.77 L 145.43,888.17 L 145.68,883.70 L 145.93,886.82 L 146.18,886.35 L 146.43,882.17 L 146.68,887.04 L 146.93,883.27 L 147.23,902.14 L 147.63,899.71 L 148.13,885.53 L 147.18,879.44 L 147.43,886.76 L 147.68,887.45 L 147.93,884.98 L 148.18,884.18 L 148.43,888.79 L 148.68,882.87 L 148.93,888.73 L 149.18,882.04 L 149.43,883.26 L 149.68,888.26 L 149.93,886.18 L 150.18,886.75 L 150.43,884.04 L 150.68,882.27 L 150.93,884.95 L 151.18,884.98 L 151.43,884.90 L 151.68,886.30 L 151.93,883.01 L 152.18,884.29 L 152.43,887.68 L 152.68,885.54 L 152.93,883.11 L 153.18,888.24 L 153.43,887.27 L 153.68,885.05 L 153.93,884.31 L 154.18,885.52 L 154.43,886.44 L 154.68,885.62 L 154.93,884.57 L 155.18,888.68 L 155.43,885.92 L 155.68,887.84 L 155.94,884.97 L 156.19,887.76 L 156.44,884.63 L 156.69,883.87 L 156.94,882.82 L 157.19,888.42 L 157.44,886.78 L 157.69,888.08 L 157.94,886.77 L 158.19,884.68 L 158.44,885.34 L 158.69,885.59 L 158.94,888.34 L 159.19,886.21 L 159.44,884.46 L 159.69,885.11 L 159.94,889.67 L 160.19,888.59 L 160.44,886.60 L 160.69,883.72 L 160.94,882.70 L 161.19,885.25 L 161.44,885.64 L 161.69,888.16 L 161.94,885.81 L 162.19,882.86 L 162.44,885.51 L 162.69,886.09 L 162.94,887.21 L 163.19,884.13 L 163.44,888.21 L 163.69,883.37 L 163.94,883.87 L 164.19,883.74 L 164.44,881.82 L 164.69,880.10 L 164.94,882.15 L 165.19,887.09 L 165.44,883.57 L 165.69,885.60 L 165.94,887.04 L 166.19,882.73 L 166.44,887.00 L 166.69,885.38 L 166.94,882.23 L 167.20,882.72 L 167.45,888.17 L 167.70,885.60 L 167.95,882.98 L 168.20,883.59 L 168.45,886.87 L 168.70,884.52 L 168.95,887.72 L 169.20,885.31 L 169.45,888.47 L 169.70,884.82 L 169.95,887.54 L 170.20,889.34 L 170.45,886.44 L 170.70,888.12 L 170.95,885.54 L 171.20,888.66 L 171.45,885.55 L 171.70,884.16 L 171.95,886.92 L 172.20,886.44 L 172.45,887.47 L 172.70,888.51 L 172.95,885.79 L 173.20,887.43 L 173.45,887.59 L 173.70,887.99 L 173.95,883.17 L 174.20,885.28 L 174.50,916.43 L 174.90,911.85 L 175.40,884.29 L 174.45,888.51 L 174.70,883.01 L 174.95,889.19 L 175.20,889.44 L 175.45,882.24 L 175.70,887.51 L 175.95,888.34 L 176.20,882.62 L 176.45,884.11 L 176.70,886.27 L 176.95,882.83 L 177.20,886.94 L 177.45,885.96 L 177.70,888.55 L 177.95,889.32 L 178.20,889.22 L 178.45,889.71 L 178.71,889.82 L 178.96,890.48 L 179.21,885.20 L 179.46,885.71 L 179.71,889.52 L 179.96,886.14 L 180.21,886.52 L 180.46,890.11 L 180.71,887.14 L 180.96,887.10 L 181.21,884.44 L 181.46,890.36 L 181.71,888.79 L 181.96,884.16 L 182.21,890.26 L 182.46,885.73 L 182.71,886.63 L 183.01,909.29 L 183.41,905.78 L 183.91,885.28 L 182.96,883.75 L 183.21,886.80 L 183.46,886.37 L 183.71,884.86 L 183.96,884.95 L 184.21,884.55 L 184.46,886.52 L 184.71,886.24 L 184.96,884.77 L 185.21,883.49 L 185.46,887.04 L 185.71,883.49 L 185.96,883.35 L 186.21,887.78 L 186.46,883.50 L 186.71,883.30 L 186.96,886.09 L 187.21,886.30 L 187.46,883.20 L 187.71,883.35 L 187.96,889.28 L 188.21,887.56 L 188.46,887.33 L 188.76,923.57 L 189.16,917.92 L 189.66,883.74 L 188.71,883.63 L 188.96,887.89 L 189.21,884.45 L 189.46,887.95 L 189.71,885.69 L 189.96,887.05 L 190.22,883.11 L 190.47,887.02 L 190.72,886.11 L 190.97,887.45 L 191.22,886.82 L 191.47,887.59 L 191.72,883.32 L 191.97,885.77 L 192.22,889.14 L 192.47,883.93 L 192.72,887.66 L 192.97,884.42 L 193.22,886.07 L 193.47,885.24 L 193.72,885.87 L 193.97,888.09 L 194.22,886.62 L 194.47,888.73 L 194.72,885.31 L 194.97,882.78 L 195.22,883.73 L 195.47,884.64 L 195.77,909.29 L 196.17,905.78 L 196.67,886.85 L 195.72,888.18 L 195.97,885.85 L 196.22,882.74 L 196.47,884.90 L 196.72,882.47 L 196.97,886.09 L 197.22,884.37 L 197.47,886.26 L 197.72,881.95 L 197.97,882.53 L 198.22,885.62 L 198.47,888.01 L 198.72,885.11 L 198.97,884.63 L 199.22,888.30 L 199.47,884.86 L 199.72,884.41 L 199.97,885.88 L 200.22,881.89 L 200.47,883.95 L 200.72,886.07 L 200.97,888.30 L 201.22,884.80 L 201.48,884.57 L 201.73,883.20 L 201.98,886.51 L 202.23,886.19 L 202.48,885.98 L 202.73,884.18 L 202.98,887.94 L 203.23,888.22 L 203.48,888.12 L 203.73,888.02 L 203.98,886.70 L 204.23,887.25 L 204.53,917.86 L 204.93,913.06 L 205.43,889.17 L 204.48,885.13 L 204.73,882.58 L 204.98,883.28 L 205.23,883.76 L 205.48,884.92 L 205.73,881.99 L 205.98,883.22 L 206.23,887.59 L 206.48,886.98 L 206.73,884.06 L 206.98,886.93 L 207.23,884.44 L 207.48,885.41 L 207.73,881.94 L 207.98,883.23 L 208.23,886.81 L 208.48,887.33 L 208.73,888.08 L 208.98,885.26 L 209.23,885.81 L 209.48,884.02 L 209.73,885.65 L 209.98,883.10 L 210.23,884.59 L 210.48,887.10 L 210.73,884.94 L 210.98,883.83 L 211.23,883.45 L 211.53,900.71 L 211.93,898.49 L 212.43,882.91 L 211.48,888.10 L 211.73,882.76 L 211.98,887.75 L 212.23,882.97 L 212.48,884.74 L 212.73,886.38 L 212.99,886.12 L 213.24,883.06 L 213.49,881.65 L 213.74,882.37 L 213.99,887.86 L 214.24,885.63 L 214.49,883.13 L 214.74,886.89 L 214.99,888.45 L 215.24,883.55 L 215.49,887.70 L 215.74,884.81 L 215.99,884.61 L 216.24,886.64 L 216.49,882.00 L 216.74,882.41 L 216.99,888.37 L 217.24,885.41 L 217.49,887.61 L 217.79,925.00 L 218.19,919.13 L 218.69,887.46 L 217.74,885.97 L 217.99,886.76 L 218.24,886.66 L 218.49,883.01 L 218.74,883.98 L 218.99,888.88 L 219.24,887.56 L 219.49,883.52 L 219.74,883.82 L 219.99,885.03 L 220.24,881.64 L 220.49,883.78 L 220.74,883.17 L 220.99,883.59 L 221.24,881.91 L 221.49,887.01 L 221.74,884.83 L 221.99,886.89 L 222.24,885.09 L 222.49,888.08 L 222.74,885.59 L 222.99,884.86 L 223.24,883.21 L 223.49,882.66 L 223.74,887.30 L 223.99,887.68 L 224.24,887.51 L 224.50,882.96 L 224.75,887.88 L 225.00,885.79 L 225.25,883.96 L 225.50,882.12 L 225.75,884.94 L 226.00,885.24 L 226.25,885.95 L 226.50,885.05 L 226.75,886.90 L 227.00,883.95 L 227.30,895.00 L 227.70,893.63 L 228.20,887.34 L 227.25,883.94 L 227.50,885.90 L 227.75,885.49 L 228.00,885.36 L 228.25,889.41 L 228.50,886.84 L 228.75,883.45 L 229.00,884.96 L 229.25,888.80 L 229.50,884.44 L 229.75,888.52 L 230.00,889.51" fill="none" stroke="#3b7bb5" stroke-width="1.6" stroke-linejoin="round"/><path d="M 58.60,966.71 L 58.85,968.09 L 59.10,970.67 L 59.35,971.52 L 59.65,993.57 L 60.05,989.72 L 60.55,967.02 L 59.60,963.61 L 59.85,971.12 L 60.10,966.25 L 60.35,966.25 L 60.60,965.78 L 60.85,966.60 L 61.10,971.12 L 61.35,969.34 L 61.60,967.04 L 61.85,966.78 L 62.10,965.82 L 62.35,970.82 L 62.60,965.66 L 62.85,965.43 L 63.10,967.93 L 63.35,971.52 L 63.60,969.69 L 63.85,968.77 L 64.10,966.33 L 64.36,968.72 L 64.61,966.31 L 64.86,962.31 L 65.11,969.79 L 65.36,970.71 L 65.61,966.21 L 65.86,966.58 L 66.11,965.39 L 66.41,979.29 L 66.81,977.58 L 67.31,968.47 L 66.36,966.61 L 66.61,963.29 L 66.86,961.94 L 67.11,965.85 L 67.36,965.13 L 67.61,966.21 L 67.86,972.10 L 68.11,965.74 L 68.36,964.24 L 68.61,967.72 L 68.86,964.46 L 69.11,967.08 L 69.36,964.93 L 69.61,964.50 L 69.86,967.23 L 70.11,968.46 L 70.36,964.03 L 70.61,966.90 L 70.86,967.14 L 71.11,964.96 L 71.36,966.47 L 71.66,982.14 L 72.06,980.01 L 72.56,970.26 L 71.61,969.08 L 71.86,965.21 L 72.11,964.72 L 72.36,969.12 L 72.61,965.97 L 72.86,971.93 L 73.11,966.14 L 73.36,966.05 L 73.61,967.15 L 73.86,967.19 L 74.11,970.63 L 74.36,968.98 L 74.61,967.86 L 74.86,967.06 L 75.11,973.82 L 75.36,970.97 L 75.61,970.31 L 75.87,964.62 L 76.12,969.02 L 76.37,968.05 L 76.62,964.75 L 76.87,970.17 L 77.12,966.79 L 77.37,964.29 L 77.62,965.26 L 77.87,967.17 L 78.12,968.62 L 78.37,968.09 L 78.62,969.61 L 78.87,965.76 L 79.12,966.00 L 79.37,969.42 L 79.62,965.71 L 79.87,969.95 L 80.12,966.30 L 80.37,970.12 L 80.62,968.52 L 80.87,967.98 L 81.12,967.89 L 81.37,968.02 L 81.67,997.86 L 82.07,993.36 L 82.57,964.94 L 81.62,969.57 L 81.87,969.93 L 82.12,970.04 L 82.37,969.82 L 82.62,969.60 L 82.87,967.46 L 83.12,970.94 L 83.37,966.21 L 83.62,968.34 L 83.87,965.79 L 84.12,968.64 L 84.37,972.00 L 84.62,968.33 L 84.87,971.56 L 85.12,968.70 L 85.37,965.64 L 85.62,968.58 L 85.92,975.00 L 86.32,973.93 L 86.82,967.52 L 85.87,969.61 L 86.12,970.29 L 86.37,967.29 L 86.62,967.71 L 86.87,968.60 L 87.12,967.02 L 87.38,967.40 L 87.63,971.08 L 87.88,970.14 L 88.13,968.27 L 88.38,968.97 L 88.63,972.36 L 88.88,971.25 L 89.13,968.25 L 89.38,968.05 L 89.63,967.00 L 89.88,969.47 L 90.13,970.00 L 90.38,971.14 L 90.63,967.33 L 90.88,967.51 L 91.13,967.01 L 91.38,970.48 L 91.63,967.70 L 91.88,971.48 L 92.13,967.25 L 92.38,971.00 L 92.63,968.06 L 92.88,965.39 L 93.13,971.45 L 93.38,966.54 L 93.63,966.03 L 93.88,967.69 L 94.13,969.15 L 94.38,968.54 L 94.63,965.18 L 94.88,965.07 L 95.13,970.70 L 95.38,970.01 L 95.63,970.95 L 95.93,991.57 L 96.33,988.02 L 96.83,968.03 L 95.88,965.77 L 96.13,970.18 L 96.38,970.12 L 96.63,967.77 L 96.88,966.20 L 97.13,967.05 L 97.38,969.02 L 97.63,970.15 L 97.88,965.89 L 98.13,966.64 L 98.38,964.98 L 98.64,970.74 L 98.89,967.78 L 99.14,968.37 L 99.39,969.34 L 99.64,971.11 L 99.89,969.06 L 100.14,966.94 L 100.39,965.53 L 100.64,968.62 L 100.89,968.17 L 101.14,964.05 L 101.39,964.54 L 101.64,968.33 L 101.89,963.96 L 102.14,967.11 L 102.39,969.97 L 102.64,969.15 L 102.89,964.98 L 103.14,967.55 L 103.39,968.45 L 103.64,965.17 L 103.89,968.04 L 104.14,964.28 L 104.39,969.69 L 104.64,969.99 L 104.89,967.72 L 105.14,969.75 L 105.39,971.03 L 105.64,967.05 L 105.89,967.64 L 106.14,968.83 L 106.39,965.66 L 106.64,970.00 L 106.89,969.97 L 107.14,967.55 L 107.39,970.30 L 107.64,968.67 L 107.89,969.33 L 108.14,966.07 L 108.39,964.86 L 108.64,966.23 L 108.89,967.20 L 109.14,965.56 L 109.39,966.51 L 109.64,966.83 L 109.89,970.08 L 110.15,971.53 L 110.40,969.15 L 110.65,968.46 L 110.90,966.92 L 111.15,973.37 L 111.40,969.32 L 111.70,980.71 L 112.10,978.79 L 112.60,967.72 L 111.65,970.54 L 111.90,970.72 L 112.15,969.18 L 112.40,965.76 L 112.65,970.72 L 112.90,968.88 L 113.15,968.77 L 113.40,966.21 L 113.65,970.51 L 113.90,967.93 L 114.15,967.22 L 114.40,969.01 L 114.65,966.64 L 114.90,967.31 L 115.15,970.64 L 115.40,966.33 L 115.65,970.31 L 115.90,971.10 L 116.15,967.65 L 116.40,966.25 L 116.65,969.44 L 116.90,967.59 L 117.15,968.26 L 117.40,967.00 L 117.65,965.34 L 117.90,969.10 L 118.15,970.53 L 118.40,970.85 L 118.65,970.91 L 118.90,969.22 L 119.15,967.57 L 119.40,967.05 L 119.65,966.07 L 119.90,970.99 L 120.15,966.21 L 120.40,969.60 L 120.65,970.39 L 120.90,965.48 L 121.15,970.56 L 121.40,967.70 L 121.66,966.96 L 121.91,967.94 L 122.16,969.29 L 122.41,968.23 L 122.66,967.08 L 122.91,967.45 L 123.16,966.46 L 123.41,969.21 L 123.66,965.83 L 123.91,963.92 L 124.16,963.94 L 124.46,977.86 L 124.86,976.36 L 125.36,966.00 L 124.41,965.29 L 124.66,967.62 L 124.91,967.24 L 125.16,964.93 L 125.41,964.49 L 125.66,968.63 L 125.91,967.45 L 126.16,966.61 L 126.41,963.86 L 126.66,968.56 L 126.91,965.07 L 127.16,963.70 L 127.41,967.24 L 127.66,964.21 L 127.91,968.02 L 128.16,966.14 L 128.41,965.08 L 128.66,966.23 L 128.91,965.66 L 129.16,964.14 L 129.41,966.94 L 129.66,965.45 L 129.91,964.60 L 130.16,966.11 L 130.41,969.17 L 130.66,963.97 L 130.91,965.94 L 131.16,966.17 L 131.41,967.81 L 131.66,966.27 L 131.91,964.97 L 132.16,969.21 L 132.41,966.81 L 132.66,969.23 L 132.92,965.54 L 133.17,965.04 L 133.42,969.27 L 133.67,963.54 L 133.92,964.38 L 134.17,965.43 L 134.42,964.70 L 134.67,969.72 L 134.92,965.73 L 135.17,965.28 L 135.42,968.11 L 135.67,966.53 L 135.92,968.88 L 136.17,965.64 L 136.42,965.39 L 136.67,966.74 L 136.92,971.02 L 137.17,969.44 L 137.42,968.22 L 137.67,964.30 L 137.92,967.17 L 138.17,966.80 L 138.42,966.98 L 138.67,968.68 L 138.92,964.76 L 139.17,971.64 L 139.42,967.82 L 139.67,964.92 L 139.92,965.64 L 140.17,968.04 L 140.42,967.21 L 140.67,970.94 L 140.92,964.75 L 141.17,969.09 L 141.42,966.49 L 141.67,966.55 L 141.92,968.65 L 142.17,969.58 L 142.42,972.68 L 142.67,966.67 L 142.92,971.71 L 143.17,966.83 L 143.42,969.77 L 143.67,970.33 L 143.92,967.52 L 144.17,967.79 L 144.43,971.15 L 144.68,967.05 L 144.93,968.99 L 145.18,966.38 L 145.43,971.49 L 145.68,970.51 L 145.93,971.97 L 146.18,968.93 L 146.43,969.61 L 146.68,971.71 L 146.93,969.63 L 147.18,970.77 L 147.43,966.11 L 147.68,966.94 L 147.93,969.29 L 148.18,966.46 L 148.43,967.44 L 148.68,967.51 L 148.93,971.04 L 149.18,971.91 L 149.43,967.18 L 149.68,967.23 L 149.93,967.87 L 150.18,966.06 L 150.43,970.33 L 150.68,966.91 L 150.93,964.88 L 151.18,970.06 L 151.43,967.94 L 151.68,970.75 L 151.93,968.10 L 152.18,965.95 L 152.43,969.58 L 152.68,972.21 L 152.93,970.27 L 153.18,971.24 L 153.43,969.29 L 153.68,967.69 L 153.93,966.14 L 154.18,972.45 L 154.43,971.19 L 154.68,966.54 L 154.93,972.69 L 155.18,967.26 L 155.43,969.06 L 155.68,969.80 L 155.94,972.12 L 156.19,971.74 L 156.44,972.63 L 156.69,971.95 L 156.94,971.64 L 157.19,968.86 L 157.44,972.19 L 157.69,970.99 L 157.94,966.87 L 158.19,966.33 L 158.44,966.43 L 158.74,991.57 L 159.14,988.02 L 159.64,970.45 L 158.69,966.48 L 158.94,971.58 L 159.19,968.61 L 159.44,968.60 L 159.69,967.46 L 159.94,969.79 L 160.19,968.30 L 160.44,970.60 L 160.69,968.74 L 160.94,971.98 L 161.19,971.56 L 161.44,970.79 L 161.69,967.67 L 161.94,969.22 L 162.19,969.98 L 162.44,965.69 L 162.69,968.62 L 162.94,966.29 L 163.19,967.17 L 163.44,969.54 L 163.69,965.25 L 163.94,966.49 L 164.19,968.17 L 164.44,969.36 L 164.69,967.54 L 164.94,964.42 L 165.19,966.01 L 165.44,969.84 L 165.69,970.33 L 165.94,964.45 L 166.19,970.18 L 166.44,967.01 L 166.69,966.94 L 166.94,968.14 L 167.24,979.29 L 167.64,977.58 L 168.14,967.39 L 167.20,965.00 L 167.45,969.48 L 167.70,967.80 L 167.95,963.70 L 168.20,969.52 L 168.45,970.37 L 168.70,966.14 L 168.95,964.70 L 169.20,966.24 L 169.45,967.26 L 169.70,965.61 L 169.95,968.50 L 170.20,967.54 L 170.45,967.75 L 170.70,964.13 L 170.95,968.39 L 171.20,965.01 L 171.45,968.11 L 171.70,965.32 L 171.95,964.24 L 172.20,964.75 L 172.45,970.56 L 172.70,968.45 L 172.95,966.37 L 173.20,968.77 L 173.45,969.93 L 173.70,966.76 L 173.95,964.94 L 174.20,964.93 L 174.45,966.93 L 174.70,964.60 L 174.95,965.58 L 175.20,968.44 L 175.45,966.67 L 175.70,966.36 L 175.95,968.64 L 176.20,966.49 L 176.45,965.77 L 176.70,966.82 L 176.95,970.94 L 177.20,970.66 L 177.45,968.80 L 177.70,969.83 L 177.95,966.00 L 178.20,966.20 L 178.45,968.31 L 178.71,969.02 L 178.96,971.55 L 179.21,968.55 L 179.46,968.75 L 179.71,970.21 L 179.96,970.64 L 180.21,968.99 L 180.46,969.21 L 180.71,967.62 L 180.96,967.02 L 181.21,966.77 L 181.46,964.30 L 181.71,969.52 L 181.96,968.74 L 182.21,969.75 L 182.46,967.75 L 182.71,967.84 L 182.96,963.49 L 183.21,966.59 L 183.46,968.51 L 183.71,968.74 L 183.96,965.01 L 184.21,966.00 L 184.46,965.58 L 184.71,966.47 L 184.96,965.79 L 185.21,969.43 L 185.46,967.38 L 185.71,969.37 L 185.96,968.09 L 186.21,964.53 L 186.46,963.65 L 186.71,963.26 L 186.96,963.59 L 187.21,963.13 L 187.46,969.05 L 187.71,966.53 L 187.96,966.53 L 188.21,968.90 L 188.46,969.63 L 188.76,976.43 L 189.16,975.15 L 189.66,969.26 L 188.71,967.32 L 188.96,966.25 L 189.21,963.97 L 189.46,966.65 L 189.71,970.89 L 189.96,970.54 L 190.22,970.80 L 190.47,969.41 L 190.72,970.52 L 190.97,970.08 L 191.22,969.13 L 191.47,972.41 L 191.72,966.18 L 191.97,967.50 L 192.22,968.41 L 192.47,970.13 L 192.72,966.75 L 192.97,968.34 L 193.22,966.90 L 193.47,970.44 L 193.72,965.75 L 193.97,970.25 L 194.22,969.82 L 194.47,964.79 L 194.72,966.46 L 194.97,969.13 L 195.22,968.21 L 195.47,969.47 L 195.77,977.86 L 196.17,976.36 L 196.67,967.35 L 195.72,969.60 L 195.97,970.52 L 196.22,968.86 L 196.47,968.60 L 196.72,971.09 L 196.97,966.58 L 197.22,966.39 L 197.47,967.54 L 197.72,967.38 L 197.97,972.27 L 198.22,966.37 L 198.47,966.03 L 198.72,965.62 L 198.97,965.47 L 199.22,968.68 L 199.47,969.49 L 199.72,966.77 L 199.97,972.33 L 200.22,969.22 L 200.47,969.89 L 200.72,966.58 L 200.97,967.04 L 201.22,969.44 L 201.48,970.84 L 201.73,971.92 L 201.98,969.55 L 202.23,970.86 L 202.53,1010.71 L 202.93,1004.29 L 203.43,967.93 L 202.48,972.22 L 202.73,970.84 L 202.98,970.00 L 203.23,968.93 L 203.48,969.93 L 203.73,971.24 L 203.98,968.48 L 204.23,968.99 L 204.48,968.62 L 204.73,969.01 L 204.98,965.48 L 205.23,969.65 L 205.48,969.65 L 205.73,970.05 L 205.98,969.39 L 206.23,968.55 L 206.48,969.61 L 206.73,970.27 L 206.98,968.22 L 207.28,992.14 L 207.68,988.51 L 208.18,965.31 L 207.23,966.33 L 207.48,965.66 L 207.73,968.92 L 207.98,967.89 L 208.23,965.53 L 208.48,967.12 L 208.73,968.02 L 208.98,969.39 L 209.23,964.95 L 209.48,967.92 L 209.73,966.45 L 209.98,971.19 L 210.23,965.10 L 210.48,965.65 L 210.73,969.11 L 210.98,965.37 L 211.23,968.29 L 211.53,976.43 L 211.93,975.15 L 212.43,966.20 L 211.48,969.85 L 211.73,965.52 L 211.98,966.11 L 212.23,966.53 L 212.48,969.73 L 212.73,965.47 L 212.99,967.99 L 213.24,968.89 L 213.49,970.84 L 213.74,964.40 L 213.99,967.76 L 214.24,964.46 L 214.49,966.98 L 214.74,971.19 L 214.99,967.64 L 215.24,969.37 L 215.49,965.54 L 215.74,969.64 L 215.99,967.31 L 216.24,971.28 L 216.49,965.40 L 216.74,969.97 L 216.99,969.50 L 217.24,970.18 L 217.49,967.37 L 217.74,967.71 L 217.99,967.73 L 218.24,967.58 L 218.49,965.93 L 218.74,966.78 L 218.99,970.52 L 219.24,969.04 L 219.49,970.78 L 219.74,966.36 L 219.99,970.06 L 220.24,968.21 L 220.49,970.93 L 220.74,965.24 L 220.99,970.68 L 221.24,971.25 L 221.49,970.78 L 221.74,970.60 L 221.99,970.89 L 222.24,968.10 L 222.49,963.37 L 222.74,967.87 L 222.99,966.91 L 223.24,970.92 L 223.49,970.89 L 223.74,968.84 L 223.99,965.57 L 224.24,969.02 L 224.50,969.27 L 224.75,967.88 L 225.00,967.63 L 225.25,972.18 L 225.50,972.67 L 225.80,976.43 L 226.20,975.15 L 226.70,966.72 L 225.75,967.67 L 226.00,968.49 L 226.25,967.44 L 226.50,969.67 L 226.75,969.06 L 227.00,969.00 L 227.25,972.17 L 227.50,972.57 L 227.75,972.89 L 228.00,967.74 L 228.30,977.86 L 228.70,976.36 L 229.20,965.76 L 228.25,967.02 L 228.50,969.86 L 228.75,969.35 L 229.00,966.89 L 229.25,967.53 L 229.50,966.60 L 229.75,966.44 L 230.00,967.32" fill="none" stroke="#c535e6" stroke-width="1.6" stroke-linejoin="round"/><line x1="195.70" y1="936.40" x2="195.70" y2="945.90" stroke="#1a1a1a" stroke-width="1.0" /><line x1="195.70" y1="945.90" x2="211.40" y2="945.90" stroke="#1a1a1a" stroke-width="1.0" /><text x="199.40" y="945.00" font-size="10.5" text-anchor="start" fill="#1a1a1a" >20 pA</text><text x="196.60" y="958.40" font-size="10.5" text-anchor="start" fill="#1a1a1a" >1 s</text>
<text x="245.50" y="710.30" font-size="16" text-anchor="start" fill="#222" >m</text><line x1="283.20" y1="708.10" x2="283.20" y2="825.60" stroke="#1a1a1a" stroke-width="1.5" /><line x1="283.20" y1="825.60" x2="460.80" y2="825.60" stroke="#1a1a1a" stroke-width="1.5" /><line x1="278.70" y1="708.10" x2="283.20" y2="708.10" stroke="#1a1a1a" stroke-width="1.3" /><text x="277.70" y="711.90" font-size="10.5" text-anchor="end" fill="#1a1a1a" >1.0</text><line x1="278.70" y1="766.85" x2="283.20" y2="766.85" stroke="#1a1a1a" stroke-width="1.3" /><text x="277.70" y="770.65" font-size="10.5" text-anchor="end" fill="#1a1a1a" >0.5</text><line x1="278.70" y1="825.60" x2="283.20" y2="825.60" stroke="#1a1a1a" stroke-width="1.3" /><text x="277.70" y="829.40" font-size="10.5" text-anchor="end" fill="#1a1a1a" >0.0</text><line x1="280.20" y1="737.48" x2="283.20" y2="737.48" stroke="#1a1a1a" stroke-width="1.2" /><line x1="280.20" y1="796.23" x2="283.20" y2="796.23" stroke="#1a1a1a" stroke-width="1.2" /><line x1="282.90" y1="825.60" x2="282.90" y2="830.10" stroke="#1a1a1a" stroke-width="1.3" /><text x="282.90" y="841.30" font-size="10.5" text-anchor="middle" fill="#1a1a1a" >0</text><line x1="312.80" y1="825.60" x2="312.80" y2="830.10" stroke="#1a1a1a" stroke-width="1.3" /><text x="312.80" y="841.30" font-size="10.5" text-anchor="middle" fill="#1a1a1a" >2</text><line x1="342.40" y1="825.60" x2="342.40" y2="830.10" stroke="#1a1a1a" stroke-width="1.3" /><text x="342.40" y="841.30" font-size="10.5" text-anchor="middle" fill="#1a1a1a" >4</text><line x1="371.70" y1="825.60" x2="371.70" y2="830.10" stroke="#1a1a1a" stroke-width="1.3" /><text x="371.70" y="841.30" font-size="10.5" text-anchor="middle" fill="#1a1a1a" >6</text><line x1="401.30" y1="825.60" x2="401.30" y2="830.10" stroke="#1a1a1a" stroke-width="1.3" /><text x="401.30" y="841.30" font-size="10.5" text-anchor="middle" fill="#1a1a1a" >8</text><line x1="431.20" y1="825.60" x2="431.20" y2="830.10" stroke="#1a1a1a" stroke-width="1.3" /><text x="431.20" y="841.30" font-size="10.5" text-anchor="middle" fill="#1a1a1a" >10</text><line x1="460.80" y1="825.60" x2="460.80" y2="830.10" stroke="#1a1a1a" stroke-width="1.3" /><text x="460.80" y="841.30" font-size="10.5" text-anchor="middle" fill="#1a1a1a" >12</text><line x1="297.85" y1="825.60" x2="297.85" y2="828.60" stroke="#1a1a1a" stroke-width="1.2" /><line x1="327.60" y1="825.60" x2="327.60" y2="828.60" stroke="#1a1a1a" stroke-width="1.2" /><line x1="357.05" y1="825.60" x2="357.05" y2="828.60" stroke="#1a1a1a" stroke-width="1.2" /><line x1="386.50" y1="825.60" x2="386.50" y2="828.60" stroke="#1a1a1a" stroke-width="1.2" /><line x1="416.25" y1="825.60" x2="416.25" y2="828.60" stroke="#1a1a1a" stroke-width="1.2" /><line x1="446.00" y1="825.60" x2="446.00" y2="828.60" stroke="#1a1a1a" stroke-width="1.2" /><text x="374.60" y="854.80" font-size="10.5" text-anchor="middle" fill="#1a1a1a" >sEPSC Inter-event Interval (s)</text><text transform="translate(258.50,764.85) rotate(-90)" font-size="10.5" text-anchor="middle" fill="#1a1a1a">Cumulative Fraction</text><path d="M 283.20,825.60 L 283.20,825.55 L 283.21,825.42 L 283.22,825.22 L 283.23,824.96 L 283.25,824.64 L 283.27,824.27 L 283.29,823.85 L 283.32,823.38 L 283.35,822.86 L 283.39,822.30 L 283.43,821.69 L 283.47,821.04 L 283.52,820.35 L 283.57,819.62 L 283.62,818.85 L 283.68,818.05 L 283.74,817.21 L 283.81,816.34 L 283.88,815.44 L 283.95,814.50 L 284.03,813.54 L 284.11,812.54 L 284.19,811.52 L 284.28,810.48 L 284.37,809.41 L 284.47,808.31 L 284.57,807.20 L 284.67,806.06 L 284.78,804.91 L 284.89,803.74 L 285.00,802.55 L 285.12,801.34 L 285.24,800.12 L 285.37,798.89 L 285.50,797.64 L 285.63,796.39 L 285.77,795.12 L 285.91,793.84 L 286.06,792.56 L 286.20,791.27 L 286.36,789.97 L 286.51,788.67 L 286.67,787.37 L 286.84,786.06 L 287.00,784.75 L 287.17,783.44 L 287.35,782.13 L 287.53,780.82 L 287.71,779.52 L 287.89,778.21 L 288.08,776.91 L 288.28,775.61 L 288.47,774.32 L 288.68,773.03 L 288.88,771.75 L 289.09,770.48 L 289.30,769.21 L 289.52,767.96 L 289.74,766.71 L 289.96,765.47 L 290.19,764.24 L 290.42,763.02 L 290.65,761.82 L 290.89,760.62 L 291.13,759.44 L 291.38,758.27 L 291.63,757.11 L 291.88,755.96 L 292.14,754.83 L 292.40,753.72 L 292.67,752.61 L 292.93,751.52 L 293.21,750.45 L 293.48,749.39 L 293.76,748.35 L 294.05,747.32 L 294.33,746.31 L 294.62,745.32 L 294.92,744.34 L 295.22,743.37 L 295.52,742.43 L 295.83,741.50 L 296.14,740.58 L 296.45,739.69 L 296.77,738.80 L 297.09,737.94 L 297.41,737.09 L 297.74,736.26 L 298.07,735.45 L 298.41,734.65 L 298.75,733.87 L 299.09,733.10 L 299.44,732.35 L 299.79,731.62 L 300.15,730.90 L 300.51,730.20 L 300.87,729.52 L 301.23,728.85 L 301.60,728.20 L 301.98,727.56 L 302.36,726.94 L 302.74,726.33 L 303.12,725.74 L 303.51,725.16 L 303.90,724.60 L 304.30,724.05 L 304.70,723.52 L 305.10,723.00 L 305.51,722.49 L 305.92,722.00 L 306.34,721.52 L 306.76,721.06 L 307.18,720.60 L 307.60,720.16 L 308.03,719.74 L 308.47,719.32 L 308.91,718.92 L 309.35,718.53 L 309.79,718.15 L 310.24,717.78 L 310.69,717.42 L 311.15,717.08 L 311.61,716.74 L 312.07,716.42 L 312.54,716.10 L 313.01,715.80 L 313.49,715.50 L 313.97,715.22 L 314.45,714.94 L 314.94,714.67 L 315.43,714.42 L 315.92,714.17 L 316.42,713.93 L 316.92,713.69 L 317.42,713.47 L 317.93,713.25 L 318.45,713.04 L 318.96,712.84 L 319.48,712.64 L 320.01,712.46 L 320.53,712.27 L 321.06,712.10 L 321.60,711.93 L 322.14,711.77 L 322.68,711.61 L 323.23,711.46 L 323.78,711.32 L 324.33,711.18 L 324.89,711.05 L 325.45,710.92 L 326.02,710.79 L 326.59,710.68 L 327.16,710.56 L 327.73,710.45 L 328.31,710.35 L 328.90,710.24 L 329.49,710.15 L 330.08,710.05 L 330.67,709.97 L 331.27,709.88 L 331.88,709.80 L 332.48,709.72 L 333.09,709.64 L 333.71,709.57 L 334.32,709.50 L 334.95,709.44 L 335.57,709.37 L 336.20,709.31 L 336.83,709.25 L 337.47,709.20 L 338.11,709.14 L 338.75,709.09 L 339.40,709.05 L 340.05,709.00 L 340.71,708.95 L 341.37,708.91 L 342.03,708.87 L 342.70,708.83 L 343.37,708.80 L 344.04,708.76 L 344.72,708.73 L 345.40,708.70 L 346.09,708.67 L 346.78,708.64 L 347.47,708.61 L 348.17,708.58 L 348.87,708.56 L 349.57,708.53 L 350.28,708.51 L 350.99,708.49 L 351.71,708.47 L 352.42,708.45 L 353.15,708.43 L 353.87,708.41 L 354.60,708.40 L 355.34,708.38 L 356.08,708.37 L 356.82,708.35 L 357.56,708.34 L 358.31,708.32 L 359.07,708.31 L 359.82,708.30 L 360.58,708.29 L 361.35,708.28 L 362.12,708.27 L 362.89,708.26 L 363.66,708.25 L 364.44,708.24 L 365.23,708.23 L 366.01,708.23 L 366.80,708.22 L 367.60,708.21 L 368.40,708.21 L 369.20,708.20 L 370.00,708.19 L 370.81,708.19 L 371.63,708.18 L 372.44,708.18 L 373.26,708.17 L 374.09,708.17 L 374.92,708.17 L 375.75,708.16 L 376.58,708.16 L 377.42,708.15 L 378.27,708.15 L 379.11,708.15 L 379.96,708.15 L 380.82,708.14 L 381.68,708.14 L 382.54,708.14 L 383.40,708.14 L 384.27,708.13 L 385.15,708.13 L 386.02,708.13 L 386.90,708.13 L 387.79,708.13 L 388.68,708.12 L 389.57,708.12 L 390.46,708.12 L 391.36,708.12 L 392.27,708.12 L 393.17,708.12 L 394.08,708.12 L 395.00,708.12 L 395.92,708.11 L 396.84,708.11 L 397.76,708.11 L 398.69,708.11 L 399.63,708.11 L 400.56,708.11 L 401.51,708.11 L 402.45,708.11 L 403.40,708.11 L 404.35,708.11 L 405.31,708.11 L 406.27,708.11 L 407.23,708.11 L 408.20,708.11 L 409.17,708.11 L 410.14,708.11 L 411.12,708.10 L 412.10,708.10 L 413.09,708.10 L 414.08,708.10 L 415.07,708.10 L 416.07,708.10 L 417.07,708.10 L 418.07,708.10 L 419.08,708.10 L 420.09,708.10 L 421.11,708.10 L 422.13,708.10 L 423.15,708.10 L 424.18,708.10 L 425.21,708.10 L 426.25,708.10 L 427.28,708.10 L 428.33,708.10 L 429.37,708.10 L 430.42,708.10 L 431.48,708.10 L 432.53,708.10 L 433.59,708.10 L 434.66,708.10 L 435.73,708.10 L 436.80,708.10 L 437.88,708.10 L 438.96,708.10 L 440.04,708.10 L 441.13,708.10 L 442.22,708.10 L 443.31,708.10 L 444.41,708.10 L 445.51,708.10 L 446.62,708.10 L 447.73,708.10 L 448.84,708.10 L 449.96,708.10 L 451.08,708.10 L 452.21,708.10 L 452.21,708.10" fill="none" stroke="#3f6a96" stroke-width="1.8" stroke-linejoin="round" stroke-linecap="round"/><path d="M 283.20,825.60 L 283.20,825.51 L 283.20,825.33 L 283.21,825.09 L 283.21,824.79 L 283.21,824.44 L 283.22,824.05 L 283.23,823.62 L 283.24,823.15 L 283.25,822.65 L 283.26,822.11 L 283.27,821.55 L 283.28,820.96 L 283.30,820.34 L 283.31,819.69 L 283.33,819.02 L 283.35,818.33 L 283.37,817.61 L 283.39,816.88 L 283.41,816.12 L 283.43,815.35 L 283.45,814.56 L 283.48,813.75 L 283.50,812.92 L 283.53,812.08 L 283.56,811.23 L 283.59,810.36 L 283.62,809.48 L 283.65,808.59 L 283.68,807.68 L 283.72,806.77 L 283.75,805.85 L 283.79,804.91 L 283.83,803.97 L 283.87,803.02 L 283.91,802.07 L 283.95,801.10 L 283.99,800.13 L 284.03,799.16 L 284.08,798.18 L 284.12,797.19 L 284.17,796.21 L 284.22,795.22 L 284.27,794.22 L 284.32,793.22 L 284.37,792.23 L 284.42,791.23 L 284.47,790.22 L 284.53,789.22 L 284.58,788.22 L 284.64,787.22 L 284.70,786.22 L 284.76,785.22 L 284.82,784.22 L 284.88,783.22 L 284.94,782.23 L 285.01,781.24 L 285.07,780.25 L 285.14,779.26 L 285.21,778.28 L 285.28,777.30 L 285.35,776.33 L 285.42,775.35 L 285.49,774.39 L 285.56,773.43 L 285.64,772.47 L 285.71,771.52 L 285.79,770.58 L 285.87,769.64 L 285.94,768.70 L 286.02,767.77 L 286.11,766.85 L 286.19,765.94 L 286.27,765.03 L 286.36,764.13 L 286.44,763.24 L 286.53,762.35 L 286.62,761.47 L 286.71,760.60 L 286.80,759.74 L 286.89,758.88 L 286.98,758.03 L 287.08,757.19 L 287.17,756.36 L 287.27,755.54 L 287.37,754.72 L 287.46,753.92 L 287.56,753.12 L 287.66,752.33 L 287.77,751.55 L 287.87,750.77 L 287.97,750.01 L 288.08,749.25 L 288.19,748.51 L 288.29,747.77 L 288.40,747.04 L 288.51,746.32 L 288.62,745.61 L 288.74,744.91 L 288.85,744.21 L 288.97,743.53 L 289.08,742.86 L 289.20,742.19 L 289.32,741.53 L 289.44,740.88 L 289.56,740.24 L 289.68,739.61 L 289.80,738.99 L 289.92,738.38 L 290.05,737.78 L 290.18,737.18 L 290.30,736.59 L 290.43,736.02 L 290.56,735.45 L 290.69,734.89 L 290.82,734.34 L 290.96,733.79 L 291.09,733.26 L 291.23,732.73 L 291.36,732.22 L 291.50,731.71 L 291.64,731.20 L 291.78,730.71 L 291.92,730.23 L 292.06,729.75 L 292.21,729.28 L 292.35,728.82 L 292.50,728.37 L 292.65,727.92 L 292.79,727.49 L 292.94,727.06 L 293.09,726.64 L 293.25,726.22 L 293.40,725.81 L 293.55,725.41 L 293.71,725.02 L 293.86,724.64 L 294.02,724.26 L 294.18,723.89 L 294.34,723.52 L 294.50,723.17 L 294.66,722.82 L 294.83,722.47 L 294.99,722.14 L 295.15,721.81 L 295.32,721.48 L 295.49,721.16 L 295.66,720.85 L 295.83,720.55 L 296.00,720.25 L 296.17,719.96 L 296.35,719.67 L 296.52,719.39 L 296.70,719.11 L 296.87,718.84 L 297.05,718.58 L 297.23,718.32 L 297.41,718.07 L 297.59,717.82 L 297.78,717.58 L 297.96,717.34 L 298.14,717.11 L 298.33,716.88 L 298.52,716.66 L 298.71,716.44 L 298.90,716.23 L 299.09,716.02 L 299.28,715.81 L 299.47,715.61 L 299.67,715.42 L 299.86,715.23 L 300.06,715.04 L 300.26,714.86 L 300.45,714.68 L 300.65,714.51 L 300.86,714.34 L 301.06,714.18 L 301.26,714.01 L 301.47,713.86 L 301.67,713.70 L 301.88,713.55 L 302.09,713.40 L 302.30,713.26 L 302.51,713.12 L 302.72,712.98 L 302.93,712.85 L 303.15,712.72 L 303.36,712.59 L 303.58,712.47 L 303.79,712.35 L 304.01,712.23 L 304.23,712.12 L 304.45,712.00 L 304.68,711.89 L 304.90,711.79 L 305.12,711.68 L 305.35,711.58 L 305.57,711.48 L 305.80,711.39 L 306.03,711.29 L 306.26,711.20 L 306.49,711.11 L 306.72,711.03 L 306.96,710.94 L 307.19,710.86 L 307.43,710.78 L 307.67,710.70 L 307.90,710.63 L 308.14,710.55 L 308.38,710.48 L 308.62,710.41 L 308.87,710.34 L 309.11,710.28 L 309.36,710.21 L 309.60,710.15 L 309.85,710.09 L 310.10,710.03 L 310.35,709.97 L 310.60,709.91 L 310.85,709.86 L 311.10,709.80 L 311.36,709.75 L 311.61,709.70 L 311.87,709.65 L 312.13,709.61 L 312.39,709.56 L 312.65,709.52 L 312.91,709.47 L 313.17,709.43 L 313.43,709.39 L 313.70,709.35 L 313.96,709.31 L 314.23,709.27 L 314.50,709.23 L 314.77,709.20 L 315.04,709.16 L 315.31,709.13 L 315.58,709.10 L 315.86,709.07 L 316.13,709.04 L 316.41,709.01 L 316.69,708.98 L 316.96,708.95 L 317.24,708.92 L 317.52,708.90 L 317.81,708.87 L 318.09,708.84 L 318.37,708.82 L 318.66,708.80 L 318.95,708.77 L 319.23,708.75 L 319.52,708.73 L 319.81,708.71 L 320.10,708.69 L 320.40,708.67 L 320.69,708.65 L 320.98,708.63 L 321.28,708.62 L 321.58,708.60 L 321.87,708.58 L 322.17,708.57 L 322.47,708.55 L 322.78,708.54 L 323.08,708.52 L 323.38,708.51 L 323.69,708.49 L 323.99,708.48 L 324.30,708.47 L 324.61,708.45 L 324.92,708.44 L 325.23,708.43 L 325.54,708.42 L 325.85,708.41 L 326.17,708.40 L 326.48,708.39 L 326.80,708.38 L 327.12,708.37 L 327.44,708.36 L 327.76,708.35 L 328.08,708.34 L 328.40,708.33 L 328.72,708.32 L 329.05,708.32 L 329.37,708.31 L 329.70,708.30 L 330.03,708.29 L 330.36,708.29 L 330.69,708.28 L 331.02,708.27 L 331.35,708.27 L 331.69,708.26 L 332.02,708.26 L 332.36,708.25 L 332.69,708.25 L 333.03,708.24 L 333.37,708.24 L 333.71,708.23 L 334.05,708.23 L 334.40,708.22 L 334.74,708.22 L 335.09,708.21 L 364.74,708.10" fill="none" stroke="#c23ee0" stroke-width="1.8" stroke-linejoin="round" stroke-linecap="round"/><line x1="373.30" y1="721.90" x2="373.30" y2="807.20" stroke="#1a1a1a" stroke-width="1.5" /><line x1="373.30" y1="807.20" x2="457.70" y2="807.20" stroke="#1a1a1a" stroke-width="1.5" /><line x1="369.30" y1="721.90" x2="373.30" y2="721.90" stroke="#1a1a1a" stroke-width="1.3" /><text x="368.30" y="725.70" font-size="10.5" text-anchor="end" fill="#1a1a1a" >8</text><line x1="369.30" y1="743.20" x2="373.30" y2="743.20" stroke="#1a1a1a" stroke-width="1.3" /><text x="368.30" y="747.00" font-size="10.5" text-anchor="end" fill="#1a1a1a" >6</text><line x1="369.30" y1="764.60" x2="373.30" y2="764.60" stroke="#1a1a1a" stroke-width="1.3" /><text x="368.30" y="768.40" font-size="10.5" text-anchor="end" fill="#1a1a1a" >4</text><line x1="369.30" y1="785.90" x2="373.30" y2="785.90" stroke="#1a1a1a" stroke-width="1.3" /><text x="368.30" y="789.70" font-size="10.5" text-anchor="end" fill="#1a1a1a" >2</text><line x1="369.30" y1="807.20" x2="373.30" y2="807.20" stroke="#1a1a1a" stroke-width="1.3" /><text x="368.30" y="811.00" font-size="10.5" text-anchor="end" fill="#1a1a1a" >0</text><line x1="396.80" y1="807.20" x2="396.80" y2="811.20" stroke="#1a1a1a" stroke-width="1.3" /><line x1="433.30" y1="807.20" x2="433.30" y2="811.20" stroke="#1a1a1a" stroke-width="1.3" /><text x="397.20" y="821.30" font-size="10.5" text-anchor="middle" fill="#1a1a1a" >GF-NC</text><text x="438.60" y="821.30" font-size="10.5" text-anchor="middle" fill="#1a1a1a" >GF-HHE</text><text transform="translate(356.00,764.55) rotate(-90)" font-size="10.5" text-anchor="middle" fill="#1a1a1a">Frequency (Hz)</text><circle cx="397.14" cy="773.12" r="1.50" fill="#3d8fb0" /><circle cx="397.14" cy="783.18" r="1.50" fill="#3d8fb0" /><circle cx="392.27" cy="788.38" r="1.50" fill="#3d8fb0" /><circle cx="397.14" cy="788.38" r="1.50" fill="#3d8fb0" /><circle cx="402.50" cy="789.68" r="1.50" fill="#3d8fb0" /><circle cx="397.14" cy="792.92" r="1.50" fill="#3d8fb0" /><circle cx="392.27" cy="794.55" r="1.50" fill="#3d8fb0" /><circle cx="386.75" cy="797.79" r="1.50" fill="#3d8fb0" /><circle cx="391.95" cy="797.79" r="1.50" fill="#3d8fb0" /><circle cx="397.14" cy="797.79" r="1.50" fill="#3d8fb0" /><circle cx="402.50" cy="797.79" r="1.50" fill="#3d8fb0" /><circle cx="408.18" cy="797.79" r="1.50" fill="#3d8fb0" /><rect x="431.94" y="731.78" width="2.80" height="2.80" fill="#b84cd8" stroke="none" stroke-width="1" /><rect x="426.26" y="763.11" width="2.80" height="2.80" fill="#b84cd8" stroke="none" stroke-width="1" /><rect x="431.94" y="763.11" width="2.80" height="2.80" fill="#b84cd8" stroke="none" stroke-width="1" /><rect x="437.30" y="763.11" width="2.80" height="2.80" fill="#b84cd8" stroke="none" stroke-width="1" /><rect x="427.07" y="766.36" width="2.80" height="2.80" fill="#b84cd8" stroke="none" stroke-width="1" /><rect x="431.94" y="771.23" width="2.80" height="2.80" fill="#b84cd8" stroke="none" stroke-width="1" /><rect x="427.07" y="781.78" width="2.80" height="2.80" fill="#b84cd8" stroke="none" stroke-width="1" /><rect x="431.94" y="783.73" width="2.80" height="2.80" fill="#b84cd8" stroke="none" stroke-width="1" /><rect x="437.30" y="780.48" width="2.80" height="2.80" fill="#b84cd8" stroke="none" stroke-width="1" /><rect x="431.94" y="792.33" width="2.80" height="2.80" fill="#b84cd8" stroke="none" stroke-width="1" /><line x1="385.10" y1="791.30" x2="409.00" y2="791.30" stroke="#1a1a1a" stroke-width="1.5" /><line x1="396.80" y1="788.90" x2="396.80" y2="794.10" stroke="#1a1a1a" stroke-width="1.4" /><line x1="391.30" y1="788.90" x2="402.30" y2="788.90" stroke="#1a1a1a" stroke-width="1.4" /><line x1="391.30" y1="794.10" x2="402.30" y2="794.10" stroke="#1a1a1a" stroke-width="1.4" /><line x1="422.00" y1="772.30" x2="445.80" y2="772.30" stroke="#1a1a1a" stroke-width="1.5" /><line x1="433.30" y1="767.30" x2="433.30" y2="777.80" stroke="#1a1a1a" stroke-width="1.4" /><line x1="427.80" y1="767.30" x2="438.80" y2="767.30" stroke="#1a1a1a" stroke-width="1.4" /><line x1="427.80" y1="777.80" x2="438.80" y2="777.80" stroke="#1a1a1a" stroke-width="1.4" /><line x1="396.50" y1="728.80" x2="432.50" y2="728.80" stroke="#1a1a1a" stroke-width="1.3" /><text x="414.50" y="727.50" font-size="9" text-anchor="middle" fill="#1a1a1a" >**</text><text x="484.00" y="710.80" font-size="16" text-anchor="start" fill="#222" >n</text><line x1="516.90" y1="708.10" x2="516.90" y2="825.60" stroke="#1a1a1a" stroke-width="1.5" /><line x1="516.90" y1="825.60" x2="694.30" y2="825.60" stroke="#1a1a1a" stroke-width="1.5" /><line x1="512.40" y1="708.10" x2="516.90" y2="708.10" stroke="#1a1a1a" stroke-width="1.3" /><text x="511.40" y="711.90" font-size="10.5" text-anchor="end" fill="#1a1a1a" >1.0</text><line x1="512.40" y1="766.85" x2="516.90" y2="766.85" stroke="#1a1a1a" stroke-width="1.3" /><text x="511.40" y="770.65" font-size="10.5" text-anchor="end" fill="#1a1a1a" >0.5</text><line x1="512.40" y1="825.60" x2="516.90" y2="825.60" stroke="#1a1a1a" stroke-width="1.3" /><text x="511.40" y="829.40" font-size="10.5" text-anchor="end" fill="#1a1a1a" >0.0</text><line x1="513.90" y1="737.48" x2="516.90" y2="737.48" stroke="#1a1a1a" stroke-width="1.2" /><line x1="513.90" y1="796.23" x2="516.90" y2="796.23" stroke="#1a1a1a" stroke-width="1.2" /><line x1="516.40" y1="825.60" x2="516.40" y2="830.10" stroke="#1a1a1a" stroke-width="1.3" /><text x="516.40" y="841.30" font-size="10.5" text-anchor="middle" fill="#1a1a1a" >0</text><line x1="546.30" y1="825.60" x2="546.30" y2="830.10" stroke="#1a1a1a" stroke-width="1.3" /><text x="546.30" y="841.30" font-size="10.5" text-anchor="middle" fill="#1a1a1a" >20</text><line x1="575.90" y1="825.60" x2="575.90" y2="830.10" stroke="#1a1a1a" stroke-width="1.3" /><text x="575.90" y="841.30" font-size="10.5" text-anchor="middle" fill="#1a1a1a" >40</text><line x1="605.20" y1="825.60" x2="605.20" y2="830.10" stroke="#1a1a1a" stroke-width="1.3" /><text x="605.20" y="841.30" font-size="10.5" text-anchor="middle" fill="#1a1a1a" >60</text><line x1="634.80" y1="825.60" x2="634.80" y2="830.10" stroke="#1a1a1a" stroke-width="1.3" /><text x="634.80" y="841.30" font-size="10.5" text-anchor="middle" fill="#1a1a1a" >80</text><line x1="664.40" y1="825.60" x2="664.40" y2="830.10" stroke="#1a1a1a" stroke-width="1.3" /><text x="664.40" y="841.30" font-size="10.5" text-anchor="middle" fill="#1a1a1a" >100</text><line x1="694.30" y1="825.60" x2="694.30" y2="830.10" stroke="#1a1a1a" stroke-width="1.3" /><text x="694.30" y="841.30" font-size="10.5" text-anchor="middle" fill="#1a1a1a" >120</text><line x1="531.35" y1="825.60" x2="531.35" y2="828.60" stroke="#1a1a1a" stroke-width="1.2" /><line x1="561.10" y1="825.60" x2="561.10" y2="828.60" stroke="#1a1a1a" stroke-width="1.2" /><line x1="590.55" y1="825.60" x2="590.55" y2="828.60" stroke="#1a1a1a" stroke-width="1.2" /><line x1="620.00" y1="825.60" x2="620.00" y2="828.60" stroke="#1a1a1a" stroke-width="1.2" /><line x1="649.60" y1="825.60" x2="649.60" y2="828.60" stroke="#1a1a1a" stroke-width="1.2" /><line x1="679.35" y1="825.60" x2="679.35" y2="828.60" stroke="#1a1a1a" stroke-width="1.2" /><text x="606.50" y="854.80" font-size="10.5" text-anchor="middle" fill="#1a1a1a" >sEPSC Amplitude (pA)</text><text transform="translate(492.00,765.35) rotate(-90)" font-size="10.5" text-anchor="middle" fill="#1a1a1a">Cumulative Fraction</text><path d="M 516.90,825.60 L 516.90,825.60 L 516.90,825.60 L 516.91,825.60 L 516.91,825.60 L 516.92,825.60 L 516.92,825.60 L 516.93,825.60 L 516.94,825.60 L 516.95,825.60 L 516.97,825.60 L 516.98,825.60 L 516.99,825.60 L 517.01,825.60 L 517.03,825.60 L 517.05,825.60 L 517.07,825.60 L 517.09,825.60 L 517.11,825.60 L 517.14,825.60 L 517.16,825.60 L 517.19,825.60 L 517.22,825.60 L 517.25,825.60 L 517.28,825.60 L 517.31,825.60 L 517.35,825.60 L 517.38,825.60 L 517.42,825.60 L 517.45,825.60 L 517.49,825.60 L 517.53,825.60 L 517.57,825.60 L 517.62,825.60 L 517.66,825.60 L 517.71,825.60 L 517.75,825.60 L 517.80,825.60 L 517.85,825.60 L 517.90,825.60 L 517.95,825.60 L 518.01,825.60 L 518.06,825.60 L 518.12,825.60 L 518.18,825.60 L 518.23,825.60 L 518.29,825.60 L 518.36,825.60 L 518.42,825.60 L 518.48,825.60 L 518.55,825.60 L 518.61,825.60 L 518.68,825.60 L 518.75,825.60 L 518.82,825.60 L 518.89,825.60 L 518.97,825.60 L 519.04,825.60 L 519.12,825.60 L 519.19,825.60 L 519.27,825.60 L 519.35,825.60 L 519.43,825.60 L 519.52,825.60 L 519.60,825.60 L 519.68,825.60 L 519.77,825.60 L 519.86,825.60 L 519.95,825.60 L 520.04,825.60 L 520.13,825.60 L 520.22,825.60 L 520.32,825.60 L 520.41,825.60 L 520.51,825.60 L 520.61,825.60 L 520.71,825.60 L 520.81,825.60 L 520.91,825.56 L 521.01,824.54 L 521.12,823.31 L 521.22,821.99 L 521.33,820.59 L 521.44,819.14 L 521.55,817.65 L 521.66,816.12 L 521.77,814.56 L 521.89,812.98 L 522.00,811.37 L 522.12,809.75 L 522.24,808.11 L 522.36,806.45 L 522.48,804.79 L 522.60,803.11 L 522.72,801.43 L 522.85,799.75 L 522.97,798.06 L 523.10,796.37 L 523.23,794.68 L 523.36,792.99 L 523.49,791.31 L 523.62,789.63 L 523.76,787.95 L 523.89,786.29 L 524.03,784.63 L 524.16,782.97 L 524.30,781.33 L 524.44,779.70 L 524.59,778.09 L 524.73,776.48 L 524.87,774.89 L 525.02,773.31 L 525.17,771.75 L 525.31,770.20 L 525.46,768.68 L 525.61,767.16 L 525.77,765.67 L 525.92,764.20 L 526.07,762.74 L 526.23,761.30 L 526.39,759.89 L 526.55,758.49 L 526.71,757.11 L 526.87,755.76 L 527.03,754.43 L 527.20,753.11 L 527.36,751.83 L 527.53,750.56 L 527.70,749.31 L 527.86,748.09 L 528.04,746.89 L 528.21,745.72 L 528.38,744.56 L 528.56,743.43 L 528.73,742.33 L 528.91,741.24 L 529.09,740.18 L 529.27,739.15 L 529.45,738.13 L 529.63,737.14 L 529.81,736.17 L 530.00,735.23 L 530.19,734.31 L 530.37,733.40 L 530.56,732.53 L 530.75,731.67 L 530.94,730.84 L 531.14,730.03 L 531.33,729.24 L 531.53,728.47 L 531.73,727.72 L 531.92,726.99 L 532.12,726.28 L 532.32,725.60 L 532.53,724.93 L 532.73,724.28 L 532.93,723.66 L 533.14,723.05 L 533.35,722.46 L 533.56,721.89 L 533.77,721.33 L 533.98,720.80 L 534.19,720.28 L 534.41,719.78 L 534.62,719.29 L 534.84,718.82 L 535.06,718.37 L 535.28,717.93 L 535.50,717.51 L 535.72,717.10 L 535.94,716.71 L 536.17,716.33 L 536.39,715.97 L 536.62,715.62 L 536.85,715.28 L 537.08,714.95 L 537.31,714.64 L 537.54,714.34 L 537.78,714.05 L 538.01,713.77 L 538.25,713.50 L 538.49,713.25 L 538.73,713.00 L 538.97,712.77 L 539.21,712.54 L 539.45,712.32 L 539.69,712.11 L 539.94,711.92 L 540.19,711.73 L 540.44,711.54 L 540.69,711.37 L 540.94,711.20 L 541.19,711.04 L 541.44,710.89 L 541.70,710.75 L 541.95,710.61 L 542.21,710.47 L 542.47,710.35 L 542.73,710.23 L 542.99,710.11 L 543.26,710.00 L 543.52,709.90 L 543.79,709.80 L 544.05,709.71 L 544.32,709.62 L 544.59,709.53 L 544.86,709.45 L 545.13,709.38 L 545.41,709.30 L 545.68,709.23 L 545.96,709.17 L 546.23,709.11 L 546.51,709.05 L 546.79,708.99 L 547.07,708.94 L 547.36,708.89 L 547.64,708.84 L 547.93,708.80 L 548.21,708.75 L 548.50,708.71 L 548.79,708.68 L 549.08,708.64 L 549.37,708.61 L 549.67,708.58 L 549.96,708.55 L 550.26,708.52 L 550.55,708.49 L 550.85,708.47 L 551.15,708.44 L 551.45,708.42 L 551.76,708.40 L 552.06,708.38 L 552.36,708.36 L 552.67,708.34 L 552.98,708.33 L 553.29,708.31 L 553.60,708.30 L 553.91,708.29 L 554.22,708.27 L 554.54,708.26 L 554.85,708.25 L 555.17,708.24 L 555.49,708.23 L 555.81,708.22 L 556.13,708.21 L 556.45,708.20 L 556.77,708.20 L 557.10,708.19 L 557.42,708.18 L 557.75,708.18 L 558.08,708.17 L 558.41,708.17 L 558.74,708.16 L 559.07,708.16 L 559.41,708.15 L 559.74,708.15 L 560.08,708.15 L 560.42,708.14 L 560.76,708.14 L 561.10,708.14 L 561.44,708.13 L 561.78,708.13 L 562.13,708.13 L 562.47,708.13 L 562.82,708.12 L 563.17,708.12 L 563.52,708.12 L 563.87,708.12 L 564.22,708.12 L 564.58,708.12 L 564.93,708.11 L 565.29,708.11 L 565.65,708.11 L 566.01,708.11 L 566.37,708.11 L 566.73,708.11 L 567.09,708.11 L 567.46,708.11 L 567.82,708.11 L 568.19,708.11 L 568.56,708.11 L 568.93,708.11 L 569.30,708.11 L 569.67,708.10 L 570.04,708.10 L 570.42,708.10 L 570.79,708.10 L 571.17,708.10 L 571.55,708.10 L 571.93,708.10 L 572.31,708.10 L 572.70,708.10 L 573.08,708.10 L 573.46,708.10 L 573.85,708.10 L 574.24,708.10 L 574.63,708.10 L 575.02,708.10 L 575.41,708.10 L 575.81,708.10 L 576.20,708.10 L 576.20,708.10" fill="none" stroke="#c23ee0" stroke-width="1.8" stroke-linejoin="round" stroke-linecap="round"/><path d="M 516.90,825.60 L 516.90,825.60 L 516.90,825.60 L 516.91,825.60 L 516.91,825.60 L 516.92,825.60 L 516.92,825.60 L 516.93,825.60 L 516.94,825.60 L 516.95,825.60 L 516.97,825.60 L 516.98,825.60 L 516.99,825.60 L 517.01,825.60 L 517.03,825.60 L 517.05,825.60 L 517.07,825.60 L 517.09,825.60 L 517.11,825.60 L 517.14,825.60 L 517.16,825.60 L 517.19,825.60 L 517.22,825.60 L 517.25,825.60 L 517.28,825.60 L 517.31,825.60 L 517.35,825.60 L 517.38,825.60 L 517.42,825.60 L 517.45,825.60 L 517.49,825.60 L 517.53,825.60 L 517.57,825.60 L 517.62,825.60 L 517.66,825.60 L 517.71,825.60 L 517.75,825.60 L 517.80,825.60 L 517.85,825.60 L 517.90,825.60 L 517.95,825.60 L 518.01,825.60 L 518.06,825.60 L 518.12,825.60 L 518.18,825.60 L 518.23,825.60 L 518.29,825.60 L 518.36,825.60 L 518.42,825.60 L 518.48,825.60 L 518.55,825.60 L 518.61,825.60 L 518.68,825.60 L 518.75,825.60 L 518.82,825.60 L 518.89,825.60 L 518.97,825.60 L 519.04,825.60 L 519.12,825.60 L 519.19,825.60 L 519.27,825.60 L 519.35,825.60 L 519.43,825.60 L 519.52,825.60 L 519.60,825.60 L 519.68,825.60 L 519.77,825.60 L 519.86,825.60 L 519.95,825.60 L 520.04,825.60 L 520.13,825.60 L 520.22,825.60 L 520.32,825.60 L 520.41,825.60 L 520.51,825.60 L 520.61,825.60 L 520.71,825.60 L 520.81,825.60 L 520.91,825.56 L 521.01,824.42 L 521.12,823.05 L 521.22,821.58 L 521.33,820.03 L 521.44,818.42 L 521.55,816.76 L 521.66,815.07 L 521.77,813.35 L 521.89,811.61 L 522.00,809.84 L 522.12,808.05 L 522.24,806.25 L 522.36,804.44 L 522.48,802.63 L 522.60,800.80 L 522.72,798.98 L 522.85,797.15 L 522.97,795.32 L 523.10,793.49 L 523.23,791.67 L 523.36,789.86 L 523.49,788.05 L 523.62,786.25 L 523.76,784.46 L 523.89,782.68 L 524.03,780.92 L 524.16,779.17 L 524.30,777.43 L 524.44,775.71 L 524.59,774.01 L 524.73,772.32 L 524.87,770.66 L 525.02,769.01 L 525.17,767.39 L 525.31,765.78 L 525.46,764.20 L 525.61,762.64 L 525.77,761.10 L 525.92,759.59 L 526.07,758.10 L 526.23,756.64 L 526.39,755.20 L 526.55,753.78 L 526.71,752.39 L 526.87,751.03 L 527.03,749.69 L 527.20,748.38 L 527.36,747.09 L 527.53,745.84 L 527.70,744.60 L 527.86,743.40 L 528.04,742.22 L 528.21,741.07 L 528.38,739.94 L 528.56,738.84 L 528.73,737.77 L 528.91,736.72 L 529.09,735.70 L 529.27,734.71 L 529.45,733.74 L 529.63,732.80 L 529.81,731.88 L 530.00,730.99 L 530.19,730.12 L 530.37,729.28 L 530.56,728.46 L 530.75,727.67 L 530.94,726.90 L 531.14,726.15 L 531.33,725.43 L 531.53,724.72 L 531.73,724.04 L 531.92,723.39 L 532.12,722.75 L 532.32,722.13 L 532.53,721.54 L 532.73,720.96 L 532.93,720.41 L 533.14,719.87 L 533.35,719.35 L 533.56,718.86 L 533.77,718.38 L 533.98,717.91 L 534.19,717.47 L 534.41,717.04 L 534.62,716.62 L 534.84,716.23 L 535.06,715.84 L 535.28,715.48 L 535.50,715.13 L 535.72,714.79 L 535.94,714.46 L 536.17,714.15 L 536.39,713.85 L 536.62,713.57 L 536.85,713.29 L 537.08,713.03 L 537.31,712.78 L 537.54,712.54 L 537.78,712.31 L 538.01,712.09 L 538.25,711.88 L 538.49,711.68 L 538.73,711.49 L 538.97,711.31 L 539.21,711.14 L 539.45,710.97 L 539.69,710.82 L 539.94,710.67 L 540.19,710.52 L 540.44,710.39 L 540.69,710.26 L 540.94,710.14 L 541.19,710.02 L 541.44,709.91 L 541.70,709.80 L 541.95,709.71 L 542.21,709.61 L 542.47,709.52 L 542.73,709.44 L 542.99,709.36 L 543.26,709.28 L 543.52,709.21 L 543.79,709.14 L 544.05,709.08 L 544.32,709.02 L 544.59,708.96 L 544.86,708.91 L 545.13,708.86 L 545.41,708.81 L 545.68,708.76 L 545.96,708.72 L 546.23,708.68 L 546.51,708.64 L 546.79,708.61 L 547.07,708.57 L 547.36,708.54 L 547.64,708.51 L 547.93,708.48 L 548.21,708.46 L 548.50,708.43 L 548.79,708.41 L 549.08,708.39 L 549.37,708.37 L 549.67,708.35 L 549.96,708.33 L 550.26,708.32 L 550.55,708.30 L 550.85,708.29 L 551.15,708.27 L 551.45,708.26 L 551.76,708.25 L 552.06,708.24 L 552.36,708.23 L 552.67,708.22 L 552.98,708.21 L 553.29,708.20 L 553.60,708.19 L 553.91,708.19 L 554.22,708.18 L 554.54,708.17 L 554.85,708.17 L 555.17,708.16 L 555.49,708.16 L 555.81,708.15 L 556.13,708.15 L 556.45,708.15 L 556.77,708.14 L 557.10,708.14 L 557.42,708.14 L 557.75,708.13 L 558.08,708.13 L 558.41,708.13 L 558.74,708.13 L 559.07,708.12 L 559.41,708.12 L 559.74,708.12 L 560.08,708.12 L 560.42,708.12 L 560.76,708.12 L 561.10,708.11 L 561.44,708.11 L 561.78,708.11 L 562.13,708.11 L 562.47,708.11 L 562.82,708.11 L 563.17,708.11 L 563.52,708.11 L 563.87,708.11 L 564.22,708.11 L 564.58,708.11 L 564.93,708.11 L 565.29,708.10 L 565.65,708.10 L 566.01,708.10 L 566.37,708.10 L 566.73,708.10 L 567.09,708.10 L 567.46,708.10 L 567.82,708.10 L 568.19,708.10 L 568.56,708.10 L 568.93,708.10 L 569.30,708.10 L 569.67,708.10 L 570.04,708.10 L 570.42,708.10 L 570.79,708.10 L 571.17,708.10 L 571.55,708.10 L 571.93,708.10 L 572.31,708.10 L 572.70,708.10 L 573.08,708.10 L 573.46,708.10 L 573.85,708.10 L 574.24,708.10 L 574.63,708.10 L 575.02,708.10 L 575.41,708.10 L 575.81,708.10 L 576.20,708.10 L 664.41,708.10" fill="none" stroke="#5c58b4" stroke-width="1.8" stroke-linejoin="round" stroke-linecap="round"/><line x1="607.50" y1="721.80" x2="607.50" y2="807.20" stroke="#1a1a1a" stroke-width="1.5" /><line x1="607.50" y1="807.20" x2="691.90" y2="807.20" stroke="#1a1a1a" stroke-width="1.5" /><line x1="603.50" y1="721.80" x2="607.50" y2="721.80" stroke="#1a1a1a" stroke-width="1.3" /><text x="602.50" y="725.60" font-size="10.5" text-anchor="end" fill="#1a1a1a" >12</text><line x1="603.50" y1="750.20" x2="607.50" y2="750.20" stroke="#1a1a1a" stroke-width="1.3" /><text x="602.50" y="754.00" font-size="10.5" text-anchor="end" fill="#1a1a1a" >10</text><line x1="603.50" y1="778.30" x2="607.50" y2="778.30" stroke="#1a1a1a" stroke-width="1.3" /><text x="602.50" y="782.10" font-size="10.5" text-anchor="end" fill="#1a1a1a" >8</text><line x1="603.50" y1="807.20" x2="607.50" y2="807.20" stroke="#1a1a1a" stroke-width="1.3" /><text x="602.50" y="811.00" font-size="10.5" text-anchor="end" fill="#1a1a1a" >6</text><line x1="631.00" y1="807.20" x2="631.00" y2="811.20" stroke="#1a1a1a" stroke-width="1.3" /><line x1="667.50" y1="807.20" x2="667.50" y2="811.20" stroke="#1a1a1a" stroke-width="1.3" /><text x="629.80" y="821.30" font-size="10.5" text-anchor="middle" fill="#1a1a1a" >GF-NC</text><text x="671.50" y="821.30" font-size="10.5" text-anchor="middle" fill="#1a1a1a" >GF-HHE</text><text transform="translate(588.30,764.50) rotate(-90)" font-size="10.5" text-anchor="middle" fill="#1a1a1a">Amplitude (pA)</text><circle cx="631.01" cy="762.40" r="1.50" fill="#3d8fb0" /><circle cx="625.32" cy="771.33" r="1.50" fill="#3d8fb0" /><circle cx="631.01" cy="769.38" r="1.50" fill="#3d8fb0" /><circle cx="631.49" cy="772.63" r="1.50" fill="#3d8fb0" /><circle cx="631.01" cy="776.69" r="1.50" fill="#3d8fb0" /><circle cx="631.01" cy="780.75" r="1.50" fill="#3d8fb0" /><circle cx="625.32" cy="789.68" r="1.50" fill="#3d8fb0" /><circle cx="631.01" cy="791.30" r="1.50" fill="#3d8fb0" /><circle cx="631.01" cy="799.90" r="1.50" fill="#3d8fb0" /><rect x="666.13" y="729.02" width="2.80" height="2.80" fill="#b84cd8" stroke="none" stroke-width="1" /><rect x="666.13" y="753.37" width="2.80" height="2.80" fill="#b84cd8" stroke="none" stroke-width="1" /><rect x="666.13" y="761.81" width="2.80" height="2.80" fill="#b84cd8" stroke="none" stroke-width="1" /><rect x="666.13" y="769.61" width="2.80" height="2.80" fill="#b84cd8" stroke="none" stroke-width="1" /><rect x="661.26" y="783.41" width="2.80" height="2.80" fill="#b84cd8" stroke="none" stroke-width="1" /><rect x="666.13" y="784.22" width="2.80" height="2.80" fill="#b84cd8" stroke="none" stroke-width="1" /><rect x="666.13" y="787.46" width="2.80" height="2.80" fill="#b84cd8" stroke="none" stroke-width="1" /><rect x="661.26" y="793.15" width="2.80" height="2.80" fill="#b84cd8" stroke="none" stroke-width="1" /><rect x="671.00" y="792.66" width="2.80" height="2.80" fill="#b84cd8" stroke="none" stroke-width="1" /><line x1="619.60" y1="779.40" x2="643.20" y2="779.40" stroke="#1a1a1a" stroke-width="1.5" /><line x1="631.00" y1="776.40" x2="631.00" y2="783.50" stroke="#1a1a1a" stroke-width="1.4" /><line x1="625.50" y1="776.40" x2="636.50" y2="776.40" stroke="#1a1a1a" stroke-width="1.4" /><line x1="625.50" y1="783.50" x2="636.50" y2="783.50" stroke="#1a1a1a" stroke-width="1.4" /><line x1="655.40" y1="774.30" x2="679.70" y2="774.30" stroke="#1a1a1a" stroke-width="1.5" /><line x1="667.50" y1="767.80" x2="667.50" y2="780.70" stroke="#1a1a1a" stroke-width="1.4" /><line x1="662.00" y1="767.80" x2="673.00" y2="767.80" stroke="#1a1a1a" stroke-width="1.4" /><line x1="662.00" y1="780.70" x2="673.00" y2="780.70" stroke="#1a1a1a" stroke-width="1.4" /><text x="247.20" y="862.00" font-size="16" text-anchor="start" fill="#222" >p</text><line x1="283.00" y1="869.50" x2="283.00" y2="986.90" stroke="#1a1a1a" stroke-width="1.5" /><line x1="283.00" y1="986.90" x2="460.20" y2="986.90" stroke="#1a1a1a" stroke-width="1.5" /><line x1="278.50" y1="869.50" x2="283.00" y2="869.50" stroke="#1a1a1a" stroke-width="1.3" /><text x="277.50" y="873.30" font-size="10.5" text-anchor="end" fill="#1a1a1a" >1.0</text><line x1="278.50" y1="928.20" x2="283.00" y2="928.20" stroke="#1a1a1a" stroke-width="1.3" /><text x="277.50" y="932.00" font-size="10.5" text-anchor="end" fill="#1a1a1a" >0.5</text><line x1="278.50" y1="986.90" x2="283.00" y2="986.90" stroke="#1a1a1a" stroke-width="1.3" /><text x="277.50" y="990.70" font-size="10.5" text-anchor="end" fill="#1a1a1a" >0.0</text><line x1="280.00" y1="898.85" x2="283.00" y2="898.85" stroke="#1a1a1a" stroke-width="1.2" /><line x1="280.00" y1="957.55" x2="283.00" y2="957.55" stroke="#1a1a1a" stroke-width="1.2" /><line x1="283.00" y1="986.90" x2="283.00" y2="991.40" stroke="#1a1a1a" stroke-width="1.3" /><text x="283.00" y="1002.60" font-size="10.5" text-anchor="middle" fill="#1a1a1a" >0</text><line x1="318.00" y1="986.90" x2="318.00" y2="991.40" stroke="#1a1a1a" stroke-width="1.3" /><text x="318.00" y="1002.60" font-size="10.5" text-anchor="middle" fill="#1a1a1a" >1</text><line x1="353.50" y1="986.90" x2="353.50" y2="991.40" stroke="#1a1a1a" stroke-width="1.3" /><text x="353.50" y="1002.60" font-size="10.5" text-anchor="middle" fill="#1a1a1a" >2</text><line x1="389.10" y1="986.90" x2="389.10" y2="991.40" stroke="#1a1a1a" stroke-width="1.3" /><text x="389.10" y="1002.60" font-size="10.5" text-anchor="middle" fill="#1a1a1a" >3</text><line x1="424.80" y1="986.90" x2="424.80" y2="991.40" stroke="#1a1a1a" stroke-width="1.3" /><text x="424.80" y="1002.60" font-size="10.5" text-anchor="middle" fill="#1a1a1a" >4</text><line x1="460.20" y1="986.90" x2="460.20" y2="991.40" stroke="#1a1a1a" stroke-width="1.3" /><text x="460.20" y="1002.60" font-size="10.5" text-anchor="middle" fill="#1a1a1a" >5</text><line x1="300.50" y1="986.90" x2="300.50" y2="989.90" stroke="#1a1a1a" stroke-width="1.2" /><line x1="335.75" y1="986.90" x2="335.75" y2="989.90" stroke="#1a1a1a" stroke-width="1.2" /><line x1="371.30" y1="986.90" x2="371.30" y2="989.90" stroke="#1a1a1a" stroke-width="1.2" /><line x1="406.95" y1="986.90" x2="406.95" y2="989.90" stroke="#1a1a1a" stroke-width="1.2" /><line x1="442.50" y1="986.90" x2="442.50" y2="989.90" stroke="#1a1a1a" stroke-width="1.2" /><text x="373.50" y="1017.60" font-size="10.5" text-anchor="middle" fill="#1a1a1a" >sIPSC Inter-event Interval (s)</text><text transform="translate(258.00,928.20) rotate(-90)" font-size="10.5" text-anchor="middle" fill="#1a1a1a">Cumulative Fraction</text><path d="M 283.00,986.90 L 283.00,986.90 L 283.01,986.89 L 283.02,986.86 L 283.03,986.83 L 283.05,986.77 L 283.07,986.70 L 283.09,986.60 L 283.12,986.48 L 283.15,986.34 L 283.19,986.17 L 283.22,985.98 L 283.27,985.76 L 283.31,985.51 L 283.36,985.24 L 283.42,984.93 L 283.47,984.59 L 283.53,984.22 L 283.60,983.82 L 283.67,983.38 L 283.74,982.91 L 283.82,982.41 L 283.90,981.87 L 283.98,981.30 L 284.07,980.69 L 284.16,980.05 L 284.25,979.37 L 284.35,978.66 L 284.45,977.91 L 284.56,977.13 L 284.67,976.31 L 284.78,975.46 L 284.90,974.57 L 285.02,973.65 L 285.14,972.70 L 285.27,971.71 L 285.40,970.69 L 285.53,969.64 L 285.67,968.56 L 285.81,967.45 L 285.96,966.30 L 286.11,965.13 L 286.26,963.93 L 286.42,962.70 L 286.58,961.45 L 286.75,960.17 L 286.92,958.87 L 287.09,957.54 L 287.26,956.20 L 287.44,954.83 L 287.63,953.44 L 287.81,952.03 L 288.00,950.61 L 288.20,949.17 L 288.40,947.72 L 288.60,946.26 L 288.80,944.78 L 289.01,943.29 L 289.23,941.80 L 289.44,940.30 L 289.66,938.79 L 289.89,937.28 L 290.11,935.76 L 290.35,934.25 L 290.58,932.73 L 290.82,931.21 L 291.06,929.70 L 291.31,928.19 L 291.56,926.69 L 291.81,925.19 L 292.07,923.70 L 292.33,922.23 L 292.59,920.76 L 292.86,919.30 L 293.13,917.86 L 293.41,916.42 L 293.69,915.01 L 293.97,913.61 L 294.26,912.23 L 294.55,910.86 L 294.84,909.52 L 295.14,908.19 L 295.44,906.89 L 295.75,905.61 L 296.06,904.35 L 296.37,903.11 L 296.69,901.89 L 297.01,900.70 L 297.33,899.54 L 297.66,898.39 L 297.99,897.28 L 298.33,896.19 L 298.66,895.12 L 299.01,894.09 L 299.35,893.07 L 299.70,892.09 L 300.06,891.13 L 300.41,890.20 L 300.77,889.29 L 301.14,888.42 L 301.51,887.56 L 301.88,886.74 L 302.26,885.94 L 302.63,885.17 L 303.02,884.42 L 303.40,883.70 L 303.80,883.00 L 304.19,882.33 L 304.59,881.69 L 304.99,881.06 L 305.39,880.47 L 305.80,879.89 L 306.22,879.34 L 306.63,878.81 L 307.05,878.30 L 307.48,877.82 L 307.90,877.35 L 308.33,876.91 L 308.77,876.49 L 309.21,876.08 L 309.65,875.70 L 310.10,875.33 L 310.55,874.98 L 311.00,874.65 L 311.46,874.33 L 311.92,874.03 L 312.38,873.74 L 312.85,873.47 L 313.32,873.22 L 313.80,872.98 L 314.28,872.75 L 314.76,872.53 L 315.25,872.33 L 315.74,872.14 L 316.23,871.95 L 316.73,871.78 L 317.23,871.62 L 317.74,871.47 L 318.25,871.33 L 318.76,871.20 L 319.27,871.07 L 319.79,870.96 L 320.32,870.85 L 320.85,870.75 L 321.38,870.65 L 321.91,870.56 L 322.45,870.48 L 322.99,870.40 L 323.54,870.33 L 324.09,870.27 L 324.64,870.20 L 325.20,870.15 L 325.76,870.09 L 326.32,870.04 L 326.89,870.00 L 327.46,869.96 L 328.04,869.92 L 328.62,869.88 L 329.20,869.85 L 329.79,869.82 L 330.38,869.79 L 330.97,869.76 L 331.57,869.74 L 332.17,869.72 L 332.78,869.70 L 333.39,869.68 L 334.00,869.66 L 334.62,869.65 L 335.24,869.63 L 335.86,869.62 L 336.49,869.61 L 337.12,869.60 L 337.75,869.59 L 338.39,869.58 L 339.03,869.57 L 339.68,869.57 L 340.33,869.56 L 340.98,869.55 L 341.64,869.55 L 342.30,869.54 L 342.96,869.54 L 343.63,869.53 L 344.30,869.53 L 344.98,869.53 L 345.66,869.52 L 346.34,869.52 L 347.03,869.52 L 347.72,869.52 L 348.41,869.52 L 349.11,869.51 L 349.81,869.51 L 350.52,869.51 L 351.23,869.51 L 351.94,869.51 L 352.66,869.51 L 353.37,869.51 L 354.10,869.51 L 354.83,869.51 L 355.56,869.50 L 356.29,869.50 L 357.03,869.50 L 357.77,869.50 L 358.52,869.50 L 359.27,869.50 L 360.02,869.50 L 360.78,869.50 L 361.54,869.50 L 362.30,869.50 L 363.07,869.50 L 363.84,869.50 L 364.62,869.50 L 365.40,869.50 L 366.18,869.50 L 366.97,869.50 L 367.76,869.50 L 368.55,869.50 L 369.35,869.50 L 370.15,869.50 L 370.96,869.50 L 371.76,869.50 L 372.58,869.50 L 373.39,869.50 L 374.21,869.50 L 375.04,869.50 L 375.86,869.50 L 376.69,869.50 L 377.53,869.50 L 378.37,869.50 L 379.21,869.50 L 380.06,869.50 L 380.90,869.50 L 381.76,869.50 L 382.62,869.50 L 383.48,869.50 L 384.34,869.50 L 385.21,869.50 L 386.08,869.50 L 386.96,869.50 L 387.83,869.50 L 388.72,869.50 L 389.60,869.50 L 390.49,869.50 L 391.39,869.50 L 392.29,869.50 L 393.19,869.50 L 394.09,869.50 L 395.00,869.50 L 395.91,869.50 L 396.83,869.50 L 397.75,869.50 L 398.67,869.50 L 399.60,869.50 L 400.53,869.50 L 401.47,869.50 L 402.40,869.50 L 403.35,869.50 L 404.29,869.50 L 405.24,869.50 L 406.19,869.50 L 407.15,869.50 L 408.11,869.50 L 409.08,869.50 L 410.04,869.50 L 411.01,869.50 L 411.99,869.50 L 412.97,869.50 L 413.95,869.50 L 414.94,869.50 L 415.93,869.50 L 416.92,869.50 L 417.92,869.50 L 418.92,869.50 L 419.93,869.50 L 420.93,869.50 L 421.95,869.50 L 422.96,869.50 L 423.98,869.50 L 425.01,869.50 L 426.03,869.50 L 427.06,869.50 L 428.10,869.50 L 429.14,869.50 L 430.18,869.50 L 431.23,869.50 L 432.27,869.50 L 433.33,869.50 L 434.38,869.50 L 435.44,869.50 L 436.51,869.50 L 437.58,869.50 L 438.65,869.50 L 439.72,869.50 L 440.80,869.50 L 441.89,869.50 L 442.97,869.50 L 444.06,869.50 L 445.16,869.50 L 446.25,869.50 L 447.35,869.50 L 448.46,869.50 L 449.57,869.50 L 449.57,869.50" fill="none" stroke="#c23ee0" stroke-width="2.2" stroke-linejoin="round" stroke-linecap="round"/><path d="M 283.00,986.90 L 283.00,986.90 L 283.01,986.88 L 283.02,986.86 L 283.03,986.82 L 283.05,986.75 L 283.07,986.67 L 283.09,986.56 L 283.12,986.43 L 283.15,986.27 L 283.19,986.08 L 283.22,985.86 L 283.27,985.61 L 283.31,985.33 L 283.36,985.02 L 283.42,984.67 L 283.47,984.29 L 283.53,983.87 L 283.60,983.41 L 283.67,982.92 L 283.74,982.39 L 283.82,981.83 L 283.90,981.22 L 283.98,980.58 L 284.07,979.89 L 284.16,979.17 L 284.25,978.41 L 284.35,977.61 L 284.45,976.78 L 284.56,975.90 L 284.67,974.99 L 284.78,974.03 L 284.90,973.05 L 285.02,972.02 L 285.14,970.96 L 285.27,969.86 L 285.40,968.73 L 285.53,967.56 L 285.67,966.36 L 285.81,965.13 L 285.96,963.87 L 286.11,962.57 L 286.26,961.25 L 286.42,959.90 L 286.58,958.53 L 286.75,957.13 L 286.92,955.70 L 287.09,954.26 L 287.26,952.79 L 287.44,951.30 L 287.63,949.80 L 287.81,948.28 L 288.00,946.74 L 288.20,945.20 L 288.40,943.64 L 288.60,942.07 L 288.80,940.49 L 289.01,938.90 L 289.23,937.31 L 289.44,935.72 L 289.66,934.13 L 289.89,932.53 L 290.11,930.94 L 290.35,929.35 L 290.58,927.77 L 290.82,926.19 L 291.06,924.62 L 291.31,923.06 L 291.56,921.51 L 291.81,919.97 L 292.07,918.44 L 292.33,916.93 L 292.59,915.44 L 292.86,913.96 L 293.13,912.51 L 293.41,911.07 L 293.69,909.65 L 293.97,908.26 L 294.26,906.89 L 294.55,905.54 L 294.84,904.21 L 295.14,902.92 L 295.44,901.64 L 295.75,900.40 L 296.06,899.18 L 296.37,897.99 L 296.69,896.83 L 297.01,895.69 L 297.33,894.59 L 297.66,893.51 L 297.99,892.46 L 298.33,891.44 L 298.66,890.46 L 299.01,889.50 L 299.35,888.57 L 299.70,887.67 L 300.06,886.80 L 300.41,885.96 L 300.77,885.14 L 301.14,884.36 L 301.51,883.61 L 301.88,882.88 L 302.26,882.18 L 302.63,881.51 L 303.02,880.86 L 303.40,880.24 L 303.80,879.65 L 304.19,879.08 L 304.59,878.53 L 304.99,878.01 L 305.39,877.52 L 305.80,877.04 L 306.22,876.59 L 306.63,876.16 L 307.05,875.75 L 307.48,875.36 L 307.90,874.99 L 308.33,874.64 L 308.77,874.31 L 309.21,874.00 L 309.65,873.70 L 310.10,873.42 L 310.55,873.15 L 311.00,872.90 L 311.46,872.67 L 311.92,872.45 L 312.38,872.24 L 312.85,872.04 L 313.32,871.86 L 313.80,871.68 L 314.28,871.52 L 314.76,871.37 L 315.25,871.23 L 315.74,871.10 L 316.23,870.97 L 316.73,870.86 L 317.23,870.75 L 317.74,870.65 L 318.25,870.56 L 318.76,870.47 L 319.27,870.39 L 319.79,870.32 L 320.32,870.25 L 320.85,870.18 L 321.38,870.13 L 321.91,870.07 L 322.45,870.02 L 322.99,869.98 L 323.54,869.93 L 324.09,869.89 L 324.64,869.86 L 325.20,869.83 L 325.76,869.80 L 326.32,869.77 L 326.89,869.74 L 327.46,869.72 L 328.04,869.70 L 328.62,869.68 L 329.20,869.66 L 329.79,869.65 L 330.38,869.63 L 330.97,869.62 L 331.57,869.61 L 332.17,869.60 L 332.78,869.59 L 333.39,869.58 L 334.00,869.57 L 334.62,869.56 L 335.24,869.55 L 335.86,869.55 L 336.49,869.54 L 337.12,869.54 L 337.75,869.53 L 338.39,869.53 L 339.03,869.53 L 339.68,869.52 L 340.33,869.52 L 340.98,869.52 L 341.64,869.52 L 342.30,869.51 L 342.96,869.51 L 343.63,869.51 L 344.30,869.51 L 344.98,869.51 L 345.66,869.51 L 346.34,869.51 L 347.03,869.51 L 347.72,869.51 L 348.41,869.50 L 349.11,869.50 L 349.81,869.50 L 350.52,869.50 L 351.23,869.50 L 351.94,869.50 L 352.66,869.50 L 353.37,869.50 L 354.10,869.50 L 354.83,869.50 L 355.56,869.50 L 356.29,869.50 L 357.03,869.50 L 357.77,869.50 L 358.52,869.50 L 359.27,869.50 L 360.02,869.50 L 360.78,869.50 L 361.54,869.50 L 362.30,869.50 L 363.07,869.50 L 363.84,869.50 L 364.62,869.50 L 365.40,869.50 L 366.18,869.50 L 366.97,869.50 L 367.76,869.50 L 368.55,869.50 L 369.35,869.50 L 370.15,869.50 L 370.96,869.50 L 371.76,869.50 L 372.58,869.50 L 373.39,869.50 L 374.21,869.50 L 375.04,869.50 L 375.86,869.50 L 376.69,869.50 L 377.53,869.50 L 378.37,869.50 L 379.21,869.50 L 380.06,869.50 L 380.90,869.50 L 381.76,869.50 L 382.62,869.50 L 383.48,869.50 L 384.34,869.50 L 385.21,869.50 L 386.08,869.50 L 386.96,869.50 L 387.83,869.50 L 388.72,869.50 L 389.60,869.50 L 390.49,869.50 L 391.39,869.50 L 392.29,869.50 L 393.19,869.50 L 394.09,869.50 L 395.00,869.50 L 395.91,869.50 L 396.83,869.50 L 397.75,869.50 L 398.67,869.50 L 399.60,869.50 L 400.53,869.50 L 401.47,869.50 L 402.40,869.50 L 403.35,869.50 L 404.29,869.50 L 405.24,869.50 L 406.19,869.50 L 407.15,869.50 L 408.11,869.50 L 409.08,869.50 L 410.04,869.50 L 411.01,869.50 L 411.99,869.50 L 412.97,869.50 L 413.95,869.50 L 414.94,869.50 L 415.93,869.50 L 416.92,869.50 L 417.92,869.50 L 418.92,869.50 L 419.93,869.50 L 420.93,869.50 L 421.95,869.50 L 422.96,869.50 L 423.98,869.50 L 425.01,869.50 L 426.03,869.50 L 427.06,869.50 L 428.10,869.50 L 429.14,869.50 L 430.18,869.50 L 431.23,869.50 L 432.27,869.50 L 433.33,869.50 L 434.38,869.50 L 435.44,869.50 L 436.51,869.50 L 437.58,869.50 L 438.65,869.50 L 439.72,869.50 L 440.80,869.50 L 441.89,869.50 L 442.97,869.50 L 444.06,869.50 L 445.16,869.50 L 446.25,869.50 L 447.35,869.50 L 448.46,869.50 L 449.57,869.50 L 449.57,869.50" fill="none" stroke="#5c58b4" stroke-width="2.0" stroke-linejoin="round" stroke-linecap="round"/><line x1="373.30" y1="885.10" x2="373.30" y2="970.80" stroke="#1a1a1a" stroke-width="1.5" /><line x1="373.30" y1="970.80" x2="458.50" y2="970.80" stroke="#1a1a1a" stroke-width="1.5" /><line x1="369.30" y1="885.10" x2="373.30" y2="885.10" stroke="#1a1a1a" stroke-width="1.3" /><text x="368.30" y="888.90" font-size="10.5" text-anchor="end" fill="#1a1a1a" >6</text><line x1="369.30" y1="913.60" x2="373.30" y2="913.60" stroke="#1a1a1a" stroke-width="1.3" /><text x="368.30" y="917.40" font-size="10.5" text-anchor="end" fill="#1a1a1a" >4</text><line x1="369.30" y1="942.40" x2="373.30" y2="942.40" stroke="#1a1a1a" stroke-width="1.3" /><text x="368.30" y="946.20" font-size="10.5" text-anchor="end" fill="#1a1a1a" >2</text><line x1="369.30" y1="970.80" x2="373.30" y2="970.80" stroke="#1a1a1a" stroke-width="1.3" /><text x="368.30" y="974.60" font-size="10.5" text-anchor="end" fill="#1a1a1a" >0</text><line x1="397.10" y1="970.80" x2="397.10" y2="974.80" stroke="#1a1a1a" stroke-width="1.3" /><line x1="433.80" y1="970.80" x2="433.80" y2="974.80" stroke="#1a1a1a" stroke-width="1.3" /><text x="396.80" y="984.00" font-size="10.5" text-anchor="middle" fill="#1a1a1a" >GF-NC</text><text x="437.50" y="984.00" font-size="10.5" text-anchor="middle" fill="#1a1a1a" >GF-HHE</text><text transform="translate(357.50,927.95) rotate(-90)" font-size="10.5" text-anchor="middle" fill="#1a1a1a">Frequency (Hz)</text><circle cx="392.27" cy="891.23" r="1.50" fill="#3d8fb0" /><circle cx="402.50" cy="891.72" r="1.50" fill="#3d8fb0" /><circle cx="397.14" cy="909.09" r="1.50" fill="#3d8fb0" /><circle cx="397.14" cy="913.96" r="1.50" fill="#3d8fb0" /><circle cx="397.14" cy="919.64" r="1.50" fill="#3d8fb0" /><circle cx="397.14" cy="928.57" r="1.50" fill="#3d8fb0" /><circle cx="392.27" cy="939.12" r="1.50" fill="#3d8fb0" /><circle cx="397.14" cy="934.25" r="1.50" fill="#3d8fb0" /><circle cx="402.50" cy="937.50" r="1.50" fill="#3d8fb0" /><rect x="432.43" y="889.02" width="2.80" height="2.80" fill="#b84cd8" stroke="none" stroke-width="1" /><rect x="437.63" y="917.11" width="2.80" height="2.80" fill="#b84cd8" stroke="none" stroke-width="1" /><rect x="432.43" y="919.05" width="2.80" height="2.80" fill="#b84cd8" stroke="none" stroke-width="1" /><rect x="427.56" y="922.30" width="2.80" height="2.80" fill="#b84cd8" stroke="none" stroke-width="1" /><rect x="432.43" y="923.92" width="2.80" height="2.80" fill="#b84cd8" stroke="none" stroke-width="1" /><rect x="432.43" y="927.17" width="2.80" height="2.80" fill="#b84cd8" stroke="none" stroke-width="1" /><rect x="427.56" y="930.42" width="2.80" height="2.80" fill="#b84cd8" stroke="none" stroke-width="1" /><rect x="432.43" y="931.23" width="2.80" height="2.80" fill="#b84cd8" stroke="none" stroke-width="1" /><rect x="432.43" y="938.54" width="2.80" height="2.80" fill="#b84cd8" stroke="none" stroke-width="1" /><rect x="432.43" y="948.60" width="2.80" height="2.80" fill="#b84cd8" stroke="none" stroke-width="1" /><line x1="386.30" y1="920.10" x2="409.80" y2="920.10" stroke="#1a1a1a" stroke-width="1.5" /><line x1="397.10" y1="914.30" x2="397.10" y2="925.80" stroke="#1a1a1a" stroke-width="1.4" /><line x1="391.60" y1="914.30" x2="402.60" y2="914.30" stroke="#1a1a1a" stroke-width="1.4" /><line x1="391.60" y1="925.80" x2="402.60" y2="925.80" stroke="#1a1a1a" stroke-width="1.4" /><line x1="422.00" y1="925.80" x2="445.80" y2="925.80" stroke="#1a1a1a" stroke-width="1.5" /><line x1="433.80" y1="921.00" x2="433.80" y2="930.70" stroke="#1a1a1a" stroke-width="1.4" /><line x1="428.30" y1="921.00" x2="439.30" y2="921.00" stroke="#1a1a1a" stroke-width="1.4" /><line x1="428.30" y1="930.70" x2="439.30" y2="930.70" stroke="#1a1a1a" stroke-width="1.4" /><text x="484.00" y="864.60" font-size="16" text-anchor="start" fill="#222" >q</text><line x1="516.70" y1="870.10" x2="516.70" y2="987.50" stroke="#1a1a1a" stroke-width="1.5" /><line x1="516.70" y1="987.50" x2="694.30" y2="987.50" stroke="#1a1a1a" stroke-width="1.5" /><line x1="512.20" y1="870.10" x2="516.70" y2="870.10" stroke="#1a1a1a" stroke-width="1.3" /><text x="511.20" y="873.90" font-size="10.5" text-anchor="end" fill="#1a1a1a" >1.0</text><line x1="512.20" y1="928.80" x2="516.70" y2="928.80" stroke="#1a1a1a" stroke-width="1.3" /><text x="511.20" y="932.60" font-size="10.5" text-anchor="end" fill="#1a1a1a" >0.5</text><line x1="512.20" y1="987.50" x2="516.70" y2="987.50" stroke="#1a1a1a" stroke-width="1.3" /><text x="511.20" y="991.30" font-size="10.5" text-anchor="end" fill="#1a1a1a" >0.0</text><line x1="513.70" y1="899.45" x2="516.70" y2="899.45" stroke="#1a1a1a" stroke-width="1.2" /><line x1="513.70" y1="958.15" x2="516.70" y2="958.15" stroke="#1a1a1a" stroke-width="1.2" /><line x1="516.70" y1="987.50" x2="516.70" y2="992.00" stroke="#1a1a1a" stroke-width="1.3" /><text x="516.70" y="1003.20" font-size="10.5" text-anchor="middle" fill="#1a1a1a" >0</text><line x1="541.90" y1="987.50" x2="541.90" y2="992.00" stroke="#1a1a1a" stroke-width="1.3" /><text x="541.90" y="1003.20" font-size="10.5" text-anchor="middle" fill="#1a1a1a" >50</text><line x1="567.30" y1="987.50" x2="567.30" y2="992.00" stroke="#1a1a1a" stroke-width="1.3" /><text x="567.30" y="1003.20" font-size="10.5" text-anchor="middle" fill="#1a1a1a" >100</text><line x1="592.70" y1="987.50" x2="592.70" y2="992.00" stroke="#1a1a1a" stroke-width="1.3" /><text x="592.70" y="1003.20" font-size="10.5" text-anchor="middle" fill="#1a1a1a" >150</text><line x1="618.00" y1="987.50" x2="618.00" y2="992.00" stroke="#1a1a1a" stroke-width="1.3" /><text x="618.00" y="1003.20" font-size="10.5" text-anchor="middle" fill="#1a1a1a" >200</text><line x1="643.30" y1="987.50" x2="643.30" y2="992.00" stroke="#1a1a1a" stroke-width="1.3" /><text x="643.30" y="1003.20" font-size="10.5" text-anchor="middle" fill="#1a1a1a" >250</text><line x1="669.00" y1="987.50" x2="669.00" y2="992.00" stroke="#1a1a1a" stroke-width="1.3" /><text x="669.00" y="1003.20" font-size="10.5" text-anchor="middle" fill="#1a1a1a" >300</text><line x1="694.30" y1="987.50" x2="694.30" y2="992.00" stroke="#1a1a1a" stroke-width="1.3" /><text x="694.30" y="1003.20" font-size="10.5" text-anchor="middle" fill="#1a1a1a" >350</text><line x1="529.30" y1="987.50" x2="529.30" y2="990.50" stroke="#1a1a1a" stroke-width="1.2" /><line x1="554.60" y1="987.50" x2="554.60" y2="990.50" stroke="#1a1a1a" stroke-width="1.2" /><line x1="580.00" y1="987.50" x2="580.00" y2="990.50" stroke="#1a1a1a" stroke-width="1.2" /><line x1="605.35" y1="987.50" x2="605.35" y2="990.50" stroke="#1a1a1a" stroke-width="1.2" /><line x1="630.65" y1="987.50" x2="630.65" y2="990.50" stroke="#1a1a1a" stroke-width="1.2" /><line x1="656.15" y1="987.50" x2="656.15" y2="990.50" stroke="#1a1a1a" stroke-width="1.2" /><line x1="681.65" y1="987.50" x2="681.65" y2="990.50" stroke="#1a1a1a" stroke-width="1.2" /><text x="609.60" y="1017.60" font-size="10.5" text-anchor="middle" fill="#1a1a1a" >sIPSC Amplitude (pA)</text><text transform="translate(492.00,928.80) rotate(-90)" font-size="10.5" text-anchor="middle" fill="#1a1a1a">Cumulative Fraction</text><path d="M 516.70,987.50 L 516.70,987.50 L 516.71,987.50 L 516.72,987.50 L 516.73,987.50 L 516.74,987.50 L 516.76,987.50 L 516.78,987.50 L 516.81,987.50 L 516.84,987.50 L 516.87,987.50 L 516.90,987.50 L 516.94,987.50 L 516.99,987.50 L 517.03,987.50 L 517.08,987.50 L 517.13,987.50 L 517.19,987.50 L 517.25,987.50 L 517.31,987.50 L 517.38,987.50 L 517.45,987.50 L 517.52,987.50 L 517.59,987.50 L 517.67,987.50 L 517.76,987.50 L 517.84,987.50 L 517.93,987.50 L 518.03,987.50 L 518.12,987.50 L 518.22,987.50 L 518.33,987.50 L 518.43,987.50 L 518.54,987.50 L 518.66,987.50 L 518.77,987.35 L 518.89,986.85 L 519.02,986.28 L 519.14,985.67 L 519.27,985.03 L 519.41,984.36 L 519.54,983.66 L 519.68,982.94 L 519.83,982.19 L 519.97,981.42 L 520.13,980.62 L 520.28,979.81 L 520.44,978.97 L 520.60,978.11 L 520.76,977.24 L 520.93,976.34 L 521.10,975.43 L 521.27,974.50 L 521.45,973.56 L 521.63,972.60 L 521.82,971.62 L 522.00,970.63 L 522.20,969.63 L 522.39,968.61 L 522.59,967.58 L 522.79,966.54 L 522.99,965.48 L 523.20,964.41 L 523.41,963.34 L 523.63,962.25 L 523.85,961.16 L 524.07,960.05 L 524.29,958.94 L 524.52,957.82 L 524.75,956.70 L 524.99,955.56 L 525.23,954.42 L 525.47,953.28 L 525.71,952.13 L 525.96,950.98 L 526.21,949.83 L 526.47,948.67 L 526.73,947.51 L 526.99,946.35 L 527.26,945.18 L 527.53,944.02 L 527.80,942.86 L 528.07,941.69 L 528.35,940.53 L 528.63,939.37 L 528.92,938.21 L 529.21,937.06 L 529.50,935.90 L 529.80,934.75 L 530.10,933.61 L 530.40,932.47 L 530.71,931.33 L 531.02,930.20 L 531.33,929.08 L 531.65,927.96 L 531.97,926.85 L 532.29,925.74 L 532.61,924.65 L 532.94,923.56 L 533.28,922.48 L 533.61,921.41 L 533.95,920.34 L 534.30,919.29 L 534.64,918.25 L 534.99,917.21 L 535.35,916.19 L 535.70,915.17 L 536.07,914.17 L 536.43,913.18 L 536.80,912.20 L 537.17,911.23 L 537.54,910.27 L 537.92,909.33 L 538.30,908.39 L 538.68,907.47 L 539.07,906.57 L 539.46,905.67 L 539.85,904.79 L 540.25,903.92 L 540.65,903.06 L 541.06,902.22 L 541.46,901.39 L 541.88,900.57 L 542.29,899.77 L 542.71,898.98 L 543.13,898.20 L 543.55,897.43 L 543.98,896.69 L 544.41,895.95 L 544.85,895.23 L 545.29,894.52 L 545.73,893.82 L 546.17,893.14 L 546.62,892.47 L 547.07,891.82 L 547.53,891.17 L 547.98,890.55 L 548.45,889.93 L 548.91,889.33 L 549.38,888.74 L 549.85,888.17 L 550.33,887.60 L 550.81,887.05 L 551.29,886.52 L 551.77,885.99 L 552.26,885.48 L 552.75,884.98 L 553.25,884.49 L 553.75,884.02 L 554.25,883.55 L 554.76,883.10 L 555.27,882.66 L 555.78,882.23 L 556.29,881.82 L 556.81,881.41 L 557.34,881.02 L 557.86,880.63 L 558.39,880.26 L 558.92,879.90 L 559.46,879.54 L 560.00,879.20 L 560.54,878.87 L 561.09,878.55 L 561.64,878.23 L 562.19,877.93 L 562.75,877.63 L 563.31,877.35 L 563.87,877.07 L 564.44,876.80 L 565.01,876.54 L 565.58,876.29 L 566.16,876.05 L 566.74,875.81 L 567.32,875.59 L 567.91,875.37 L 568.50,875.15 L 569.09,874.95 L 569.69,874.75 L 570.29,874.56 L 570.90,874.37 L 571.50,874.19 L 572.11,874.02 L 572.73,873.86 L 573.34,873.70 L 573.97,873.54 L 574.59,873.39 L 575.22,873.25 L 575.85,873.11 L 576.48,872.98 L 577.12,872.85 L 577.76,872.73 L 578.41,872.61 L 579.05,872.50 L 579.70,872.39 L 580.36,872.28 L 581.02,872.18 L 581.68,872.09 L 582.34,871.99 L 583.01,871.91 L 583.68,871.82 L 584.36,871.74 L 585.04,871.66 L 585.72,871.59 L 586.40,871.51 L 587.09,871.45 L 587.78,871.38 L 588.48,871.32 L 589.18,871.26 L 589.88,871.20 L 590.58,871.14 L 591.29,871.09 L 592.00,871.04 L 592.72,870.99 L 593.44,870.95 L 594.16,870.91 L 594.89,870.86 L 595.62,870.82 L 596.35,870.79 L 597.08,870.75 L 597.82,870.72 L 598.57,870.68 L 599.31,870.65 L 600.06,870.62 L 600.81,870.59 L 601.57,870.57 L 602.33,870.54 L 603.09,870.52 L 603.86,870.49 L 604.63,870.47 L 605.40,870.45 L 606.18,870.43 L 606.96,870.41 L 607.74,870.40 L 608.53,870.38 L 609.32,870.36 L 610.11,870.35 L 610.91,870.33 L 611.71,870.32 L 612.51,870.31 L 613.32,870.30 L 614.13,870.28 L 614.94,870.27 L 615.76,870.26 L 616.58,870.25 L 617.40,870.24 L 618.23,870.24 L 619.06,870.23 L 619.89,870.22 L 620.73,870.21 L 621.57,870.20 L 622.41,870.20 L 623.26,870.19 L 624.11,870.19 L 624.97,870.18 L 625.82,870.18 L 626.69,870.17 L 627.55,870.17 L 628.42,870.16 L 629.29,870.16 L 630.16,870.15 L 631.04,870.15 L 631.92,870.15 L 632.81,870.14 L 633.69,870.14 L 634.59,870.14 L 635.48,870.14 L 636.38,870.13 L 637.28,870.13 L 638.19,870.13 L 639.09,870.13 L 640.01,870.13 L 640.92,870.12 L 641.84,870.12 L 642.76,870.12 L 643.69,870.12 L 644.61,870.12 L 645.55,870.12 L 646.48,870.12 L 647.42,870.11 L 648.36,870.11 L 649.31,870.11 L 650.26,870.11 L 651.21,870.11 L 652.16,870.11 L 653.12,870.11 L 654.09,870.11 L 655.05,870.11 L 656.02,870.11 L 656.99,870.11 L 657.97,870.11 L 658.95,870.11 L 659.93,870.11 L 660.92,870.11 L 661.91,870.10 L 662.90,870.10 L 663.90,870.10 L 664.90,870.10 L 665.90,870.10 L 666.91,870.10 L 667.92,870.10 L 668.93,870.10 L 668.93,870.10" fill="none" stroke="#c23ee0" stroke-width="1.8" stroke-linejoin="round" stroke-linecap="round"/><path d="M 516.70,987.50 L 516.70,987.50 L 516.71,987.50 L 516.72,987.50 L 516.73,987.50 L 516.74,987.50 L 516.76,987.50 L 516.78,987.50 L 516.81,987.50 L 516.84,987.50 L 516.87,987.50 L 516.90,987.50 L 516.94,987.50 L 516.99,987.50 L 517.03,987.50 L 517.08,987.50 L 517.13,987.50 L 517.19,987.50 L 517.25,987.50 L 517.31,987.50 L 517.38,987.50 L 517.45,987.50 L 517.52,987.50 L 517.59,987.50 L 517.67,987.50 L 517.76,987.50 L 517.84,987.50 L 517.93,987.50 L 518.03,987.50 L 518.12,987.50 L 518.22,987.50 L 518.33,987.50 L 518.43,987.50 L 518.54,987.50 L 518.66,987.50 L 518.77,987.25 L 518.89,986.45 L 519.02,985.59 L 519.14,984.69 L 519.27,983.75 L 519.41,982.78 L 519.54,981.78 L 519.68,980.75 L 519.83,979.70 L 519.97,978.63 L 520.13,977.54 L 520.28,976.42 L 520.44,975.28 L 520.60,974.13 L 520.76,972.96 L 520.93,971.77 L 521.10,970.56 L 521.27,969.34 L 521.45,968.11 L 521.63,966.86 L 521.82,965.60 L 522.00,964.33 L 522.20,963.05 L 522.39,961.76 L 522.59,960.47 L 522.79,959.16 L 522.99,957.85 L 523.20,956.53 L 523.41,955.21 L 523.63,953.88 L 523.85,952.55 L 524.07,951.21 L 524.29,949.88 L 524.52,948.54 L 524.75,947.21 L 524.99,945.87 L 525.23,944.53 L 525.47,943.20 L 525.71,941.87 L 525.96,940.54 L 526.21,939.22 L 526.47,937.90 L 526.73,936.59 L 526.99,935.28 L 527.26,933.98 L 527.53,932.69 L 527.80,931.41 L 528.07,930.13 L 528.35,928.86 L 528.63,927.60 L 528.92,926.36 L 529.21,925.12 L 529.50,923.89 L 529.80,922.68 L 530.10,921.48 L 530.40,920.29 L 530.71,919.11 L 531.02,917.94 L 531.33,916.79 L 531.65,915.66 L 531.97,914.53 L 532.29,913.43 L 532.61,912.33 L 532.94,911.26 L 533.28,910.19 L 533.61,909.14 L 533.95,908.11 L 534.30,907.10 L 534.64,906.10 L 534.99,905.12 L 535.35,904.15 L 535.70,903.20 L 536.07,902.26 L 536.43,901.35 L 536.80,900.45 L 537.17,899.56 L 537.54,898.70 L 537.92,897.85 L 538.30,897.02 L 538.68,896.20 L 539.07,895.40 L 539.46,894.62 L 539.85,893.86 L 540.25,893.11 L 540.65,892.38 L 541.06,891.66 L 541.46,890.96 L 541.88,890.28 L 542.29,889.61 L 542.71,888.96 L 543.13,888.33 L 543.55,887.71 L 543.98,887.11 L 544.41,886.52 L 544.85,885.95 L 545.29,885.39 L 545.73,884.85 L 546.17,884.32 L 546.62,883.81 L 547.07,883.31 L 547.53,882.83 L 547.98,882.36 L 548.45,881.90 L 548.91,881.46 L 549.38,881.03 L 549.85,880.61 L 550.33,880.21 L 550.81,879.82 L 551.29,879.44 L 551.77,879.07 L 552.26,878.71 L 552.75,878.37 L 553.25,878.03 L 553.75,877.71 L 554.25,877.40 L 554.76,877.10 L 555.27,876.81 L 555.78,876.53 L 556.29,876.26 L 556.81,876.00 L 557.34,875.74 L 557.86,875.50 L 558.39,875.27 L 558.92,875.04 L 559.46,874.82 L 560.00,874.61 L 560.54,874.41 L 561.09,874.22 L 561.64,874.03 L 562.19,873.85 L 562.75,873.68 L 563.31,873.52 L 563.87,873.36 L 564.44,873.21 L 565.01,873.06 L 565.58,872.92 L 566.16,872.78 L 566.74,872.66 L 567.32,872.53 L 567.91,872.41 L 568.50,872.30 L 569.09,872.19 L 569.69,872.09 L 570.29,871.99 L 570.90,871.89 L 571.50,871.80 L 572.11,871.72 L 572.73,871.64 L 573.34,871.56 L 573.97,871.48 L 574.59,871.41 L 575.22,871.34 L 575.85,871.28 L 576.48,871.21 L 577.12,871.15 L 577.76,871.10 L 578.41,871.04 L 579.05,870.99 L 579.70,870.94 L 580.36,870.90 L 581.02,870.85 L 581.68,870.81 L 582.34,870.77 L 583.01,870.73 L 583.68,870.70 L 584.36,870.66 L 585.04,870.63 L 585.72,870.60 L 586.40,870.57 L 587.09,870.55 L 587.78,870.52 L 588.48,870.49 L 589.18,870.47 L 589.88,870.45 L 590.58,870.43 L 591.29,870.41 L 592.00,870.39 L 592.72,870.37 L 593.44,870.36 L 594.16,870.34 L 594.89,870.33 L 595.62,870.31 L 596.35,870.30 L 597.08,870.29 L 597.82,870.27 L 598.57,870.26 L 599.31,870.25 L 600.06,870.24 L 600.81,870.23 L 601.57,870.23 L 602.33,870.22 L 603.09,870.21 L 603.86,870.20 L 604.63,870.20 L 605.40,870.19 L 606.18,870.18 L 606.96,870.18 L 607.74,870.17 L 608.53,870.17 L 609.32,870.16 L 610.11,870.16 L 610.91,870.16 L 611.71,870.15 L 612.51,870.15 L 613.32,870.14 L 614.13,870.14 L 614.94,870.14 L 615.76,870.14 L 616.58,870.13 L 617.40,870.13 L 618.23,870.13 L 619.06,870.13 L 619.89,870.12 L 620.73,870.12 L 621.57,870.12 L 622.41,870.12 L 623.26,870.12 L 624.11,870.12 L 624.97,870.12 L 625.82,870.11 L 626.69,870.11 L 627.55,870.11 L 628.42,870.11 L 629.29,870.11 L 630.16,870.11 L 631.04,870.11 L 631.92,870.11 L 632.81,870.11 L 633.69,870.11 L 634.59,870.11 L 635.48,870.11 L 636.38,870.11 L 637.28,870.11 L 638.19,870.10 L 639.09,870.10 L 640.01,870.10 L 640.92,870.10 L 641.84,870.10 L 642.76,870.10 L 643.69,870.10 L 644.61,870.10 L 645.55,870.10 L 646.48,870.10 L 647.42,870.10 L 648.36,870.10 L 649.31,870.10 L 650.26,870.10 L 651.21,870.10 L 652.16,870.10 L 653.12,870.10 L 654.09,870.10 L 655.05,870.10 L 656.02,870.10 L 656.99,870.10 L 657.97,870.10 L 658.95,870.10 L 659.93,870.10 L 660.92,870.10 L 661.91,870.10 L 662.90,870.10 L 663.90,870.10 L 664.90,870.10 L 665.90,870.10 L 666.91,870.10 L 667.92,870.10 L 668.93,870.10 L 668.93,870.10" fill="none" stroke="#3f6a96" stroke-width="1.8" stroke-linejoin="round" stroke-linecap="round"/><line x1="606.20" y1="886.00" x2="606.20" y2="971.10" stroke="#1a1a1a" stroke-width="1.5" /><line x1="606.20" y1="971.10" x2="691.60" y2="971.10" stroke="#1a1a1a" stroke-width="1.5" /><line x1="602.20" y1="886.00" x2="606.20" y2="886.00" stroke="#1a1a1a" stroke-width="1.3" /><text x="601.20" y="889.80" font-size="10.5" text-anchor="end" fill="#1a1a1a" >60</text><line x1="602.20" y1="914.30" x2="606.20" y2="914.30" stroke="#1a1a1a" stroke-width="1.3" /><text x="601.20" y="918.10" font-size="10.5" text-anchor="end" fill="#1a1a1a" >40</text><line x1="602.20" y1="942.90" x2="606.20" y2="942.90" stroke="#1a1a1a" stroke-width="1.3" /><text x="601.20" y="946.70" font-size="10.5" text-anchor="end" fill="#1a1a1a" >20</text><line x1="602.20" y1="971.10" x2="606.20" y2="971.10" stroke="#1a1a1a" stroke-width="1.3" /><text x="601.20" y="974.90" font-size="10.5" text-anchor="end" fill="#1a1a1a" >0</text><line x1="630.50" y1="971.10" x2="630.50" y2="975.10" stroke="#1a1a1a" stroke-width="1.3" /><line x1="667.20" y1="971.10" x2="667.20" y2="975.10" stroke="#1a1a1a" stroke-width="1.3" /><text x="628.90" y="984.20" font-size="10.5" text-anchor="middle" fill="#1a1a1a" >GF-NC</text><text x="671.50" y="984.20" font-size="10.5" text-anchor="middle" fill="#1a1a1a" >GF-HHE</text><text transform="translate(585.00,928.55) rotate(-90)" font-size="10.5" text-anchor="middle" fill="#1a1a1a">Amplitude (pA)</text><circle cx="625.65" cy="902.92" r="1.50" fill="#3d8fb0" /><circle cx="631.01" cy="903.90" r="1.50" fill="#3d8fb0" /><circle cx="635.88" cy="901.30" r="1.50" fill="#3d8fb0" /><circle cx="631.01" cy="913.96" r="1.50" fill="#3d8fb0" /><circle cx="626.95" cy="918.02" r="1.50" fill="#3d8fb0" /><circle cx="631.01" cy="921.27" r="1.50" fill="#3d8fb0" /><circle cx="631.01" cy="923.70" r="1.50" fill="#3d8fb0" /><circle cx="625.65" cy="931.01" r="1.50" fill="#3d8fb0" /><circle cx="635.88" cy="931.01" r="1.50" fill="#3d8fb0" /><circle cx="631.01" cy="939.61" r="1.50" fill="#3d8fb0" /><rect x="665.81" y="898.28" width="2.80" height="2.80" fill="#b84cd8" stroke="none" stroke-width="1" /><rect x="660.94" y="903.63" width="2.80" height="2.80" fill="#b84cd8" stroke="none" stroke-width="1" /><rect x="665.81" y="904.12" width="2.80" height="2.80" fill="#b84cd8" stroke="none" stroke-width="1" /><rect x="671.00" y="903.15" width="2.80" height="2.80" fill="#b84cd8" stroke="none" stroke-width="1" /><rect x="660.94" y="908.02" width="2.80" height="2.80" fill="#b84cd8" stroke="none" stroke-width="1" /><rect x="665.81" y="908.99" width="2.80" height="2.80" fill="#b84cd8" stroke="none" stroke-width="1" /><rect x="671.00" y="908.50" width="2.80" height="2.80" fill="#b84cd8" stroke="none" stroke-width="1" /><rect x="660.94" y="911.75" width="2.80" height="2.80" fill="#b84cd8" stroke="none" stroke-width="1" /><rect x="665.81" y="912.56" width="2.80" height="2.80" fill="#b84cd8" stroke="none" stroke-width="1" /><rect x="671.00" y="914.18" width="2.80" height="2.80" fill="#b84cd8" stroke="none" stroke-width="1" /><rect x="665.81" y="918.73" width="2.80" height="2.80" fill="#b84cd8" stroke="none" stroke-width="1" /><line x1="619.20" y1="918.80" x2="642.90" y2="918.80" stroke="#1a1a1a" stroke-width="1.5" /><line x1="630.50" y1="914.30" x2="630.50" y2="923.20" stroke="#1a1a1a" stroke-width="1.4" /><line x1="625.00" y1="914.30" x2="636.00" y2="914.30" stroke="#1a1a1a" stroke-width="1.4" /><line x1="625.00" y1="923.20" x2="636.00" y2="923.20" stroke="#1a1a1a" stroke-width="1.4" /><line x1="655.40" y1="910.40" x2="679.20" y2="910.40" stroke="#1a1a1a" stroke-width="1.5" /><line x1="667.20" y1="908.30" x2="667.20" y2="912.70" stroke="#1a1a1a" stroke-width="1.4" /><line x1="661.70" y1="908.30" x2="672.70" y2="908.30" stroke="#1a1a1a" stroke-width="1.4" /><line x1="661.70" y1="912.70" x2="672.70" y2="912.70" stroke="#1a1a1a" stroke-width="1.4" />

</svg></body></html>
